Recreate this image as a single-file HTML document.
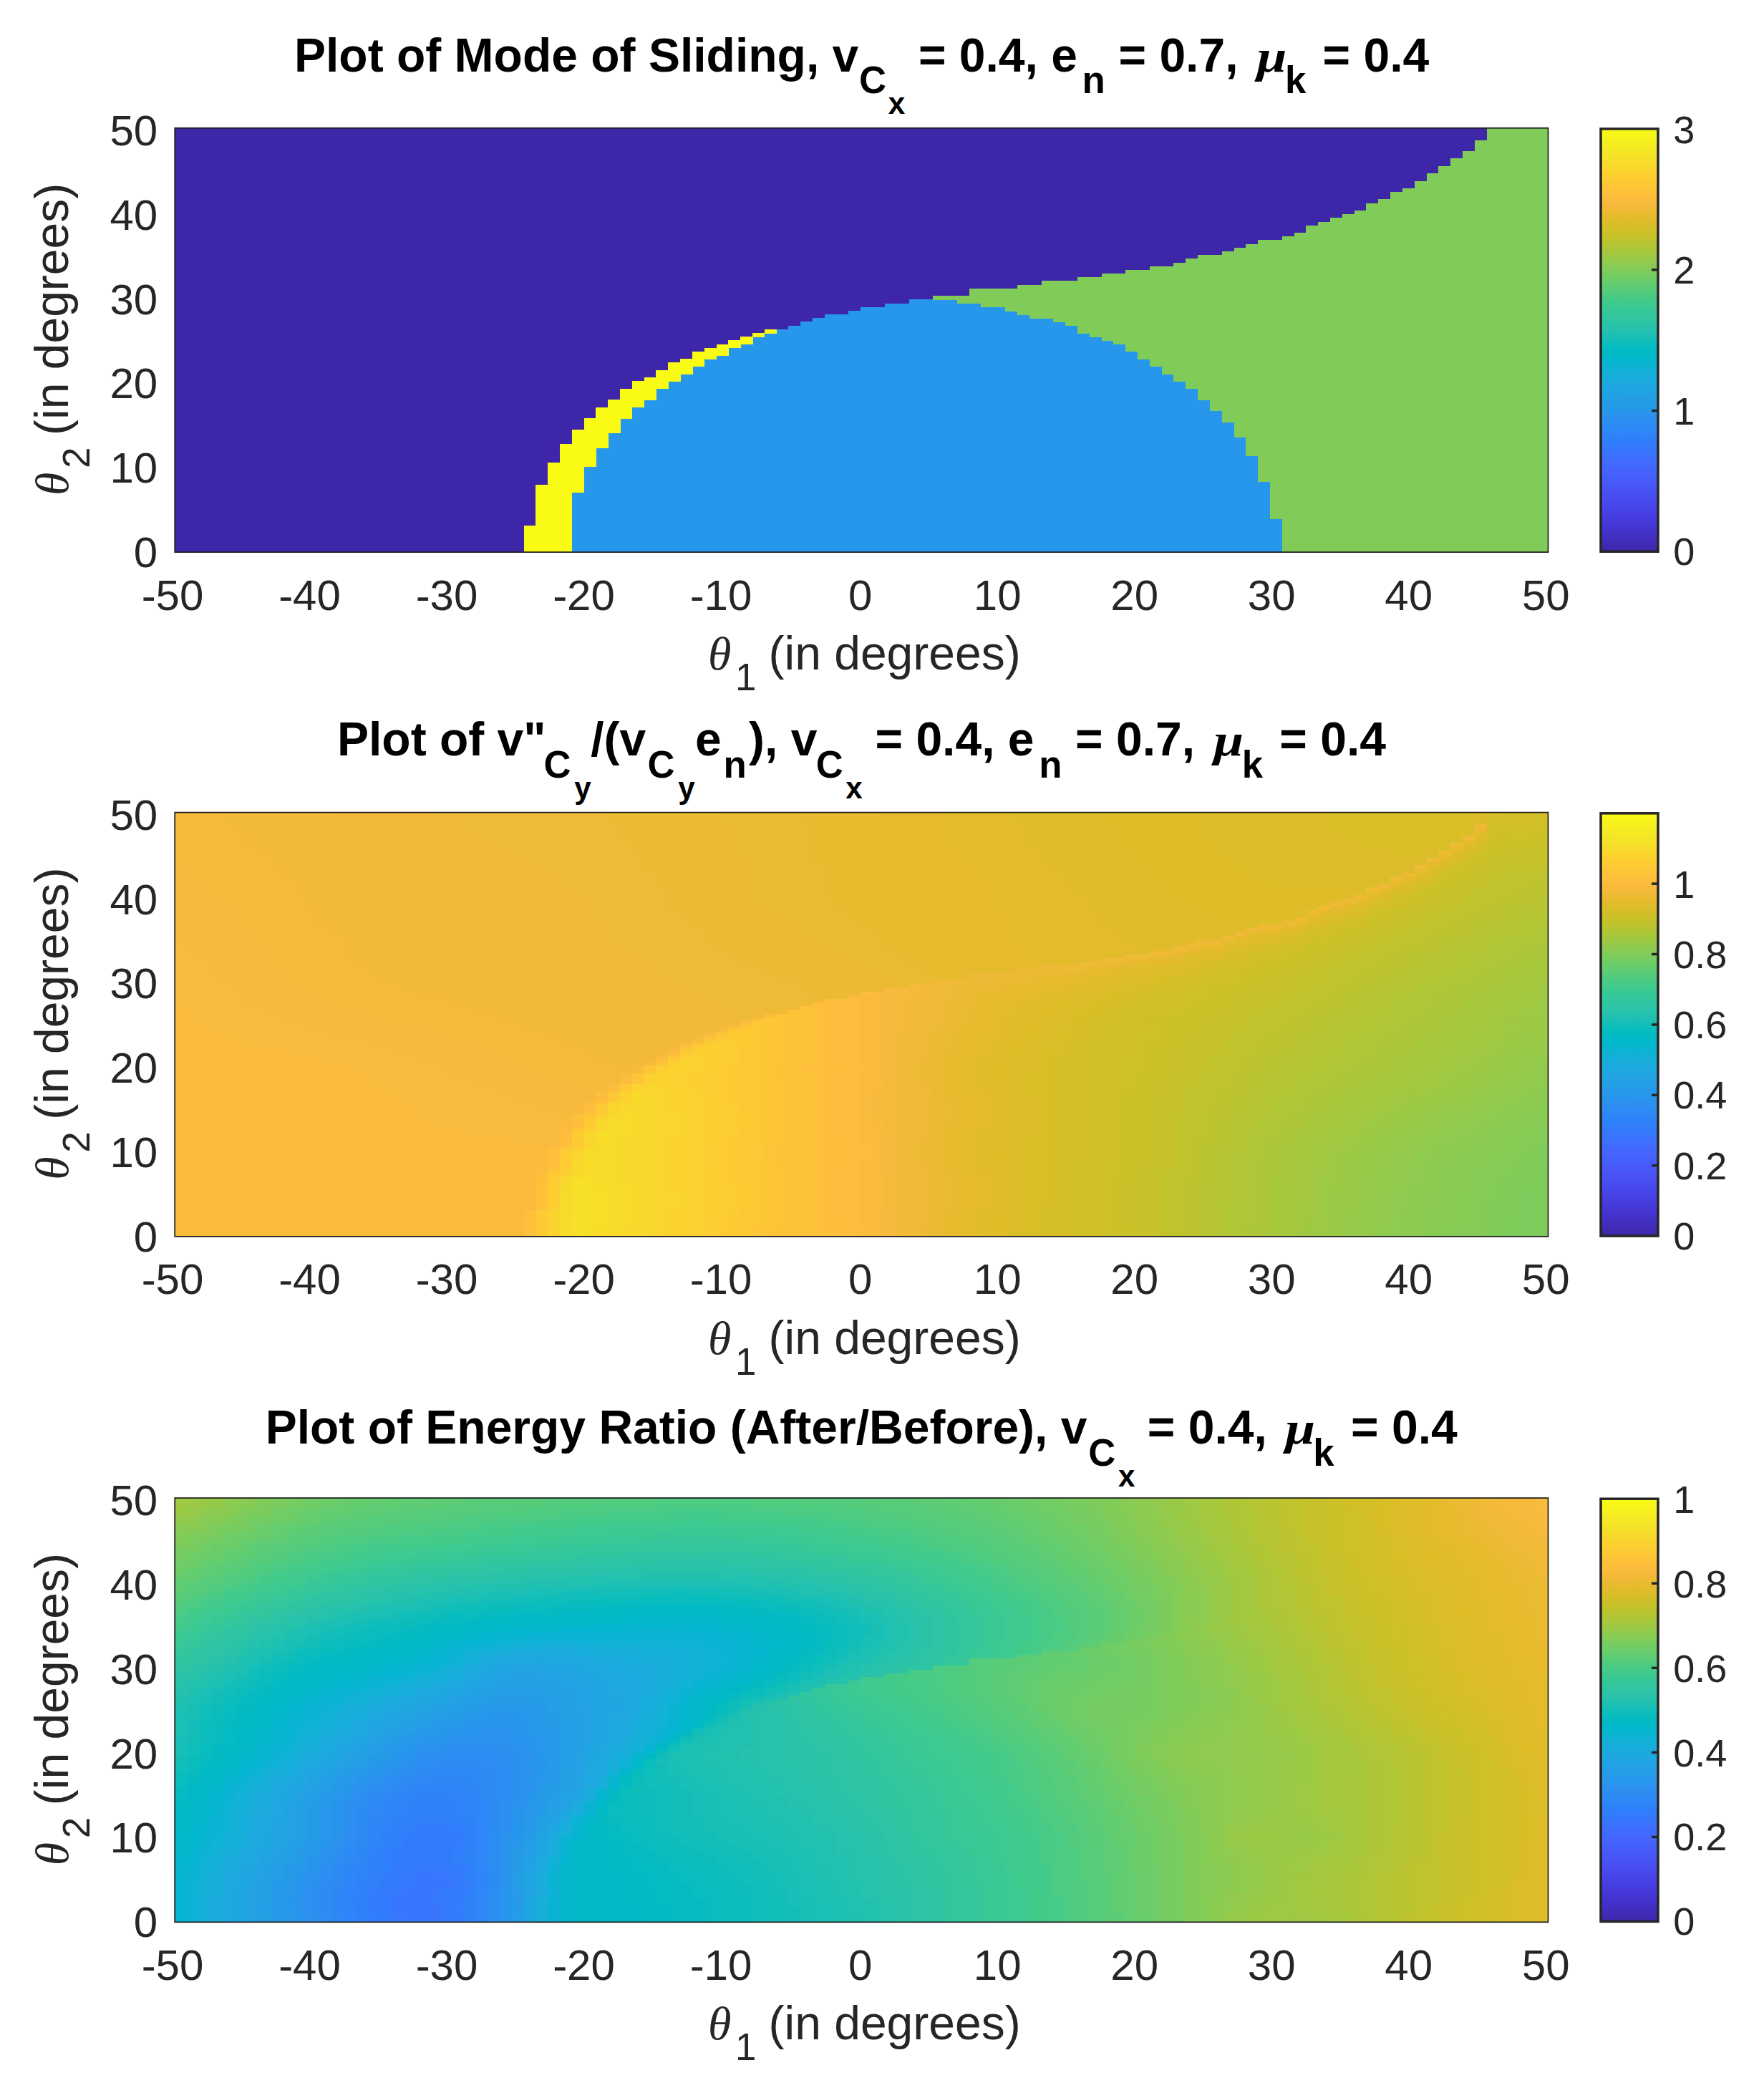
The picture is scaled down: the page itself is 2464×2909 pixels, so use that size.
<!DOCTYPE html>
<html><head><meta charset="utf-8"><title>Plots</title>
<style>html,body{margin:0;padding:0;background:#fff}svg{display:block}text{font-family:"Liberation Sans", sans-serif;white-space:pre}</style></head>
<body><svg width="2464" height="2909" viewBox="0 0 2464 2909">
<defs><linearGradient id="pg" x1="0" y1="1" x2="0" y2="0"><stop offset="0.0000" stop-color="#3e26a8"/><stop offset="0.0159" stop-color="#402ab4"/><stop offset="0.0317" stop-color="#422ec0"/><stop offset="0.0476" stop-color="#4332cb"/><stop offset="0.0635" stop-color="#4537d5"/><stop offset="0.0794" stop-color="#463cde"/><stop offset="0.0952" stop-color="#4741e5"/><stop offset="0.1111" stop-color="#4747eb"/><stop offset="0.1270" stop-color="#484df0"/><stop offset="0.1429" stop-color="#4852f4"/><stop offset="0.1587" stop-color="#4758f8"/><stop offset="0.1746" stop-color="#465efb"/><stop offset="0.1905" stop-color="#4563fd"/><stop offset="0.2063" stop-color="#4269fe"/><stop offset="0.2222" stop-color="#3e6fff"/><stop offset="0.2381" stop-color="#3875fe"/><stop offset="0.2540" stop-color="#327cfc"/><stop offset="0.2698" stop-color="#2f81fa"/><stop offset="0.2857" stop-color="#2e87f7"/><stop offset="0.3016" stop-color="#2d8cf3"/><stop offset="0.3175" stop-color="#2b91ef"/><stop offset="0.3333" stop-color="#2797eb"/><stop offset="0.3492" stop-color="#259be8"/><stop offset="0.3651" stop-color="#23a0e5"/><stop offset="0.3810" stop-color="#20a5e3"/><stop offset="0.3968" stop-color="#1ca9df"/><stop offset="0.4127" stop-color="#18addb"/><stop offset="0.4286" stop-color="#12b1d6"/><stop offset="0.4444" stop-color="#08b5d0"/><stop offset="0.4603" stop-color="#01b8ca"/><stop offset="0.4762" stop-color="#02bac3"/><stop offset="0.4921" stop-color="#0bbdbd"/><stop offset="0.5079" stop-color="#19bfb6"/><stop offset="0.5238" stop-color="#24c1ae"/><stop offset="0.5397" stop-color="#2cc4a7"/><stop offset="0.5556" stop-color="#31c69f"/><stop offset="0.5714" stop-color="#37c897"/><stop offset="0.5873" stop-color="#3fca8e"/><stop offset="0.6032" stop-color="#4acb84"/><stop offset="0.6190" stop-color="#57cc7a"/><stop offset="0.6349" stop-color="#64cd6f"/><stop offset="0.6508" stop-color="#72cd64"/><stop offset="0.6667" stop-color="#81cc59"/><stop offset="0.6825" stop-color="#8fcb4e"/><stop offset="0.6984" stop-color="#9dc943"/><stop offset="0.7143" stop-color="#abc739"/><stop offset="0.7302" stop-color="#b9c431"/><stop offset="0.7460" stop-color="#c5c22a"/><stop offset="0.7619" stop-color="#d1bf27"/><stop offset="0.7778" stop-color="#dcbd29"/><stop offset="0.7937" stop-color="#e6bb2d"/><stop offset="0.8095" stop-color="#f0ba36"/><stop offset="0.8254" stop-color="#f8ba3d"/><stop offset="0.8413" stop-color="#febe3c"/><stop offset="0.8571" stop-color="#fec338"/><stop offset="0.8730" stop-color="#fec934"/><stop offset="0.8889" stop-color="#fccf30"/><stop offset="0.9048" stop-color="#fad62d"/><stop offset="0.9206" stop-color="#f7dc2a"/><stop offset="0.9365" stop-color="#f5e327"/><stop offset="0.9524" stop-color="#f5e924"/><stop offset="0.9683" stop-color="#f6ef20"/><stop offset="0.9841" stop-color="#f7f51b"/><stop offset="1.0000" stop-color="#f9fb15"/></linearGradient></defs>
<rect width="2464" height="2909" fill="#fff"/>
<g shape-rendering="crispEdges"><path fill="#3e26a8" d="M243.9 734.43H732.11V771.3H243.9zM243.9 677.43H748.92V735.03H243.9zM243.9 646.34H765.74V678.03H243.9zM243.9 620.43H782.55V646.94H243.9zM243.9 599.71H799.36V621.03H243.9zM243.9 584.16H816.18V600.31H243.9zM243.9 568.62H832.99V584.76H243.9zM243.9 558.26H849.81V569.22H243.9zM243.9 542.71H866.62V558.86H243.9zM243.9 532.35H883.43V543.31H243.9zM243.9 527.17H900.25V532.95H243.9zM243.9 516.8H917.06V527.77H243.9zM243.9 506.44H933.88V517.4H243.9zM243.9 501.26H950.69V507.04H243.9zM243.9 490.89H967.5V501.86H243.9zM243.9 485.71H984.32V491.49H243.9zM243.9 480.53H1001.13V486.31H243.9zM243.9 475.35H1017.95V481.13H243.9zM243.9 470.17H1034.76V475.95H243.9zM243.9 464.99H1051.57V470.77H243.9zM243.9 459.81H1068.39V465.59H243.9zM243.9 454.62H1102.02V460.41H243.9zM243.9 449.44H1118.83V455.22H243.9zM243.9 444.26H1135.64V450.04H243.9zM243.9 439.08H1152.46V444.86H243.9zM243.9 433.9H1186.09V439.68H243.9zM243.9 428.72H1202.9V434.5H243.9zM243.9 423.53H1236.53V429.32H243.9zM243.9 418.35H1270.16V424.13H243.9zM243.9 413.17H1303.78V418.95H243.9zM243.9 402.81H1354.23V413.77H243.9zM243.9 397.63H1421.48V403.41H243.9zM243.9 392.44H1455.11V398.23H243.9zM243.9 387.26H1505.55V393.04H243.9zM243.9 382.08H1539.18V387.86H243.9zM243.9 376.9H1572.81V382.68H243.9zM243.9 371.72H1606.44V377.5H243.9zM243.9 366.54H1640.06V372.32H243.9zM243.9 361.36H1656.88V367.14H243.9zM243.9 356.17H1673.69V361.96H243.9zM243.9 350.99H1707.32V356.77H243.9zM243.9 345.81H1724.14V351.59H243.9zM243.9 340.63H1740.95V346.41H243.9zM243.9 335.45H1757.76V341.23H243.9zM243.9 330.27H1791.39V336.05H243.9zM243.9 325.08H1808.21V330.87H243.9zM243.9 314.72H1825.02V325.68H243.9zM243.9 309.54H1841.83V315.32H243.9zM243.9 304.36H1858.65V310.14H243.9zM243.9 299.18H1875.46V304.96H243.9zM243.9 293.99H1892.28V299.78H243.9zM243.9 283.63H1909.09V294.59H243.9zM243.9 278.45H1925.9V284.23H243.9zM243.9 268.09H1942.72V279.05H243.9zM243.9 262.91H1959.53V268.69H243.9zM243.9 252.54H1976.35V263.51H243.9zM243.9 242.18H1993.16V253.14H243.9zM243.9 231.82H2009.97V242.78H243.9zM243.9 221.45H2026.79V232.42H243.9zM243.9 211.09H2043.6V222.05H243.9zM243.9 195.54H2060.42V211.69H243.9zM243.9 178.5H2077.23V196.14H243.9z"/>
<path fill="#2797eb" d="M798.76 724.07H1791.39V771.3H798.76zM798.76 687.79H1774.58V724.67H798.76zM815.58 672.25H1774.58V688.39H815.58zM815.58 651.52H1757.76V672.85H815.58zM832.39 635.98H1757.76V652.12H832.39zM832.39 625.62H1740.95V636.58H832.39zM849.21 610.07H1740.95V626.22H849.21zM849.21 604.89H1724.14V610.67H849.21zM866.02 589.34H1724.14V605.49H866.02zM866.02 584.16H1707.32V589.94H866.02zM882.83 573.8H1707.32V584.76H882.83zM882.83 568.62H1690.51V574.4H882.83zM899.65 558.26H1690.51V569.22H899.65zM916.46 542.71H1673.69V558.86H916.46zM933.28 532.35H1656.88V543.31H933.28zM950.09 521.98H1640.06V532.95H950.09zM966.9 511.62H1623.25V522.58H966.9zM983.72 501.26H1606.44V512.22H983.72zM1000.53 496.08H1589.62V501.86H1000.53zM1017.35 490.89H1589.62V496.68H1017.35zM1017.35 485.71H1572.81V491.49H1017.35zM1034.16 480.53H1572.81V486.31H1034.16zM1050.97 475.35H1555.99V481.13H1050.97zM1050.97 470.17H1539.18V475.95H1050.97zM1067.79 464.99H1522.37V470.77H1067.79zM1084.6 459.81H1505.55V465.59H1084.6zM1101.42 454.62H1505.55V460.41H1101.42zM1118.23 449.44H1488.74V455.22H1118.23zM1135.04 444.26H1471.92V450.04H1135.04zM1151.86 439.08H1438.3V444.86H1151.86zM1185.49 433.9H1421.48V439.68H1185.49zM1202.3 428.72H1404.67V434.5H1202.3zM1235.93 423.53H1371.04V429.32H1235.93zM1269.56 418.35H1337.41V424.13H1269.56z"/>
<path fill="#81cc59" d="M1790.79 724.07H2162.8V771.3H1790.79zM1773.98 672.25H2162.8V724.67H1773.98zM1757.16 635.98H2162.8V672.85H1757.16zM1740.35 610.07H2162.8V636.58H1740.35zM1723.54 589.34H2162.8V610.67H1723.54zM1706.72 573.8H2162.8V589.94H1706.72zM1689.91 558.26H2162.8V574.4H1689.91zM1673.09 542.71H2162.8V558.86H1673.09zM1656.28 532.35H2162.8V543.31H1656.28zM1639.46 521.98H2162.8V532.95H1639.46zM1622.65 511.62H2162.8V522.58H1622.65zM1605.84 501.26H2162.8V512.22H1605.84zM1589.02 490.89H2162.8V501.86H1589.02zM1572.21 480.53H2162.8V491.49H1572.21zM1555.39 475.35H2162.8V481.13H1555.39zM1538.58 470.17H2162.8V475.95H1538.58zM1521.77 464.99H2162.8V470.77H1521.77zM1504.95 454.62H2162.8V465.59H1504.95zM1488.14 449.44H2162.8V455.22H1488.14zM1471.32 444.26H2162.8V450.04H1471.32zM1437.7 439.08H2162.8V444.86H1437.7zM1420.88 433.9H2162.8V439.68H1420.88zM1404.07 428.72H2162.8V434.5H1404.07zM1370.44 423.53H2162.8V429.32H1370.44zM1336.81 418.35H2162.8V424.13H1336.81zM1303.18 413.17H2162.8V418.95H1303.18zM1353.63 402.81H2162.8V413.77H1353.63zM1420.88 397.63H2162.8V403.41H1420.88zM1454.51 392.44H2162.8V398.23H1454.51zM1504.95 387.26H2162.8V393.04H1504.95zM1538.58 382.08H2162.8V387.86H1538.58zM1572.21 376.9H2162.8V382.68H1572.21zM1605.84 371.72H2162.8V377.5H1605.84zM1639.46 366.54H2162.8V372.32H1639.46zM1656.28 361.36H2162.8V367.14H1656.28zM1673.09 356.17H2162.8V361.96H1673.09zM1706.72 350.99H2162.8V356.77H1706.72zM1723.54 345.81H2162.8V351.59H1723.54zM1740.35 340.63H2162.8V346.41H1740.35zM1757.16 335.45H2162.8V341.23H1757.16zM1790.79 330.27H2162.8V336.05H1790.79zM1807.61 325.08H2162.8V330.87H1807.61zM1824.42 314.72H2162.8V325.68H1824.42zM1841.23 309.54H2162.8V315.32H1841.23zM1858.05 304.36H2162.8V310.14H1858.05zM1874.86 299.18H2162.8V304.96H1874.86zM1891.68 293.99H2162.8V299.78H1891.68zM1908.49 283.63H2162.8V294.59H1908.49zM1925.3 278.45H2162.8V284.23H1925.3zM1942.12 268.09H2162.8V279.05H1942.12zM1958.93 262.91H2162.8V268.69H1958.93zM1975.75 252.54H2162.8V263.51H1975.75zM1992.56 242.18H2162.8V253.14H1992.56zM2009.37 231.82H2162.8V242.78H2009.37zM2026.19 221.45H2162.8V232.42H2026.19zM2043 211.09H2162.8V222.05H2043zM2059.82 195.54H2162.8V211.69H2059.82zM2076.63 178.5H2162.8V196.14H2076.63z"/>
<path fill="#f9fb15" d="M731.51 734.43H799.36V771.3H731.51zM748.32 687.79H799.36V735.03H748.32zM748.32 677.43H816.18V688.39H748.32zM765.14 651.52H816.18V678.03H765.14zM765.14 646.34H832.99V652.12H765.14zM781.95 625.62H832.99V646.94H781.95zM781.95 620.43H849.81V626.22H781.95zM798.76 604.89H849.81V621.03H798.76zM798.76 599.71H866.62V605.49H798.76zM815.58 584.16H866.62V600.31H815.58zM832.39 568.62H883.43V584.76H832.39zM849.21 558.26H900.25V569.22H849.21zM866.02 542.71H917.06V558.86H866.02zM882.83 532.35H933.88V543.31H882.83zM899.65 527.17H950.69V532.95H899.65zM916.46 521.98H950.69V527.77H916.46zM916.46 516.8H967.5V522.58H916.46zM933.28 511.62H967.5V517.4H933.28zM933.28 506.44H984.32V512.22H933.28zM950.09 501.26H984.32V507.04H950.09zM966.9 496.08H1001.13V501.86H966.9zM966.9 490.89H1017.95V496.68H966.9zM983.72 485.71H1017.95V491.49H983.72zM1000.53 480.53H1034.76V486.31H1000.53zM1017.35 475.35H1051.57V481.13H1017.35zM1034.16 470.17H1051.57V475.95H1034.16zM1050.97 464.99H1068.39V470.77H1050.97zM1067.79 459.81H1085.2V465.59H1067.79z"/></g>
<rect x="244.2" y="178.8" width="1918.3" height="592.3" fill="none" stroke="#1c1c1c" stroke-width="1.7"/>
<text x="241" y="851.6" font-size="60.0" text-anchor="middle" fill="#262626">-50</text>
<text x="432.5" y="851.6" font-size="60.0" text-anchor="middle" fill="#262626">-40</text>
<text x="624" y="851.6" font-size="60.0" text-anchor="middle" fill="#262626">-30</text>
<text x="815.5" y="851.6" font-size="60.0" text-anchor="middle" fill="#262626">-20</text>
<text x="1007" y="851.6" font-size="60.0" text-anchor="middle" fill="#262626">-10</text>
<text x="1201.7" y="851.6" font-size="60.0" text-anchor="middle" fill="#262626">0</text>
<text x="1393.2" y="851.6" font-size="60.0" text-anchor="middle" fill="#262626">10</text>
<text x="1584.7" y="851.6" font-size="60.0" text-anchor="middle" fill="#262626">20</text>
<text x="1776.2" y="851.6" font-size="60.0" text-anchor="middle" fill="#262626">30</text>
<text x="1967.7" y="851.6" font-size="60.0" text-anchor="middle" fill="#262626">40</text>
<text x="2159.2" y="851.6" font-size="60.0" text-anchor="middle" fill="#262626">50</text>
<text x="220.2" y="792" font-size="60.0" text-anchor="end" fill="#262626">0</text>
<text x="220.2" y="674.2" font-size="60.0" text-anchor="end" fill="#262626">10</text>
<text x="220.2" y="556.4" font-size="60.0" text-anchor="end" fill="#262626">20</text>
<text x="220.2" y="438.6" font-size="60.0" text-anchor="end" fill="#262626">30</text>
<text x="220.2" y="320.8" font-size="60.0" text-anchor="end" fill="#262626">40</text>
<text x="220.2" y="203" font-size="60.0" text-anchor="end" fill="#262626">50</text>
<text font-size="66.0" fill="#262626"><tspan x="989" y="934.7" font-family="'Liberation Serif', serif" font-style="italic" font-size="66">θ</tspan><tspan x="1027" y="964.2" font-size="52.8">1</tspan><tspan x="1073.5" y="934.7">(in degrees)</tspan></text>
<g transform="translate(95.3 474.95) rotate(-90)"><text font-size="66.0" fill="#262626"><tspan x="-217" y="0" font-family="'Liberation Serif', serif" font-style="italic" font-size="66">θ</tspan><tspan x="-179" y="30" font-size="52.8">2</tspan><tspan x="-133" y="0">(in degrees)</tspan></text></g>
<rect x="2236" y="180" width="80" height="590.3" fill="url(#pg)"/>
<text x="2337.2" y="789.1" font-size="54.0" fill="#262626">0</text>
<path d="M2316 573.53h-9" stroke="#262626" stroke-width="3.5"/>
<text x="2337.2" y="592.63" font-size="54.0" fill="#262626">1</text>
<path d="M2316 376.77h-9" stroke="#262626" stroke-width="3.5"/>
<text x="2337.2" y="396.17" font-size="54.0" fill="#262626">2</text>
<text x="2337.2" y="199.7" font-size="54.0" fill="#262626">3</text>
<rect x="2236" y="180" width="80" height="590.3" fill="none" stroke="#262626" stroke-width="3.5"/>
<text font-weight="bold" fill="#000" font-size="66.0"><tspan x="411" y="99.5" font-size="66">Plot of Mode of Sliding, v</tspan><tspan x="1200.02" y="130.3" font-size="52.8">C</tspan><tspan x="1240.84" y="159.2" font-size="42.2">x</tspan><tspan x="1282.9" y="99.5" font-size="66">= 0.4, e</tspan><tspan x="1511.4" y="130.3" font-size="52.8">n</tspan><tspan x="1562.5" y="99.5" font-size="66">= 0.7,</tspan><tspan x="1795" y="130.3" font-size="52.8">k</tspan><tspan x="1847.6" y="99.5" font-size="66">= 0.4</tspan></text><text transform="translate(1755.5 99.5) scale(1.14 0.95)" style="font-family:'Liberation Serif',serif" font-weight="bold" font-style="italic" font-size="66" fill="#000">μ</text>
<g shape-rendering="crispEdges"><path fill="#7dcc5b" d="M2110.26 1700.59H2162.8V1727.1H2110.26zM2127.07 1653.96H2162.8V1701.19H2127.07zM2143.89 1633.23H2162.8V1654.56H2143.89z"/>
<path fill="#81cc59" d="M2076.63 1700.59H2110.86V1727.1H2076.63zM2076.63 1674.68H2127.67V1701.19H2076.63zM2093.44 1653.96H2127.67V1675.28H2093.44zM2093.44 1643.59H2144.49V1654.56H2093.44zM2110.26 1633.23H2144.49V1644.19H2110.26zM2110.26 1628.05H2162.8V1633.83H2110.26zM2127.07 1612.51H2162.8V1628.65H2127.07zM2143.89 1596.96H2162.8V1613.11H2143.89z"/>
<path fill="#84cc56" d="M2026.19 1710.96H2077.23V1727.1H2026.19zM2043 1674.68H2077.23V1711.56H2043zM2043 1659.14H2094.04V1675.28H2043zM2059.82 1643.59H2094.04V1659.74H2059.82zM2059.82 1633.23H2110.86V1644.19H2059.82zM2076.63 1628.05H2110.86V1633.83H2076.63zM2076.63 1617.69H2127.67V1628.65H2076.63zM2093.44 1612.51H2127.67V1618.29H2093.44zM2093.44 1607.32H2144.49V1613.11H2093.44zM2110.26 1596.96H2144.49V1607.92H2110.26zM2110.26 1591.78H2162.8V1597.56H2110.26zM2127.07 1581.42H2162.8V1592.38H2127.07zM2143.89 1571.05H2162.8V1582.02H2143.89z"/>
<path fill="#88cb53" d="M1992.56 1710.96H2026.79V1727.1H1992.56zM1992.56 1695.41H2043.6V1711.56H1992.56zM2009.37 1659.14H2043.6V1696.01H2009.37zM2009.37 1653.96H2060.42V1659.74H2009.37zM2026.19 1633.23H2060.42V1654.56H2026.19zM2026.19 1628.05H2077.23V1633.83H2026.19zM2043 1617.69H2077.23V1628.65H2043zM2043 1612.51H2094.04V1618.29H2043zM2059.82 1607.32H2094.04V1613.11H2059.82zM2059.82 1602.14H2110.86V1607.92H2059.82zM2076.63 1591.78H2110.86V1602.74H2076.63zM2076.63 1586.6H2127.67V1592.38H2076.63zM2093.44 1581.42H2127.67V1587.2H2093.44zM2093.44 1576.23H2144.49V1582.02H2093.44zM2110.26 1571.05H2144.49V1576.83H2110.26zM2110.26 1565.87H2162.8V1571.65H2110.26zM2127.07 1560.69H2162.8V1566.47H2127.07zM2143.89 1550.33H2162.8V1561.29H2143.89z"/>
<path fill="#8bcb51" d="M1958.93 1695.41H1993.16V1727.1H1958.93zM1975.75 1653.96H2009.97V1696.01H1975.75zM1992.56 1628.05H2026.79V1654.56H1992.56zM1992.56 1622.87H2043.6V1628.65H1992.56zM2009.37 1612.51H2043.6V1623.47H2009.37zM2009.37 1607.32H2060.42V1613.11H2009.37zM2026.19 1602.14H2060.42V1607.92H2026.19zM2026.19 1596.96H2077.23V1602.74H2026.19zM2043 1586.6H2077.23V1597.56H2043zM2059.82 1576.23H2094.04V1587.2H2059.82zM2076.63 1565.87H2110.86V1576.83H2076.63zM2093.44 1560.69H2127.67V1566.47H2093.44zM2093.44 1555.51H2144.49V1561.29H2093.44zM2110.26 1550.33H2144.49V1556.11H2110.26zM2110.26 1545.14H2162.8V1550.93H2110.26zM2127.07 1534.78H2162.8V1545.74H2127.07zM2143.89 1524.42H2162.8V1535.38H2143.89z"/>
<path fill="#8fcb4e" d="M1925.3 1705.77H1959.53V1727.1H1925.3zM1942.12 1695.41H1959.53V1706.37H1942.12zM1942.12 1653.96H1976.35V1696.01H1942.12zM1958.93 1622.87H1993.16V1654.56H1958.93zM1975.75 1607.32H2009.97V1623.47H1975.75zM1992.56 1596.96H2026.79V1607.92H1992.56zM1992.56 1591.78H2043.6V1597.56H1992.56zM2009.37 1586.6H2043.6V1592.38H2009.37zM2009.37 1581.42H2060.42V1587.2H2009.37zM2026.19 1576.23H2060.42V1582.02H2026.19zM2026.19 1571.05H2077.23V1576.83H2026.19zM2043 1565.87H2077.23V1571.65H2043zM2043 1560.69H2094.04V1566.47H2043zM2059.82 1555.51H2094.04V1561.29H2059.82zM2076.63 1545.14H2110.86V1556.11H2076.63zM2093.44 1534.78H2127.67V1545.74H2093.44zM2110.26 1524.42H2144.49V1535.38H2110.26zM2127.07 1514.06H2162.8V1525.02H2127.07zM2143.89 1503.69H2162.8V1514.66H2143.89z"/>
<path fill="#93ca4b" d="M1908.49 1705.77H1925.9V1727.1H1908.49zM1908.49 1669.5H1942.72V1706.37H1908.49zM1925.3 1653.96H1942.72V1670.1H1925.3zM1925.3 1628.05H1959.53V1654.56H1925.3zM1942.12 1622.87H1959.53V1628.65H1942.12zM1942.12 1607.32H1976.35V1623.47H1942.12zM1958.93 1591.78H1993.16V1607.92H1958.93zM1975.75 1581.42H2009.97V1592.38H1975.75zM1992.56 1571.05H2026.79V1582.02H1992.56zM2009.37 1560.69H2043.6V1571.65H2009.37zM2026.19 1555.51H2060.42V1561.29H2026.19zM2026.19 1550.33H2077.23V1556.11H2026.19zM2043 1545.14H2077.23V1550.93H2043zM2059.82 1534.78H2094.04V1545.74H2059.82zM2076.63 1524.42H2110.86V1535.38H2076.63zM2093.44 1514.06H2127.67V1525.02H2093.44zM2110.26 1503.69H2144.49V1514.66H2110.26zM2127.07 1493.33H2162.8V1504.29H2127.07zM2143.89 1477.78H2162.8V1493.93H2143.89z"/>
<path fill="#96ca48" d="M1874.86 1690.23H1909.09V1727.1H1874.86zM1891.68 1669.5H1909.09V1690.83H1891.68zM1891.68 1638.41H1925.9V1670.1H1891.68zM1908.49 1628.05H1925.9V1639.01H1908.49zM1908.49 1607.32H1942.72V1628.65H1908.49zM1925.3 1591.78H1959.53V1607.92H1925.3zM1942.12 1581.42H1976.35V1592.38H1942.12zM1958.93 1571.05H1993.16V1582.02H1958.93zM1975.75 1560.69H2009.97V1571.65H1975.75zM1992.56 1550.33H2026.79V1561.29H1992.56zM2009.37 1545.14H2043.6V1550.93H2009.37zM2009.37 1539.96H2060.42V1545.74H2009.37zM2026.19 1534.78H2060.42V1540.56H2026.19zM2043 1524.42H2077.23V1535.38H2043zM2059.82 1514.06H2094.04V1525.02H2059.82zM2076.63 1503.69H2110.86V1514.66H2076.63zM2093.44 1493.33H2127.67V1504.29H2093.44zM2110.26 1477.78H2144.49V1493.93H2110.26zM2127.07 1467.42H2162.8V1478.38H2127.07zM2143.89 1451.88H2162.8V1468.02H2143.89z"/>
<path fill="#9ac946" d="M1858.05 1690.23H1875.46V1727.1H1858.05zM1858.05 1659.14H1892.28V1690.83H1858.05zM1874.86 1638.41H1892.28V1659.74H1874.86zM1874.86 1617.69H1909.09V1639.01H1874.86zM1891.68 1607.32H1909.09V1618.29H1891.68zM1891.68 1596.96H1925.9V1607.92H1891.68zM1908.49 1591.78H1925.9V1597.56H1908.49zM1908.49 1581.42H1942.72V1592.38H1908.49zM1925.3 1571.05H1959.53V1582.02H1925.3zM1942.12 1560.69H1976.35V1571.65H1942.12zM1958.93 1550.33H1993.16V1561.29H1958.93zM1975.75 1539.96H2009.97V1550.93H1975.75zM1992.56 1534.78H2026.79V1540.56H1992.56zM2009.37 1524.42H2043.6V1535.38H2009.37zM2026.19 1514.06H2060.42V1525.02H2026.19zM2043 1503.69H2077.23V1514.66H2043zM2059.82 1493.33H2094.04V1504.29H2059.82zM2076.63 1477.78H2110.86V1493.93H2076.63zM2093.44 1467.42H2127.67V1478.38H2093.44zM2110.26 1451.88H2144.49V1468.02H2110.26zM2127.07 1436.33H2162.8V1452.48H2127.07zM2143.89 1425.97H2162.8V1436.93H2143.89z"/>
<path fill="#9dc943" d="M1824.42 1700.59H1858.65V1727.1H1824.42zM1841.23 1659.14H1858.65V1701.19H1841.23zM1841.23 1633.23H1875.46V1659.74H1841.23zM1858.05 1617.69H1875.46V1633.83H1858.05zM1858.05 1602.14H1892.28V1618.29H1858.05zM1874.86 1596.96H1892.28V1602.74H1874.86zM1874.86 1586.6H1909.09V1597.56H1874.86zM1891.68 1581.42H1909.09V1587.2H1891.68zM1891.68 1576.23H1925.9V1582.02H1891.68zM1908.49 1571.05H1925.9V1576.83H1908.49zM1908.49 1560.69H1942.72V1571.65H1908.49zM1925.3 1550.33H1959.53V1561.29H1925.3zM1942.12 1539.96H1976.35V1550.93H1942.12zM1958.93 1534.78H1993.16V1540.56H1958.93zM1958.93 1529.6H2009.97V1535.38H1958.93zM1975.75 1524.42H2009.97V1530.2H1975.75zM1992.56 1514.06H2026.79V1525.02H1992.56zM2009.37 1503.69H2043.6V1514.66H2009.37zM2026.19 1493.33H2060.42V1504.29H2026.19zM2043 1477.78H2077.23V1493.93H2043zM2059.82 1467.42H2094.04V1478.38H2059.82zM2076.63 1451.88H2110.86V1468.02H2076.63zM2093.44 1436.33H2127.67V1452.48H2093.44zM2110.26 1425.97H2144.49V1436.93H2110.26zM2110.26 1420.79H2162.8V1426.57H2110.26zM2127.07 1410.42H2162.8V1421.39H2127.07zM2143.89 1394.88H2162.8V1411.02H2143.89z"/>
<path fill="#a1c840" d="M1807.61 1700.59H1825.02V1727.1H1807.61zM1807.61 1679.87H1841.83V1701.19H1807.61zM1824.42 1633.23H1841.83V1680.47H1824.42zM1824.42 1617.69H1858.65V1633.83H1824.42zM1841.23 1602.14H1858.65V1618.29H1841.23zM1841.23 1591.78H1875.46V1602.74H1841.23zM1858.05 1586.6H1875.46V1592.38H1858.05zM1858.05 1576.23H1892.28V1587.2H1858.05zM1874.86 1565.87H1909.09V1576.83H1874.86zM1891.68 1560.69H1909.09V1566.47H1891.68zM1891.68 1555.51H1925.9V1561.29H1891.68zM1908.49 1550.33H1925.9V1556.11H1908.49zM1908.49 1545.14H1942.72V1550.93H1908.49zM1925.3 1539.96H1942.72V1545.74H1925.3zM1925.3 1534.78H1959.53V1540.56H1925.3zM1942.12 1529.6H1959.53V1535.38H1942.12zM1942.12 1524.42H1976.35V1530.2H1942.12zM1958.93 1514.06H1993.16V1525.02H1958.93zM1975.75 1503.69H2009.97V1514.66H1975.75zM1992.56 1493.33H2026.79V1504.29H1992.56zM2009.37 1477.78H2043.6V1493.93H2009.37zM2026.19 1467.42H2060.42V1478.38H2026.19zM2043 1451.88H2077.23V1468.02H2043zM2059.82 1436.33H2094.04V1452.48H2059.82zM2076.63 1420.79H2110.86V1436.93H2076.63zM2093.44 1410.42H2127.67V1421.39H2093.44zM2110.26 1394.88H2144.49V1411.02H2110.26zM2127.07 1384.52H2162.8V1395.48H2127.07zM2143.89 1374.15H2162.8V1385.12H2143.89z"/>
<path fill="#a4c83e" d="M1790.79 1679.87H1808.21V1727.1H1790.79zM1790.79 1659.14H1825.02V1680.47H1790.79zM1807.61 1617.69H1825.02V1659.74H1807.61zM1807.61 1607.32H1841.83V1618.29H1807.61zM1824.42 1591.78H1841.83V1607.92H1824.42zM1824.42 1586.6H1858.65V1592.38H1824.42zM1841.23 1576.23H1858.65V1587.2H1841.23zM1841.23 1571.05H1875.46V1576.83H1841.23zM1858.05 1565.87H1875.46V1571.65H1858.05zM1858.05 1555.51H1892.28V1566.47H1858.05zM1874.86 1545.14H1909.09V1556.11H1874.86zM1891.68 1534.78H1925.9V1545.74H1891.68zM1908.49 1524.42H1942.72V1535.38H1908.49zM1925.3 1514.06H1959.53V1525.02H1925.3zM1942.12 1503.69H1976.35V1514.66H1942.12zM1958.93 1493.33H1993.16V1504.29H1958.93zM1975.75 1477.78H2009.97V1493.93H1975.75zM1992.56 1467.42H2026.79V1478.38H1992.56zM2009.37 1451.88H2043.6V1468.02H2009.37zM2026.19 1436.33H2060.42V1452.48H2026.19zM2043 1420.79H2077.23V1436.93H2043zM2059.82 1410.42H2094.04V1421.39H2059.82zM2076.63 1394.88H2110.86V1411.02H2076.63zM2093.44 1384.52H2127.67V1395.48H2093.44zM2110.26 1374.15H2144.49V1385.12H2110.26zM2127.07 1363.79H2162.8V1374.75H2127.07zM2143.89 1353.43H2162.8V1364.39H2143.89z"/>
<path fill="#a7c73c" d="M1773.98 1659.14H1791.39V1727.1H1773.98zM1773.98 1638.41H1808.21V1659.74H1773.98zM1790.79 1607.32H1808.21V1639.01H1790.79zM1790.79 1596.96H1825.02V1607.92H1790.79zM1807.61 1586.6H1825.02V1597.56H1807.61zM1807.61 1576.23H1841.83V1587.2H1807.61zM1824.42 1571.05H1841.83V1576.83H1824.42zM1824.42 1560.69H1858.65V1571.65H1824.42zM1841.23 1555.51H1858.65V1561.29H1841.23zM1841.23 1550.33H1875.46V1556.11H1841.23zM1858.05 1545.14H1875.46V1550.93H1858.05zM1858.05 1534.78H1892.28V1545.74H1858.05zM1874.86 1524.42H1909.09V1535.38H1874.86zM1891.68 1514.06H1925.9V1525.02H1891.68zM1908.49 1503.69H1942.72V1514.66H1908.49zM1925.3 1493.33H1959.53V1504.29H1925.3zM1942.12 1477.78H1976.35V1493.93H1942.12zM1958.93 1467.42H1993.16V1478.38H1958.93zM1975.75 1451.88H2009.97V1468.02H1975.75zM1992.56 1436.33H2026.79V1452.48H1992.56zM2009.37 1420.79H2043.6V1436.93H2009.37zM2026.19 1410.42H2060.42V1421.39H2026.19zM2043 1394.88H2077.23V1411.02H2043zM2059.82 1384.52H2094.04V1395.48H2059.82zM2076.63 1374.15H2110.86V1385.12H2076.63zM2093.44 1363.79H2127.67V1374.75H2093.44zM2110.26 1353.43H2144.49V1364.39H2110.26zM2127.07 1343.06H2162.8V1354.03H2127.07zM2143.89 1337.88H2162.8V1343.66H2143.89z"/>
<path fill="#abc739" d="M1740.35 1716.14H1774.58V1727.1H1740.35zM1757.16 1638.41H1774.58V1716.74H1757.16zM1757.16 1622.87H1791.39V1639.01H1757.16zM1773.98 1596.96H1791.39V1623.47H1773.98zM1773.98 1591.78H1808.21V1597.56H1773.98zM1790.79 1576.23H1808.21V1592.38H1790.79zM1790.79 1571.05H1825.02V1576.83H1790.79zM1807.61 1560.69H1825.02V1571.65H1807.61zM1807.61 1555.51H1841.83V1561.29H1807.61zM1824.42 1550.33H1841.83V1556.11H1824.42zM1824.42 1539.96H1858.65V1550.93H1824.42zM1841.23 1534.78H1858.65V1540.56H1841.23zM1841.23 1524.42H1875.46V1535.38H1841.23zM1858.05 1514.06H1892.28V1525.02H1858.05zM1874.86 1503.69H1909.09V1514.66H1874.86zM1891.68 1493.33H1925.9V1504.29H1891.68zM1891.68 1488.15H1942.72V1493.93H1891.68zM1908.49 1477.78H1942.72V1488.75H1908.49zM1925.3 1467.42H1959.53V1478.38H1925.3zM1925.3 1462.24H1976.35V1468.02H1925.3zM1942.12 1451.88H1976.35V1462.84H1942.12zM1958.93 1436.33H1993.16V1452.48H1958.93zM1975.75 1420.79H2009.97V1436.93H1975.75zM1992.56 1410.42H2026.79V1421.39H1992.56zM2009.37 1394.88H2043.6V1411.02H2009.37zM2026.19 1384.52H2060.42V1395.48H2026.19zM2043 1374.15H2077.23V1385.12H2043zM2059.82 1363.79H2094.04V1374.75H2059.82zM2076.63 1353.43H2110.86V1364.39H2076.63zM2093.44 1343.06H2127.67V1354.03H2093.44zM2110.26 1337.88H2144.49V1343.66H2110.26zM2110.26 1332.7H2162.8V1338.48H2110.26zM2127.07 1327.52H2162.8V1333.3H2127.07zM2143.89 1317.16H2162.8V1328.12H2143.89z"/>
<path fill="#aec637" d="M1723.54 1716.14H1740.95V1727.1H1723.54zM1723.54 1700.59H1757.76V1716.74H1723.54zM1740.35 1622.87H1757.76V1701.19H1740.35zM1740.35 1612.51H1774.58V1623.47H1740.35zM1757.16 1591.78H1774.58V1613.11H1757.16zM1757.16 1581.42H1791.39V1592.38H1757.16zM1773.98 1571.05H1791.39V1582.02H1773.98zM1773.98 1560.69H1808.21V1571.65H1773.98zM1790.79 1555.51H1808.21V1561.29H1790.79zM1790.79 1545.14H1825.02V1556.11H1790.79zM1807.61 1539.96H1825.02V1545.74H1807.61zM1807.61 1529.6H1841.83V1540.56H1807.61zM1824.42 1524.42H1841.83V1530.2H1824.42zM1824.42 1514.06H1858.65V1525.02H1824.42zM1841.23 1503.69H1875.46V1514.66H1841.23zM1858.05 1488.15H1892.28V1504.29H1858.05zM1874.86 1477.78H1909.09V1488.75H1874.86zM1891.68 1462.24H1925.9V1478.38H1891.68zM1908.49 1451.88H1942.72V1462.84H1908.49zM1925.3 1436.33H1959.53V1452.48H1925.3zM1942.12 1420.79H1976.35V1436.93H1942.12zM1958.93 1410.42H1993.16V1421.39H1958.93zM1975.75 1394.88H2009.97V1411.02H1975.75zM1992.56 1384.52H2026.79V1395.48H1992.56zM2009.37 1374.15H2043.6V1385.12H2009.37zM2026.19 1363.79H2060.42V1374.75H2026.19zM2043 1353.43H2077.23V1364.39H2043zM2059.82 1343.06H2094.04V1354.03H2059.82zM2076.63 1332.7H2110.86V1343.66H2076.63zM2093.44 1327.52H2127.67V1333.3H2093.44zM2110.26 1317.16H2144.49V1328.12H2110.26zM2127.07 1311.97H2162.8V1317.76H2127.07zM2143.89 1301.61H2162.8V1312.57H2143.89z"/>
<path fill="#b1c635" d="M1706.72 1700.59H1724.14V1727.1H1706.72zM1706.72 1679.87H1740.95V1701.19H1706.72zM1723.54 1612.51H1740.95V1680.47H1723.54zM1723.54 1607.32H1757.76V1613.11H1723.54zM1740.35 1581.42H1757.76V1607.92H1740.35zM1740.35 1576.23H1774.58V1582.02H1740.35zM1757.16 1560.69H1774.58V1576.83H1757.16zM1757.16 1555.51H1791.39V1561.29H1757.16zM1773.98 1545.14H1791.39V1556.11H1773.98zM1773.98 1534.78H1808.21V1545.74H1773.98zM1790.79 1529.6H1808.21V1535.38H1790.79zM1790.79 1519.24H1825.02V1530.2H1790.79zM1807.61 1514.06H1825.02V1519.84H1807.61zM1807.61 1503.69H1841.83V1514.66H1807.61zM1824.42 1488.15H1858.65V1504.29H1824.42zM1841.23 1477.78H1875.46V1488.75H1841.23zM1858.05 1462.24H1892.28V1478.38H1858.05zM1874.86 1451.88H1909.09V1462.84H1874.86zM1891.68 1436.33H1925.9V1452.48H1891.68zM1908.49 1420.79H1942.72V1436.93H1908.49zM1925.3 1410.42H1959.53V1421.39H1925.3zM1942.12 1394.88H1976.35V1411.02H1942.12zM1958.93 1384.52H1993.16V1395.48H1958.93zM1975.75 1374.15H2009.97V1385.12H1975.75zM1992.56 1363.79H2026.79V1374.75H1992.56zM2009.37 1353.43H2043.6V1364.39H2009.37zM2026.19 1343.06H2060.42V1354.03H2026.19zM2043 1332.7H2077.23V1343.66H2043zM2059.82 1327.52H2094.04V1333.3H2059.82zM2076.63 1317.16H2110.86V1328.12H2076.63zM2093.44 1311.97H2127.67V1317.76H2093.44zM2093.44 1306.79H2144.49V1312.57H2093.44zM2110.26 1301.61H2144.49V1307.39H2110.26zM2127.07 1291.25H2162.8V1302.21H2127.07zM2143.89 1286.07H2162.8V1291.85H2143.89z"/>
<path fill="#b5c533" d="M1689.91 1679.87H1707.32V1727.1H1689.91zM1689.91 1664.32H1724.14V1680.47H1689.91zM1706.72 1607.32H1724.14V1664.92H1706.72zM1706.72 1602.14H1740.95V1607.92H1706.72zM1723.54 1576.23H1740.95V1602.74H1723.54zM1723.54 1571.05H1757.76V1576.83H1723.54zM1740.35 1555.51H1757.76V1571.65H1740.35zM1740.35 1545.14H1774.58V1556.11H1740.35zM1757.16 1534.78H1774.58V1545.74H1757.16zM1757.16 1524.42H1791.39V1535.38H1757.16zM1773.98 1519.24H1791.39V1525.02H1773.98zM1773.98 1508.87H1808.21V1519.84H1773.98zM1790.79 1503.69H1808.21V1509.47H1790.79zM1790.79 1488.15H1825.02V1504.29H1790.79zM1807.61 1477.78H1841.83V1488.75H1807.61zM1824.42 1462.24H1858.65V1478.38H1824.42zM1841.23 1451.88H1875.46V1462.84H1841.23zM1841.23 1446.69H1892.28V1452.48H1841.23zM1858.05 1436.33H1892.28V1447.29H1858.05zM1874.86 1420.79H1909.09V1436.93H1874.86zM1891.68 1410.42H1925.9V1421.39H1891.68zM1908.49 1400.06H1942.72V1411.02H1908.49zM1925.3 1394.88H1942.72V1400.66H1925.3zM1925.3 1384.52H1959.53V1395.48H1925.3zM1942.12 1374.15H1976.35V1385.12H1942.12zM1958.93 1363.79H1993.16V1374.75H1958.93zM1975.75 1353.43H2009.97V1364.39H1975.75zM1992.56 1343.06H2026.79V1354.03H1992.56zM2009.37 1332.7H2043.6V1343.66H2009.37zM2026.19 1327.52H2060.42V1333.3H2026.19zM2043 1317.16H2077.23V1328.12H2043zM2059.82 1306.79H2094.04V1317.76H2059.82zM2076.63 1301.61H2110.86V1307.39H2076.63zM2093.44 1291.25H2127.67V1302.21H2093.44zM2110.26 1286.07H2144.49V1291.85H2110.26zM2127.07 1275.7H2162.8V1286.67H2127.07zM2143.89 1270.52H2162.8V1276.3H2143.89z"/>
<path fill="#b8c431" d="M1673.09 1664.32H1690.51V1727.1H1673.09zM1673.09 1653.96H1707.32V1664.92H1673.09zM1689.91 1602.14H1707.32V1654.56H1689.91zM1689.91 1596.96H1724.14V1602.74H1689.91zM1706.72 1571.05H1724.14V1597.56H1706.72zM1706.72 1560.69H1740.95V1571.65H1706.72zM1723.54 1545.14H1740.95V1561.29H1723.54zM1723.54 1534.78H1757.76V1545.74H1723.54zM1740.35 1524.42H1757.76V1535.38H1740.35zM1740.35 1514.06H1774.58V1525.02H1740.35zM1757.16 1508.87H1774.58V1514.66H1757.16zM1757.16 1493.33H1791.39V1509.47H1757.16zM1773.98 1488.15H1791.39V1493.93H1773.98zM1773.98 1477.78H1808.21V1488.75H1773.98zM1790.79 1462.24H1825.02V1478.38H1790.79zM1807.61 1446.69H1841.83V1462.84H1807.61zM1824.42 1436.33H1858.65V1447.29H1824.42zM1841.23 1420.79H1875.46V1436.93H1841.23zM1858.05 1410.42H1892.28V1421.39H1858.05zM1874.86 1400.06H1909.09V1411.02H1874.86zM1891.68 1384.52H1925.9V1400.66H1891.68zM1908.49 1374.15H1942.72V1385.12H1908.49zM1925.3 1363.79H1959.53V1374.75H1925.3zM1942.12 1353.43H1976.35V1364.39H1942.12zM1958.93 1343.06H1993.16V1354.03H1958.93zM1975.75 1332.7H2009.97V1343.66H1975.75zM1992.56 1327.52H2026.79V1333.3H1992.56zM2009.37 1317.16H2043.6V1328.12H2009.37zM2026.19 1306.79H2060.42V1317.76H2026.19zM2043 1301.61H2077.23V1307.39H2043zM2059.82 1291.25H2094.04V1302.21H2059.82zM2076.63 1286.07H2110.86V1291.85H2076.63zM2093.44 1275.7H2127.67V1286.67H2093.44zM2110.26 1270.52H2144.49V1276.3H2110.26zM2110.26 1265.34H2162.8V1271.12H2110.26zM2127.07 1260.16H2162.8V1265.94H2127.07zM2143.89 1249.79H2162.8V1260.76H2143.89z"/>
<path fill="#bbc42f" d="M1656.28 1653.96H1673.69V1727.1H1656.28zM1656.28 1648.78H1690.51V1654.56H1656.28zM1673.09 1596.96H1690.51V1649.38H1673.09zM1673.09 1591.78H1707.32V1597.56H1673.09zM1689.91 1560.69H1707.32V1592.38H1689.91zM1689.91 1550.33H1724.14V1561.29H1689.91zM1706.72 1534.78H1724.14V1550.93H1706.72zM1706.72 1524.42H1740.95V1535.38H1706.72zM1723.54 1514.06H1740.95V1525.02H1723.54zM1723.54 1498.51H1757.76V1514.66H1723.54zM1740.35 1493.33H1757.76V1499.11H1740.35zM1740.35 1477.78H1774.58V1493.93H1740.35zM1757.16 1462.24H1791.39V1478.38H1757.16zM1773.98 1446.69H1808.21V1462.84H1773.98zM1790.79 1436.33H1825.02V1447.29H1790.79zM1807.61 1420.79H1841.83V1436.93H1807.61zM1824.42 1410.42H1858.65V1421.39H1824.42zM1841.23 1400.06H1875.46V1411.02H1841.23zM1858.05 1389.7H1892.28V1400.66H1858.05zM1874.86 1384.52H1892.28V1390.3H1874.86zM1874.86 1379.33H1909.09V1385.12H1874.86zM1891.68 1374.15H1909.09V1379.93H1891.68zM1891.68 1363.79H1925.9V1374.75H1891.68zM1908.49 1353.43H1942.72V1364.39H1908.49zM1925.3 1343.06H1959.53V1354.03H1925.3zM1942.12 1332.7H1976.35V1343.66H1942.12zM1958.93 1327.52H1993.16V1333.3H1958.93zM1975.75 1317.16H2009.97V1328.12H1975.75zM1992.56 1306.79H2026.79V1317.76H1992.56zM2009.37 1301.61H2043.6V1307.39H2009.37zM2026.19 1291.25H2060.42V1302.21H2026.19zM2043 1286.07H2077.23V1291.85H2043zM2043 1280.88H2094.04V1286.67H2043zM2059.82 1275.7H2094.04V1281.48H2059.82zM2076.63 1265.34H2110.86V1276.3H2076.63zM2093.44 1260.16H2127.67V1265.94H2093.44zM2110.26 1249.79H2144.49V1260.76H2110.26zM2127.07 1239.43H2162.8V1250.39H2127.07zM2143.89 1234.25H2162.8V1240.03H2143.89z"/>
<path fill="#bec32e" d="M1639.46 1648.78H1656.88V1727.1H1639.46zM1639.46 1638.41H1673.69V1649.38H1639.46zM1656.28 1591.78H1673.69V1639.01H1656.28zM1656.28 1576.23H1690.51V1592.38H1656.28zM1673.09 1550.33H1690.51V1576.83H1673.09zM1673.09 1534.78H1707.32V1550.93H1673.09zM1689.91 1524.42H1707.32V1535.38H1689.91zM1689.91 1508.87H1724.14V1525.02H1689.91zM1706.72 1498.51H1724.14V1509.47H1706.72zM1706.72 1488.15H1740.95V1499.11H1706.72zM1723.54 1477.78H1740.95V1488.75H1723.54zM1723.54 1467.42H1757.76V1478.38H1723.54zM1740.35 1462.24H1757.76V1468.02H1740.35zM1740.35 1451.88H1774.58V1462.84H1740.35zM1757.16 1446.69H1774.58V1452.48H1757.16zM1757.16 1436.33H1791.39V1447.29H1757.16zM1773.98 1420.79H1808.21V1436.93H1773.98zM1790.79 1410.42H1825.02V1421.39H1790.79zM1807.61 1400.06H1841.83V1411.02H1807.61zM1824.42 1389.7H1858.65V1400.66H1824.42zM1841.23 1379.33H1875.46V1390.3H1841.23zM1858.05 1368.97H1892.28V1379.93H1858.05zM1874.86 1363.79H1892.28V1369.57H1874.86zM1874.86 1358.61H1909.09V1364.39H1874.86zM1891.68 1353.43H1909.09V1359.21H1891.68zM1891.68 1348.24H1925.9V1354.03H1891.68zM1908.49 1343.06H1925.9V1348.84H1908.49zM1908.49 1337.88H1942.72V1343.66H1908.49zM1925.3 1332.7H1942.72V1338.48H1925.3zM1925.3 1327.52H1959.53V1333.3H1925.3zM1942.12 1317.16H1976.35V1328.12H1942.12zM1958.93 1311.97H1993.16V1317.76H1958.93zM1975.75 1306.79H1993.16V1312.57H1975.75zM1975.75 1301.61H2009.97V1307.39H1975.75zM1992.56 1291.25H2026.79V1302.21H1992.56zM2009.37 1286.07H2043.6V1291.85H2009.37zM2026.19 1280.88H2043.6V1286.67H2026.19zM2026.19 1275.7H2060.42V1281.48H2026.19zM2043 1265.34H2077.23V1276.3H2043zM2059.82 1260.16H2094.04V1265.94H2059.82zM2059.82 1254.98H2110.86V1260.76H2059.82zM2076.63 1249.79H2110.86V1255.58H2076.63zM2076.63 1244.61H2127.67V1250.39H2076.63zM2093.44 1239.43H2127.67V1245.21H2093.44zM2110.26 1234.25H2144.49V1240.03H2110.26zM2110.26 1229.07H2162.8V1234.85H2110.26zM2127.07 1223.89H2162.8V1229.67H2127.07zM2143.89 1218.71H2162.8V1224.49H2143.89z"/>
<path fill="#c1c32c" d="M1622.65 1638.41H1640.06V1727.1H1622.65zM1622.65 1633.23H1656.88V1639.01H1622.65zM1639.46 1576.23H1656.88V1633.83H1639.46zM1639.46 1555.51H1673.69V1576.83H1639.46zM1656.28 1534.78H1673.69V1556.11H1656.28zM1656.28 1519.24H1690.51V1535.38H1656.28zM1673.09 1508.87H1690.51V1519.84H1673.09zM1673.09 1493.33H1707.32V1509.47H1673.09zM1689.91 1488.15H1707.32V1493.93H1689.91zM1689.91 1472.6H1724.14V1488.75H1689.91zM1706.72 1467.42H1724.14V1473.2H1706.72zM1706.72 1451.88H1740.95V1468.02H1706.72zM1723.54 1436.33H1757.76V1452.48H1723.54zM1740.35 1420.79H1774.58V1436.93H1740.35zM1757.16 1410.42H1791.39V1421.39H1757.16zM1773.98 1400.06H1808.21V1411.02H1773.98zM1790.79 1389.7H1825.02V1400.66H1790.79zM1807.61 1379.33H1841.83V1390.3H1807.61zM1824.42 1368.97H1858.65V1379.93H1824.42zM1841.23 1358.61H1875.46V1369.57H1841.23zM1858.05 1348.24H1892.28V1359.21H1858.05zM1874.86 1337.88H1909.09V1348.84H1874.86zM1891.68 1332.7H1925.9V1338.48H1891.68zM1908.49 1327.52H1925.9V1333.3H1908.49zM1908.49 1322.34H1942.72V1328.12H1908.49zM1925.3 1317.16H1942.72V1322.94H1925.3zM1925.3 1311.97H1959.53V1317.76H1925.3zM1942.12 1301.61H1976.35V1312.57H1942.12zM1958.93 1296.43H1993.16V1302.21H1958.93zM1975.75 1291.25H1993.16V1297.03H1975.75zM1975.75 1286.07H2009.97V1291.85H1975.75zM1992.56 1275.7H2026.79V1286.67H1992.56zM2009.37 1270.52H2043.6V1276.3H2009.37zM2026.19 1265.34H2043.6V1271.12H2026.19zM2026.19 1260.16H2060.42V1265.94H2026.19zM2043 1254.98H2060.42V1260.76H2043zM2043 1249.79H2077.23V1255.58H2043zM2059.82 1244.61H2077.23V1250.39H2059.82zM2059.82 1239.43H2094.04V1245.21H2059.82zM2076.63 1229.07H2110.86V1240.03H2076.63zM2093.44 1223.89H2127.67V1229.67H2093.44zM2093.44 1218.71H2144.49V1224.49H2093.44zM2110.26 1213.52H2162.8V1219.31H2110.26zM2127.07 1208.34H2162.8V1214.12H2127.07zM2143.89 1203.16H2162.8V1208.94H2143.89z"/>
<path fill="#c5c22a" d="M1605.84 1633.23H1623.25V1727.1H1605.84zM1605.84 1628.05H1640.06V1633.83H1605.84zM1622.65 1555.51H1640.06V1628.65H1622.65zM1622.65 1534.78H1656.88V1556.11H1622.65zM1639.46 1519.24H1656.88V1535.38H1639.46zM1639.46 1503.69H1673.69V1519.84H1639.46zM1656.28 1493.33H1673.69V1504.29H1656.28zM1656.28 1477.78H1690.51V1493.93H1656.28zM1673.09 1472.6H1690.51V1478.38H1673.09zM1673.09 1451.88H1707.32V1473.2H1673.09zM1689.91 1436.33H1724.14V1452.48H1689.91zM1706.72 1420.79H1740.95V1436.93H1706.72zM1723.54 1410.42H1757.76V1421.39H1723.54zM1740.35 1400.06H1774.58V1411.02H1740.35zM1757.16 1389.7H1791.39V1400.66H1757.16zM1773.98 1384.52H1808.21V1390.3H1773.98zM1790.79 1379.33H1808.21V1385.12H1790.79zM1790.79 1374.15H1825.02V1379.93H1790.79zM1807.61 1368.97H1825.02V1374.75H1807.61zM1807.61 1363.79H1841.83V1369.57H1807.61zM1824.42 1358.61H1841.83V1364.39H1824.42zM1824.42 1353.43H1858.65V1359.21H1824.42zM1841.23 1348.24H1858.65V1354.03H1841.23zM1841.23 1343.06H1875.46V1348.84H1841.23zM1858.05 1337.88H1875.46V1343.66H1858.05zM1858.05 1332.7H1892.28V1338.48H1858.05zM1874.86 1322.34H1909.09V1333.3H1874.86zM1891.68 1317.16H1925.9V1322.94H1891.68zM1908.49 1311.97H1925.9V1317.76H1908.49zM1908.49 1306.79H1942.72V1312.57H1908.49zM1925.3 1301.61H1942.72V1307.39H1925.3zM1942.12 1296.43H1959.53V1302.21H1942.12zM1942.12 1291.25H1976.35V1297.03H1942.12zM1958.93 1286.07H1976.35V1291.85H1958.93zM1958.93 1280.88H1993.16V1286.67H1958.93zM1975.75 1275.7H1993.16V1281.48H1975.75zM1992.56 1270.52H2009.97V1276.3H1992.56zM1992.56 1265.34H2026.79V1271.12H1992.56zM2009.37 1260.16H2026.79V1265.94H2009.37zM2009.37 1254.98H2043.6V1260.76H2009.37zM2026.19 1249.79H2043.6V1255.58H2026.19zM2026.19 1244.61H2060.42V1250.39H2026.19zM2043 1239.43H2060.42V1245.21H2043zM2043 1234.25H2077.23V1240.03H2043zM2059.82 1229.07H2077.23V1234.85H2059.82zM2059.82 1223.89H2094.04V1229.67H2059.82zM2076.63 1218.71H2094.04V1224.49H2076.63zM2076.63 1213.52H2110.86V1219.31H2076.63zM2076.63 1208.34H2127.67V1214.12H2076.63zM2093.44 1203.16H2144.49V1208.94H2093.44zM2110.26 1197.98H2162.8V1203.76H2110.26zM2127.07 1192.8H2162.8V1198.58H2127.07zM2143.89 1187.62H2162.8V1193.4H2143.89z"/>
<path fill="#c8c129" d="M1589.02 1705.77H1606.44V1727.1H1589.02zM1572.21 1653.96H1606.44V1706.37H1572.21zM1589.02 1628.05H1606.44V1654.56H1589.02zM1589.02 1617.69H1623.25V1628.65H1589.02zM1605.84 1534.78H1623.25V1618.29H1605.84zM1605.84 1514.06H1640.06V1535.38H1605.84zM1622.65 1503.69H1640.06V1514.66H1622.65zM1622.65 1488.15H1656.88V1504.29H1622.65zM1639.46 1477.78H1656.88V1488.75H1639.46zM1639.46 1457.06H1673.69V1478.38H1639.46zM1656.28 1451.88H1673.69V1457.66H1656.28zM1656.28 1436.33H1690.51V1452.48H1656.28zM1673.09 1420.79H1707.32V1436.93H1673.09zM1689.91 1410.42H1724.14V1421.39H1689.91zM1706.72 1400.06H1740.95V1411.02H1706.72zM1723.54 1389.7H1757.76V1400.66H1723.54zM1740.35 1384.52H1774.58V1390.3H1740.35zM1740.35 1379.33H1791.39V1385.12H1740.35zM1757.16 1374.15H1791.39V1379.93H1757.16zM1773.98 1363.79H1808.21V1374.75H1773.98zM1790.79 1353.43H1825.02V1364.39H1790.79zM1807.61 1348.24H1841.83V1354.03H1807.61zM1824.42 1343.06H1841.83V1348.84H1824.42zM1824.42 1337.88H1858.65V1343.66H1824.42zM1841.23 1332.7H1858.65V1338.48H1841.23zM1841.23 1327.52H1875.46V1333.3H1841.23zM1858.05 1322.34H1875.46V1328.12H1858.05zM1874.86 1317.16H1892.28V1322.94H1874.86zM1874.86 1311.97H1909.09V1317.76H1874.86zM1891.68 1306.79H1909.09V1312.57H1891.68zM1908.49 1301.61H1925.9V1307.39H1908.49zM1908.49 1296.43H1942.72V1302.21H1908.49zM1925.3 1291.25H1942.72V1297.03H1925.3zM1925.3 1286.07H1959.53V1291.85H1925.3zM1942.12 1280.88H1959.53V1286.67H1942.12zM1958.93 1275.7H1976.35V1281.48H1958.93zM1958.93 1270.52H1993.16V1276.3H1958.93zM1975.75 1265.34H1993.16V1271.12H1975.75zM1975.75 1260.16H2009.97V1265.94H1975.75zM1992.56 1254.98H2009.97V1260.76H1992.56zM1992.56 1249.79H2026.79V1255.58H1992.56zM2009.37 1244.61H2026.79V1250.39H2009.37zM2009.37 1239.43H2043.6V1245.21H2009.37zM2026.19 1234.25H2043.6V1240.03H2026.19zM2043 1223.89H2060.42V1234.85H2043zM2059.82 1208.34H2077.23V1224.49H2059.82zM2076.63 1203.16H2094.04V1208.94H2076.63zM2076.63 1197.98H2110.86V1203.76H2076.63zM2076.63 1192.8H2127.67V1198.58H2076.63zM2093.44 1187.62H2144.49V1193.4H2093.44zM2110.26 1182.43H2162.8V1188.22H2110.26zM2143.89 1177.25H2162.8V1183.03H2143.89z"/>
<path fill="#cac129" d="M1555.39 1705.77H1589.62V1727.1H1555.39zM1555.39 1653.96H1572.81V1706.37H1555.39zM1555.39 1643.59H1589.62V1654.56H1555.39zM1572.21 1617.69H1589.62V1644.19H1572.21zM1572.21 1529.6H1606.44V1618.29H1572.21zM1589.02 1514.06H1606.44V1530.2H1589.02zM1589.02 1498.51H1623.25V1514.66H1589.02zM1605.84 1488.15H1623.25V1499.11H1605.84zM1605.84 1462.24H1640.06V1488.75H1605.84zM1622.65 1457.06H1640.06V1462.84H1622.65zM1622.65 1436.33H1656.88V1457.66H1622.65zM1639.46 1420.79H1673.69V1436.93H1639.46zM1656.28 1410.42H1690.51V1421.39H1656.28zM1673.09 1400.06H1707.32V1411.02H1673.09zM1689.91 1389.7H1724.14V1400.66H1689.91zM1706.72 1384.52H1740.95V1390.3H1706.72zM1723.54 1379.33H1740.95V1385.12H1723.54zM1723.54 1374.15H1757.76V1379.93H1723.54zM1740.35 1363.79H1774.58V1374.75H1740.35zM1757.16 1358.61H1791.39V1364.39H1757.16zM1773.98 1353.43H1791.39V1359.21H1773.98zM1773.98 1348.24H1808.21V1354.03H1773.98zM1790.79 1343.06H1825.02V1348.84H1790.79zM1807.61 1337.88H1825.02V1343.66H1807.61zM1807.61 1332.7H1841.83V1338.48H1807.61zM1824.42 1327.52H1841.83V1333.3H1824.42zM1824.42 1322.34H1858.65V1328.12H1824.42zM1841.23 1317.16H1875.46V1322.94H1841.23zM1858.05 1311.97H1875.46V1317.76H1858.05zM1874.86 1306.79H1892.28V1312.57H1874.86zM1874.86 1301.61H1909.09V1307.39H1874.86zM1891.68 1296.43H1909.09V1302.21H1891.68zM1908.49 1286.07H1925.9V1297.03H1908.49zM1925.3 1280.88H1942.72V1286.67H1925.3zM1942.12 1270.52H1959.53V1281.48H1942.12zM1958.93 1265.34H1976.35V1271.12H1958.93zM1975.75 1254.98H1993.16V1260.76H1975.75zM1992.56 1244.61H2009.97V1250.39H1992.56zM2009.37 1234.25H2026.79V1240.03H2009.37zM2026.19 1223.89H2043.6V1234.85H2026.19zM2043 1213.52H2060.42V1224.49H2043zM2059.82 1203.16H2077.23V1208.94H2059.82zM2076.63 1187.62H2094.04V1193.4H2076.63zM2076.63 1182.43H2110.86V1188.22H2076.63zM2093.44 1177.25H2144.49V1183.03H2093.44zM2110.26 1172.07H2162.8V1177.85H2110.26zM2143.89 1166.89H2162.8V1172.67H2143.89z"/>
<path fill="#cdc028" d="M1538.58 1643.59H1555.99V1727.1H1538.58zM1538.58 1628.05H1572.81V1644.19H1538.58zM1555.39 1529.6H1572.81V1628.65H1555.39zM1555.39 1503.69H1589.62V1530.2H1555.39zM1572.21 1498.51H1589.62V1504.29H1572.21zM1572.21 1467.42H1606.44V1499.11H1572.21zM1589.02 1462.24H1606.44V1468.02H1589.02zM1589.02 1436.33H1623.25V1462.84H1589.02zM1605.84 1420.79H1640.06V1436.93H1605.84zM1622.65 1410.42H1656.88V1421.39H1622.65zM1639.46 1400.06H1673.69V1411.02H1639.46zM1656.28 1389.7H1690.51V1400.66H1656.28zM1673.09 1384.52H1707.32V1390.3H1673.09zM1673.09 1379.33H1724.14V1385.12H1673.09zM1689.91 1374.15H1724.14V1379.93H1689.91zM1706.72 1368.97H1740.95V1374.75H1706.72zM1723.54 1363.79H1740.95V1369.57H1723.54zM1723.54 1358.61H1757.76V1364.39H1723.54zM1740.35 1353.43H1774.58V1359.21H1740.35zM1757.16 1348.24H1774.58V1354.03H1757.16zM1757.16 1343.06H1791.39V1348.84H1757.16zM1773.98 1337.88H1808.21V1343.66H1773.98zM1790.79 1332.7H1808.21V1338.48H1790.79zM1807.61 1327.52H1825.02V1333.3H1807.61zM1824.42 1317.16H1841.83V1322.94H1824.42zM1841.23 1311.97H1858.65V1317.76H1841.23zM1841.23 1306.79H1875.46V1312.57H1841.23zM1858.05 1301.61H1875.46V1307.39H1858.05zM1874.86 1296.43H1892.28V1302.21H1874.86zM1891.68 1291.25H1909.09V1297.03H1891.68zM1908.49 1280.88H1925.9V1286.67H1908.49zM1925.3 1270.52H1942.72V1281.48H1925.3zM1942.12 1265.34H1959.53V1271.12H1942.12zM1958.93 1254.98H1976.35V1265.94H1958.93zM1975.75 1244.61H1993.16V1255.58H1975.75zM1992.56 1234.25H2009.97V1245.21H1992.56zM2009.37 1223.89H2026.79V1234.85H2009.37zM2026.19 1213.52H2043.6V1224.49H2026.19zM2043 1203.16H2060.42V1214.12H2043zM2059.82 1192.8H2077.23V1203.76H2059.82zM2076.63 1177.25H2094.04V1183.03H2076.63zM2076.63 1172.07H2110.86V1177.85H2076.63zM2093.44 1166.89H2144.49V1172.67H2093.44zM2110.26 1161.71H2162.8V1167.49H2110.26zM2143.89 1156.53H2162.8V1162.31H2143.89z"/>
<path fill="#d0bf27" d="M1504.95 1653.96H1539.18V1727.1H1504.95zM1521.77 1628.05H1539.18V1654.56H1521.77zM1521.77 1508.87H1555.99V1628.65H1521.77zM1538.58 1503.69H1555.99V1509.47H1538.58zM1538.58 1472.6H1572.81V1504.29H1538.58zM1555.39 1467.42H1572.81V1473.2H1555.39zM1555.39 1441.51H1589.62V1468.02H1555.39zM1572.21 1436.33H1589.62V1442.11H1572.21zM1572.21 1420.79H1606.44V1436.93H1572.21zM1589.02 1410.42H1623.25V1421.39H1589.02zM1605.84 1400.06H1640.06V1411.02H1605.84zM1622.65 1389.7H1656.88V1400.66H1622.65zM1639.46 1384.52H1673.69V1390.3H1639.46zM1656.28 1379.33H1673.69V1385.12H1656.28zM1656.28 1374.15H1690.51V1379.93H1656.28zM1673.09 1368.97H1707.32V1374.75H1673.09zM1689.91 1363.79H1724.14V1369.57H1689.91zM1706.72 1358.61H1724.14V1364.39H1706.72zM1723.54 1353.43H1740.95V1359.21H1723.54zM1723.54 1348.24H1757.76V1354.03H1723.54zM1740.35 1343.06H1757.76V1348.84H1740.35zM1757.16 1337.88H1774.58V1343.66H1757.16zM1757.16 1332.7H1791.39V1338.48H1757.16zM1790.79 1327.52H1808.21V1333.3H1790.79zM1790.79 1322.34H1825.02V1328.12H1790.79zM1807.61 1317.16H1825.02V1322.94H1807.61zM1824.42 1306.79H1841.83V1317.76H1824.42zM1841.23 1301.61H1858.65V1307.39H1841.23zM1858.05 1296.43H1875.46V1302.21H1858.05zM1874.86 1291.25H1892.28V1297.03H1874.86zM1891.68 1280.88H1909.09V1291.85H1891.68zM1908.49 1275.7H1925.9V1281.48H1908.49zM1925.3 1265.34H1942.72V1271.12H1925.3zM1942.12 1254.98H1959.53V1265.94H1942.12zM1958.93 1249.79H1976.35V1255.58H1958.93zM1975.75 1239.43H1993.16V1245.21H1975.75zM1992.56 1229.07H2009.97V1234.85H1992.56zM2009.37 1218.71H2026.79V1224.49H2009.37zM2026.19 1208.34H2043.6V1214.12H2026.19zM2043 1197.98H2060.42V1203.76H2043zM2059.82 1187.62H2077.23V1193.4H2059.82zM2076.63 1166.89H2094.04V1172.67H2076.63zM2076.63 1161.71H2110.86V1167.49H2076.63zM2093.44 1156.53H2144.49V1162.31H2093.44zM2110.26 1151.34H2162.8V1157.13H2110.26zM2143.89 1146.16H2162.8V1151.94H2143.89z"/>
<path fill="#d3bf27" d="M1488.14 1653.96H1505.55V1727.1H1488.14zM1488.14 1622.87H1522.37V1654.56H1488.14zM1504.95 1508.87H1522.37V1623.47H1504.95zM1504.95 1472.6H1539.18V1509.47H1504.95zM1521.77 1446.69H1555.99V1473.2H1521.77zM1538.58 1441.51H1555.99V1447.29H1538.58zM1538.58 1425.97H1572.81V1442.11H1538.58zM1555.39 1420.79H1572.81V1426.57H1555.39zM1555.39 1410.42H1589.62V1421.39H1555.39zM1572.21 1400.06H1606.44V1411.02H1572.21zM1589.02 1389.7H1623.25V1400.66H1589.02zM1605.84 1384.52H1640.06V1390.3H1605.84zM1622.65 1379.33H1656.88V1385.12H1622.65zM1639.46 1374.15H1656.88V1379.93H1639.46zM1639.46 1368.97H1673.69V1374.75H1639.46zM1656.28 1363.79H1690.51V1369.57H1656.28zM1673.09 1358.61H1707.32V1364.39H1673.09zM1689.91 1353.43H1724.14V1359.21H1689.91zM1706.72 1348.24H1724.14V1354.03H1706.72zM1723.54 1343.06H1740.95V1348.84H1723.54zM1740.35 1332.7H1757.76V1343.66H1740.35zM1757.16 1327.52H1791.39V1333.3H1757.16zM1773.98 1322.34H1791.39V1328.12H1773.98zM1790.79 1317.16H1808.21V1322.94H1790.79zM1807.61 1311.97H1825.02V1317.76H1807.61zM1824.42 1301.61H1841.83V1307.39H1824.42zM1841.23 1296.43H1858.65V1302.21H1841.23zM1858.05 1291.25H1875.46V1297.03H1858.05zM1874.86 1286.07H1892.28V1291.85H1874.86zM1908.49 1270.52H1925.9V1276.3H1908.49zM1925.3 1260.16H1942.72V1265.94H1925.3zM1942.12 1249.79H1959.53V1255.58H1942.12zM1958.93 1244.61H1976.35V1250.39H1958.93zM1975.75 1234.25H1993.16V1240.03H1975.75zM1992.56 1223.89H2009.97V1229.67H1992.56zM2009.37 1213.52H2026.79V1219.31H2009.37zM2026.19 1203.16H2043.6V1208.94H2026.19zM2043 1192.8H2060.42V1198.58H2043zM2059.82 1182.43H2077.23V1188.22H2059.82zM2076.63 1156.53H2094.04V1162.31H2076.63zM2076.63 1151.34H2110.86V1157.13H2076.63zM2093.44 1146.16H2144.49V1151.94H2093.44zM2127.07 1140.98H2162.8V1146.76H2127.07zM2143.89 1134.3H2162.8V1141.58H2143.89z"/>
<path fill="#d6be28" d="M1454.51 1679.87H1488.74V1727.1H1454.51zM1471.32 1622.87H1488.74V1680.47H1471.32zM1471.32 1477.78H1505.55V1623.47H1471.32zM1488.14 1472.6H1505.55V1478.38H1488.14zM1488.14 1451.88H1522.37V1473.2H1488.14zM1504.95 1446.69H1522.37V1452.48H1504.95zM1504.95 1425.97H1539.18V1447.29H1504.95zM1521.77 1415.61H1555.99V1426.57H1521.77zM1538.58 1410.42H1555.99V1416.21H1538.58zM1538.58 1400.06H1572.81V1411.02H1538.58zM1555.39 1394.88H1589.62V1400.66H1555.39zM1572.21 1389.7H1589.62V1395.48H1572.21zM1572.21 1384.52H1606.44V1390.3H1572.21zM1589.02 1379.33H1623.25V1385.12H1589.02zM1605.84 1374.15H1640.06V1379.93H1605.84zM1622.65 1368.97H1640.06V1374.75H1622.65zM1639.46 1363.79H1656.88V1369.57H1639.46zM1656.28 1358.61H1673.69V1364.39H1656.28zM1673.09 1353.43H1690.51V1359.21H1673.09zM1673.09 1348.24H1707.32V1354.03H1673.09zM1706.72 1343.06H1724.14V1348.84H1706.72zM1706.72 1337.88H1740.95V1343.66H1706.72zM1723.54 1332.7H1740.95V1338.48H1723.54zM1740.35 1327.52H1757.76V1333.3H1740.35zM1757.16 1322.34H1774.58V1328.12H1757.16zM1773.98 1317.16H1791.39V1322.94H1773.98zM1790.79 1311.97H1808.21V1317.76H1790.79zM1807.61 1306.79H1825.02V1312.57H1807.61zM1824.42 1296.43H1841.83V1302.21H1824.42zM1841.23 1291.25H1858.65V1297.03H1841.23zM1858.05 1286.07H1875.46V1291.85H1858.05zM1874.86 1280.88H1892.28V1286.67H1874.86zM1891.68 1275.7H1909.09V1281.48H1891.68zM1908.49 1265.34H1925.9V1271.12H1908.49zM2059.82 1177.25H2077.23V1183.03H2059.82zM2076.63 1146.16H2094.04V1151.94H2076.63zM2076.63 1140.98H2127.67V1146.76H2076.63zM2093.44 1134.3H2144.49V1141.58H2093.44z"/>
<path fill="#d9be28" d="M1437.7 1679.87H1455.11V1727.1H1437.7zM1437.7 1586.6H1471.92V1680.47H1437.7zM1454.51 1534.78H1471.92V1587.2H1454.51zM1437.7 1493.33H1471.92V1535.38H1437.7zM1454.51 1477.78H1471.92V1493.93H1454.51zM1454.51 1457.06H1488.74V1478.38H1454.51zM1471.32 1451.88H1488.74V1457.66H1471.32zM1471.32 1436.33H1505.55V1452.48H1471.32zM1488.14 1425.97H1505.55V1436.93H1488.14zM1488.14 1415.61H1522.37V1426.57H1488.14zM1504.95 1405.24H1539.18V1416.21H1504.95zM1521.77 1400.06H1539.18V1405.84H1521.77zM1521.77 1394.88H1555.99V1400.66H1521.77zM1538.58 1384.52H1572.81V1395.48H1538.58zM1555.39 1379.33H1589.62V1385.12H1555.39zM1572.21 1374.15H1606.44V1379.93H1572.21zM1589.02 1368.97H1623.25V1374.75H1589.02zM1605.84 1363.79H1640.06V1369.57H1605.84zM1639.46 1358.61H1656.88V1364.39H1639.46zM1639.46 1353.43H1673.69V1359.21H1639.46zM1656.28 1348.24H1673.69V1354.03H1656.28zM1673.09 1343.06H1707.32V1348.84H1673.09zM1706.72 1332.7H1724.14V1338.48H1706.72zM1723.54 1327.52H1740.95V1333.3H1723.54zM1740.35 1322.34H1757.76V1328.12H1740.35zM1757.16 1317.16H1774.58V1322.94H1757.16zM1790.79 1306.79H1808.21V1312.57H1790.79zM1807.61 1301.61H1825.02V1307.39H1807.61zM1824.42 1291.25H1841.83V1297.03H1824.42zM1841.23 1286.07H1858.65V1291.85H1841.23zM1858.05 1280.88H1875.46V1286.67H1858.05zM1874.86 1275.7H1892.28V1281.48H1874.86zM1891.68 1270.52H1909.09V1276.3H1891.68zM1908.49 1260.16H1925.9V1265.94H1908.49zM1925.3 1254.98H1942.72V1260.76H1925.3zM1942.12 1244.61H1959.53V1250.39H1942.12zM1958.93 1239.43H1976.35V1245.21H1958.93zM1975.75 1229.07H1993.16V1234.85H1975.75zM1992.56 1218.71H2009.97V1224.49H1992.56zM2009.37 1208.34H2026.79V1214.12H2009.37zM2026.19 1197.98H2043.6V1203.76H2026.19zM1942.12 1187.62H2009.97V1193.4H1942.12zM2043 1187.62H2060.42V1193.4H2043zM1925.3 1182.43H2026.79V1188.22H1925.3zM1891.68 1177.25H2026.79V1183.03H1891.68zM1891.68 1172.07H2043.6V1177.85H1891.68zM2059.82 1172.07H2077.23V1177.85H2059.82zM1874.86 1166.89H2043.6V1172.67H1874.86zM1858.05 1140.98H2060.42V1167.49H1858.05zM1841.23 1134.3H2060.42V1141.58H1841.23zM2076.63 1134.3H2094.04V1141.58H2076.63z"/>
<path fill="#dbbd29" d="M1404.07 1705.77H1438.3V1727.1H1404.07zM1420.88 1586.6H1438.3V1706.37H1420.88zM1420.88 1534.78H1455.11V1587.2H1420.88zM1420.88 1493.33H1438.3V1535.38H1420.88zM1420.88 1467.42H1455.11V1493.93H1420.88zM1437.7 1457.06H1455.11V1468.02H1437.7zM1437.7 1446.69H1471.92V1457.66H1437.7zM1454.51 1436.33H1471.92V1447.29H1454.51zM1454.51 1420.79H1488.74V1436.93H1454.51zM1471.32 1415.61H1488.74V1421.39H1471.32zM1471.32 1405.24H1505.55V1416.21H1471.32zM1488.14 1400.06H1522.37V1405.84H1488.14zM1504.95 1394.88H1522.37V1400.66H1504.95zM1504.95 1389.7H1539.18V1395.48H1504.95zM1521.77 1384.52H1539.18V1390.3H1521.77zM1538.58 1379.33H1555.99V1385.12H1538.58zM1538.58 1374.15H1572.81V1379.93H1538.58zM1572.21 1368.97H1589.62V1374.75H1572.21zM1572.21 1363.79H1606.44V1369.57H1572.21zM1605.84 1358.61H1640.06V1364.39H1605.84zM1622.65 1353.43H1640.06V1359.21H1622.65zM1639.46 1348.24H1656.88V1354.03H1639.46zM1656.28 1343.06H1673.69V1348.84H1656.28zM1673.09 1337.88H1707.32V1343.66H1673.09zM1706.72 1327.52H1724.14V1333.3H1706.72zM1723.54 1322.34H1740.95V1328.12H1723.54zM1740.35 1317.16H1757.76V1322.94H1740.35zM1757.16 1311.97H1791.39V1317.76H1757.16zM1891.68 1265.34H1909.09V1271.12H1891.68zM1908.49 1254.98H1925.9V1260.76H1908.49zM1925.3 1249.79H1942.72V1255.58H1925.3zM1891.68 1239.43H1909.09V1245.21H1891.68zM1942.12 1239.43H1959.53V1245.21H1942.12zM1807.61 1234.25H1925.9V1240.03H1807.61zM1958.93 1234.25H1976.35V1240.03H1958.93zM1773.98 1229.07H1942.72V1234.85H1773.98zM1757.16 1223.89H1942.72V1229.67H1757.16zM1975.75 1223.89H1993.16V1229.67H1975.75zM1757.16 1218.71H1959.53V1224.49H1757.16zM1992.56 1213.52H2009.97V1219.31H1992.56zM1740.35 1208.34H1976.35V1219.31H1740.35zM2009.37 1203.16H2026.79V1208.94H2009.37zM1723.54 1197.98H1993.16V1208.94H1723.54zM1723.54 1192.8H2009.97V1198.58H1723.54zM2026.19 1192.8H2043.6V1198.58H2026.19zM1706.72 1187.62H1942.72V1193.4H1706.72zM1706.72 1182.43H1925.9V1188.22H1706.72zM2043 1182.43H2060.42V1188.22H2043zM1706.72 1177.25H1892.28V1183.03H1706.72zM1689.91 1172.07H1892.28V1177.85H1689.91zM1689.91 1166.89H1875.46V1172.67H1689.91zM1689.91 1140.98H1858.65V1167.49H1689.91zM1689.91 1134.3H1841.83V1141.58H1689.91zM2059.82 1134.3H2077.23V1151.94H2059.82z"/>
<path fill="#debd29" d="M1387.25 1705.77H1404.67V1727.1H1387.25zM1387.25 1695.41H1421.48V1706.37H1387.25zM1404.07 1617.69H1421.48V1696.01H1404.07zM1387.25 1602.14H1421.48V1618.29H1387.25zM1404.07 1508.87H1421.48V1602.74H1404.07zM1387.25 1488.15H1421.48V1509.47H1387.25zM1404.07 1467.42H1421.48V1488.75H1404.07zM1404.07 1457.06H1438.3V1468.02H1404.07zM1420.88 1446.69H1438.3V1457.66H1420.88zM1420.88 1436.33H1455.11V1447.29H1420.88zM1437.7 1420.79H1455.11V1436.93H1437.7zM1437.7 1415.61H1471.92V1421.39H1437.7zM1454.51 1405.24H1471.92V1416.21H1454.51zM1454.51 1400.06H1488.74V1405.84H1454.51zM1471.32 1394.88H1505.55V1400.66H1471.32zM1488.14 1389.7H1505.55V1395.48H1488.14zM1504.95 1384.52H1522.37V1390.3H1504.95zM1504.95 1379.33H1539.18V1385.12H1504.95zM1521.77 1374.15H1539.18V1379.93H1521.77zM1538.58 1368.97H1572.81V1374.75H1538.58zM1555.39 1363.79H1572.81V1369.57H1555.39zM1572.21 1358.61H1606.44V1364.39H1572.21zM1605.84 1353.43H1623.25V1359.21H1605.84zM1622.65 1348.24H1640.06V1354.03H1622.65zM1639.46 1343.06H1656.88V1348.84H1639.46zM1656.28 1337.88H1673.69V1343.66H1656.28zM1673.09 1332.7H1707.32V1338.48H1673.09zM1740.35 1311.97H1757.76V1317.76H1740.35zM1757.16 1306.79H1791.39V1312.57H1757.16zM1790.79 1301.61H1808.21V1307.39H1790.79zM1807.61 1296.43H1825.02V1302.21H1807.61zM1740.35 1291.25H1757.76V1297.03H1740.35zM1723.54 1286.07H1791.39V1291.85H1723.54zM1824.42 1286.07H1841.83V1291.85H1824.42zM1706.72 1280.88H1808.21V1286.67H1706.72zM1841.23 1280.88H1858.65V1286.67H1841.23zM1689.91 1275.7H1825.02V1281.48H1689.91zM1858.05 1275.7H1875.46V1281.48H1858.05zM1673.09 1270.52H1825.02V1276.3H1673.09zM1874.86 1270.52H1892.28V1276.3H1874.86zM1673.09 1265.34H1841.83V1271.12H1673.09zM1656.28 1260.16H1858.65V1265.94H1656.28zM1656.28 1254.98H1875.46V1260.76H1656.28zM1639.46 1249.79H1892.28V1255.58H1639.46zM1639.46 1244.61H1909.09V1250.39H1639.46zM1622.65 1239.43H1892.28V1245.21H1622.65zM1622.65 1234.25H1808.21V1240.03H1622.65zM1622.65 1229.07H1774.58V1234.85H1622.65zM1605.84 1218.71H1757.76V1229.67H1605.84zM1605.84 1213.52H1740.95V1219.31H1605.84zM1589.02 1208.34H1740.95V1214.12H1589.02zM1589.02 1197.98H1724.14V1208.94H1589.02zM1572.21 1192.8H1724.14V1198.58H1572.21zM1572.21 1177.25H1707.32V1193.4H1572.21zM2059.82 1166.89H2077.23V1172.67H2059.82zM1555.39 1151.34H1690.51V1177.85H1555.39zM1538.58 1134.3H1690.51V1151.94H1538.58z"/>
<path fill="#e0bc2b" d="M1370.44 1695.41H1387.85V1727.1H1370.44zM1370.44 1690.23H1404.67V1696.01H1370.44zM1387.25 1633.23H1404.67V1690.83H1387.25zM1370.44 1617.69H1404.67V1633.83H1370.44zM1370.44 1602.14H1387.85V1618.29H1370.44zM1370.44 1581.42H1404.67V1602.74H1370.44zM1387.25 1524.42H1404.67V1582.02H1387.25zM1370.44 1508.87H1404.67V1525.02H1370.44zM1370.44 1488.15H1387.85V1509.47H1370.44zM1370.44 1477.78H1404.67V1488.75H1370.44zM1387.25 1457.06H1404.67V1478.38H1387.25zM1387.25 1451.88H1421.48V1457.66H1387.25zM1404.07 1436.33H1421.48V1452.48H1404.07zM1404.07 1425.97H1438.3V1436.93H1404.07zM1420.88 1415.61H1438.3V1426.57H1420.88zM1420.88 1405.24H1455.11V1416.21H1420.88zM1437.7 1400.06H1455.11V1405.84H1437.7zM1454.51 1394.88H1471.92V1400.66H1454.51zM1454.51 1389.7H1488.74V1395.48H1454.51zM1471.32 1384.52H1505.55V1390.3H1471.32zM1488.14 1379.33H1505.55V1385.12H1488.14zM1504.95 1374.15H1522.37V1379.93H1504.95zM1521.77 1368.97H1539.18V1374.75H1521.77zM1538.58 1363.79H1555.99V1369.57H1538.58zM1555.39 1358.61H1572.81V1364.39H1555.39zM1572.21 1353.43H1606.44V1359.21H1572.21zM1605.84 1348.24H1623.25V1354.03H1605.84zM1656.28 1332.7H1673.69V1338.48H1656.28zM1673.09 1327.52H1707.32V1333.3H1673.09zM1589.02 1322.34H1640.06V1328.12H1589.02zM1706.72 1322.34H1724.14V1328.12H1706.72zM1589.02 1317.16H1656.88V1322.94H1589.02zM1723.54 1317.16H1740.95V1322.94H1723.54zM1572.21 1311.97H1673.69V1317.76H1572.21zM1572.21 1306.79H1707.32V1312.57H1572.21zM1572.21 1301.61H1724.14V1307.39H1572.21zM1555.39 1291.25H1740.95V1302.21H1555.39zM1555.39 1286.07H1724.14V1291.85H1555.39zM1538.58 1280.88H1707.32V1286.67H1538.58zM1538.58 1275.7H1690.51V1281.48H1538.58zM1538.58 1270.52H1673.69V1276.3H1538.58zM1521.77 1265.34H1673.69V1271.12H1521.77zM1874.86 1265.34H1892.28V1271.12H1874.86zM1891.68 1260.16H1909.09V1265.94H1891.68zM1521.77 1254.98H1656.88V1265.94H1521.77zM1521.77 1249.79H1640.06V1255.58H1521.77zM1908.49 1249.79H1925.9V1255.58H1908.49zM1504.95 1244.61H1640.06V1250.39H1504.95zM1925.3 1244.61H1942.72V1250.39H1925.3zM1504.95 1234.25H1623.25V1245.21H1504.95zM1942.12 1234.25H1959.53V1240.03H1942.12zM1488.14 1229.07H1623.25V1234.85H1488.14zM1958.93 1229.07H1976.35V1234.85H1958.93zM1975.75 1218.71H1993.16V1224.49H1975.75zM1488.14 1213.52H1606.44V1229.67H1488.14zM1992.56 1208.34H2009.97V1214.12H1992.56zM1471.32 1197.98H1589.62V1214.12H1471.32zM2009.37 1197.98H2026.79V1203.76H2009.37zM2026.19 1187.62H2043.6V1193.4H2026.19zM1454.51 1177.25H1572.81V1198.58H1454.51zM2043 1177.25H2060.42V1183.03H2043zM1437.7 1151.34H1555.99V1177.85H1437.7zM1420.88 1134.3H1539.18V1151.94H1420.88z"/>
<path fill="#e3bc2c" d="M1353.63 1690.23H1371.04V1727.1H1353.63zM1353.63 1685.05H1387.85V1690.83H1353.63zM1370.44 1638.41H1387.85V1685.65H1370.44zM1353.63 1633.23H1387.85V1639.01H1353.63zM1353.63 1581.42H1371.04V1633.83H1353.63zM1353.63 1571.05H1387.85V1582.02H1353.63zM1370.44 1529.6H1387.85V1571.65H1370.44zM1353.63 1524.42H1387.85V1530.2H1353.63zM1353.63 1477.78H1371.04V1525.02H1353.63zM1353.63 1472.6H1387.85V1478.38H1353.63zM1370.44 1451.88H1387.85V1473.2H1370.44zM1370.44 1446.69H1404.67V1452.48H1370.44zM1387.25 1425.97H1404.67V1447.29H1387.25zM1387.25 1420.79H1421.48V1426.57H1387.25zM1404.07 1405.24H1421.48V1421.39H1404.07zM1404.07 1400.06H1438.3V1405.84H1404.07zM1420.88 1394.88H1455.11V1400.66H1420.88zM1437.7 1389.7H1455.11V1395.48H1437.7zM1454.51 1384.52H1471.92V1390.3H1454.51zM1454.51 1379.33H1488.74V1385.12H1454.51zM1471.32 1374.15H1505.55V1379.93H1471.32zM1504.95 1368.97H1522.37V1374.75H1504.95zM1504.95 1363.79H1539.18V1369.57H1504.95zM1538.58 1358.61H1555.99V1364.39H1538.58zM1555.39 1353.43H1572.81V1359.21H1555.39zM1572.21 1348.24H1606.44V1354.03H1572.21zM1471.32 1343.06H1505.55V1348.84H1471.32zM1605.84 1343.06H1640.06V1348.84H1605.84zM1454.51 1337.88H1539.18V1343.66H1454.51zM1639.46 1337.88H1656.88V1343.66H1639.46zM1454.51 1332.7H1572.81V1338.48H1454.51zM1437.7 1327.52H1606.44V1333.3H1437.7zM1437.7 1317.16H1589.62V1328.12H1437.7zM1706.72 1317.16H1724.14V1322.94H1706.72zM1723.54 1311.97H1740.95V1317.76H1723.54zM1740.35 1306.79H1757.76V1312.57H1740.35zM1420.88 1301.61H1572.81V1317.76H1420.88zM1757.16 1301.61H1791.39V1307.39H1757.16zM1790.79 1296.43H1808.21V1302.21H1790.79zM1807.61 1291.25H1825.02V1297.03H1807.61zM1420.88 1286.07H1555.99V1302.21H1420.88zM1824.42 1280.88H1841.83V1286.67H1824.42zM1420.88 1275.7H1539.18V1286.67H1420.88zM1841.23 1275.7H1858.65V1281.48H1841.23zM1404.07 1270.52H1539.18V1276.3H1404.07zM1858.05 1270.52H1875.46V1276.3H1858.05zM1404.07 1249.79H1522.37V1271.12H1404.07zM1404.07 1244.61H1505.55V1250.39H1404.07zM1387.25 1234.25H1505.55V1245.21H1387.25zM1387.25 1223.89H1488.74V1234.85H1387.25zM1370.44 1213.52H1488.74V1224.49H1370.44zM1370.44 1203.16H1471.92V1214.12H1370.44zM1353.63 1197.98H1471.92V1203.76H1353.63zM1353.63 1177.25H1455.11V1198.58H1353.63zM2059.82 1161.71H2077.23V1167.49H2059.82zM1336.81 1151.34H1438.3V1177.85H1336.81zM1336.81 1146.16H1421.48V1151.94H1336.81zM1320 1134.3H1421.48V1146.76H1320z"/>
<path fill="#e5bb2d" d="M1336.81 1685.05H1354.23V1727.1H1336.81zM1353.63 1643.59H1371.04V1685.65H1353.63zM1336.81 1638.41H1371.04V1644.19H1336.81zM1336.81 1571.05H1354.23V1639.01H1336.81zM1353.63 1534.78H1371.04V1571.65H1353.63zM1336.81 1529.6H1371.04V1535.38H1336.81zM1336.81 1472.6H1354.23V1530.2H1336.81zM1336.81 1467.42H1371.04V1473.2H1336.81zM1353.63 1446.69H1371.04V1468.02H1353.63zM1353.63 1441.51H1387.85V1447.29H1353.63zM1370.44 1420.79H1387.85V1442.11H1370.44zM1370.44 1415.61H1404.67V1421.39H1370.44zM1387.25 1400.06H1404.67V1416.21H1387.25zM1387.25 1394.88H1421.48V1400.66H1387.25zM1387.25 1389.7H1438.3V1395.48H1387.25zM1420.88 1384.52H1455.11V1390.3H1420.88zM1437.7 1379.33H1455.11V1385.12H1437.7zM1454.51 1374.15H1471.92V1379.93H1454.51zM1454.51 1368.97H1505.55V1374.75H1454.51zM1488.14 1363.79H1505.55V1369.57H1488.14zM1504.95 1358.61H1539.18V1364.39H1504.95zM1370.44 1353.43H1421.48V1359.21H1370.44zM1538.58 1353.43H1555.99V1359.21H1538.58zM1370.44 1348.24H1455.11V1354.03H1370.44zM1353.63 1343.06H1471.92V1348.84H1353.63zM1589.02 1343.06H1606.44V1348.84H1589.02zM1605.84 1337.88H1640.06V1343.66H1605.84zM1353.63 1332.7H1455.11V1343.66H1353.63zM1639.46 1332.7H1656.88V1338.48H1639.46zM1656.28 1327.52H1673.69V1333.3H1656.28zM1673.09 1322.34H1707.32V1328.12H1673.09zM1336.81 1317.16H1438.3V1333.3H1336.81zM1320 1291.25H1421.48V1317.76H1320zM1303.18 1275.7H1421.48V1291.85H1303.18zM1303.18 1270.52H1404.67V1276.3H1303.18zM1286.37 1244.61H1404.67V1271.12H1286.37zM1269.56 1223.89H1387.85V1245.21H1269.56zM1269.56 1218.71H1371.04V1224.49H1269.56zM1252.74 1203.16H1371.04V1219.31H1252.74zM1252.74 1177.25H1354.23V1203.76H1252.74zM1235.93 1146.16H1337.41V1177.85H1235.93zM1235.93 1134.3H1320.6V1146.76H1235.93z"/>
<path fill="#e8bb2f" d="M1320 1690.23H1337.41V1727.1H1320zM1336.81 1643.59H1354.23V1685.65H1336.81zM1320 1571.05H1337.41V1639.01H1320zM1336.81 1534.78H1354.23V1571.65H1336.81zM1320 1467.42H1337.41V1535.38H1320zM1336.81 1441.51H1354.23V1468.02H1336.81zM1336.81 1436.33H1371.04V1442.11H1336.81zM1353.63 1415.61H1371.04V1436.93H1353.63zM1353.63 1410.42H1387.85V1416.21H1353.63zM1370.44 1389.7H1387.85V1411.02H1370.44zM1370.44 1384.52H1421.48V1390.3H1370.44zM1404.07 1379.33H1438.3V1385.12H1404.07zM1420.88 1374.15H1455.11V1379.93H1420.88zM1437.7 1368.97H1455.11V1374.75H1437.7zM1454.51 1363.79H1488.74V1369.57H1454.51zM1303.18 1358.61H1354.23V1369.57H1303.18zM1488.14 1358.61H1505.55V1364.39H1488.14zM1303.18 1353.43H1371.04V1359.21H1303.18zM1504.95 1353.43H1539.18V1359.21H1504.95zM1286.37 1348.24H1371.04V1354.03H1286.37zM1538.58 1348.24H1572.81V1354.03H1538.58zM1286.37 1343.06H1354.23V1348.84H1286.37zM1572.21 1343.06H1589.62V1348.84H1572.21zM1269.56 1332.7H1354.23V1343.66H1269.56zM1252.74 1322.34H1337.41V1333.3H1252.74zM1235.93 1317.16H1337.41V1322.94H1235.93zM1706.72 1311.97H1724.14V1317.76H1706.72zM1235.93 1306.79H1320.6V1317.76H1235.93zM1723.54 1306.79H1740.95V1312.57H1723.54zM1740.35 1301.61H1757.76V1307.39H1740.35zM1219.11 1296.43H1320.6V1307.39H1219.11zM1757.16 1296.43H1791.39V1302.21H1757.16zM1202.3 1291.25H1320.6V1297.03H1202.3zM1790.79 1291.25H1808.21V1297.03H1790.79zM1807.61 1286.07H1825.02V1291.85H1807.61zM1202.3 1280.88H1303.78V1291.85H1202.3zM1824.42 1275.7H1841.83V1281.48H1824.42zM1185.49 1270.52H1303.78V1281.48H1185.49zM1841.23 1270.52H1858.65V1276.3H1841.23zM1185.49 1265.34H1286.97V1271.12H1185.49zM1858.05 1265.34H1875.46V1271.12H1858.05zM1874.86 1260.16H1892.28V1265.94H1874.86zM1891.68 1254.98H1909.09V1260.76H1891.68zM1168.67 1244.61H1286.97V1265.94H1168.67zM1908.49 1244.61H1925.9V1250.39H1908.49zM1925.3 1239.43H1942.72V1245.21H1925.3zM1942.12 1229.07H1959.53V1234.85H1942.12zM1958.93 1223.89H1976.35V1229.67H1958.93zM1151.86 1218.71H1270.16V1245.21H1151.86zM1975.75 1213.52H1993.16V1219.31H1975.75zM1151.86 1203.16H1253.34V1219.31H1151.86zM1992.56 1203.16H2009.97V1208.94H1992.56zM2009.37 1192.8H2026.79V1198.58H2009.37zM2026.19 1182.43H2043.6V1188.22H2026.19zM1135.04 1177.25H1253.34V1203.76H1135.04zM2043 1172.07H2060.42V1177.85H2043zM2059.82 1156.53H2077.23V1162.31H2059.82zM1135.04 1140.98H1236.53V1177.85H1135.04zM1118.23 1134.3H1236.53V1141.58H1118.23z"/>
<path fill="#eaba31" d="M1303.18 1700.59H1320.6V1727.1H1303.18zM1320 1638.41H1337.41V1690.83H1320zM1303.18 1581.42H1320.6V1633.83H1303.18zM1320 1534.78H1337.41V1571.65H1320zM1303.18 1472.6H1320.6V1530.2H1303.18zM1320 1436.33H1337.41V1468.02H1320zM1336.81 1410.42H1354.23V1436.93H1336.81zM1336.81 1405.24H1371.04V1411.02H1336.81zM1353.63 1384.52H1371.04V1405.84H1353.63zM1370.44 1379.33H1404.67V1385.12H1370.44zM1235.93 1374.15H1270.16V1379.93H1235.93zM1387.25 1374.15H1421.48V1379.93H1387.25zM1420.88 1368.97H1438.3V1374.75H1420.88zM1235.93 1363.79H1303.78V1374.75H1235.93zM1420.88 1363.79H1455.11V1369.57H1420.88zM1454.51 1358.61H1488.74V1364.39H1454.51zM1219.11 1353.43H1303.78V1364.39H1219.11zM1202.3 1348.24H1286.97V1354.03H1202.3zM1521.77 1348.24H1539.18V1354.03H1521.77zM1185.49 1343.06H1286.97V1348.84H1185.49zM1538.58 1343.06H1572.81V1348.84H1538.58zM1185.49 1337.88H1270.16V1343.66H1185.49zM1572.21 1337.88H1606.44V1343.66H1572.21zM1168.67 1332.7H1270.16V1338.48H1168.67zM1605.84 1332.7H1640.06V1338.48H1605.84zM1639.46 1327.52H1656.88V1333.3H1639.46zM1151.86 1322.34H1253.34V1333.3H1151.86zM1656.28 1322.34H1673.69V1328.12H1656.28zM1673.09 1317.16H1707.32V1322.94H1673.09zM1135.04 1311.97H1236.53V1322.94H1135.04zM1118.23 1306.79H1236.53V1312.57H1118.23zM1118.23 1301.61H1219.71V1307.39H1118.23zM1101.42 1296.43H1219.71V1302.21H1101.42zM1101.42 1291.25H1202.9V1297.03H1101.42zM1084.6 1280.88H1202.9V1291.85H1084.6zM1067.79 1265.34H1186.09V1281.48H1067.79zM1050.97 1244.61H1169.27V1265.94H1050.97zM1034.16 1203.16H1152.46V1245.21H1034.16zM1034.16 1197.98H1135.64V1203.76H1034.16zM1017.35 1151.34H1135.64V1198.58H1017.35zM1000.53 1140.98H1135.64V1151.94H1000.53zM1000.53 1134.3H1118.83V1141.58H1000.53z"/>
<path fill="#ecba33" d="M1286.37 1710.96H1303.78V1727.1H1286.37zM1303.18 1633.23H1320.6V1701.19H1303.18zM1286.37 1591.78H1303.78V1623.47H1286.37zM1303.18 1529.6H1320.6V1582.02H1303.18zM1286.37 1477.78H1303.78V1514.66H1286.37zM1303.18 1436.33H1320.6V1473.2H1303.18zM1320 1405.24H1337.41V1436.93H1320zM1320 1400.06H1354.23V1405.84H1320zM1151.86 1389.7H1186.09V1395.48H1151.86zM1135.04 1384.52H1202.9V1390.3H1135.04zM1336.81 1384.52H1354.23V1400.66H1336.81zM1135.04 1379.33H1236.53V1385.12H1135.04zM1336.81 1379.33H1371.04V1385.12H1336.81zM1353.63 1374.15H1387.85V1379.93H1353.63zM1118.23 1368.97H1236.53V1379.93H1118.23zM1370.44 1368.97H1421.48V1374.75H1370.44zM1101.42 1363.79H1236.53V1369.57H1101.42zM1387.25 1363.79H1421.48V1369.57H1387.25zM1084.6 1358.61H1219.71V1364.39H1084.6zM1420.88 1358.61H1455.11V1364.39H1420.88zM1067.79 1353.43H1219.71V1359.21H1067.79zM1454.51 1353.43H1505.55V1359.21H1454.51zM1067.79 1348.24H1202.9V1354.03H1067.79zM1504.95 1348.24H1522.37V1354.03H1504.95zM1050.97 1343.06H1186.09V1348.84H1050.97zM1034.16 1337.88H1186.09V1343.66H1034.16zM1034.16 1332.7H1169.27V1338.48H1034.16zM1017.35 1322.34H1152.46V1333.3H1017.35zM1000.53 1311.97H1135.64V1322.94H1000.53zM983.72 1301.61H1118.83V1312.57H983.72zM983.72 1296.43H1102.02V1302.21H983.72zM966.9 1291.25H1102.02V1297.03H966.9zM966.9 1280.88H1085.2V1291.85H966.9zM950.09 1265.34H1068.39V1281.48H950.09zM933.28 1244.61H1051.57V1265.94H933.28zM933.28 1239.43H1034.76V1245.21H933.28zM916.46 1213.52H1034.76V1240.03H916.46zM899.65 1197.98H1034.76V1214.12H899.65zM899.65 1192.8H1017.95V1198.58H899.65zM882.83 1166.89H1017.95V1193.4H882.83zM866.02 1151.34H1017.95V1167.49H866.02zM849.21 1134.3H1001.13V1151.94H849.21z"/>
<path fill="#efba35" d="M1286.37 1622.87H1303.78V1711.56H1286.37zM1286.37 1514.06H1303.78V1592.38H1286.37zM1286.37 1436.33H1303.78V1478.38H1286.37zM1034.16 1415.61H1068.39V1421.39H1034.16zM1017.35 1410.42H1102.02V1416.21H1017.35zM1017.35 1405.24H1118.83V1411.02H1017.35zM1000.53 1400.06H1135.64V1405.84H1000.53zM1303.18 1400.06H1320.6V1436.93H1303.18zM983.72 1389.7H1152.46V1400.66H983.72zM966.9 1384.52H1135.64V1390.3H966.9zM950.09 1379.33H1135.64V1385.12H950.09zM1320 1379.33H1337.41V1400.66H1320zM950.09 1374.15H1118.83V1379.93H950.09zM1320 1374.15H1354.23V1379.93H1320zM933.28 1368.97H1118.83V1374.75H933.28zM1336.81 1368.97H1371.04V1374.75H1336.81zM933.28 1363.79H1102.02V1369.57H933.28zM1353.63 1363.79H1387.85V1369.57H1353.63zM916.46 1358.61H1085.2V1364.39H916.46zM1353.63 1358.61H1421.48V1364.39H1353.63zM916.46 1353.43H1068.39V1359.21H916.46zM1420.88 1353.43H1455.11V1359.21H1420.88zM899.65 1348.24H1068.39V1354.03H899.65zM1454.51 1348.24H1505.55V1354.03H1454.51zM899.65 1343.06H1051.57V1348.84H899.65zM1504.95 1343.06H1539.18V1348.84H1504.95zM1538.58 1337.88H1572.81V1343.66H1538.58zM882.83 1332.7H1034.76V1343.66H882.83zM1572.21 1332.7H1606.44V1338.48H1572.21zM1605.84 1327.52H1640.06V1333.3H1605.84zM866.02 1322.34H1017.95V1333.3H866.02zM1639.46 1322.34H1656.88V1328.12H1639.46zM1656.28 1317.16H1673.69V1322.94H1656.28zM849.21 1311.97H1001.13V1322.94H849.21zM1673.09 1311.97H1707.32V1317.76H1673.09zM849.21 1306.79H984.32V1312.57H849.21zM1706.72 1306.79H1724.14V1312.57H1706.72zM1723.54 1301.61H1740.95V1307.39H1723.54zM832.39 1296.43H984.32V1307.39H832.39zM1740.35 1296.43H1757.76V1302.21H1740.35zM1757.16 1291.25H1791.39V1297.03H1757.16zM832.39 1286.07H967.5V1297.03H832.39zM1790.79 1286.07H1808.21V1291.85H1790.79zM815.58 1280.88H967.5V1286.67H815.58zM1807.61 1280.88H1825.02V1286.67H1807.61zM1824.42 1270.52H1841.83V1276.3H1824.42zM815.58 1265.34H950.69V1281.48H815.58zM1841.23 1265.34H1858.65V1271.12H1841.23zM1858.05 1260.16H1875.46V1265.94H1858.05zM815.58 1254.98H933.88V1265.94H815.58zM1874.86 1254.98H1892.28V1260.76H1874.86zM1891.68 1249.79H1909.09V1255.58H1891.68zM798.76 1244.61H933.88V1255.58H798.76zM781.95 1239.43H933.88V1245.21H781.95zM1908.49 1239.43H1925.9V1245.21H1908.49zM1925.3 1234.25H1942.72V1240.03H1925.3zM781.95 1229.07H917.06V1240.03H781.95zM1942.12 1223.89H1959.53V1229.67H1942.12zM765.14 1218.71H917.06V1229.67H765.14zM1958.93 1218.71H1976.35V1224.49H1958.93zM748.32 1213.52H917.06V1219.31H748.32zM748.32 1208.34H900.25V1214.12H748.32zM1975.75 1208.34H1993.16V1214.12H1975.75zM731.51 1197.98H900.25V1208.94H731.51zM1992.56 1197.98H2009.97V1203.76H1992.56zM714.69 1192.8H900.25V1198.58H714.69zM714.69 1187.62H883.43V1193.4H714.69zM2009.37 1187.62H2026.79V1193.4H2009.37zM697.88 1182.43H883.43V1188.22H697.88zM2026.19 1177.25H2043.6V1183.03H2026.19zM681.06 1172.07H883.43V1183.03H681.06zM664.25 1166.89H883.43V1172.67H664.25zM2043 1166.89H2060.42V1172.67H2043zM664.25 1161.71H866.62V1167.49H664.25zM647.44 1151.34H866.62V1162.31H647.44zM2059.82 1151.34H2077.23V1157.13H2059.82zM630.62 1140.98H849.81V1151.94H630.62zM613.81 1134.3H849.81V1141.58H613.81z"/>
<path fill="#f1ba37" d="M950.09 1451.88H967.5V1457.66H950.09zM933.28 1446.69H967.5V1452.48H933.28zM916.46 1441.51H984.32V1447.29H916.46zM916.46 1436.33H1001.13V1442.11H916.46zM1269.56 1436.33H1286.97V1727.1H1269.56zM899.65 1431.15H1017.95V1436.93H899.65zM882.83 1425.97H1034.76V1431.75H882.83zM882.83 1420.79H1051.57V1426.57H882.83zM866.02 1415.61H1034.76V1421.39H866.02zM849.21 1405.24H1017.95V1416.21H849.21zM832.39 1400.06H1001.13V1405.84H832.39zM1286.37 1400.06H1303.78V1436.93H1286.37zM1286.37 1394.88H1320.6V1400.66H1286.37zM815.58 1389.7H984.32V1400.66H815.58zM798.76 1384.52H967.5V1390.3H798.76zM781.95 1374.15H950.69V1385.12H781.95zM1303.18 1374.15H1320.6V1395.48H1303.18zM765.14 1368.97H933.88V1374.75H765.14zM1320 1368.97H1337.41V1374.75H1320zM748.32 1363.79H933.88V1369.57H748.32zM731.51 1358.61H917.06V1364.39H731.51zM714.69 1353.43H917.06V1359.21H714.69zM697.88 1343.06H900.25V1354.03H697.88zM681.06 1337.88H883.43V1343.66H681.06zM664.25 1332.7H883.43V1338.48H664.25zM664.25 1322.34H866.62V1333.3H664.25zM647.44 1311.97H849.81V1322.94H647.44zM630.62 1306.79H849.81V1312.57H630.62zM630.62 1296.43H832.99V1307.39H630.62zM613.81 1286.07H832.99V1297.03H613.81zM613.81 1280.88H816.18V1286.67H613.81zM596.99 1265.34H816.18V1281.48H596.99zM580.18 1254.98H816.18V1265.94H580.18zM580.18 1249.79H799.36V1255.58H580.18zM563.37 1244.61H799.36V1250.39H563.37zM563.37 1229.07H782.55V1245.21H563.37zM546.55 1218.71H765.74V1229.67H546.55zM546.55 1213.52H748.92V1219.31H546.55zM529.74 1208.34H748.92V1214.12H529.74zM529.74 1197.98H732.11V1208.94H529.74zM529.74 1192.8H715.29V1198.58H529.74zM512.92 1187.62H715.29V1193.4H512.92zM512.92 1182.43H698.48V1188.22H512.92zM496.11 1172.07H681.66V1183.03H496.11zM496.11 1166.89H664.85V1172.67H496.11zM479.3 1161.71H664.85V1167.49H479.3zM479.3 1151.34H648.04V1162.31H479.3zM462.48 1140.98H631.22V1151.94H462.48zM462.48 1134.3H614.41V1141.58H462.48z"/>
<path fill="#f3ba38" d="M866.02 1482.97H900.25V1488.75H866.02zM849.21 1477.78H917.06V1483.57H849.21zM832.39 1472.6H917.06V1478.38H832.39zM815.58 1462.24H933.88V1473.2H815.58zM798.76 1457.06H950.69V1462.84H798.76zM781.95 1451.88H950.69V1457.66H781.95zM781.95 1446.69H933.88V1452.48H781.95zM765.14 1441.51H917.06V1447.29H765.14zM1252.74 1441.51H1270.16V1727.1H1252.74zM748.32 1436.33H917.06V1442.11H748.32zM731.51 1431.15H900.25V1436.93H731.51zM731.51 1425.97H883.43V1431.75H731.51zM714.69 1420.79H883.43V1426.57H714.69zM697.88 1415.61H866.62V1421.39H697.88zM681.06 1410.42H849.81V1416.21H681.06zM664.25 1405.24H849.81V1411.02H664.25zM647.44 1400.06H832.99V1405.84H647.44zM630.62 1394.88H816.18V1400.66H630.62zM1269.56 1394.88H1286.97V1436.93H1269.56zM613.81 1389.7H816.18V1395.48H613.81zM580.18 1384.52H799.36V1390.3H580.18zM563.37 1374.15H782.55V1385.12H563.37zM1286.37 1374.15H1303.78V1395.48H1286.37zM546.55 1368.97H765.74V1374.75H546.55zM1303.18 1368.97H1320.6V1374.75H1303.18zM529.74 1363.79H748.92V1369.57H529.74zM529.74 1358.61H732.11V1364.39H529.74zM512.92 1353.43H715.29V1359.21H512.92zM512.92 1348.24H698.48V1354.03H512.92zM496.11 1343.06H698.48V1348.84H496.11zM496.11 1337.88H681.66V1343.66H496.11zM496.11 1332.7H664.85V1338.48H496.11zM479.3 1322.34H664.85V1333.3H479.3zM479.3 1311.97H648.04V1322.94H479.3zM479.3 1306.79H631.22V1312.57H479.3zM462.48 1296.43H631.22V1307.39H462.48zM462.48 1286.07H614.41V1297.03H462.48zM445.67 1280.88H614.41V1286.67H445.67zM445.67 1265.34H597.59V1281.48H445.67zM428.85 1249.79H580.78V1265.94H428.85zM428.85 1244.61H563.97V1250.39H428.85zM412.04 1229.07H563.97V1245.21H412.04zM412.04 1223.89H547.15V1229.67H412.04zM395.23 1213.52H547.15V1224.49H395.23zM395.23 1208.34H530.34V1214.12H395.23zM378.41 1192.8H530.34V1208.94H378.41zM361.6 1182.43H513.52V1193.4H361.6zM361.6 1177.25H496.71V1183.03H361.6zM344.78 1166.89H496.71V1177.85H344.78zM344.78 1161.71H479.9V1167.49H344.78zM327.97 1151.34H479.9V1162.31H327.97zM311.16 1134.3H463.08V1151.94H311.16z"/>
<path fill="#f5ba3a" d="M1235.93 1643.59H1253.34V1685.65H1235.93zM832.39 1519.24H849.81V1525.02H832.39zM815.58 1514.06H849.81V1519.84H815.58zM798.76 1508.87H866.62V1514.66H798.76zM781.95 1503.69H866.62V1509.47H781.95zM1235.93 1503.69H1253.34V1582.02H1235.93zM765.14 1498.51H866.62V1504.29H765.14zM748.32 1488.15H883.43V1499.11H748.32zM731.51 1482.97H866.62V1488.75H731.51zM714.69 1477.78H849.81V1483.57H714.69zM714.69 1472.6H832.99V1478.38H714.69zM697.88 1467.42H816.18V1473.2H697.88zM681.06 1462.24H816.18V1468.02H681.06zM664.25 1457.06H799.36V1462.84H664.25zM664.25 1451.88H782.55V1457.66H664.25zM647.44 1446.69H782.55V1452.48H647.44zM630.62 1441.51H765.74V1447.29H630.62zM613.81 1436.33H748.92V1442.11H613.81zM596.99 1431.15H732.11V1436.93H596.99zM580.18 1425.97H732.11V1431.75H580.18zM546.55 1420.79H715.29V1426.57H546.55zM529.74 1415.61H698.48V1421.39H529.74zM512.92 1410.42H681.66V1416.21H512.92zM496.11 1405.24H664.85V1411.02H496.11zM479.3 1400.06H648.04V1405.84H479.3zM462.48 1394.88H631.22V1400.66H462.48zM1252.74 1394.88H1270.16V1442.11H1252.74zM445.67 1389.7H614.41V1395.48H445.67zM445.67 1384.52H580.78V1390.3H445.67zM428.85 1379.33H563.97V1385.12H428.85zM412.04 1374.15H563.97V1379.93H412.04zM1269.56 1374.15H1286.97V1395.48H1269.56zM412.04 1368.97H547.15V1374.75H412.04zM412.04 1363.79H530.34V1369.57H412.04zM395.23 1358.61H530.34V1364.39H395.23zM395.23 1348.24H513.52V1359.21H395.23zM378.41 1332.7H496.71V1348.84H378.41zM378.41 1322.34H479.9V1333.3H378.41zM361.6 1306.79H479.9V1322.94H361.6zM361.6 1301.61H463.08V1307.39H361.6zM344.78 1286.07H463.08V1302.21H344.78zM344.78 1280.88H446.27V1286.67H344.78zM327.97 1265.34H446.27V1281.48H327.97zM327.97 1260.16H429.45V1265.94H327.97zM311.16 1244.61H429.45V1260.76H311.16zM294.34 1229.07H412.64V1245.21H294.34zM277.53 1223.89H412.64V1229.67H277.53zM277.53 1218.71H395.83V1224.49H277.53zM260.71 1208.34H395.83V1219.31H260.71zM260.71 1203.16H379.01V1208.94H260.71zM243.9 1192.8H379.01V1203.76H243.9zM243.9 1177.25H362.2V1193.4H243.9zM243.9 1161.71H345.38V1177.85H243.9zM243.9 1151.34H328.57V1162.31H243.9zM243.9 1134.3H311.76V1151.94H243.9z"/>
<path fill="#f7ba3c" d="M1235.93 1685.05H1253.34V1727.1H1235.93zM1235.93 1581.42H1253.34V1644.19H1235.93zM781.95 1550.33H816.18V1556.11H781.95zM765.14 1545.14H816.18V1550.93H765.14zM748.32 1539.96H816.18V1545.74H748.32zM731.51 1534.78H832.99V1540.56H731.51zM714.69 1529.6H832.99V1535.38H714.69zM697.88 1519.24H832.99V1530.2H697.88zM1219.11 1519.24H1236.53V1566.47H1219.11zM681.06 1514.06H816.18V1519.84H681.06zM664.25 1508.87H799.36V1514.66H664.25zM664.25 1503.69H782.55V1509.47H664.25zM647.44 1498.51H765.74V1504.29H647.44zM630.62 1488.15H748.92V1499.11H630.62zM613.81 1482.97H732.11V1488.75H613.81zM596.99 1477.78H715.29V1483.57H596.99zM580.18 1472.6H715.29V1478.38H580.18zM563.37 1467.42H698.48V1473.2H563.37zM546.55 1462.24H681.66V1468.02H546.55zM529.74 1457.06H664.85V1462.84H529.74zM512.92 1451.88H664.85V1457.66H512.92zM496.11 1446.69H648.04V1452.48H496.11zM479.3 1441.51H631.22V1447.29H479.3zM462.48 1436.33H614.41V1442.11H462.48zM445.67 1431.15H597.59V1436.93H445.67zM428.85 1425.97H580.78V1431.75H428.85zM412.04 1420.79H547.15V1426.57H412.04zM395.23 1415.61H530.34V1421.39H395.23zM378.41 1410.42H513.52V1416.21H378.41zM378.41 1405.24H496.71V1411.02H378.41zM361.6 1400.06H479.9V1405.84H361.6zM344.78 1394.88H463.08V1400.66H344.78zM1235.93 1394.88H1253.34V1504.29H1235.93zM1235.93 1389.7H1270.16V1395.48H1235.93zM344.78 1384.52H446.27V1395.48H344.78zM327.97 1379.33H429.45V1385.12H327.97zM1252.74 1379.33H1270.16V1390.3H1252.74zM327.97 1374.15H412.64V1379.93H327.97zM311.16 1363.79H412.64V1374.75H311.16zM311.16 1353.43H395.83V1364.39H311.16zM294.34 1348.24H395.83V1354.03H294.34zM294.34 1337.88H379.01V1348.84H294.34zM277.53 1327.52H379.01V1338.48H277.53zM260.71 1322.34H379.01V1328.12H260.71zM260.71 1311.97H362.2V1322.94H260.71zM243.9 1301.61H362.2V1312.57H243.9zM243.9 1280.88H345.38V1302.21H243.9zM243.9 1260.16H328.57V1281.48H243.9zM243.9 1244.61H311.76V1260.76H243.9zM243.9 1229.07H294.94V1245.21H243.9zM243.9 1218.71H278.13V1229.67H243.9zM243.9 1203.16H261.31V1219.31H243.9z"/>
<path fill="#f9bb3d" d="M1219.11 1612.51H1236.53V1721.92H1219.11zM748.32 1596.96H782.55V1602.74H748.32zM714.69 1591.78H782.55V1597.56H714.69zM681.06 1586.6H782.55V1592.38H681.06zM647.44 1581.42H782.55V1587.2H647.44zM630.62 1576.23H782.55V1582.02H630.62zM613.81 1571.05H799.36V1576.83H613.81zM1219.11 1565.87H1236.53V1602.74H1219.11zM596.99 1560.69H799.36V1571.65H596.99zM580.18 1555.51H799.36V1561.29H580.18zM580.18 1550.33H782.55V1556.11H580.18zM563.37 1545.14H765.74V1550.93H563.37zM563.37 1539.96H748.92V1545.74H563.37zM546.55 1534.78H732.11V1540.56H546.55zM546.55 1529.6H715.29V1535.38H546.55zM1202.3 1529.6H1219.71V1556.11H1202.3zM546.55 1524.42H698.48V1530.2H546.55zM529.74 1519.24H698.48V1525.02H529.74zM529.74 1514.06H681.66V1519.84H529.74zM512.92 1503.69H664.85V1514.66H512.92zM496.11 1498.51H648.04V1504.29H496.11zM479.3 1488.15H631.22V1499.11H479.3zM462.48 1482.97H614.41V1488.75H462.48zM445.67 1477.78H597.59V1483.57H445.67zM428.85 1472.6H580.78V1478.38H428.85zM395.23 1467.42H563.97V1473.2H395.23zM378.41 1462.24H547.15V1468.02H378.41zM933.28 1462.24H950.69V1468.02H933.28zM344.78 1457.06H530.34V1462.84H344.78zM327.97 1451.88H513.52V1457.66H327.97zM327.97 1446.69H496.71V1452.48H327.97zM966.9 1446.69H984.32V1452.48H966.9zM311.16 1441.51H479.9V1447.29H311.16zM294.34 1436.33H463.08V1442.11H294.34zM1000.53 1436.33H1017.95V1442.11H1000.53zM277.53 1431.15H446.27V1436.93H277.53zM1017.35 1431.15H1034.76V1436.93H1017.35zM277.53 1425.97H429.45V1431.75H277.53zM277.53 1420.79H412.64V1426.57H277.53zM260.71 1415.61H395.83V1421.39H260.71zM260.71 1410.42H379.01V1416.21H260.71zM243.9 1405.24H379.01V1411.02H243.9zM243.9 1400.06H362.2V1405.84H243.9zM1219.11 1389.7H1236.53V1519.84H1219.11zM243.9 1384.52H345.38V1400.66H243.9zM1235.93 1379.33H1253.34V1390.3H1235.93zM243.9 1374.15H328.57V1385.12H243.9zM243.9 1353.43H311.76V1374.75H243.9zM243.9 1337.88H294.94V1354.03H243.9zM243.9 1327.52H278.13V1338.48H243.9zM243.9 1311.97H261.31V1328.12H243.9z"/>
<path fill="#fabb3d" d="M1219.11 1721.32H1236.53V1727.1H1219.11zM243.9 1690.23H732.11V1727.1H243.9zM243.9 1633.23H748.92V1690.83H243.9zM1202.3 1622.87H1219.71V1711.56H1202.3zM243.9 1602.14H765.74V1633.83H243.9zM1219.11 1602.14H1236.53V1613.11H1219.11zM243.9 1596.96H748.92V1602.74H243.9zM243.9 1591.78H715.29V1597.56H243.9zM243.9 1586.6H681.66V1592.38H243.9zM243.9 1581.42H648.04V1587.2H243.9zM243.9 1576.23H631.22V1582.02H243.9zM243.9 1571.05H614.41V1576.83H243.9zM243.9 1560.69H597.59V1571.65H243.9zM1202.3 1555.51H1219.71V1597.56H1202.3zM243.9 1550.33H580.78V1561.29H243.9zM243.9 1539.96H563.97V1550.93H243.9zM243.9 1524.42H547.15V1540.56H243.9zM243.9 1514.06H530.34V1525.02H243.9zM243.9 1503.69H513.52V1514.66H243.9zM243.9 1498.51H496.71V1504.29H243.9zM1202.3 1493.33H1219.71V1530.2H1202.3zM243.9 1488.15H479.9V1499.11H243.9zM882.83 1488.15H900.25V1499.11H882.83zM243.9 1482.97H463.08V1488.75H243.9zM899.65 1482.97H917.06V1488.75H899.65zM243.9 1477.78H446.27V1483.57H243.9zM243.9 1472.6H429.45V1478.38H243.9zM916.46 1472.6H933.88V1478.38H916.46zM243.9 1467.42H395.83V1473.2H243.9zM243.9 1462.24H379.01V1468.02H243.9zM243.9 1457.06H345.38V1462.84H243.9zM966.9 1451.88H984.32V1457.66H966.9zM243.9 1446.69H328.57V1457.66H243.9zM243.9 1441.51H311.76V1447.29H243.9zM983.72 1441.51H1001.13V1447.29H983.72zM243.9 1436.33H294.94V1442.11H243.9zM243.9 1420.79H278.13V1436.93H243.9zM243.9 1410.42H261.31V1421.39H243.9zM1202.3 1389.7H1219.71V1483.57H1202.3zM1219.11 1384.52H1236.53V1390.3H1219.11z"/>
<path fill="#fcbc3d" d="M1202.3 1710.96H1219.71V1727.1H1202.3zM1185.49 1622.87H1202.9V1706.37H1185.49zM1202.3 1596.96H1219.71V1623.47H1202.3zM849.21 1514.06H866.62V1525.02H849.21zM866.02 1498.51H883.43V1514.66H866.02zM1185.49 1498.51H1202.9V1592.38H1185.49zM1202.3 1482.97H1219.71V1493.93H1202.3zM933.28 1467.42H950.69V1473.2H933.28zM950.09 1457.06H967.5V1462.84H950.09zM1067.79 1415.61H1085.2V1421.39H1067.79zM1185.49 1389.7H1202.9V1483.57H1185.49zM1202.3 1384.52H1219.71V1390.3H1202.3z"/>
<path fill="#fdbd3d" d="M1185.49 1705.77H1202.9V1727.1H1185.49zM1168.67 1622.87H1186.09V1706.37H1168.67zM1185.49 1591.78H1202.9V1623.47H1185.49zM781.95 1576.23H799.36V1582.02H781.95zM798.76 1555.51H816.18V1561.29H798.76zM815.58 1539.96H832.99V1550.93H815.58zM832.39 1524.42H849.81V1540.56H832.39zM1168.67 1498.51H1186.09V1592.38H1168.67zM1168.67 1493.33H1202.9V1499.11H1168.67zM1185.49 1488.15H1202.9V1493.93H1185.49zM1168.67 1482.97H1202.9V1488.75H1168.67zM916.46 1477.78H933.88V1483.57H916.46zM1050.97 1420.79H1068.39V1426.57H1050.97zM1168.67 1394.88H1186.09V1483.57H1168.67z"/>
<path fill="#febe3c" d="M1168.67 1721.32H1186.09V1727.1H1168.67zM1151.86 1705.77H1186.09V1721.92H1151.86zM748.32 1633.23H765.74V1644.19H748.32zM1151.86 1622.87H1169.27V1706.37H1151.86zM765.14 1602.14H782.55V1607.92H765.14zM1151.86 1591.78H1186.09V1623.47H1151.86zM781.95 1581.42H799.36V1602.74H781.95zM798.76 1560.69H816.18V1576.83H798.76zM815.58 1550.33H832.99V1556.11H815.58zM1151.86 1493.33H1169.27V1592.38H1151.86zM1151.86 1488.15H1186.09V1493.93H1151.86zM1034.16 1425.97H1051.57V1431.75H1034.16zM1151.86 1394.88H1169.27V1488.75H1151.86z"/>
<path fill="#fec03b" d="M1135.04 1721.32H1169.27V1727.1H1135.04zM731.51 1690.23H748.92V1727.1H731.51zM748.32 1643.59H765.74V1654.56H748.32zM765.14 1607.32H782.55V1633.83H765.14zM1135.04 1498.51H1152.46V1721.92H1135.04zM1118.23 1488.15H1152.46V1499.11H1118.23zM1135.04 1400.06H1152.46V1488.75H1135.04z"/>
<path fill="#fec13a" d="M1101.42 1716.14H1135.64V1727.1H1101.42zM748.32 1653.96H765.74V1690.83H748.32zM1118.23 1617.69H1135.64V1716.74H1118.23zM1101.42 1596.96H1135.64V1618.29H1101.42zM1118.23 1503.69H1135.64V1597.56H1118.23zM1101.42 1498.51H1135.64V1504.29H1101.42zM1101.42 1488.15H1118.83V1499.11H1101.42zM1101.42 1482.97H1135.64V1488.75H1101.42zM983.72 1446.69H1001.13V1452.48H983.72zM1118.23 1405.24H1135.64V1483.57H1118.23z"/>
<path fill="#fec239" d="M1084.6 1716.14H1102.02V1727.1H1084.6zM1101.42 1622.87H1118.83V1716.74H1101.42zM1084.6 1617.69H1118.83V1623.47H1084.6zM1084.6 1596.96H1102.02V1618.29H1084.6zM1101.42 1503.69H1118.83V1597.56H1101.42zM1084.6 1482.97H1102.02V1504.29H1084.6zM950.09 1462.24H967.5V1468.02H950.09zM1101.42 1410.42H1118.83V1483.57H1101.42z"/>
<path fill="#fec438" d="M1067.79 1716.14H1085.2V1727.1H1067.79zM1084.6 1622.87H1102.02V1716.74H1084.6zM1067.79 1596.96H1085.2V1623.47H1067.79zM1084.6 1503.69H1102.02V1597.56H1084.6zM1067.79 1493.33H1085.2V1499.11H1067.79zM916.46 1482.97H933.88V1488.75H916.46zM933.28 1472.6H950.69V1478.38H933.28zM1034.16 1431.15H1051.57V1436.93H1034.16zM1084.6 1415.61H1102.02V1483.57H1084.6z"/>
<path fill="#fec537" d="M1050.97 1716.14H1068.39V1727.1H1050.97zM1067.79 1622.87H1085.2V1716.74H1067.79zM815.58 1555.51H832.99V1561.29H815.58zM882.83 1498.51H900.25V1514.66H882.83zM1067.79 1498.51H1085.2V1597.56H1067.79zM899.65 1488.15H917.06V1499.11H899.65zM1000.53 1441.51H1017.95V1447.29H1000.53zM1017.35 1436.33H1034.76V1442.11H1017.35zM1067.79 1436.33H1085.2V1493.93H1067.79z"/>
<path fill="#fec735" d="M765.14 1633.23H782.55V1639.01H765.14zM781.95 1602.14H799.36V1607.92H781.95zM798.76 1576.23H816.18V1582.02H798.76zM849.21 1524.42H866.62V1530.2H849.21zM866.02 1514.06H883.43V1525.02H866.02zM983.72 1451.88H1001.13V1457.66H983.72zM1050.97 1451.88H1068.39V1716.74H1050.97zM1067.79 1420.79H1085.2V1436.93H1067.79z"/>
<path fill="#fec834" d="M1034.16 1685.05H1051.57V1727.1H1034.16zM765.14 1638.41H782.55V1644.19H765.14zM1034.16 1571.05H1051.57V1659.74H1034.16zM832.39 1539.96H849.81V1545.74H832.39zM849.21 1529.6H866.62V1540.56H849.21zM1034.16 1467.42H1051.57V1550.93H1034.16zM966.9 1457.06H984.32V1462.84H966.9zM1000.53 1446.69H1017.95V1452.48H1000.53zM1050.97 1425.97H1068.39V1452.48H1050.97z"/>
<path fill="#feca33" d="M1017.35 1695.41H1034.76V1727.1H1017.35zM748.32 1690.23H765.74V1727.1H748.32zM1034.16 1659.14H1051.57V1685.65H1034.16zM798.76 1591.78H816.18V1602.74H798.76zM1017.35 1586.6H1034.76V1649.38H1017.35zM815.58 1560.69H832.99V1576.83H815.58zM1034.16 1550.33H1051.57V1571.65H1034.16zM832.39 1545.14H849.81V1556.11H832.39zM1017.35 1488.15H1034.76V1540.56H1017.35zM950.09 1467.42H967.5V1473.2H950.09zM1034.16 1436.33H1051.57V1468.02H1034.16z"/>
<path fill="#fdcb32" d="M1000.53 1700.59H1017.95V1727.1H1000.53zM1017.35 1648.78H1034.76V1696.01H1017.35zM781.95 1607.32H799.36V1633.83H781.95zM1000.53 1596.96H1017.95V1639.01H1000.53zM798.76 1581.42H816.18V1592.38H798.76zM1017.35 1539.96H1034.76V1587.2H1017.35zM1000.53 1498.51H1017.95V1535.38H1000.53zM933.28 1477.78H950.69V1483.57H933.28zM966.9 1462.24H984.32V1468.02H966.9zM1017.35 1441.51H1034.76V1488.75H1017.35z"/>
<path fill="#fdcd32" d="M983.72 1710.96H1001.13V1727.1H983.72zM765.14 1643.59H782.55V1670.1H765.14zM1000.53 1638.41H1017.95V1701.19H1000.53zM1000.53 1534.78H1017.95V1597.56H1000.53zM983.72 1498.51H1001.13V1530.2H983.72zM950.09 1472.6H967.5V1478.38H950.09zM1000.53 1451.88H1017.95V1499.11H1000.53z"/>
<path fill="#fcce31" d="M966.9 1721.32H984.32V1727.1H966.9zM765.14 1669.5H782.55V1690.83H765.14zM798.76 1602.14H816.18V1607.92H798.76zM832.39 1555.51H849.81V1561.29H832.39zM983.72 1529.6H1001.13V1711.56H983.72zM966.9 1498.51H984.32V1525.02H966.9zM916.46 1488.15H933.88V1499.11H916.46zM933.28 1482.97H950.69V1488.75H933.28zM983.72 1457.06H1001.13V1499.11H983.72z"/>
<path fill="#fcd030" d="M781.95 1633.23H799.36V1644.19H781.95zM815.58 1576.23H832.99V1582.02H815.58zM966.9 1524.42H984.32V1721.92H966.9zM899.65 1498.51H917.06V1514.66H899.65zM950.09 1498.51H967.5V1525.02H950.09zM966.9 1467.42H984.32V1499.11H966.9z"/>
<path fill="#fbd22f" d="M950.09 1581.42H967.5V1727.1H950.09zM950.09 1524.42H967.5V1556.11H950.09zM882.83 1514.06H900.25V1525.02H882.83zM933.28 1498.51H950.69V1519.84H933.28zM950.09 1477.78H967.5V1499.11H950.09z"/>
<path fill="#fbd32e" d="M765.14 1690.23H782.55V1727.1H765.14zM933.28 1690.23H950.69V1727.1H933.28zM933.28 1591.78H950.69V1664.92H933.28zM950.09 1555.51H967.5V1582.02H950.09zM866.02 1524.42H883.43V1540.56H866.02zM933.28 1519.24H950.69V1550.93H933.28zM916.46 1503.69H933.88V1519.84H916.46zM933.28 1488.15H950.69V1499.11H933.28z"/>
<path fill="#fad52e" d="M916.46 1700.59H933.88V1727.1H916.46zM933.28 1664.32H950.69V1690.83H933.28zM916.46 1596.96H933.88V1654.56H916.46zM933.28 1550.33H950.69V1592.38H933.28zM849.21 1539.96H866.62V1550.93H849.21zM916.46 1519.24H933.88V1545.74H916.46zM899.65 1514.06H917.06V1519.84H899.65zM916.46 1498.51H933.88V1504.29H916.46z"/>
<path fill="#f9d62d" d="M899.65 1710.96H917.06V1727.1H899.65zM916.46 1653.96H933.88V1701.19H916.46zM798.76 1607.32H816.18V1623.47H798.76zM899.65 1596.96H917.06V1654.56H899.65zM815.58 1586.6H832.99V1602.74H815.58zM832.39 1571.05H849.81V1576.83H832.39zM849.21 1550.33H866.62V1556.11H849.21zM916.46 1545.14H933.88V1597.56H916.46zM899.65 1519.24H917.06V1545.74H899.65z"/>
<path fill="#f9d82c" d="M882.83 1716.14H900.25V1727.1H882.83zM899.65 1653.96H917.06V1711.56H899.65zM798.76 1622.87H816.18V1633.83H798.76zM815.58 1602.14H832.99V1607.92H815.58zM882.83 1596.96H900.25V1654.56H882.83zM815.58 1581.42H832.99V1587.2H815.58zM832.39 1576.23H849.81V1582.02H832.39zM832.39 1560.69H849.81V1571.65H832.39zM849.21 1555.51H866.62V1561.29H849.21zM899.65 1545.14H917.06V1597.56H899.65zM882.83 1524.42H900.25V1545.74H882.83z"/>
<path fill="#f8d92b" d="M866.02 1716.14H883.43V1727.1H866.02zM882.83 1653.96H900.25V1716.74H882.83zM781.95 1643.59H799.36V1659.74H781.95zM798.76 1633.23H816.18V1644.19H798.76zM866.02 1596.96H883.43V1654.56H866.02zM866.02 1591.78H900.25V1597.56H866.02zM882.83 1545.14H900.25V1592.38H882.83zM866.02 1539.96H883.43V1545.74H866.02z"/>
<path fill="#f7db2a" d="M849.21 1716.14H866.62V1727.1H849.21zM781.95 1659.14H799.36V1690.83H781.95zM866.02 1653.96H883.43V1716.74H866.02zM849.21 1633.23H866.62V1654.56H849.21zM832.39 1602.14H866.62V1633.83H832.39zM849.21 1591.78H866.62V1602.74H849.21zM849.21 1586.6H883.43V1592.38H849.21zM866.02 1545.14H883.43V1587.2H866.02z"/>
<path fill="#f7dd2a" d="M832.39 1716.14H849.81V1727.1H832.39zM781.95 1690.23H799.36V1727.1H781.95zM849.21 1659.14H866.62V1716.74H849.21zM832.39 1653.96H866.62V1659.74H832.39zM832.39 1638.41H849.81V1654.56H832.39zM815.58 1633.23H849.81V1639.01H815.58zM815.58 1607.32H832.99V1633.83H815.58zM832.39 1586.6H849.81V1602.74H832.39zM832.39 1581.42H866.62V1587.2H832.39zM849.21 1560.69H866.62V1582.02H849.21z"/>
<path fill="#f6de29" d="M815.58 1716.14H832.99V1727.1H815.58zM815.58 1710.96H849.81V1716.74H815.58zM832.39 1664.32H849.81V1711.56H832.39zM815.58 1659.14H849.81V1664.92H815.58zM815.58 1648.78H832.99V1659.74H815.58zM798.76 1643.59H832.99V1649.38H798.76zM815.58 1638.41H832.99V1644.19H815.58z"/>
<path fill="#f6e028" d="M798.76 1710.96H816.18V1727.1H798.76zM798.76 1700.59H832.99V1711.56H798.76zM815.58 1674.68H832.99V1701.19H815.58zM798.76 1664.32H832.99V1675.28H798.76zM798.76 1648.78H816.18V1664.92H798.76z"/>
<path fill="#f5e128" d="M798.76 1674.68H816.18V1701.19H798.76z"/></g>
<rect x="244.2" y="1134.6" width="1918.3" height="592.3" fill="none" stroke="#1c1c1c" stroke-width="1.7"/>
<text x="241" y="1807.4" font-size="60.0" text-anchor="middle" fill="#262626">-50</text>
<text x="432.5" y="1807.4" font-size="60.0" text-anchor="middle" fill="#262626">-40</text>
<text x="624" y="1807.4" font-size="60.0" text-anchor="middle" fill="#262626">-30</text>
<text x="815.5" y="1807.4" font-size="60.0" text-anchor="middle" fill="#262626">-20</text>
<text x="1007" y="1807.4" font-size="60.0" text-anchor="middle" fill="#262626">-10</text>
<text x="1201.7" y="1807.4" font-size="60.0" text-anchor="middle" fill="#262626">0</text>
<text x="1393.2" y="1807.4" font-size="60.0" text-anchor="middle" fill="#262626">10</text>
<text x="1584.7" y="1807.4" font-size="60.0" text-anchor="middle" fill="#262626">20</text>
<text x="1776.2" y="1807.4" font-size="60.0" text-anchor="middle" fill="#262626">30</text>
<text x="1967.7" y="1807.4" font-size="60.0" text-anchor="middle" fill="#262626">40</text>
<text x="2159.2" y="1807.4" font-size="60.0" text-anchor="middle" fill="#262626">50</text>
<text x="220.2" y="1747.8" font-size="60.0" text-anchor="end" fill="#262626">0</text>
<text x="220.2" y="1630" font-size="60.0" text-anchor="end" fill="#262626">10</text>
<text x="220.2" y="1512.2" font-size="60.0" text-anchor="end" fill="#262626">20</text>
<text x="220.2" y="1394.4" font-size="60.0" text-anchor="end" fill="#262626">30</text>
<text x="220.2" y="1276.6" font-size="60.0" text-anchor="end" fill="#262626">40</text>
<text x="220.2" y="1158.8" font-size="60.0" text-anchor="end" fill="#262626">50</text>
<text font-size="66.0" fill="#262626"><tspan x="989" y="1890.5" font-family="'Liberation Serif', serif" font-style="italic" font-size="66">θ</tspan><tspan x="1027" y="1920" font-size="52.8">1</tspan><tspan x="1073.5" y="1890.5">(in degrees)</tspan></text>
<g transform="translate(95.3 1430.75) rotate(-90)"><text font-size="66.0" fill="#262626"><tspan x="-217" y="0" font-family="'Liberation Serif', serif" font-style="italic" font-size="66">θ</tspan><tspan x="-179" y="30" font-size="52.8">2</tspan><tspan x="-133" y="0">(in degrees)</tspan></text></g>
<rect x="2236" y="1135.8" width="80" height="590.3" fill="url(#pg)"/>
<text x="2337.2" y="1744.9" font-size="54.0" fill="#262626">0</text>
<path d="M2316 1627.72h-9" stroke="#262626" stroke-width="3.5"/>
<text x="2337.2" y="1646.67" font-size="54.0" fill="#262626">0.2</text>
<path d="M2316 1529.33h-9" stroke="#262626" stroke-width="3.5"/>
<text x="2337.2" y="1548.43" font-size="54.0" fill="#262626">0.4</text>
<path d="M2316 1430.95h-9" stroke="#262626" stroke-width="3.5"/>
<text x="2337.2" y="1450.2" font-size="54.0" fill="#262626">0.6</text>
<path d="M2316 1332.57h-9" stroke="#262626" stroke-width="3.5"/>
<text x="2337.2" y="1351.97" font-size="54.0" fill="#262626">0.8</text>
<path d="M2316 1234.18h-9" stroke="#262626" stroke-width="3.5"/>
<text x="2337.2" y="1253.73" font-size="54.0" fill="#262626">1</text>
<rect x="2236" y="1135.8" width="80" height="590.3" fill="none" stroke="#262626" stroke-width="3.5"/>
<text font-weight="bold" fill="#000" font-size="66.0"><tspan x="471" y="1055" font-size="66">Plot of v"</tspan><tspan x="759.42" y="1085.8" font-size="52.8">C</tspan><tspan x="802.36" y="1114.7" font-size="42.2">y</tspan><tspan x="825.2" y="1055" font-size="66">/(v</tspan><tspan x="904.42" y="1085.8" font-size="52.8">C</tspan><tspan x="947.16" y="1114.7" font-size="42.2">y</tspan><tspan x="971" y="1055" font-size="66">e</tspan><tspan x="1010.6" y="1085.8" font-size="52.8">n</tspan><tspan x="1046" y="1055" font-size="66">), v</tspan><tspan x="1139.72" y="1085.8" font-size="52.8">C</tspan><tspan x="1181.24" y="1114.7" font-size="42.2">x</tspan><tspan x="1222.5" y="1055" font-size="66">= 0.4, e</tspan><tspan x="1451.2" y="1085.8" font-size="52.8">n</tspan><tspan x="1502.1" y="1055" font-size="66">= 0.7,</tspan><tspan x="1734.7" y="1085.8" font-size="52.8">k</tspan><tspan x="1787.3" y="1055" font-size="66">= 0.4</tspan></text><text transform="translate(1695.2 1055) scale(1.14 0.95)" style="font-family:'Liberation Serif',serif" font-weight="bold" font-style="italic" font-size="66" fill="#000">μ</text>
<g shape-rendering="crispEdges"><path fill="#3974fe" d="M580.18 2668.36H597.59V2679.32H580.18z"/>
<path fill="#3876fe" d="M563.37 2678.72H614.41V2684.5H563.37zM563.37 2668.36H580.78V2679.32H563.37zM596.99 2668.36H614.41V2679.32H596.99zM563.37 2657.99H614.41V2668.96H563.37zM563.37 2647.63H597.59V2658.59H563.37zM580.18 2642.45H597.59V2648.23H580.18zM580.18 2632.08H614.41V2643.05H580.18zM596.99 2626.9H614.41V2632.68H596.99z"/>
<path fill="#3677fe" d="M546.55 2647.63H563.97V2679.32H546.55zM596.99 2642.45H614.41V2658.59H596.99zM563.37 2632.08H580.78V2648.23H563.37zM563.37 2626.9H597.59V2632.68H563.37zM613.81 2626.9H631.22V2637.87H613.81zM580.18 2616.54H631.22V2627.5H580.18zM580.18 2611.36H614.41V2617.14H580.18z"/>
<path fill="#3579fd" d="M546.55 2678.72H563.97V2684.5H546.55zM529.74 2657.99H547.15V2663.77H529.74zM613.81 2637.27H631.22V2684.5H613.81zM546.55 2632.08H563.97V2648.23H546.55zM630.62 2621.72H648.04V2627.5H630.62zM563.37 2611.36H580.78V2627.5H563.37zM613.81 2611.36H631.22V2617.14H613.81zM580.18 2600.99H614.41V2611.96H580.18z"/>
<path fill="#337afd" d="M529.74 2663.17H547.15V2679.32H529.74zM529.74 2637.27H547.15V2658.59H529.74zM630.62 2626.9H648.04V2637.87H630.62zM546.55 2616.54H563.97V2632.68H546.55zM630.62 2616.54H648.04V2622.32H630.62zM563.37 2600.99H580.78V2611.96H563.37zM613.81 2600.99H631.22V2611.96H613.81zM563.37 2590.63H614.41V2601.59H563.37zM580.18 2580.27H614.41V2591.23H580.18zM580.18 2564.72H631.22V2580.87H580.18zM580.18 2559.54H614.41V2565.32H580.18z"/>
<path fill="#327cfc" d="M529.74 2678.72H547.15V2684.5H529.74zM630.62 2668.36H648.04V2679.32H630.62zM630.62 2637.27H648.04V2653.41H630.62zM529.74 2626.9H547.15V2637.87H529.74zM630.62 2606.18H648.04V2617.14H630.62zM546.55 2600.99H563.97V2617.14H546.55zM613.81 2580.27H631.22V2601.59H613.81zM563.37 2564.72H580.78V2591.23H563.37zM630.62 2564.72H648.04V2570.51H630.62zM613.81 2559.54H631.22V2565.32H613.81zM580.18 2554.36H631.22V2560.14H580.18zM596.99 2549.18H614.41V2554.96H596.99z"/>
<path fill="#317dfc" d="M630.62 2678.72H648.04V2684.5H630.62zM630.62 2652.81H648.04V2668.96H630.62zM512.92 2637.27H530.34V2679.32H512.92zM647.44 2621.72H664.85V2632.68H647.44zM529.74 2611.36H547.15V2627.5H529.74zM630.62 2600.99H648.04V2606.78H630.62zM546.55 2580.27H563.97V2601.59H546.55zM630.62 2569.91H648.04V2586.05H630.62zM563.37 2554.36H580.78V2565.32H563.37zM630.62 2554.36H648.04V2565.32H630.62zM580.18 2549.18H597.59V2554.96H580.18zM613.81 2549.18H631.22V2554.96H613.81zM580.18 2544H631.22V2549.78H580.18z"/>
<path fill="#307ffb" d="M512.92 2678.72H530.34V2684.5H512.92zM647.44 2632.08H664.85V2637.87H647.44zM512.92 2626.9H530.34V2637.87H512.92zM647.44 2616.54H664.85V2622.32H647.44zM529.74 2595.81H547.15V2611.96H529.74zM630.62 2585.45H648.04V2601.59H630.62zM647.44 2564.72H664.85V2570.51H647.44zM546.55 2559.54H563.97V2580.87H546.55zM630.62 2549.18H648.04V2554.96H630.62zM563.37 2544H580.78V2554.96H563.37zM580.18 2538.82H631.22V2544.6H580.18zM580.18 2533.63H614.41V2539.42H580.18z"/>
<path fill="#2f80fa" d="M496.11 2642.45H513.52V2674.14H496.11zM647.44 2637.27H664.85V2648.23H647.44zM512.92 2611.36H530.34V2627.5H512.92zM647.44 2606.18H664.85V2617.14H647.44zM529.74 2580.27H547.15V2596.41H529.74zM647.44 2569.91H664.85V2575.69H647.44zM647.44 2554.36H664.85V2565.32H647.44zM546.55 2549.18H563.97V2560.14H546.55zM630.62 2538.82H648.04V2549.78H630.62zM563.37 2533.63H580.78V2544.6H563.37zM613.81 2533.63H631.22V2539.42H613.81zM580.18 2523.27H631.22V2534.23H580.18zM596.99 2518.09H614.41V2523.87H596.99z"/>
<path fill="#2f82fa" d="M496.11 2673.54H513.52V2684.5H496.11zM647.44 2647.63H664.85V2684.5H647.44zM496.11 2626.9H513.52V2643.05H496.11zM512.92 2600.99H530.34V2611.96H512.92zM647.44 2595.81H664.85V2606.78H647.44zM647.44 2575.09H664.85V2591.23H647.44zM529.74 2569.91H547.15V2580.87H529.74zM647.44 2549.18H664.85V2554.96H647.44zM546.55 2538.82H563.97V2549.78H546.55zM563.37 2523.27H580.78V2534.23H563.37zM630.62 2523.27H648.04V2539.42H630.62zM580.18 2518.09H597.59V2523.87H580.18zM613.81 2518.09H631.22V2523.87H613.81zM580.18 2512.91H631.22V2518.69H580.18zM596.99 2507.73H614.41V2513.51H596.99z"/>
<path fill="#2e83f9" d="M479.3 2652.81H496.71V2663.77H479.3zM496.11 2616.54H513.52V2627.5H496.11zM647.44 2590.63H664.85V2596.41H647.44zM512.92 2585.45H530.34V2601.59H512.92zM529.74 2554.36H547.15V2570.51H529.74zM647.44 2533.63H664.85V2549.78H647.44zM546.55 2528.45H563.97V2539.42H546.55zM563.37 2512.91H580.78V2523.87H563.37zM630.62 2512.91H648.04V2523.87H630.62zM580.18 2507.73H597.59V2513.51H580.18zM613.81 2507.73H648.04V2513.51H613.81zM580.18 2502.54H631.22V2508.33H580.18z"/>
<path fill="#2e84f8" d="M479.3 2663.17H496.71V2679.32H479.3zM479.3 2632.08H496.71V2653.41H479.3zM664.25 2616.54H681.66V2632.68H664.25zM496.11 2606.18H513.52V2617.14H496.11zM512.92 2575.09H530.34V2586.05H512.92zM529.74 2538.82H547.15V2554.96H529.74zM546.55 2518.09H563.97V2529.05H546.55zM647.44 2512.91H664.85V2534.23H647.44zM563.37 2502.54H580.78V2513.51H563.37zM630.62 2502.54H648.04V2508.33H630.62zM580.18 2497.36H648.04V2503.14H580.18z"/>
<path fill="#2e86f8" d="M479.3 2678.72H496.71V2684.5H479.3zM664.25 2632.08H681.66V2643.05H664.25zM479.3 2621.72H496.71V2632.68H479.3zM664.25 2611.36H681.66V2617.14H664.25zM496.11 2595.81H513.52V2606.78H496.11zM512.92 2564.72H530.34V2575.69H512.92zM664.25 2544H681.66V2575.69H664.25zM529.74 2528.45H547.15V2539.42H529.74zM546.55 2507.73H563.97V2518.69H546.55zM563.37 2497.36H580.78V2503.14H563.37zM647.44 2497.36H664.85V2513.51H647.44zM580.18 2492.18H648.04V2497.96H580.18zM596.99 2487H631.22V2492.78H596.99z"/>
<path fill="#2e87f7" d="M462.48 2642.45H479.9V2668.96H462.48zM664.25 2642.45H681.66V2684.5H664.25zM479.3 2611.36H496.71V2622.32H479.3zM496.11 2585.45H513.52V2596.41H496.11zM664.25 2575.09H681.66V2611.96H664.25zM512.92 2549.18H530.34V2565.32H512.92zM529.74 2518.09H547.15V2529.05H529.74zM664.25 2512.91H681.66V2544.6H664.25zM546.55 2502.54H563.97V2508.33H546.55zM563.37 2492.18H580.78V2497.96H563.37zM647.44 2492.18H664.85V2497.96H647.44zM580.18 2487H597.59V2492.78H580.18zM630.62 2487H664.85V2492.78H630.62zM596.99 2481.82H648.04V2487.6H596.99z"/>
<path fill="#2d88f6" d="M462.48 2668.36H479.9V2679.32H462.48zM462.48 2632.08H479.9V2643.05H462.48zM479.3 2600.99H496.71V2611.96H479.3zM496.11 2575.09H513.52V2586.05H496.11zM512.92 2528.45H530.34V2549.78H512.92zM529.74 2507.73H547.15V2518.69H529.74zM546.55 2497.36H563.97V2503.14H546.55zM563.37 2487H580.78V2492.78H563.37zM664.25 2487H681.66V2513.51H664.25zM580.18 2481.82H597.59V2487.6H580.18zM647.44 2481.82H664.85V2487.6H647.44zM596.99 2476.64H664.85V2482.42H596.99z"/>
<path fill="#2d8af5" d="M462.48 2678.72H479.9V2684.5H462.48zM462.48 2621.72H479.9V2632.68H462.48zM479.3 2590.63H496.71V2601.59H479.3zM496.11 2564.72H513.52V2575.69H496.11zM512.92 2518.09H530.34V2529.05H512.92zM529.74 2502.54H547.15V2508.33H529.74zM546.55 2492.18H563.97V2497.96H546.55zM563.37 2481.82H580.78V2487.6H563.37zM580.18 2476.64H597.59V2482.42H580.18zM664.25 2476.64H681.66V2487.6H664.25zM596.99 2471.46H664.85V2477.24H596.99zM613.81 2466.27H664.85V2472.06H613.81z"/>
<path fill="#2d8bf4" d="M445.67 2642.45H463.08V2668.96H445.67zM462.48 2611.36H479.9V2622.32H462.48zM479.3 2585.45H496.71V2591.23H479.3zM496.11 2544H513.52V2565.32H496.11zM512.92 2512.91H530.34V2518.69H512.92zM529.74 2497.36H547.15V2503.14H529.74zM546.55 2487H563.97V2492.78H546.55zM681.06 2476.64H698.48V2560.14H681.06zM580.18 2471.46H597.59V2477.24H580.18zM596.99 2466.27H614.41V2472.06H596.99zM664.25 2466.27H681.66V2477.24H664.25zM613.81 2461.09H681.66V2466.87H613.81zM630.62 2455.91H664.85V2461.69H630.62z"/>
<path fill="#2d8cf3" d="M445.67 2668.36H463.08V2679.32H445.67zM445.67 2626.9H463.08V2643.05H445.67zM681.06 2611.36H698.48V2637.87H681.06zM462.48 2600.99H479.9V2611.96H462.48zM479.3 2575.09H496.71V2586.05H479.3zM681.06 2569.91H698.48V2586.05H681.06zM681.06 2559.54H698.48V2565.32H681.06zM496.11 2523.27H513.52V2544.6H496.11zM512.92 2502.54H530.34V2513.51H512.92zM529.74 2492.18H547.15V2497.96H529.74zM546.55 2481.82H563.97V2487.6H546.55zM563.37 2476.64H580.78V2482.42H563.37zM580.18 2466.27H597.59V2472.06H580.18zM596.99 2461.09H614.41V2466.87H596.99zM681.06 2461.09H698.48V2477.24H681.06zM613.81 2455.91H631.22V2461.69H613.81zM664.25 2455.91H681.66V2461.69H664.25zM630.62 2450.73H681.66V2456.51H630.62z"/>
<path fill="#2c8ef2" d="M445.67 2678.72H463.08V2684.5H445.67zM681.06 2637.27H698.48V2674.14H681.06zM445.67 2616.54H463.08V2627.5H445.67zM462.48 2595.81H479.9V2601.59H462.48zM681.06 2585.45H698.48V2611.96H681.06zM479.3 2569.91H496.71V2575.69H479.3zM681.06 2564.72H698.48V2570.51H681.06zM496.11 2512.91H513.52V2523.87H496.11zM512.92 2497.36H530.34V2503.14H512.92zM529.74 2487H547.15V2492.78H529.74zM546.55 2476.64H563.97V2482.42H546.55zM563.37 2471.46H580.78V2477.24H563.37zM697.88 2466.27H715.29V2518.69H697.88zM580.18 2461.09H597.59V2466.87H580.18zM596.99 2455.91H614.41V2461.69H596.99zM613.81 2450.73H631.22V2456.51H613.81zM681.06 2450.73H698.48V2461.69H681.06zM613.81 2445.55H681.66V2451.33H613.81zM647.44 2440.37H664.85V2446.15H647.44z"/>
<path fill="#2c8ff1" d="M681.06 2673.54H698.48V2684.5H681.06zM428.85 2642.45H446.27V2668.96H428.85zM445.67 2611.36H463.08V2617.14H445.67zM462.48 2585.45H479.9V2596.41H462.48zM479.3 2544H496.71V2570.51H479.3zM697.88 2518.09H715.29V2544.6H697.88zM496.11 2507.73H513.52V2513.51H496.11zM512.92 2492.18H530.34V2497.96H512.92zM529.74 2481.82H547.15V2487.6H529.74zM563.37 2466.27H580.78V2472.06H563.37zM580.18 2455.91H597.59V2461.69H580.18zM596.99 2450.73H614.41V2456.51H596.99zM697.88 2450.73H715.29V2466.87H697.88zM681.06 2445.55H698.48V2451.33H681.06zM613.81 2440.37H648.04V2446.15H613.81zM664.25 2440.37H698.48V2446.15H664.25zM647.44 2435.18H681.66V2440.97H647.44z"/>
<path fill="#2b90f0" d="M428.85 2668.36H446.27V2684.5H428.85zM428.85 2626.9H446.27V2643.05H428.85zM445.67 2600.99H463.08V2611.96H445.67zM462.48 2580.27H479.9V2586.05H462.48zM697.88 2544H715.29V2560.14H697.88zM479.3 2523.27H496.71V2544.6H479.3zM496.11 2502.54H513.52V2508.33H496.11zM512.92 2487H530.34V2492.78H512.92zM529.74 2476.64H547.15V2482.42H529.74zM546.55 2471.46H563.97V2477.24H546.55zM563.37 2461.09H580.78V2466.87H563.37zM580.18 2450.73H597.59V2456.51H580.18zM714.69 2450.73H732.11V2497.96H714.69zM596.99 2445.55H614.41V2451.33H596.99zM697.88 2440.37H715.29V2451.33H697.88zM613.81 2435.18H648.04V2440.97H613.81zM681.06 2435.18H698.48V2440.97H681.06zM647.44 2430H698.48V2435.78H647.44z"/>
<path fill="#2b91ef" d="M428.85 2616.54H446.27V2627.5H428.85zM445.67 2595.81H463.08V2601.59H445.67zM462.48 2569.91H479.9V2580.87H462.48zM697.88 2559.54H715.29V2565.32H697.88zM479.3 2512.91H496.71V2523.87H479.3zM496.11 2497.36H513.52V2503.14H496.11zM714.69 2497.36H732.11V2518.69H714.69zM546.55 2466.27H563.97V2472.06H546.55zM563.37 2455.91H580.78V2461.69H563.37zM580.18 2445.55H597.59V2451.33H580.18zM596.99 2440.37H614.41V2446.15H596.99zM714.69 2440.37H732.11V2451.33H714.69zM630.62 2430H648.04V2435.78H630.62zM697.88 2430H715.29V2440.97H697.88zM647.44 2424.82H698.48V2430.6H647.44z"/>
<path fill="#2a93ee" d="M412.04 2642.45H429.45V2668.96H412.04zM428.85 2611.36H446.27V2617.14H428.85zM445.67 2585.45H463.08V2596.41H445.67zM697.88 2564.72H715.29V2591.23H697.88zM462.48 2554.36H479.9V2570.51H462.48zM714.69 2518.09H732.11V2534.23H714.69zM479.3 2507.73H496.71V2513.51H479.3zM496.11 2492.18H513.52V2497.96H496.11zM512.92 2481.82H530.34V2487.6H512.92zM529.74 2471.46H547.15V2477.24H529.74zM546.55 2461.09H563.97V2466.87H546.55zM563.37 2450.73H580.78V2456.51H563.37zM731.51 2450.73H748.92V2482.42H731.51zM580.18 2440.37H597.59V2446.15H580.18zM596.99 2435.18H614.41V2440.97H596.99zM613.81 2430H631.22V2435.78H613.81zM714.69 2430H732.11V2440.97H714.69zM630.62 2424.82H648.04V2430.6H630.62zM697.88 2424.82H715.29V2430.6H697.88zM647.44 2419.64H715.29V2425.42H647.44zM681.06 2414.46H698.48V2420.24H681.06z"/>
<path fill="#2994ed" d="M412.04 2668.36H429.45V2684.5H412.04zM412.04 2626.9H429.45V2643.05H412.04zM428.85 2600.99H446.27V2611.96H428.85zM697.88 2590.63H715.29V2611.96H697.88zM445.67 2580.27H463.08V2586.05H445.67zM714.69 2533.63H732.11V2544.6H714.69zM462.48 2523.27H479.9V2554.96H462.48zM479.3 2502.54H496.71V2508.33H479.3zM496.11 2487H513.52V2492.78H496.11zM731.51 2481.82H748.92V2503.14H731.51zM512.92 2476.64H530.34V2482.42H512.92zM529.74 2466.27H547.15V2472.06H529.74zM546.55 2455.91H563.97V2461.69H546.55zM563.37 2445.55H580.78V2451.33H563.37zM731.51 2440.37H748.92V2451.33H731.51zM580.18 2435.18H597.59V2440.97H580.18zM596.99 2430H614.41V2435.78H596.99zM613.81 2424.82H631.22V2430.6H613.81zM630.62 2419.64H648.04V2425.42H630.62zM714.69 2419.64H732.11V2430.6H714.69zM647.44 2414.46H681.66V2420.24H647.44zM697.88 2414.46H715.29V2420.24H697.88zM664.25 2409.28H715.29V2415.06H664.25z"/>
<path fill="#2895ec" d="M412.04 2616.54H429.45V2627.5H412.04zM697.88 2611.36H715.29V2679.32H697.88zM428.85 2595.81H446.27V2601.59H428.85zM445.67 2575.09H463.08V2580.87H445.67zM714.69 2544H732.11V2570.51H714.69zM462.48 2512.91H479.9V2523.87H462.48zM731.51 2502.54H748.92V2513.51H731.51zM479.3 2497.36H496.71V2503.14H479.3zM496.11 2481.82H513.52V2487.6H496.11zM512.92 2471.46H530.34V2477.24H512.92zM529.74 2461.09H547.15V2466.87H529.74zM748.32 2455.91H765.74V2472.06H748.32zM546.55 2450.73H563.97V2456.51H546.55zM563.37 2440.37H580.78V2446.15H563.37zM596.99 2424.82H614.41V2430.6H596.99zM731.51 2424.82H748.92V2440.97H731.51zM613.81 2419.64H631.22V2425.42H613.81zM630.62 2414.46H648.04V2420.24H630.62zM647.44 2409.28H664.85V2415.06H647.44zM714.69 2409.28H732.11V2420.24H714.69zM664.25 2404.09H732.11V2409.88H664.25zM681.06 2398.91H715.29V2404.69H681.06zM697.88 2393.73H715.29V2399.51H697.88z"/>
<path fill="#2797eb" d="M697.88 2678.72H715.29V2684.5H697.88zM395.23 2647.63H412.64V2668.96H395.23zM412.04 2611.36H429.45V2617.14H412.04zM428.85 2590.63H446.27V2596.41H428.85zM714.69 2569.91H732.11V2575.69H714.69zM445.67 2564.72H463.08V2575.69H445.67zM731.51 2512.91H748.92V2523.87H731.51zM462.48 2507.73H479.9V2513.51H462.48zM479.3 2492.18H496.71V2497.96H479.3zM496.11 2476.64H513.52V2482.42H496.11zM748.32 2471.46H765.74V2487.6H748.32zM512.92 2466.27H530.34V2472.06H512.92zM529.74 2455.91H547.15V2461.69H529.74zM546.55 2445.55H563.97V2451.33H546.55zM748.32 2440.37H765.74V2456.51H748.32zM563.37 2435.18H580.78V2440.97H563.37zM580.18 2430H597.59V2435.78H580.18zM613.81 2414.46H631.22V2420.24H613.81zM630.62 2409.28H648.04V2415.06H630.62zM731.51 2409.28H748.92V2425.42H731.51zM647.44 2404.09H664.85V2409.88H647.44zM664.25 2398.91H681.66V2404.69H664.25zM664.25 2393.73H698.48V2399.51H664.25zM714.69 2393.73H732.11V2404.69H714.69zM681.06 2388.55H732.11V2394.33H681.06z"/>
<path fill="#2798ea" d="M395.23 2668.36H412.64V2684.5H395.23zM395.23 2626.9H412.64V2648.23H395.23zM412.04 2600.99H429.45V2611.96H412.04zM428.85 2580.27H446.27V2591.23H428.85zM714.69 2575.09H732.11V2580.87H714.69zM445.67 2523.27H463.08V2565.32H445.67zM731.51 2523.27H748.92V2534.23H731.51zM462.48 2502.54H479.9V2508.33H462.48zM479.3 2487H496.71V2492.78H479.3zM748.32 2487H765.74V2497.96H748.32zM580.18 2424.82H597.59V2430.6H580.18zM596.99 2419.64H614.41V2425.42H596.99zM748.32 2419.64H765.74V2440.97H748.32zM613.81 2409.28H631.22V2415.06H613.81zM630.62 2404.09H648.04V2409.88H630.62zM647.44 2398.91H664.85V2404.69H647.44zM731.51 2393.73H748.92V2409.88H731.51zM664.25 2388.55H681.66V2394.33H664.25zM681.06 2383.37H732.11V2389.15H681.06z"/>
<path fill="#2699e9" d="M395.23 2616.54H412.64V2627.5H395.23zM412.04 2595.81H429.45V2601.59H412.04zM714.69 2580.27H732.11V2591.23H714.69zM428.85 2575.09H446.27V2580.87H428.85zM731.51 2533.63H748.92V2544.6H731.51zM445.67 2512.91H463.08V2523.87H445.67zM462.48 2497.36H479.9V2503.14H462.48zM748.32 2497.36H765.74V2513.51H748.32zM479.3 2481.82H496.71V2487.6H479.3zM496.11 2471.46H513.52V2477.24H496.11zM512.92 2461.09H530.34V2466.87H512.92zM529.74 2450.73H547.15V2456.51H529.74zM546.55 2440.37H563.97V2446.15H546.55zM563.37 2430H580.78V2435.78H563.37zM580.18 2419.64H597.59V2425.42H580.18zM596.99 2414.46H614.41V2420.24H596.99zM748.32 2404.09H765.74V2420.24H748.32zM630.62 2398.91H648.04V2404.69H630.62zM647.44 2393.73H664.85V2399.51H647.44zM664.25 2383.37H681.66V2389.15H664.25zM731.51 2383.37H748.92V2394.33H731.51zM681.06 2378.19H732.11V2383.97H681.06z"/>
<path fill="#269ae8" d="M378.41 2647.63H395.83V2668.96H378.41zM395.23 2611.36H412.64V2617.14H395.23zM412.04 2590.63H429.45V2596.41H412.04zM714.69 2590.63H732.11V2601.59H714.69zM428.85 2569.91H446.27V2575.69H428.85zM731.51 2544H748.92V2549.78H731.51zM748.32 2512.91H765.74V2523.87H748.32zM445.67 2507.73H463.08V2513.51H445.67zM462.48 2492.18H479.9V2497.96H462.48zM479.3 2476.64H496.71V2482.42H479.3zM496.11 2466.27H513.52V2472.06H496.11zM512.92 2455.91H530.34V2461.69H512.92zM529.74 2445.55H547.15V2451.33H529.74zM546.55 2435.18H563.97V2440.97H546.55zM563.37 2424.82H580.78V2430.6H563.37zM765.14 2419.64H782.55V2482.42H765.14zM596.99 2409.28H614.41V2415.06H596.99zM613.81 2404.09H631.22V2409.88H613.81zM647.44 2388.55H664.85V2394.33H647.44zM748.32 2388.55H765.74V2404.69H748.32zM664.25 2378.19H681.66V2383.97H664.25zM731.51 2378.19H748.92V2383.97H731.51zM697.88 2373.01H732.11V2378.79H697.88z"/>
<path fill="#259be8" d="M378.41 2668.36H395.83V2684.5H378.41zM714.69 2647.63H732.11V2668.96H714.69zM378.41 2632.08H395.83V2648.23H378.41zM395.23 2600.99H412.64V2611.96H395.23zM714.69 2600.99H732.11V2611.96H714.69zM412.04 2580.27H429.45V2591.23H412.04zM731.51 2549.18H748.92V2565.32H731.51zM428.85 2528.45H446.27V2570.51H428.85zM748.32 2523.27H765.74V2529.05H748.32zM445.67 2502.54H463.08V2508.33H445.67zM462.48 2487H479.9V2492.78H462.48zM765.14 2481.82H782.55V2497.96H765.14zM512.92 2450.73H530.34V2456.51H512.92zM529.74 2440.37H547.15V2446.15H529.74zM546.55 2430H563.97V2435.78H546.55zM563.37 2419.64H580.78V2425.42H563.37zM580.18 2414.46H597.59V2420.24H580.18zM596.99 2404.09H614.41V2409.88H596.99zM613.81 2398.91H631.22V2404.69H613.81zM765.14 2398.91H782.55V2420.24H765.14zM630.62 2393.73H648.04V2399.51H630.62zM647.44 2383.37H664.85V2389.15H647.44zM748.32 2378.19H765.74V2389.15H748.32zM681.06 2373.01H698.48V2378.79H681.06zM731.51 2373.01H748.92V2378.79H731.51zM697.88 2367.82H732.11V2373.61H697.88z"/>
<path fill="#259ce7" d="M714.69 2668.36H732.11V2679.32H714.69zM714.69 2632.08H732.11V2648.23H714.69zM378.41 2621.72H395.83V2632.68H378.41zM714.69 2611.36H732.11V2617.14H714.69zM395.23 2595.81H412.64V2601.59H395.23zM412.04 2575.09H429.45V2580.87H412.04zM731.51 2564.72H748.92V2570.51H731.51zM748.32 2528.45H765.74V2534.23H748.32zM428.85 2512.91H446.27V2529.05H428.85zM445.67 2497.36H463.08V2503.14H445.67zM765.14 2497.36H782.55V2508.33H765.14zM462.48 2481.82H479.9V2487.6H462.48zM479.3 2471.46H496.71V2477.24H479.3zM496.11 2461.09H513.52V2466.87H496.11zM529.74 2435.18H547.15V2440.97H529.74zM546.55 2424.82H563.97V2430.6H546.55zM580.18 2409.28H597.59V2415.06H580.18zM613.81 2393.73H631.22V2399.51H613.81zM630.62 2388.55H648.04V2394.33H630.62zM765.14 2388.55H782.55V2399.51H765.14zM647.44 2378.19H664.85V2383.97H647.44zM664.25 2373.01H681.66V2378.79H664.25zM748.32 2373.01H765.74V2378.79H748.32zM681.06 2367.82H698.48V2373.61H681.06zM731.51 2367.82H765.74V2373.61H731.51zM697.88 2362.64H748.92V2368.42H697.88z"/>
<path fill="#249ee6" d="M714.69 2678.72H732.11V2684.5H714.69zM361.6 2657.99H379.01V2668.96H361.6zM714.69 2616.54H732.11V2632.68H714.69zM378.41 2611.36H395.83V2622.32H378.41zM395.23 2590.63H412.64V2596.41H395.23zM412.04 2569.91H429.45V2575.69H412.04zM731.51 2569.91H748.92V2580.87H731.51zM748.32 2533.63H765.74V2539.42H748.32zM428.85 2507.73H446.27V2513.51H428.85zM765.14 2507.73H782.55V2518.69H765.14zM445.67 2492.18H463.08V2497.96H445.67zM462.48 2476.64H479.9V2482.42H462.48zM479.3 2466.27H496.71V2472.06H479.3zM496.11 2455.91H513.52V2461.69H496.11zM512.92 2445.55H530.34V2451.33H512.92zM529.74 2430H547.15V2435.78H529.74zM546.55 2419.64H563.97V2425.42H546.55zM563.37 2414.46H580.78V2420.24H563.37zM580.18 2404.09H597.59V2409.88H580.18zM596.99 2398.91H614.41V2404.69H596.99zM781.95 2398.91H799.36V2472.06H781.95zM630.62 2383.37H648.04V2389.15H630.62zM647.44 2373.01H664.85V2378.79H647.44zM664.25 2367.82H681.66V2373.61H664.25zM765.14 2367.82H782.55V2389.15H765.14zM681.06 2362.64H698.48V2368.42H681.06zM748.32 2362.64H765.74V2368.42H748.32zM697.88 2357.46H748.92V2363.24H697.88z"/>
<path fill="#249fe6" d="M361.6 2668.36H379.01V2684.5H361.6zM361.6 2632.08H379.01V2658.59H361.6zM378.41 2600.99H395.83V2611.96H378.41zM395.23 2585.45H412.64V2591.23H395.23zM731.51 2580.27H748.92V2591.23H731.51zM748.32 2538.82H765.74V2549.78H748.32zM412.04 2533.63H429.45V2570.51H412.04zM765.14 2518.09H782.55V2523.87H765.14zM428.85 2502.54H446.27V2508.33H428.85zM445.67 2487H463.08V2492.78H445.67zM462.48 2471.46H479.9V2477.24H462.48zM781.95 2471.46H799.36V2492.78H781.95zM479.3 2461.09H496.71V2466.87H479.3zM496.11 2450.73H513.52V2456.51H496.11zM512.92 2440.37H530.34V2446.15H512.92zM563.37 2409.28H580.78V2415.06H563.37zM596.99 2393.73H614.41V2399.51H596.99zM613.81 2388.55H631.22V2394.33H613.81zM630.62 2378.19H648.04V2383.97H630.62zM781.95 2373.01H799.36V2399.51H781.95zM765.14 2362.64H782.55V2368.42H765.14zM681.06 2357.46H698.48V2363.24H681.06zM748.32 2357.46H782.55V2363.24H748.32zM697.88 2352.28H765.74V2358.06H697.88z"/>
<path fill="#23a0e5" d="M361.6 2621.72H379.01V2632.68H361.6zM378.41 2595.81H395.83V2601.59H378.41zM731.51 2590.63H748.92V2596.41H731.51zM395.23 2575.09H412.64V2586.05H395.23zM748.32 2549.18H765.74V2554.96H748.32zM765.14 2523.27H782.55V2529.05H765.14zM412.04 2518.09H429.45V2534.23H412.04zM428.85 2497.36H446.27V2503.14H428.85zM781.95 2492.18H799.36V2503.14H781.95zM445.67 2481.82H463.08V2487.6H445.67zM496.11 2445.55H513.52V2451.33H496.11zM512.92 2435.18H530.34V2440.97H512.92zM529.74 2424.82H547.15V2430.6H529.74zM546.55 2414.46H563.97V2420.24H546.55zM563.37 2404.09H580.78V2409.88H563.37zM580.18 2398.91H597.59V2404.69H580.18zM798.76 2393.73H816.18V2440.97H798.76zM613.81 2383.37H631.22V2389.15H613.81zM630.62 2373.01H648.04V2378.79H630.62zM647.44 2367.82H664.85V2373.61H647.44zM664.25 2362.64H681.66V2368.42H664.25zM781.95 2357.46H799.36V2373.61H781.95zM765.14 2352.28H782.55V2358.06H765.14zM697.88 2347.1H765.74V2352.88H697.88zM714.69 2341.92H748.92V2347.7H714.69z"/>
<path fill="#22a1e4" d="M361.6 2611.36H379.01V2622.32H361.6zM731.51 2595.81H748.92V2606.78H731.51zM378.41 2590.63H395.83V2596.41H378.41zM395.23 2569.91H412.64V2575.69H395.23zM748.32 2554.36H765.74V2560.14H748.32zM765.14 2528.45H782.55V2534.23H765.14zM412.04 2507.73H429.45V2518.69H412.04zM781.95 2502.54H799.36V2513.51H781.95zM428.85 2492.18H446.27V2497.96H428.85zM445.67 2476.64H463.08V2482.42H445.67zM462.48 2466.27H479.9V2472.06H462.48zM479.3 2455.91H496.71V2461.69H479.3zM496.11 2440.37H513.52V2446.15H496.11zM798.76 2440.37H816.18V2456.51H798.76zM512.92 2430H530.34V2435.78H512.92zM529.74 2419.64H547.15V2425.42H529.74zM546.55 2409.28H563.97V2415.06H546.55zM563.37 2398.91H580.78V2404.69H563.37zM580.18 2393.73H597.59V2399.51H580.18zM596.99 2388.55H614.41V2394.33H596.99zM613.81 2378.19H631.22V2383.97H613.81zM647.44 2362.64H664.85V2368.42H647.44zM798.76 2362.64H816.18V2394.33H798.76zM664.25 2357.46H681.66V2363.24H664.25zM681.06 2352.28H698.48V2358.06H681.06zM781.95 2352.28H799.36V2358.06H781.95zM765.14 2347.1H782.55V2352.88H765.14zM697.88 2341.92H715.29V2347.7H697.88zM748.32 2341.92H782.55V2347.7H748.32zM714.69 2336.73H765.74V2342.52H714.69z"/>
<path fill="#22a2e4" d="M731.51 2642.45H748.92V2648.23H731.51zM344.78 2637.27H362.2V2684.5H344.78zM361.6 2606.18H379.01V2611.96H361.6zM731.51 2606.18H748.92V2611.96H731.51zM378.41 2580.27H395.83V2591.23H378.41zM395.23 2538.82H412.64V2570.51H395.23zM765.14 2533.63H782.55V2539.42H765.14zM781.95 2512.91H799.36V2518.69H781.95zM412.04 2502.54H429.45V2508.33H412.04zM428.85 2487H446.27V2492.78H428.85zM445.67 2471.46H463.08V2477.24H445.67zM462.48 2461.09H479.9V2466.87H462.48zM798.76 2455.91H816.18V2482.42H798.76zM479.3 2450.73H496.71V2456.51H479.3zM512.92 2424.82H530.34V2430.6H512.92zM529.74 2414.46H547.15V2420.24H529.74zM546.55 2404.09H563.97V2409.88H546.55zM580.18 2388.55H597.59V2394.33H580.18zM596.99 2383.37H614.41V2389.15H596.99zM613.81 2373.01H631.22V2378.79H613.81zM815.58 2373.01H832.99V2425.42H815.58zM630.62 2367.82H648.04V2373.61H630.62zM664.25 2352.28H681.66V2358.06H664.25zM798.76 2352.28H816.18V2363.24H798.76zM681.06 2347.1H698.48V2352.88H681.06zM781.95 2341.92H799.36V2352.88H781.95zM697.88 2336.73H715.29V2342.52H697.88zM765.14 2336.73H782.55V2342.52H765.14zM714.69 2331.55H765.74V2337.33H714.69z"/>
<path fill="#21a3e3" d="M731.51 2632.08H748.92V2643.05H731.51zM344.78 2621.72H362.2V2637.87H344.78zM731.51 2611.36H748.92V2617.14H731.51zM361.6 2595.81H379.01V2606.78H361.6zM378.41 2575.09H395.83V2580.87H378.41zM748.32 2559.54H765.74V2565.32H748.32zM765.14 2538.82H782.55V2544.6H765.14zM395.23 2518.09H412.64V2539.42H395.23zM781.95 2518.09H799.36V2529.05H781.95zM412.04 2497.36H429.45V2503.14H412.04zM428.85 2481.82H446.27V2487.6H428.85zM798.76 2481.82H816.18V2497.96H798.76zM479.3 2445.55H496.71V2451.33H479.3zM496.11 2435.18H513.52V2440.97H496.11zM815.58 2424.82H832.99V2440.97H815.58zM512.92 2419.64H530.34V2425.42H512.92zM529.74 2409.28H547.15V2415.06H529.74zM546.55 2398.91H563.97V2404.69H546.55zM563.37 2393.73H580.78V2399.51H563.37zM596.99 2378.19H614.41V2383.97H596.99zM630.62 2362.64H648.04V2368.42H630.62zM647.44 2357.46H664.85V2363.24H647.44zM815.58 2352.28H832.99V2373.61H815.58zM664.25 2347.1H681.66V2352.88H664.25zM681.06 2341.92H698.48V2347.7H681.06zM798.76 2341.92H816.18V2352.88H798.76zM781.95 2336.73H799.36V2342.52H781.95zM697.88 2331.55H715.29V2337.33H697.88zM765.14 2331.55H782.55V2337.33H765.14zM714.69 2326.37H748.92V2332.15H714.69z"/>
<path fill="#20a5e3" d="M731.51 2647.63H748.92V2668.96H731.51zM731.51 2616.54H748.92V2632.68H731.51zM344.78 2611.36H362.2V2622.32H344.78zM361.6 2590.63H379.01V2596.41H361.6zM378.41 2564.72H395.83V2575.69H378.41zM748.32 2564.72H765.74V2586.05H748.32zM765.14 2544H782.55V2549.78H765.14zM781.95 2528.45H799.36V2534.23H781.95zM395.23 2507.73H412.64V2518.69H395.23zM798.76 2497.36H816.18V2508.33H798.76zM412.04 2492.18H429.45V2497.96H412.04zM428.85 2476.64H446.27V2482.42H428.85zM445.67 2466.27H463.08V2472.06H445.67zM462.48 2455.91H479.9V2461.69H462.48zM479.3 2440.37H496.71V2446.15H479.3zM815.58 2440.37H832.99V2451.33H815.58zM496.11 2430H513.52V2435.78H496.11zM512.92 2414.46H530.34V2420.24H512.92zM529.74 2404.09H547.15V2409.88H529.74zM563.37 2388.55H580.78V2394.33H563.37zM580.18 2383.37H597.59V2389.15H580.18zM596.99 2373.01H614.41V2378.79H596.99zM613.81 2367.82H631.22V2373.61H613.81zM832.39 2362.64H849.81V2415.06H832.39zM647.44 2352.28H664.85V2358.06H647.44zM815.58 2347.1H832.99V2352.88H815.58zM798.76 2336.73H816.18V2342.52H798.76zM681.06 2331.55H698.48V2342.52H681.06zM781.95 2331.55H799.36V2337.33H781.95zM697.88 2326.37H715.29V2332.15H697.88zM748.32 2326.37H782.55V2332.15H748.32z"/>
<path fill="#1fa6e2" d="M731.51 2668.36H748.92V2684.5H731.51zM327.97 2637.27H345.38V2684.5H327.97zM344.78 2606.18H362.2V2611.96H344.78zM748.32 2585.45H765.74V2591.23H748.32zM361.6 2580.27H379.01V2591.23H361.6zM765.14 2549.18H782.55V2554.96H765.14zM378.41 2538.82H395.83V2565.32H378.41zM798.76 2507.73H816.18V2513.51H798.76zM395.23 2502.54H412.64V2508.33H395.23zM412.04 2487H429.45V2492.78H412.04zM428.85 2471.46H446.27V2477.24H428.85zM445.67 2461.09H463.08V2466.87H445.67zM462.48 2450.73H479.9V2456.51H462.48zM815.58 2450.73H832.99V2461.69H815.58zM479.3 2435.18H496.71V2440.97H479.3zM496.11 2424.82H513.52V2430.6H496.11zM832.39 2414.46H849.81V2430.6H832.39zM512.92 2409.28H530.34V2415.06H512.92zM529.74 2398.91H547.15V2404.69H529.74zM546.55 2393.73H563.97V2399.51H546.55zM563.37 2383.37H580.78V2389.15H563.37zM580.18 2378.19H597.59V2383.97H580.18zM849.21 2378.19H866.62V2389.15H849.21zM613.81 2362.64H631.22V2368.42H613.81zM630.62 2357.46H648.04V2363.24H630.62zM647.44 2347.1H664.85V2352.88H647.44zM832.39 2347.1H849.81V2363.24H832.39zM664.25 2341.92H681.66V2347.7H664.25zM815.58 2336.73H832.99V2347.7H815.58zM798.76 2331.55H816.18V2337.33H798.76zM781.95 2326.37H799.36V2332.15H781.95zM714.69 2321.19H765.74V2326.97H714.69z"/>
<path fill="#1ea7e1" d="M327.97 2621.72H345.38V2637.87H327.97zM344.78 2595.81H362.2V2606.78H344.78zM361.6 2575.09H379.01V2580.87H361.6zM765.14 2554.36H782.55V2560.14H765.14zM378.41 2518.09H395.83V2539.42H378.41zM395.23 2497.36H412.64V2503.14H395.23zM412.04 2481.82H429.45V2487.6H412.04zM815.58 2461.09H832.99V2492.78H815.58zM462.48 2445.55H479.9V2451.33H462.48zM479.3 2430H496.71V2435.78H479.3zM832.39 2430H849.81V2440.97H832.39zM496.11 2414.46H513.52V2425.42H496.11zM512.92 2404.09H530.34V2409.88H512.92zM546.55 2388.55H563.97V2394.33H546.55zM849.21 2388.55H866.62V2404.69H849.21zM580.18 2373.01H597.59V2378.79H580.18zM596.99 2367.82H614.41V2373.61H596.99zM630.62 2352.28H648.04V2358.06H630.62zM849.21 2352.28H866.62V2378.79H849.21zM832.39 2341.92H849.81V2347.7H832.39zM664.25 2336.73H681.66V2342.52H664.25zM815.58 2331.55H832.99V2337.33H815.58zM681.06 2326.37H698.48V2332.15H681.06zM798.76 2326.37H816.18V2332.15H798.76zM697.88 2321.19H715.29V2326.97H697.88zM765.14 2321.19H799.36V2326.97H765.14z"/>
<path fill="#1da8e0" d="M327.97 2611.36H345.38V2622.32H327.97zM344.78 2590.63H362.2V2596.41H344.78zM748.32 2590.63H765.74V2596.41H748.32zM361.6 2564.72H379.01V2575.69H361.6zM378.41 2507.73H395.83V2518.69H378.41zM395.23 2492.18H412.64V2497.96H395.23zM815.58 2492.18H832.99V2497.96H815.58zM412.04 2476.64H429.45V2482.42H412.04zM428.85 2466.27H446.27V2472.06H428.85zM445.67 2455.91H463.08V2461.69H445.67zM462.48 2440.37H479.9V2446.15H462.48zM832.39 2440.37H849.81V2451.33H832.39zM479.3 2424.82H496.71V2430.6H479.3zM496.11 2409.28H513.52V2415.06H496.11zM849.21 2404.09H866.62V2420.24H849.21zM512.92 2398.91H530.34V2404.69H512.92zM529.74 2393.73H547.15V2399.51H529.74zM546.55 2383.37H563.97V2389.15H546.55zM563.37 2378.19H580.78V2383.97H563.37zM866.02 2378.19H883.43V2389.15H866.02zM596.99 2362.64H614.41V2368.42H596.99zM613.81 2357.46H631.22V2363.24H613.81zM647.44 2341.92H664.85V2347.7H647.44zM849.21 2341.92H866.62V2352.88H849.21zM832.39 2336.73H849.81V2342.52H832.39zM664.25 2331.55H681.66V2337.33H664.25zM815.58 2326.37H832.99V2332.15H815.58zM681.06 2321.19H698.48V2326.97H681.06zM798.76 2321.19H816.18V2326.97H798.76zM714.69 2316.01H782.55V2321.79H714.69z"/>
<path fill="#1da9e0" d="M311.16 2642.45H328.57V2684.5H311.16zM327.97 2600.99H345.38V2611.96H327.97zM748.32 2595.81H765.74V2601.59H748.32zM344.78 2580.27H362.2V2591.23H344.78zM361.6 2538.82H379.01V2565.32H361.6zM781.95 2533.63H799.36V2539.42H781.95zM798.76 2512.91H816.18V2518.69H798.76zM378.41 2502.54H395.83V2508.33H378.41zM395.23 2487H412.64V2492.78H395.23zM412.04 2471.46H429.45V2477.24H412.04zM428.85 2461.09H446.27V2466.87H428.85zM445.67 2450.73H463.08V2456.51H445.67zM832.39 2450.73H849.81V2456.51H832.39zM462.48 2435.18H479.9V2440.97H462.48zM479.3 2419.64H496.71V2425.42H479.3zM849.21 2419.64H866.62V2430.6H849.21zM496.11 2404.09H513.52V2409.88H496.11zM529.74 2388.55H547.15V2394.33H529.74zM866.02 2388.55H883.43V2404.69H866.02zM563.37 2373.01H580.78V2378.79H563.37zM580.18 2367.82H597.59V2373.61H580.18zM613.81 2352.28H631.22V2358.06H613.81zM630.62 2347.1H648.04V2352.88H630.62zM866.02 2347.1H883.43V2378.79H866.02zM647.44 2336.73H664.85V2342.52H647.44zM849.21 2336.73H866.62V2342.52H849.21zM664.25 2326.37H681.66V2332.15H664.25zM832.39 2326.37H849.81V2337.33H832.39zM815.58 2321.19H832.99V2326.97H815.58zM697.88 2316.01H715.29V2321.79H697.88zM781.95 2316.01H816.18V2321.79H781.95zM748.32 2310.83H765.74V2316.61H748.32z"/>
<path fill="#1caadf" d="M311.16 2621.72H328.57V2643.05H311.16zM748.32 2600.99H765.74V2606.78H748.32zM327.97 2595.81H345.38V2601.59H327.97zM344.78 2569.91H362.2V2580.87H344.78zM361.6 2518.09H379.01V2539.42H361.6zM378.41 2497.36H395.83V2503.14H378.41zM395.23 2481.82H412.64V2487.6H395.23zM412.04 2466.27H429.45V2472.06H412.04zM428.85 2455.91H446.27V2461.69H428.85zM832.39 2455.91H849.81V2482.42H832.39zM445.67 2445.55H463.08V2451.33H445.67zM462.48 2430H479.9V2435.78H462.48zM849.21 2430H866.62V2440.97H849.21zM479.3 2414.46H496.71V2420.24H479.3zM866.02 2404.09H883.43V2415.06H866.02zM512.92 2393.73H530.34V2399.51H512.92zM529.74 2383.37H547.15V2389.15H529.74zM546.55 2378.19H563.97V2383.97H546.55zM563.37 2367.82H580.78V2373.61H563.37zM580.18 2362.64H597.59V2368.42H580.18zM596.99 2357.46H614.41V2363.24H596.99zM630.62 2341.92H648.04V2347.7H630.62zM866.02 2336.73H883.43V2347.7H866.02zM849.21 2326.37H866.62V2337.33H849.21zM832.39 2321.19H849.81V2326.97H832.39zM681.06 2316.01H698.48V2321.79H681.06zM815.58 2316.01H832.99V2321.79H815.58zM714.69 2310.83H748.92V2316.61H714.69zM765.14 2310.83H799.36V2316.61H765.14z"/>
<path fill="#1babde" d="M748.32 2637.27H765.74V2648.23H748.32zM311.16 2611.36H328.57V2622.32H311.16zM748.32 2606.18H765.74V2611.96H748.32zM327.97 2585.45H345.38V2596.41H327.97zM344.78 2559.54H362.2V2570.51H344.78zM765.14 2559.54H782.55V2565.32H765.14zM781.95 2538.82H799.36V2544.6H781.95zM798.76 2518.09H816.18V2523.87H798.76zM361.6 2507.73H379.01V2518.69H361.6zM378.41 2492.18H395.83V2497.96H378.41zM395.23 2476.64H412.64V2482.42H395.23zM445.67 2440.37H463.08V2446.15H445.67zM849.21 2440.37H866.62V2451.33H849.21zM462.48 2419.64H479.9V2430.6H462.48zM866.02 2414.46H883.43V2425.42H866.02zM479.3 2409.28H496.71V2415.06H479.3zM496.11 2398.91H513.52V2404.69H496.11zM512.92 2388.55H530.34V2394.33H512.92zM529.74 2378.19H547.15V2383.97H529.74zM546.55 2373.01H563.97V2378.79H546.55zM580.18 2357.46H597.59V2363.24H580.18zM596.99 2352.28H614.41V2358.06H596.99zM613.81 2347.1H631.22V2352.88H613.81zM882.83 2336.73H900.25V2394.33H882.83zM647.44 2331.55H664.85V2337.33H647.44zM866.02 2331.55H900.25V2337.33H866.02zM866.02 2326.37H883.43V2332.15H866.02zM664.25 2321.19H681.66V2326.97H664.25zM849.21 2321.19H866.62V2326.97H849.21zM832.39 2316.01H849.81V2321.79H832.39zM697.88 2310.83H715.29V2316.61H697.88zM798.76 2310.83H832.99V2316.61H798.76zM748.32 2305.64H782.55V2311.43H748.32z"/>
<path fill="#1aacdd" d="M294.34 2647.63H311.76V2684.5H294.34zM748.32 2626.9H765.74V2637.87H748.32zM748.32 2611.36H765.74V2622.32H748.32zM311.16 2600.99H328.57V2611.96H311.16zM327.97 2580.27H345.38V2586.05H327.97zM765.14 2564.72H782.55V2570.51H765.14zM781.95 2544H799.36V2549.78H781.95zM344.78 2533.63H362.2V2560.14H344.78zM798.76 2523.27H816.18V2534.23H798.76zM361.6 2502.54H379.01V2508.33H361.6zM815.58 2497.36H832.99V2508.33H815.58zM378.41 2487H395.83V2492.78H378.41zM395.23 2471.46H412.64V2477.24H395.23zM412.04 2461.09H429.45V2466.87H412.04zM428.85 2450.73H446.27V2456.51H428.85zM849.21 2450.73H866.62V2456.51H849.21zM445.67 2435.18H463.08V2440.97H445.67zM866.02 2424.82H883.43V2430.6H866.02zM462.48 2414.46H479.9V2420.24H462.48zM479.3 2404.09H496.71V2409.88H479.3zM496.11 2393.73H513.52V2399.51H496.11zM882.83 2393.73H900.25V2404.69H882.83zM512.92 2383.37H530.34V2389.15H512.92zM546.55 2367.82H563.97V2373.61H546.55zM563.37 2362.64H580.78V2368.42H563.37zM630.62 2336.73H648.04V2342.52H630.62zM899.65 2331.55H917.06V2352.88H899.65zM647.44 2326.37H664.85V2332.15H647.44zM882.83 2326.37H900.25V2332.15H882.83zM866.02 2321.19H900.25V2326.97H866.02zM849.21 2316.01H883.43V2321.79H849.21zM681.06 2310.83H698.48V2316.61H681.06zM832.39 2310.83H849.81V2316.61H832.39zM714.69 2305.64H748.92V2311.43H714.69zM781.95 2305.64H816.18V2311.43H781.95z"/>
<path fill="#19addb" d="M294.34 2626.9H311.76V2648.23H294.34zM748.32 2621.72H765.74V2627.5H748.32zM311.16 2595.81H328.57V2601.59H311.16zM327.97 2569.91H345.38V2580.87H327.97zM765.14 2569.91H782.55V2591.23H765.14zM781.95 2549.18H799.36V2554.96H781.95zM344.78 2518.09H362.2V2534.23H344.78zM815.58 2507.73H832.99V2513.51H815.58zM361.6 2492.18H379.01V2503.14H361.6zM378.41 2481.82H395.83V2487.6H378.41zM395.23 2466.27H412.64V2472.06H395.23zM412.04 2455.91H429.45V2461.69H412.04zM849.21 2455.91H866.62V2472.06H849.21zM428.85 2445.55H446.27V2451.33H428.85zM866.02 2430H883.43V2440.97H866.02zM445.67 2424.82H463.08V2435.78H445.67zM462.48 2409.28H479.9V2415.06H462.48zM882.83 2404.09H900.25V2415.06H882.83zM479.3 2398.91H496.71V2404.69H479.3zM496.11 2388.55H513.52V2394.33H496.11zM512.92 2378.19H530.34V2383.97H512.92zM529.74 2373.01H547.15V2378.79H529.74zM546.55 2362.64H563.97V2368.42H546.55zM563.37 2357.46H580.78V2363.24H563.37zM580.18 2352.28H597.59V2358.06H580.18zM899.65 2352.28H917.06V2378.79H899.65zM596.99 2347.1H614.41V2352.88H596.99zM613.81 2341.92H631.22V2347.7H613.81zM916.46 2331.55H933.88V2337.33H916.46zM899.65 2321.19H917.06V2332.15H899.65zM664.25 2316.01H681.66V2321.79H664.25zM882.83 2316.01H917.06V2321.79H882.83zM849.21 2310.83H883.43V2316.61H849.21zM697.88 2305.64H715.29V2311.43H697.88zM815.58 2305.64H849.81V2311.43H815.58zM748.32 2300.46H799.36V2306.24H748.32z"/>
<path fill="#17aeda" d="M748.32 2647.63H765.74V2684.5H748.32zM294.34 2611.36H311.76V2627.5H294.34zM311.16 2585.45H328.57V2596.41H311.16zM327.97 2554.36H345.38V2570.51H327.97zM781.95 2554.36H799.36V2560.14H781.95zM344.78 2507.73H362.2V2518.69H344.78zM361.6 2487H379.01V2492.78H361.6zM832.39 2481.82H849.81V2497.96H832.39zM378.41 2476.64H395.83V2482.42H378.41zM395.23 2461.09H412.64V2466.87H395.23zM412.04 2450.73H429.45V2456.51H412.04zM866.02 2440.37H883.43V2451.33H866.02zM428.85 2435.18H446.27V2446.15H428.85zM445.67 2419.64H463.08V2425.42H445.67zM882.83 2414.46H900.25V2425.42H882.83zM462.48 2404.09H479.9V2409.88H462.48zM479.3 2388.55H496.71V2399.51H479.3zM496.11 2383.37H513.52V2389.15H496.11zM899.65 2378.19H917.06V2399.51H899.65zM512.92 2373.01H530.34V2378.79H512.92zM529.74 2367.82H547.15V2373.61H529.74zM916.46 2336.73H933.88V2358.06H916.46zM630.62 2331.55H648.04V2337.33H630.62zM916.46 2326.37H950.69V2332.15H916.46zM647.44 2321.19H664.85V2326.97H647.44zM916.46 2316.01H933.88V2326.97H916.46zM664.25 2310.83H681.66V2316.61H664.25zM882.83 2310.83H917.06V2316.61H882.83zM681.06 2305.64H698.48V2311.43H681.06zM849.21 2305.64H900.25V2311.43H849.21zM714.69 2300.46H748.92V2306.24H714.69zM798.76 2300.46H849.81V2306.24H798.76z"/>
<path fill="#15afd9" d="M277.53 2652.81H294.94V2674.14H277.53zM294.34 2600.99H311.76V2611.96H294.34zM311.16 2575.09H328.57V2586.05H311.16zM327.97 2528.45H345.38V2554.96H327.97zM344.78 2502.54H362.2V2508.33H344.78zM361.6 2481.82H379.01V2487.6H361.6zM378.41 2471.46H395.83V2477.24H378.41zM866.02 2450.73H883.43V2456.51H866.02zM412.04 2445.55H429.45V2451.33H412.04zM428.85 2430H446.27V2435.78H428.85zM882.83 2424.82H900.25V2435.78H882.83zM445.67 2409.28H463.08V2420.24H445.67zM899.65 2398.91H917.06V2409.88H899.65zM462.48 2393.73H479.9V2404.69H462.48zM479.3 2383.37H496.71V2389.15H479.3zM496.11 2378.19H513.52V2383.97H496.11zM512.92 2367.82H530.34V2373.61H512.92zM529.74 2362.64H547.15V2368.42H529.74zM546.55 2357.46H563.97V2363.24H546.55zM916.46 2357.46H933.88V2368.42H916.46zM563.37 2352.28H580.78V2358.06H563.37zM580.18 2347.1H597.59V2352.88H580.18zM596.99 2341.92H614.41V2347.7H596.99zM613.81 2336.73H631.22V2342.52H613.81zM933.28 2331.55H950.69V2347.7H933.28zM630.62 2326.37H648.04V2332.15H630.62zM950.09 2326.37H967.5V2332.15H950.09zM933.28 2321.19H967.5V2326.97H933.28zM647.44 2316.01H664.85V2321.79H647.44zM933.28 2316.01H950.69V2321.79H933.28zM916.46 2310.83H950.69V2316.61H916.46zM899.65 2305.64H933.88V2311.43H899.65zM697.88 2300.46H715.29V2306.24H697.88zM849.21 2300.46H900.25V2306.24H849.21zM748.32 2295.28H816.18V2301.06H748.32z"/>
<path fill="#14b0d8" d="M277.53 2673.54H294.94V2684.5H277.53zM277.53 2621.72H294.94V2653.41H277.53zM294.34 2590.63H311.76V2601.59H294.34zM311.16 2564.72H328.57V2575.69H311.16zM327.97 2518.09H345.38V2529.05H327.97zM344.78 2492.18H362.2V2503.14H344.78zM361.6 2476.64H379.01V2482.42H361.6zM378.41 2466.27H395.83V2472.06H378.41zM395.23 2455.91H412.64V2461.69H395.23zM412.04 2440.37H429.45V2446.15H412.04zM882.83 2435.18H900.25V2446.15H882.83zM428.85 2419.64H446.27V2430.6H428.85zM899.65 2409.28H917.06V2420.24H899.65zM445.67 2404.09H463.08V2409.88H445.67zM462.48 2388.55H479.9V2394.33H462.48zM479.3 2378.19H496.71V2383.97H479.3zM496.11 2373.01H513.52V2378.79H496.11zM916.46 2367.82H933.88V2383.97H916.46zM529.74 2357.46H547.15V2363.24H529.74zM546.55 2352.28H563.97V2358.06H546.55zM563.37 2347.1H580.78V2352.88H563.37zM933.28 2347.1H950.69V2358.06H933.28zM580.18 2341.92H597.59V2347.7H580.18zM596.99 2336.73H614.41V2342.52H596.99zM613.81 2331.55H631.22V2337.33H613.81zM950.09 2331.55H967.5V2342.52H950.09zM966.9 2321.19H984.32V2326.97H966.9zM647.44 2310.83H664.85V2316.61H647.44zM950.09 2310.83H967.5V2321.79H950.09zM664.25 2305.64H681.66V2311.43H664.25zM933.28 2305.64H967.5V2311.43H933.28zM681.06 2300.46H698.48V2306.24H681.06zM899.65 2300.46H933.88V2306.24H899.65zM714.69 2295.28H748.92V2301.06H714.69zM815.58 2295.28H900.25V2301.06H815.58z"/>
<path fill="#12b1d6" d="M277.53 2611.36H294.94V2622.32H277.53zM765.14 2590.63H782.55V2601.59H765.14zM294.34 2580.27H311.76V2591.23H294.34zM311.16 2544H328.57V2565.32H311.16zM798.76 2533.63H816.18V2539.42H798.76zM815.58 2512.91H832.99V2518.69H815.58zM327.97 2507.73H345.38V2518.69H327.97zM344.78 2487H362.2V2492.78H344.78zM361.6 2471.46H379.01V2477.24H361.6zM849.21 2471.46H866.62V2482.42H849.21zM378.41 2461.09H395.83V2466.87H378.41zM395.23 2450.73H412.64V2456.51H395.23zM412.04 2430H429.45V2440.97H412.04zM899.65 2419.64H917.06V2430.6H899.65zM428.85 2409.28H446.27V2420.24H428.85zM445.67 2393.73H463.08V2404.69H445.67zM462.48 2383.37H479.9V2389.15H462.48zM916.46 2383.37H933.88V2399.51H916.46zM479.3 2373.01H496.71V2378.79H479.3zM496.11 2367.82H513.52V2373.61H496.11zM512.92 2362.64H530.34V2368.42H512.92zM933.28 2357.46H950.69V2363.24H933.28zM950.09 2341.92H967.5V2347.7H950.09zM966.9 2326.37H984.32V2337.33H966.9zM630.62 2321.19H648.04V2326.97H630.62zM966.9 2305.64H984.32V2321.79H966.9zM933.28 2300.46H967.5V2306.24H933.28zM697.88 2295.28H715.29V2301.06H697.88zM899.65 2295.28H950.69V2301.06H899.65zM731.51 2290.1H883.43V2295.88H731.51z"/>
<path fill="#10b2d5" d="M277.53 2595.81H294.94V2611.96H277.53zM294.34 2569.91H311.76V2580.87H294.34zM781.95 2559.54H799.36V2565.32H781.95zM311.16 2528.45H328.57V2544.6H311.16zM327.97 2497.36H345.38V2508.33H327.97zM344.78 2481.82H362.2V2487.6H344.78zM361.6 2466.27H379.01V2472.06H361.6zM378.41 2455.91H395.83V2461.69H378.41zM866.02 2455.91H883.43V2461.69H866.02zM395.23 2440.37H412.64V2451.33H395.23zM899.65 2430H917.06V2435.78H899.65zM412.04 2419.64H429.45V2430.6H412.04zM428.85 2404.09H446.27V2409.88H428.85zM916.46 2398.91H933.88V2409.88H916.46zM445.67 2388.55H463.08V2394.33H445.67zM462.48 2378.19H479.9V2383.97H462.48zM479.3 2367.82H496.71V2373.61H479.3zM496.11 2362.64H513.52V2368.42H496.11zM933.28 2362.64H950.69V2373.61H933.28zM512.92 2357.46H530.34V2363.24H512.92zM529.74 2352.28H547.15V2358.06H529.74zM546.55 2347.1H563.97V2352.88H546.55zM950.09 2347.1H967.5V2358.06H950.09zM563.37 2341.92H580.78V2347.7H563.37zM580.18 2336.73H597.59V2342.52H580.18zM966.9 2336.73H984.32V2342.52H966.9zM596.99 2331.55H614.41V2337.33H596.99zM613.81 2326.37H631.22V2332.15H613.81zM630.62 2316.01H648.04V2321.79H630.62zM647.44 2305.64H664.85V2311.43H647.44zM983.72 2305.64H1001.13V2332.15H983.72zM664.25 2300.46H681.66V2306.24H664.25zM966.9 2300.46H984.32V2306.24H966.9zM681.06 2295.28H698.48V2301.06H681.06zM950.09 2295.28H984.32V2301.06H950.09zM714.69 2290.1H732.11V2295.88H714.69zM882.83 2290.1H950.69V2295.88H882.83z"/>
<path fill="#0db3d4" d="M765.14 2637.27H782.55V2648.23H765.14zM260.71 2621.72H278.13V2684.5H260.71zM765.14 2600.99H782.55V2611.96H765.14zM277.53 2585.45H294.94V2596.41H277.53zM294.34 2554.36H311.76V2570.51H294.34zM311.16 2512.91H328.57V2529.05H311.16zM327.97 2492.18H345.38V2497.96H327.97zM344.78 2476.64H362.2V2482.42H344.78zM361.6 2461.09H379.01V2466.87H361.6zM866.02 2461.09H883.43V2472.06H866.02zM378.41 2450.73H395.83V2456.51H378.41zM395.23 2435.18H412.64V2440.97H395.23zM899.65 2435.18H917.06V2440.97H899.65zM412.04 2409.28H429.45V2420.24H412.04zM916.46 2409.28H933.88V2420.24H916.46zM428.85 2393.73H446.27V2404.69H428.85zM445.67 2383.37H463.08V2389.15H445.67zM462.48 2373.01H479.9V2378.79H462.48zM933.28 2373.01H950.69V2383.97H933.28zM479.3 2362.64H496.71V2368.42H479.3zM496.11 2357.46H513.52V2363.24H496.11zM950.09 2357.46H967.5V2363.24H950.09zM512.92 2352.28H530.34V2358.06H512.92zM529.74 2347.1H547.15V2352.88H529.74zM546.55 2341.92H563.97V2347.7H546.55zM966.9 2341.92H984.32V2347.7H966.9zM563.37 2336.73H580.78V2342.52H563.37zM983.72 2331.55H1001.13V2342.52H983.72zM613.81 2321.19H631.22V2326.97H613.81zM630.62 2310.83H648.04V2316.61H630.62zM1000.53 2305.64H1017.95V2332.15H1000.53zM647.44 2300.46H664.85V2306.24H647.44zM664.25 2295.28H681.66V2301.06H664.25zM983.72 2295.28H1001.13V2306.24H983.72zM697.88 2290.1H715.29V2295.88H697.88zM950.09 2290.1H984.32V2295.88H950.09zM731.51 2284.92H950.69V2290.7H731.51z"/>
<path fill="#0bb3d2" d="M765.14 2657.99H782.55V2684.5H765.14zM765.14 2611.36H782.55V2637.87H765.14zM260.71 2606.18H278.13V2622.32H260.71zM277.53 2575.09H294.94V2586.05H277.53zM781.95 2564.72H799.36V2586.05H781.95zM294.34 2538.82H311.76V2554.96H294.34zM798.76 2538.82H816.18V2544.6H798.76zM815.58 2518.09H832.99V2523.87H815.58zM311.16 2502.54H328.57V2513.51H311.16zM327.97 2487H345.38V2492.78H327.97zM344.78 2471.46H362.2V2477.24H344.78zM361.6 2455.91H379.01V2461.69H361.6zM378.41 2445.55H395.83V2451.33H378.41zM882.83 2445.55H900.25V2456.51H882.83zM395.23 2424.82H412.64V2435.78H395.23zM916.46 2419.64H933.88V2430.6H916.46zM412.04 2404.09H429.45V2409.88H412.04zM428.85 2388.55H446.27V2394.33H428.85zM933.28 2383.37H950.69V2399.51H933.28zM445.67 2378.19H463.08V2383.97H445.67zM462.48 2367.82H479.9V2373.61H462.48zM950.09 2362.64H967.5V2368.42H950.09zM496.11 2352.28H513.52V2358.06H496.11zM512.92 2347.1H530.34V2352.88H512.92zM966.9 2347.1H984.32V2352.88H966.9zM529.74 2341.92H547.15V2347.7H529.74zM983.72 2341.92H1001.13V2347.7H983.72zM580.18 2331.55H597.59V2337.33H580.18zM1000.53 2331.55H1017.95V2337.33H1000.53zM596.99 2326.37H614.41V2332.15H596.99zM613.81 2316.01H631.22V2321.79H613.81zM630.62 2305.64H648.04V2311.43H630.62zM1017.35 2305.64H1034.76V2321.79H1017.35zM1000.53 2295.28H1017.95V2306.24H1000.53zM681.06 2290.1H698.48V2295.88H681.06zM983.72 2290.1H1001.13V2295.88H983.72zM714.69 2284.92H732.11V2290.7H714.69zM950.09 2284.92H984.32V2290.7H950.09zM781.95 2279.74H950.69V2285.52H781.95z"/>
<path fill="#08b4d1" d="M765.14 2647.63H782.55V2658.59H765.14zM260.71 2595.81H278.13V2606.78H260.71zM781.95 2585.45H799.36V2591.23H781.95zM277.53 2564.72H294.94V2575.69H277.53zM798.76 2544H816.18V2560.14H798.76zM294.34 2523.27H311.76V2539.42H294.34zM815.58 2523.27H832.99V2534.23H815.58zM311.16 2497.36H328.57V2503.14H311.16zM832.39 2497.36H849.81V2508.33H832.39zM327.97 2481.82H345.38V2487.6H327.97zM344.78 2466.27H362.2V2472.06H344.78zM361.6 2450.73H379.01V2456.51H361.6zM378.41 2435.18H395.83V2446.15H378.41zM395.23 2409.28H412.64V2425.42H395.23zM933.28 2398.91H950.69V2409.88H933.28zM412.04 2393.73H429.45V2404.69H412.04zM428.85 2378.19H446.27V2389.15H428.85zM445.67 2367.82H463.08V2378.79H445.67zM950.09 2367.82H967.5V2373.61H950.09zM462.48 2362.64H479.9V2368.42H462.48zM479.3 2357.46H496.71V2363.24H479.3zM966.9 2352.28H984.32V2358.06H966.9zM496.11 2347.1H513.52V2352.88H496.11zM512.92 2341.92H530.34V2347.7H512.92zM546.55 2336.73H563.97V2342.52H546.55zM1000.53 2336.73H1017.95V2342.52H1000.53zM563.37 2331.55H580.78V2337.33H563.37zM580.18 2326.37H597.59V2332.15H580.18zM596.99 2321.19H614.41V2326.97H596.99zM1017.35 2321.19H1034.76V2332.15H1017.35zM613.81 2305.64H631.22V2316.61H613.81zM630.62 2300.46H648.04V2306.24H630.62zM647.44 2295.28H664.85V2301.06H647.44zM1017.35 2295.28H1034.76V2306.24H1017.35zM664.25 2290.1H681.66V2295.88H664.25zM1000.53 2290.1H1034.76V2295.88H1000.53zM681.06 2284.92H715.29V2290.7H681.06zM983.72 2284.92H1017.95V2290.7H983.72zM731.51 2279.74H782.55V2285.52H731.51zM950.09 2279.74H1001.13V2285.52H950.09zM882.83 2274.56H950.69V2280.34H882.83z"/>
<path fill="#06b5cf" d="M243.9 2616.54H261.31V2684.5H243.9zM781.95 2590.63H799.36V2601.59H781.95zM260.71 2580.27H278.13V2596.41H260.71zM277.53 2549.18H294.94V2565.32H277.53zM294.34 2512.91H311.76V2523.87H294.34zM832.39 2507.73H849.81V2513.51H832.39zM311.16 2487H328.57V2497.96H311.16zM327.97 2471.46H345.38V2482.42H327.97zM344.78 2461.09H362.2V2466.87H344.78zM361.6 2445.55H379.01V2451.33H361.6zM899.65 2440.37H917.06V2446.15H899.65zM378.41 2424.82H395.83V2435.78H378.41zM933.28 2409.28H950.69V2420.24H933.28zM395.23 2398.91H412.64V2409.88H395.23zM412.04 2383.37H429.45V2394.33H412.04zM428.85 2373.01H446.27V2378.79H428.85zM950.09 2373.01H967.5V2383.97H950.09zM445.67 2362.64H463.08V2368.42H445.67zM462.48 2357.46H479.9V2363.24H462.48zM966.9 2357.46H984.32V2363.24H966.9zM479.3 2352.28H496.71V2358.06H479.3zM983.72 2347.1H1001.13V2352.88H983.72zM1000.53 2341.92H1017.95V2347.7H1000.53zM529.74 2336.73H547.15V2342.52H529.74zM546.55 2331.55H563.97V2337.33H546.55zM1017.35 2331.55H1034.76V2337.33H1017.35zM563.37 2326.37H580.78V2332.15H563.37zM580.18 2321.19H597.59V2326.97H580.18zM596.99 2310.83H614.41V2321.79H596.99zM613.81 2300.46H631.22V2306.24H613.81zM630.62 2295.28H648.04V2301.06H630.62zM647.44 2290.1H664.85V2295.88H647.44zM1034.16 2290.1H1051.57V2326.97H1034.16zM664.25 2284.92H681.66V2290.7H664.25zM1017.35 2284.92H1034.76V2290.7H1017.35zM697.88 2279.74H732.11V2285.52H697.88zM1000.53 2279.74H1017.95V2285.52H1000.53zM765.14 2274.56H883.43V2280.34H765.14zM950.09 2274.56H1001.13V2280.34H950.09z"/>
<path fill="#05b6ce" d="M243.9 2600.99H261.31V2617.14H243.9zM260.71 2569.91H278.13V2580.87H260.71zM798.76 2559.54H816.18V2565.32H798.76zM277.53 2533.63H294.94V2549.78H277.53zM294.34 2502.54H311.76V2513.51H294.34zM311.16 2481.82H328.57V2487.6H311.16zM849.21 2481.82H866.62V2497.96H849.21zM327.97 2466.27H345.38V2472.06H327.97zM344.78 2455.91H362.2V2461.69H344.78zM361.6 2435.18H379.01V2446.15H361.6zM916.46 2430H933.88V2435.78H916.46zM378.41 2409.28H395.83V2425.42H378.41zM395.23 2393.73H412.64V2399.51H395.23zM950.09 2383.37H967.5V2399.51H950.09zM412.04 2378.19H429.45V2383.97H412.04zM428.85 2367.82H446.27V2373.61H428.85zM966.9 2362.64H984.32V2368.42H966.9zM445.67 2357.46H463.08V2363.24H445.67zM462.48 2352.28H479.9V2358.06H462.48zM983.72 2352.28H1001.13V2358.06H983.72zM479.3 2347.1H496.71V2352.88H479.3zM496.11 2341.92H513.52V2347.7H496.11zM512.92 2336.73H530.34V2342.52H512.92zM1017.35 2336.73H1034.76V2342.52H1017.35zM529.74 2331.55H547.15V2337.33H529.74zM546.55 2326.37H563.97V2332.15H546.55zM1034.16 2326.37H1051.57V2332.15H1034.16zM563.37 2321.19H580.78V2326.97H563.37zM580.18 2316.01H597.59V2321.79H580.18zM596.99 2305.64H614.41V2311.43H596.99zM613.81 2295.28H631.22V2301.06H613.81zM1050.97 2295.28H1068.39V2316.61H1050.97zM630.62 2290.1H648.04V2295.88H630.62zM647.44 2284.92H664.85V2290.7H647.44zM1034.16 2284.92H1051.57V2290.7H1034.16zM681.06 2279.74H698.48V2285.52H681.06zM1017.35 2279.74H1034.76V2285.52H1017.35zM714.69 2274.56H765.74V2280.34H714.69zM1000.53 2274.56H1034.76V2280.34H1000.53zM832.39 2269.37H1001.13V2275.16H832.39z"/>
<path fill="#03b7cc" d="M781.95 2678.72H799.36V2684.5H781.95zM243.9 2590.63H261.31V2601.59H243.9zM260.71 2554.36H278.13V2570.51H260.71zM815.58 2533.63H832.99V2539.42H815.58zM277.53 2518.09H294.94V2534.23H277.53zM832.39 2512.91H849.81V2518.69H832.39zM294.34 2492.18H311.76V2503.14H294.34zM311.16 2476.64H328.57V2482.42H311.16zM327.97 2461.09H345.38V2466.87H327.97zM344.78 2445.55H362.2V2456.51H344.78zM361.6 2424.82H379.01V2435.78H361.6zM378.41 2398.91H395.83V2409.88H378.41zM950.09 2398.91H967.5V2415.06H950.09zM395.23 2383.37H412.64V2394.33H395.23zM412.04 2373.01H429.45V2378.79H412.04zM966.9 2367.82H984.32V2373.61H966.9zM428.85 2362.64H446.27V2368.42H428.85zM983.72 2357.46H1001.13V2363.24H983.72zM445.67 2352.28H463.08V2358.06H445.67zM462.48 2347.1H479.9V2352.88H462.48zM1000.53 2347.1H1017.95V2352.88H1000.53zM479.3 2341.92H496.71V2347.7H479.3zM1017.35 2341.92H1034.76V2347.7H1017.35zM496.11 2336.73H513.52V2342.52H496.11zM512.92 2331.55H530.34V2337.33H512.92zM1034.16 2331.55H1051.57V2337.33H1034.16zM529.74 2326.37H547.15V2332.15H529.74zM546.55 2321.19H563.97V2326.97H546.55zM563.37 2316.01H580.78V2321.79H563.37zM1050.97 2316.01H1068.39V2326.97H1050.97zM580.18 2305.64H597.59V2316.61H580.18zM596.99 2300.46H614.41V2306.24H596.99zM1050.97 2284.92H1068.39V2295.88H1050.97zM664.25 2279.74H681.66V2285.52H664.25zM1034.16 2279.74H1068.39V2285.52H1034.16zM697.88 2274.56H715.29V2280.34H697.88zM1034.16 2274.56H1051.57V2280.34H1034.16zM748.32 2269.37H832.99V2275.16H748.32zM1000.53 2269.37H1034.76V2275.16H1000.53zM866.02 2264.19H1001.13V2269.97H866.02z"/>
<path fill="#02b7ca" d="M781.95 2600.99H799.36V2679.32H781.95zM243.9 2575.09H261.31V2591.23H243.9zM798.76 2564.72H816.18V2580.87H798.76zM260.71 2538.82H278.13V2554.96H260.71zM277.53 2507.73H294.94V2518.69H277.53zM294.34 2487H311.76V2492.78H294.34zM311.16 2471.46H328.57V2477.24H311.16zM866.02 2471.46H883.43V2482.42H866.02zM327.97 2455.91H345.38V2461.69H327.97zM344.78 2435.18H362.2V2446.15H344.78zM916.46 2435.18H933.88V2440.97H916.46zM933.28 2419.64H950.69V2425.42H933.28zM361.6 2409.28H379.01V2425.42H361.6zM378.41 2388.55H395.83V2399.51H378.41zM395.23 2373.01H412.64V2383.97H395.23zM966.9 2373.01H984.32V2383.97H966.9zM412.04 2362.64H429.45V2373.61H412.04zM983.72 2362.64H1001.13V2368.42H983.72zM428.85 2352.28H446.27V2363.24H428.85zM1000.53 2352.28H1017.95V2358.06H1000.53zM445.67 2347.1H463.08V2352.88H445.67zM462.48 2341.92H479.9V2347.7H462.48zM479.3 2336.73H496.71V2342.52H479.3zM1034.16 2336.73H1051.57V2342.52H1034.16zM496.11 2331.55H513.52V2337.33H496.11zM512.92 2326.37H530.34V2332.15H512.92zM1050.97 2326.37H1068.39V2332.15H1050.97zM529.74 2321.19H547.15V2326.97H529.74zM546.55 2316.01H563.97V2321.79H546.55zM563.37 2310.83H580.78V2316.61H563.37zM580.18 2300.46H597.59V2306.24H580.18zM596.99 2295.28H614.41V2301.06H596.99zM613.81 2290.1H631.22V2295.88H613.81zM630.62 2284.92H648.04V2290.7H630.62zM1067.79 2284.92H1085.2V2321.79H1067.79zM647.44 2279.74H664.85V2285.52H647.44zM664.25 2274.56H698.48V2280.34H664.25zM1050.97 2274.56H1068.39V2280.34H1050.97zM714.69 2269.37H748.92V2275.16H714.69zM1034.16 2269.37H1051.57V2275.16H1034.16zM781.95 2264.19H866.62V2269.97H781.95zM1000.53 2264.19H1034.76V2269.97H1000.53zM882.83 2259.01H1001.13V2264.79H882.83z"/>
<path fill="#01b8c9" d="M798.76 2668.36H832.99V2684.5H798.76zM798.76 2647.63H816.18V2668.96H798.76zM798.76 2580.27H816.18V2601.59H798.76zM243.9 2559.54H261.31V2575.69H243.9zM260.71 2523.27H278.13V2539.42H260.71zM277.53 2497.36H294.94V2508.33H277.53zM294.34 2476.64H311.76V2487.6H294.34zM311.16 2461.09H328.57V2472.06H311.16zM882.83 2455.91H900.25V2466.87H882.83zM327.97 2445.55H345.38V2456.51H327.97zM344.78 2424.82H362.2V2435.78H344.78zM933.28 2424.82H950.69V2430.6H933.28zM361.6 2393.73H379.01V2409.88H361.6zM966.9 2383.37H984.32V2399.51H966.9zM378.41 2378.19H395.83V2389.15H378.41zM395.23 2367.82H412.64V2373.61H395.23zM983.72 2367.82H1001.13V2373.61H983.72zM412.04 2357.46H429.45V2363.24H412.04zM1000.53 2357.46H1017.95V2363.24H1000.53zM428.85 2347.1H446.27V2352.88H428.85zM1017.35 2347.1H1034.76V2352.88H1017.35zM445.67 2341.92H463.08V2347.7H445.67zM1034.16 2341.92H1051.57V2347.7H1034.16zM462.48 2336.73H479.9V2342.52H462.48zM462.48 2331.55H496.71V2337.33H462.48zM1050.97 2331.55H1068.39V2337.33H1050.97zM496.11 2326.37H513.52V2332.15H496.11zM512.92 2321.19H530.34V2326.97H512.92zM1067.79 2321.19H1085.2V2326.97H1067.79zM529.74 2316.01H547.15V2321.79H529.74zM546.55 2310.83H563.97V2316.61H546.55zM563.37 2300.46H580.78V2311.43H563.37zM580.18 2295.28H597.59V2301.06H580.18zM596.99 2290.1H614.41V2295.88H596.99zM613.81 2284.92H631.22V2290.7H613.81zM1084.6 2284.92H1102.02V2306.24H1084.6zM630.62 2279.74H648.04V2285.52H630.62zM647.44 2274.56H664.85V2280.34H647.44zM1067.79 2274.56H1085.2V2285.52H1067.79zM681.06 2269.37H715.29V2275.16H681.06zM1050.97 2269.37H1068.39V2275.16H1050.97zM731.51 2264.19H782.55V2269.97H731.51zM1034.16 2264.19H1051.57V2269.97H1034.16zM832.39 2259.01H883.43V2264.79H832.39zM1000.53 2259.01H1034.76V2264.79H1000.53zM916.46 2253.83H984.32V2259.61H916.46z"/>
<path fill="#01b9c7" d="M832.39 2668.36H866.62V2684.5H832.39zM815.58 2657.99H866.62V2668.96H815.58zM815.58 2647.63H849.81V2658.59H815.58zM798.76 2637.27H849.81V2648.23H798.76zM798.76 2600.99H832.99V2637.87H798.76zM243.9 2549.18H261.31V2560.14H243.9zM815.58 2538.82H832.99V2565.32H815.58zM260.71 2512.91H278.13V2523.87H260.71zM277.53 2487H294.94V2497.96H277.53zM294.34 2471.46H311.76V2477.24H294.34zM882.83 2466.27H900.25V2472.06H882.83zM311.16 2455.91H328.57V2461.69H311.16zM899.65 2445.55H917.06V2451.33H899.65zM327.97 2435.18H345.38V2446.15H327.97zM950.09 2414.46H967.5V2420.24H950.09zM344.78 2404.09H362.2V2425.42H344.78zM966.9 2398.91H984.32V2404.69H966.9zM361.6 2383.37H379.01V2394.33H361.6zM378.41 2373.01H395.83V2378.79H378.41zM983.72 2373.01H1001.13V2378.79H983.72zM395.23 2362.64H412.64V2368.42H395.23zM412.04 2352.28H429.45V2358.06H412.04zM1017.35 2352.28H1034.76V2358.06H1017.35zM428.85 2341.92H446.27V2347.7H428.85zM1050.97 2336.73H1068.39V2342.52H1050.97zM445.67 2331.55H463.08V2342.52H445.67zM462.48 2326.37H496.71V2332.15H462.48zM1067.79 2326.37H1085.2V2332.15H1067.79zM479.3 2321.19H513.52V2326.97H479.3zM512.92 2316.01H530.34V2321.79H512.92zM529.74 2310.83H547.15V2316.61H529.74zM1084.6 2305.64H1102.02V2321.79H1084.6zM546.55 2300.46H563.97V2311.43H546.55zM563.37 2295.28H580.78V2301.06H563.37zM580.18 2290.1H597.59V2295.88H580.18zM596.99 2284.92H614.41V2290.7H596.99zM613.81 2279.74H631.22V2285.52H613.81zM630.62 2274.56H648.04V2280.34H630.62zM1084.6 2274.56H1102.02V2285.52H1084.6zM664.25 2269.37H681.66V2275.16H664.25zM1067.79 2269.37H1085.2V2275.16H1067.79zM697.88 2264.19H732.11V2269.97H697.88zM1050.97 2264.19H1085.2V2269.97H1050.97zM748.32 2259.01H832.99V2264.79H748.32zM1034.16 2259.01H1051.57V2264.79H1034.16zM849.21 2253.83H917.06V2259.61H849.21zM983.72 2253.83H1034.76V2259.61H983.72z"/>
<path fill="#01b9c6" d="M866.02 2657.99H900.25V2684.5H866.02zM849.21 2637.27H883.43V2658.59H849.21zM832.39 2611.36H866.62V2637.87H832.39zM832.39 2600.99H849.81V2611.96H832.39zM815.58 2569.91H849.81V2601.59H815.58zM815.58 2564.72H832.99V2570.51H815.58zM243.9 2533.63H261.31V2549.78H243.9zM832.39 2518.09H849.81V2529.05H832.39zM260.71 2502.54H278.13V2513.51H260.71zM277.53 2481.82H294.94V2487.6H277.53zM294.34 2466.27H311.76V2472.06H294.34zM899.65 2450.73H917.06V2456.51H899.65zM311.16 2445.55H328.57V2456.51H311.16zM327.97 2419.64H345.38V2435.78H327.97zM966.9 2404.09H984.32V2409.88H966.9zM344.78 2393.73H362.2V2404.69H344.78zM361.6 2378.19H379.01V2383.97H361.6zM983.72 2378.19H1001.13V2383.97H983.72zM378.41 2362.64H395.83V2373.61H378.41zM1000.53 2362.64H1017.95V2368.42H1000.53zM1017.35 2357.46H1034.76V2363.24H1017.35zM395.23 2352.28H412.64V2363.24H395.23zM1034.16 2347.1H1051.57V2352.88H1034.16zM412.04 2341.92H429.45V2352.88H412.04zM1050.97 2341.92H1068.39V2347.7H1050.97zM428.85 2336.73H446.27V2342.52H428.85zM1067.79 2331.55H1085.2V2337.33H1067.79zM445.67 2326.37H463.08V2332.15H445.67zM462.48 2321.19H479.9V2326.97H462.48zM1084.6 2321.19H1102.02V2326.97H1084.6zM479.3 2316.01H513.52V2321.79H479.3zM496.11 2310.83H530.34V2316.61H496.11zM512.92 2305.64H547.15V2311.43H512.92zM529.74 2300.46H547.15V2306.24H529.74zM546.55 2295.28H563.97V2301.06H546.55zM563.37 2290.1H580.78V2295.88H563.37zM580.18 2284.92H597.59V2290.7H580.18zM596.99 2279.74H614.41V2285.52H596.99zM613.81 2274.56H631.22V2280.34H613.81zM1101.42 2274.56H1118.83V2311.43H1101.42zM630.62 2269.37H664.85V2275.16H630.62zM664.25 2264.19H698.48V2269.97H664.25zM1084.6 2264.19H1102.02V2275.16H1084.6zM714.69 2259.01H748.92V2264.79H714.69zM1050.97 2259.01H1085.2V2264.79H1050.97zM781.95 2253.83H849.81V2259.61H781.95zM1034.16 2253.83H1051.57V2259.61H1034.16zM866.02 2248.65H1017.95V2254.43H866.02z"/>
<path fill="#02bac4" d="M899.65 2663.17H933.88V2684.5H899.65zM899.65 2657.99H917.06V2663.77H899.65zM882.83 2637.27H917.06V2658.59H882.83zM866.02 2616.54H900.25V2637.87H866.02zM866.02 2611.36H883.43V2617.14H866.02zM849.21 2595.81H883.43V2611.96H849.21zM849.21 2569.91H866.62V2596.41H849.21zM832.39 2554.36H849.81V2570.51H832.39zM832.39 2528.45H849.81V2539.42H832.39zM243.9 2518.09H261.31V2534.23H243.9zM849.21 2497.36H866.62V2513.51H849.21zM260.71 2492.18H278.13V2503.14H260.71zM277.53 2476.64H294.94V2482.42H277.53zM294.34 2455.91H311.76V2466.87H294.34zM916.46 2440.37H933.88V2446.15H916.46zM311.16 2435.18H328.57V2446.15H311.16zM327.97 2404.09H345.38V2420.24H327.97zM344.78 2383.37H362.2V2394.33H344.78zM983.72 2383.37H1001.13V2399.51H983.72zM361.6 2367.82H379.01V2378.79H361.6zM1000.53 2367.82H1017.95V2373.61H1000.53zM378.41 2357.46H395.83V2363.24H378.41zM1034.16 2352.28H1051.57V2358.06H1034.16zM395.23 2347.1H412.64V2352.88H395.23zM412.04 2336.73H429.45V2342.52H412.04zM1067.79 2336.73H1085.2V2342.52H1067.79zM428.85 2326.37H446.27V2337.33H428.85zM1084.6 2326.37H1102.02V2332.15H1084.6zM445.67 2321.19H463.08V2326.97H445.67zM462.48 2316.01H479.9V2321.79H462.48zM479.3 2310.83H496.71V2316.61H479.3zM1101.42 2310.83H1118.83V2321.79H1101.42zM496.11 2305.64H513.52V2311.43H496.11zM512.92 2300.46H530.34V2306.24H512.92zM529.74 2295.28H547.15V2301.06H529.74zM546.55 2290.1H563.97V2295.88H546.55zM563.37 2284.92H580.78V2290.7H563.37zM580.18 2279.74H597.59V2285.52H580.18zM596.99 2274.56H614.41V2280.34H596.99zM1118.23 2274.56H1135.64V2301.06H1118.23zM613.81 2269.37H631.22V2275.16H613.81zM647.44 2264.19H664.85V2269.97H647.44zM1101.42 2264.19H1118.83V2275.16H1101.42zM681.06 2259.01H715.29V2264.79H681.06zM1084.6 2259.01H1102.02V2264.79H1084.6zM731.51 2253.83H782.55V2259.61H731.51zM1050.97 2253.83H1085.2V2259.61H1050.97zM798.76 2248.65H866.62V2254.43H798.76zM1017.35 2248.65H1051.57V2254.43H1017.35zM882.83 2243.47H1001.13V2249.25H882.83z"/>
<path fill="#03bbc2" d="M933.28 2663.17H950.69V2684.5H933.28zM916.46 2642.45H950.69V2663.77H916.46zM916.46 2637.27H933.88V2643.05H916.46zM899.65 2621.72H933.88V2637.87H899.65zM899.65 2616.54H917.06V2622.32H899.65zM882.83 2606.18H917.06V2617.14H882.83zM882.83 2595.81H900.25V2606.78H882.83zM866.02 2590.63H900.25V2596.41H866.02zM866.02 2569.91H883.43V2591.23H866.02zM849.21 2554.36H866.62V2570.51H849.21zM832.39 2544H849.81V2554.96H832.39zM849.21 2512.91H866.62V2518.69H849.21zM243.9 2507.73H261.31V2518.69H243.9zM260.71 2487H278.13V2492.78H260.71zM866.02 2481.82H883.43V2497.96H866.02zM277.53 2466.27H294.94V2477.24H277.53zM294.34 2445.55H311.76V2456.51H294.34zM933.28 2430H950.69V2435.78H933.28zM311.16 2414.46H328.57V2435.78H311.16zM966.9 2409.28H984.32V2415.06H966.9zM327.97 2388.55H345.38V2404.69H327.97zM344.78 2373.01H362.2V2383.97H344.78zM1000.53 2373.01H1017.95V2378.79H1000.53zM361.6 2362.64H379.01V2368.42H361.6zM1017.35 2362.64H1034.76V2368.42H1017.35zM378.41 2347.1H395.83V2358.06H378.41zM1050.97 2347.1H1068.39V2352.88H1050.97zM1067.79 2341.92H1085.2V2347.7H1067.79zM395.23 2336.73H412.64V2347.7H395.23zM412.04 2331.55H429.45V2337.33H412.04zM1084.6 2331.55H1102.02V2337.33H1084.6zM428.85 2321.19H446.27V2326.97H428.85zM1101.42 2321.19H1118.83V2326.97H1101.42zM445.67 2316.01H463.08V2321.79H445.67zM462.48 2310.83H479.9V2316.61H462.48zM479.3 2305.64H496.71V2311.43H479.3zM496.11 2300.46H513.52V2306.24H496.11zM1118.23 2300.46H1135.64V2311.43H1118.23zM512.92 2295.28H530.34V2301.06H512.92zM529.74 2290.1H547.15V2295.88H529.74zM546.55 2284.92H563.97V2290.7H546.55zM563.37 2279.74H580.78V2285.52H563.37zM580.18 2274.56H597.59V2280.34H580.18zM596.99 2269.37H614.41V2275.16H596.99zM630.62 2264.19H648.04V2269.97H630.62zM1118.23 2264.19H1135.64V2275.16H1118.23zM647.44 2259.01H681.66V2264.79H647.44zM1101.42 2259.01H1118.83V2264.79H1101.42zM681.06 2253.83H732.11V2259.61H681.06zM1084.6 2253.83H1102.02V2259.61H1084.6zM748.32 2248.65H799.36V2254.43H748.32zM1050.97 2248.65H1085.2V2254.43H1050.97zM832.39 2243.47H883.43V2249.25H832.39zM1000.53 2243.47H1051.57V2249.25H1000.53zM916.46 2238.28H984.32V2244.07H916.46z"/>
<path fill="#05bbc1" d="M950.09 2652.81H984.32V2684.5H950.09zM950.09 2642.45H967.5V2653.41H950.09zM933.28 2632.08H967.5V2643.05H933.28zM933.28 2621.72H950.69V2632.68H933.28zM916.46 2616.54H950.69V2622.32H916.46zM916.46 2606.18H933.88V2617.14H916.46zM899.65 2600.99H933.88V2606.78H899.65zM899.65 2590.63H917.06V2601.59H899.65zM882.83 2585.45H917.06V2591.23H882.83zM882.83 2575.09H900.25V2586.05H882.83zM866.02 2559.54H883.43V2570.51H866.02zM849.21 2544H866.62V2554.96H849.21zM832.39 2538.82H849.81V2544.6H832.39zM243.9 2497.36H261.31V2508.33H243.9zM260.71 2476.64H278.13V2487.6H260.71zM277.53 2455.91H294.94V2466.87H277.53zM294.34 2435.18H311.76V2446.15H294.34zM950.09 2419.64H967.5V2425.42H950.09zM311.16 2398.91H328.57V2415.06H311.16zM983.72 2398.91H1001.13V2404.69H983.72zM327.97 2378.19H345.38V2389.15H327.97zM1000.53 2378.19H1017.95V2383.97H1000.53zM1017.35 2367.82H1034.76V2373.61H1017.35zM344.78 2362.64H362.2V2373.61H344.78zM1034.16 2357.46H1051.57V2363.24H1034.16zM361.6 2352.28H379.01V2363.24H361.6zM1050.97 2352.28H1068.39V2358.06H1050.97zM378.41 2341.92H395.83V2347.7H378.41zM1084.6 2336.73H1102.02V2342.52H1084.6zM395.23 2331.55H412.64V2337.33H395.23zM412.04 2326.37H429.45V2332.15H412.04zM1101.42 2326.37H1118.83V2332.15H1101.42zM428.85 2316.01H446.27V2321.79H428.85zM445.67 2310.83H463.08V2316.61H445.67zM1118.23 2310.83H1135.64V2316.61H1118.23zM462.48 2305.64H479.9V2311.43H462.48zM479.3 2300.46H496.71V2306.24H479.3zM496.11 2295.28H513.52V2301.06H496.11zM512.92 2290.1H530.34V2295.88H512.92zM529.74 2284.92H547.15V2290.7H529.74zM546.55 2279.74H563.97V2285.52H546.55zM563.37 2274.56H580.78V2280.34H563.37zM580.18 2269.37H597.59V2275.16H580.18zM1135.04 2269.37H1152.46V2306.24H1135.04zM596.99 2264.19H631.22V2269.97H596.99zM630.62 2259.01H648.04V2264.79H630.62zM1118.23 2259.01H1135.64V2264.79H1118.23zM664.25 2253.83H681.66V2259.61H664.25zM1101.42 2253.83H1118.83V2259.61H1101.42zM697.88 2248.65H748.92V2254.43H697.88zM1084.6 2248.65H1102.02V2254.43H1084.6zM765.14 2243.47H832.99V2249.25H765.14zM1050.97 2243.47H1068.39V2249.25H1050.97zM849.21 2238.28H917.06V2244.07H849.21zM983.72 2238.28H1034.76V2244.07H983.72z"/>
<path fill="#08bcbf" d="M983.72 2652.81H1001.13V2684.5H983.72zM966.9 2637.27H1001.13V2653.41H966.9zM966.9 2632.08H984.32V2637.87H966.9zM950.09 2621.72H984.32V2632.68H950.09zM950.09 2616.54H967.5V2622.32H950.09zM933.28 2606.18H967.5V2617.14H933.28zM933.28 2600.99H950.69V2606.78H933.28zM916.46 2595.81H950.69V2601.59H916.46zM916.46 2585.45H933.88V2596.41H916.46zM899.65 2575.09H917.06V2586.05H899.65zM882.83 2559.54H900.25V2575.69H882.83zM866.02 2544H883.43V2560.14H866.02zM849.21 2518.09H866.62V2544.6H849.21zM243.9 2487H261.31V2497.96H243.9zM882.83 2471.46H900.25V2482.42H882.83zM260.71 2466.27H278.13V2477.24H260.71zM277.53 2450.73H294.94V2456.51H277.53zM294.34 2409.28H311.76V2435.78H294.34zM311.16 2383.37H328.57V2399.51H311.16zM1000.53 2383.37H1017.95V2394.33H1000.53zM327.97 2367.82H345.38V2378.79H327.97zM1034.16 2362.64H1051.57V2368.42H1034.16zM344.78 2357.46H362.2V2363.24H344.78zM361.6 2347.1H379.01V2352.88H361.6zM1067.79 2347.1H1085.2V2352.88H1067.79zM1084.6 2341.92H1102.02V2347.7H1084.6zM378.41 2336.73H395.83V2342.52H378.41zM1101.42 2331.55H1118.83V2337.33H1101.42zM395.23 2326.37H412.64V2332.15H395.23zM412.04 2316.01H429.45V2326.97H412.04zM1118.23 2316.01H1135.64V2326.97H1118.23zM428.85 2310.83H446.27V2316.61H428.85zM445.67 2305.64H463.08V2311.43H445.67zM1135.04 2305.64H1152.46V2311.43H1135.04zM462.48 2300.46H479.9V2306.24H462.48zM479.3 2295.28H496.71V2301.06H479.3zM479.3 2290.1H513.52V2295.88H479.3zM496.11 2284.92H530.34V2290.7H496.11zM512.92 2279.74H547.15V2285.52H512.92zM529.74 2274.56H563.97V2280.34H529.74zM563.37 2269.37H580.78V2275.16H563.37zM1151.86 2269.37H1169.27V2295.88H1151.86zM580.18 2264.19H597.59V2269.97H580.18zM596.99 2259.01H631.22V2264.79H596.99zM1135.04 2259.01H1152.46V2269.97H1135.04zM630.62 2253.83H664.85V2259.61H630.62zM1118.23 2253.83H1135.64V2259.61H1118.23zM664.25 2248.65H698.48V2254.43H664.25zM1101.42 2248.65H1118.83V2254.43H1101.42zM714.69 2243.47H765.74V2249.25H714.69zM1067.79 2243.47H1102.02V2249.25H1067.79zM781.95 2238.28H849.81V2244.07H781.95zM1034.16 2238.28H1068.39V2244.07H1034.16zM866.02 2233.1H1034.76V2238.88H866.02z"/>
<path fill="#0abdbd" d="M1000.53 2647.63H1034.76V2684.5H1000.53zM1000.53 2637.27H1017.95V2648.23H1000.53zM983.72 2626.9H1017.95V2637.87H983.72zM983.72 2621.72H1001.13V2627.5H983.72zM966.9 2611.36H1001.13V2622.32H966.9zM966.9 2606.18H984.32V2611.96H966.9zM950.09 2600.99H984.32V2606.78H950.09zM950.09 2595.81H967.5V2601.59H950.09zM933.28 2590.63H967.5V2596.41H933.28zM933.28 2585.45H950.69V2591.23H933.28zM916.46 2580.27H950.69V2586.05H916.46zM916.46 2575.09H933.88V2580.87H916.46zM899.65 2569.91H933.88V2575.69H899.65zM899.65 2559.54H917.06V2570.51H899.65zM882.83 2544H900.25V2560.14H882.83zM866.02 2538.82H900.25V2544.6H866.02zM866.02 2497.36H883.43V2539.42H866.02zM243.9 2476.64H261.31V2487.6H243.9zM260.71 2461.09H278.13V2466.87H260.71zM899.65 2455.91H917.06V2472.06H899.65zM277.53 2435.18H294.94V2451.33H277.53zM933.28 2435.18H950.69V2440.97H933.28zM294.34 2393.73H311.76V2409.88H294.34zM311.16 2373.01H328.57V2383.97H311.16zM1017.35 2373.01H1034.76V2378.79H1017.35zM327.97 2362.64H345.38V2368.42H327.97zM1050.97 2357.46H1068.39V2363.24H1050.97zM344.78 2352.28H362.2V2358.06H344.78zM1067.79 2352.28H1085.2V2358.06H1067.79zM361.6 2341.92H379.01V2347.7H361.6zM1101.42 2336.73H1118.83V2342.52H1101.42zM378.41 2331.55H395.83V2337.33H378.41zM1118.23 2326.37H1135.64V2332.15H1118.23zM395.23 2321.19H412.64V2326.97H395.23zM412.04 2310.83H429.45V2316.61H412.04zM1135.04 2310.83H1152.46V2321.79H1135.04zM428.85 2305.64H446.27V2311.43H428.85zM445.67 2300.46H463.08V2306.24H445.67zM1151.86 2295.28H1169.27V2306.24H1151.86zM462.48 2290.1H479.9V2301.06H462.48zM479.3 2284.92H496.71V2290.7H479.3zM496.11 2279.74H513.52V2285.52H496.11zM512.92 2274.56H530.34V2280.34H512.92zM529.74 2269.37H563.97V2275.16H529.74zM1168.67 2269.37H1186.09V2290.7H1168.67zM563.37 2264.19H580.78V2269.97H563.37zM580.18 2259.01H597.59V2264.79H580.18zM1151.86 2259.01H1169.27V2269.97H1151.86zM613.81 2253.83H631.22V2259.61H613.81zM1135.04 2253.83H1152.46V2259.61H1135.04zM630.62 2248.65H664.85V2254.43H630.62zM1118.23 2248.65H1135.64V2254.43H1118.23zM681.06 2243.47H715.29V2249.25H681.06zM1101.42 2243.47H1118.83V2249.25H1101.42zM731.51 2238.28H782.55V2244.07H731.51zM1067.79 2238.28H1102.02V2244.07H1067.79zM798.76 2233.1H866.62V2238.88H798.76zM1034.16 2233.1H1068.39V2238.88H1034.16zM899.65 2227.92H1001.13V2233.7H899.65z"/>
<path fill="#0dbdbc" d="M1034.16 2647.63H1051.57V2684.5H1034.16zM1017.35 2632.08H1051.57V2648.23H1017.35zM1017.35 2626.9H1034.76V2632.68H1017.35zM1000.53 2616.54H1034.76V2627.5H1000.53zM1000.53 2611.36H1017.95V2617.14H1000.53zM983.72 2600.99H1017.95V2611.96H983.72zM966.9 2590.63H1001.13V2601.59H966.9zM950.09 2585.45H984.32V2591.23H950.09zM950.09 2580.27H967.5V2586.05H950.09zM933.28 2575.09H967.5V2580.87H933.28zM933.28 2569.91H950.69V2575.69H933.28zM916.46 2564.72H950.69V2570.51H916.46zM916.46 2559.54H933.88V2565.32H916.46zM899.65 2554.36H933.88V2560.14H899.65zM899.65 2538.82H917.06V2554.96H899.65zM882.83 2497.36H917.06V2539.42H882.83zM882.83 2481.82H900.25V2497.96H882.83zM243.9 2471.46H261.31V2477.24H243.9zM260.71 2450.73H278.13V2461.69H260.71zM916.46 2445.55H933.88V2456.51H916.46zM950.09 2424.82H967.5V2430.6H950.09zM277.53 2404.09H294.94V2435.78H277.53zM983.72 2404.09H1001.13V2409.88H983.72zM1000.53 2393.73H1017.95V2399.51H1000.53zM294.34 2378.19H311.76V2394.33H294.34zM1017.35 2378.19H1034.76V2389.15H1017.35zM311.16 2367.82H328.57V2373.61H311.16zM1034.16 2367.82H1051.57V2373.61H1034.16zM1050.97 2362.64H1068.39V2368.42H1050.97zM327.97 2357.46H345.38V2363.24H327.97zM1084.6 2347.1H1102.02V2352.88H1084.6zM344.78 2341.92H362.2V2352.88H344.78zM1101.42 2341.92H1118.83V2347.7H1101.42zM361.6 2331.55H379.01V2342.52H361.6zM1118.23 2331.55H1135.64V2337.33H1118.23zM378.41 2321.19H395.83V2332.15H378.41zM1135.04 2321.19H1152.46V2326.97H1135.04zM395.23 2316.01H412.64V2321.79H395.23zM412.04 2305.64H429.45V2311.43H412.04zM1151.86 2305.64H1169.27V2316.61H1151.86zM428.85 2300.46H446.27V2306.24H428.85zM445.67 2290.1H463.08V2301.06H445.67zM1168.67 2290.1H1186.09V2301.06H1168.67zM462.48 2284.92H479.9V2290.7H462.48zM479.3 2279.74H496.71V2285.52H479.3zM496.11 2274.56H513.52V2280.34H496.11zM512.92 2269.37H530.34V2275.16H512.92zM529.74 2264.19H563.97V2269.97H529.74zM1168.67 2264.19H1186.09V2269.97H1168.67zM563.37 2259.01H580.78V2264.79H563.37zM580.18 2253.83H614.41V2259.61H580.18zM1151.86 2253.83H1169.27V2259.61H1151.86zM613.81 2248.65H631.22V2254.43H613.81zM1135.04 2248.65H1152.46V2254.43H1135.04zM647.44 2243.47H681.66V2249.25H647.44zM1118.23 2243.47H1135.64V2249.25H1118.23zM681.06 2238.28H732.11V2244.07H681.06zM1101.42 2238.28H1118.83V2244.07H1101.42zM748.32 2233.1H799.36V2238.88H748.32zM1067.79 2233.1H1085.2V2238.88H1067.79zM832.39 2227.92H900.25V2233.7H832.39zM1000.53 2227.92H1051.57V2233.7H1000.53zM933.28 2222.74H967.5V2228.52H933.28z"/>
<path fill="#10beba" d="M1050.97 2642.45H1085.2V2684.5H1050.97zM1050.97 2632.08H1068.39V2643.05H1050.97zM1034.16 2621.72H1068.39V2632.68H1034.16zM1034.16 2616.54H1051.57V2622.32H1034.16zM1017.35 2606.18H1051.57V2617.14H1017.35zM1017.35 2600.99H1034.76V2606.78H1017.35zM1000.53 2595.81H1034.76V2601.59H1000.53zM1000.53 2590.63H1017.95V2596.41H1000.53zM983.72 2585.45H1017.95V2591.23H983.72zM966.9 2575.09H1001.13V2586.05H966.9zM950.09 2569.91H984.32V2575.69H950.09zM950.09 2564.72H967.5V2570.51H950.09zM933.28 2559.54H967.5V2565.32H933.28zM933.28 2554.36H950.69V2560.14H933.28zM916.46 2533.63H950.69V2554.96H916.46zM916.46 2497.36H933.88V2534.23H916.46zM899.65 2487H933.88V2497.96H899.65zM899.65 2471.46H917.06V2487.6H899.65zM243.9 2461.09H261.31V2472.06H243.9zM933.28 2440.37H950.69V2446.15H933.28zM260.71 2430H278.13V2451.33H260.71zM950.09 2430H967.5V2435.78H950.09zM966.9 2414.46H984.32V2420.24H966.9zM277.53 2388.55H294.94V2404.69H277.53zM294.34 2373.01H311.76V2378.79H294.34zM1034.16 2373.01H1051.57V2378.79H1034.16zM1050.97 2367.82H1068.39V2373.61H1050.97zM311.16 2357.46H328.57V2368.42H311.16zM1067.79 2357.46H1085.2V2363.24H1067.79zM1084.6 2352.28H1102.02V2358.06H1084.6zM327.97 2347.1H345.38V2358.06H327.97zM344.78 2336.73H362.2V2342.52H344.78zM1118.23 2336.73H1135.64V2342.52H1118.23zM361.6 2326.37H379.01V2332.15H361.6zM1135.04 2326.37H1152.46V2332.15H1135.04zM378.41 2316.01H395.83V2321.79H378.41zM1151.86 2316.01H1169.27V2321.79H1151.86zM395.23 2310.83H412.64V2316.61H395.23zM412.04 2300.46H429.45V2306.24H412.04zM1168.67 2300.46H1186.09V2311.43H1168.67zM428.85 2295.28H446.27V2301.06H428.85zM445.67 2284.92H463.08V2290.7H445.67zM462.48 2279.74H479.9V2285.52H462.48zM479.3 2274.56H496.71V2280.34H479.3zM496.11 2269.37H513.52V2275.16H496.11zM512.92 2264.19H530.34V2269.97H512.92zM1185.49 2264.19H1202.9V2295.88H1185.49zM546.55 2259.01H563.97V2264.79H546.55zM563.37 2253.83H580.78V2259.61H563.37zM1168.67 2253.83H1186.09V2264.79H1168.67zM596.99 2248.65H614.41V2254.43H596.99zM1151.86 2248.65H1169.27V2254.43H1151.86zM613.81 2243.47H648.04V2249.25H613.81zM1135.04 2243.47H1152.46V2249.25H1135.04zM647.44 2238.28H681.66V2244.07H647.44zM1118.23 2238.28H1135.64V2244.07H1118.23zM697.88 2233.1H748.92V2238.88H697.88zM1084.6 2233.1H1118.83V2238.88H1084.6zM765.14 2227.92H832.99V2233.7H765.14zM1050.97 2227.92H1085.2V2233.7H1050.97zM849.21 2222.74H933.88V2228.52H849.21zM966.9 2222.74H1034.76V2228.52H966.9z"/>
<path fill="#13beb8" d="M1084.6 2678.72H1102.02V2684.5H1084.6zM1084.6 2663.17H1118.83V2679.32H1084.6zM1084.6 2642.45H1102.02V2663.77H1084.6zM1067.79 2632.08H1102.02V2643.05H1067.79zM1067.79 2621.72H1085.2V2632.68H1067.79zM1050.97 2611.36H1085.2V2622.32H1050.97zM1050.97 2606.18H1068.39V2611.96H1050.97zM1034.16 2595.81H1068.39V2606.78H1034.16zM1017.35 2585.45H1051.57V2596.41H1017.35zM1000.53 2575.09H1034.76V2586.05H1000.53zM983.72 2569.91H1017.95V2575.69H983.72zM966.9 2559.54H1001.13V2570.51H966.9zM950.09 2538.82H984.32V2560.14H950.09zM950.09 2533.63H967.5V2539.42H950.09zM933.28 2497.36H967.5V2534.23H933.28zM933.28 2487H950.69V2497.96H933.28zM916.46 2481.82H950.69V2487.6H916.46zM916.46 2461.09H933.88V2482.42H916.46zM243.9 2450.73H261.31V2461.69H243.9zM966.9 2419.64H984.32V2425.42H966.9zM983.72 2409.28H1001.13V2415.06H983.72zM260.71 2398.91H278.13V2430.6H260.71zM1017.35 2388.55H1034.76V2394.33H1017.35zM277.53 2378.19H294.94V2389.15H277.53zM1034.16 2378.19H1051.57V2383.97H1034.16zM294.34 2362.64H311.76V2373.61H294.34zM1067.79 2362.64H1085.2V2368.42H1067.79zM1084.6 2357.46H1102.02V2363.24H1084.6zM311.16 2352.28H328.57V2358.06H311.16zM1101.42 2347.1H1118.83V2352.88H1101.42zM327.97 2341.92H345.38V2347.7H327.97zM1118.23 2341.92H1135.64V2347.7H1118.23zM344.78 2331.55H362.2V2337.33H344.78zM1135.04 2331.55H1152.46V2337.33H1135.04zM361.6 2321.19H379.01V2326.97H361.6zM1151.86 2321.19H1169.27V2326.97H1151.86zM378.41 2310.83H395.83V2316.61H378.41zM1168.67 2310.83H1186.09V2316.61H1168.67zM395.23 2305.64H412.64V2311.43H395.23zM412.04 2295.28H429.45V2301.06H412.04zM1185.49 2295.28H1202.9V2306.24H1185.49zM428.85 2284.92H446.27V2295.88H428.85zM445.67 2279.74H463.08V2285.52H445.67zM462.48 2274.56H479.9V2280.34H462.48zM479.3 2269.37H496.71V2275.16H479.3zM1202.3 2269.37H1219.71V2285.52H1202.3zM496.11 2264.19H513.52V2269.97H496.11zM512.92 2259.01H547.15V2264.79H512.92zM1185.49 2259.01H1202.9V2264.79H1185.49zM546.55 2253.83H563.97V2259.61H546.55zM563.37 2248.65H597.59V2254.43H563.37zM1168.67 2248.65H1186.09V2254.43H1168.67zM596.99 2243.47H614.41V2249.25H596.99zM1151.86 2243.47H1169.27V2249.25H1151.86zM630.62 2238.28H648.04V2244.07H630.62zM1135.04 2238.28H1152.46V2244.07H1135.04zM664.25 2233.1H698.48V2238.88H664.25zM1118.23 2233.1H1135.64V2238.88H1118.23zM714.69 2227.92H765.74V2233.7H714.69zM1084.6 2227.92H1102.02V2233.7H1084.6zM781.95 2222.74H849.81V2228.52H781.95zM1034.16 2222.74H1068.39V2228.52H1034.16zM866.02 2217.56H1017.95V2223.34H866.02z"/>
<path fill="#17bfb6" d="M1101.42 2678.72H1135.64V2684.5H1101.42zM1118.23 2663.17H1135.64V2679.32H1118.23zM1101.42 2647.63H1135.64V2663.77H1101.42zM1101.42 2632.08H1118.83V2648.23H1101.42zM1084.6 2621.72H1118.83V2632.68H1084.6zM1084.6 2611.36H1102.02V2622.32H1084.6zM1067.79 2600.99H1102.02V2611.96H1067.79zM1067.79 2595.81H1085.2V2601.59H1067.79zM1050.97 2585.45H1085.2V2596.41H1050.97zM1034.16 2575.09H1068.39V2586.05H1034.16zM1017.35 2569.91H1051.57V2575.69H1017.35zM1000.53 2564.72H1051.57V2570.51H1000.53zM1000.53 2559.54H1034.76V2565.32H1000.53zM983.72 2554.36H1034.76V2560.14H983.72zM983.72 2538.82H1017.95V2554.96H983.72zM966.9 2502.54H1001.13V2539.42H966.9zM966.9 2497.36H984.32V2503.14H966.9zM950.09 2492.18H984.32V2497.96H950.09zM950.09 2481.82H967.5V2492.78H950.09zM933.28 2476.64H967.5V2482.42H933.28zM933.28 2461.09H950.69V2477.24H933.28zM916.46 2455.91H933.88V2461.69H916.46zM243.9 2424.82H261.31V2451.33H243.9zM1000.53 2398.91H1017.95V2409.88H1000.53zM260.71 2383.37H278.13V2399.51H260.71zM1050.97 2373.01H1068.39V2378.79H1050.97zM277.53 2367.82H294.94V2378.79H277.53zM1067.79 2367.82H1085.2V2373.61H1067.79zM294.34 2357.46H311.76V2363.24H294.34zM1101.42 2352.28H1118.83V2358.06H1101.42zM311.16 2347.1H328.57V2352.88H311.16zM327.97 2336.73H345.38V2342.52H327.97zM1135.04 2336.73H1152.46V2342.52H1135.04zM344.78 2326.37H362.2V2332.15H344.78zM1151.86 2326.37H1169.27V2332.15H1151.86zM361.6 2316.01H379.01V2321.79H361.6zM1168.67 2316.01H1186.09V2321.79H1168.67zM378.41 2305.64H395.83V2311.43H378.41zM1185.49 2305.64H1202.9V2311.43H1185.49zM395.23 2295.28H412.64V2306.24H395.23zM412.04 2290.1H429.45V2295.88H412.04zM1202.3 2284.92H1219.71V2301.06H1202.3zM428.85 2279.74H446.27V2285.52H428.85zM445.67 2274.56H463.08V2280.34H445.67zM462.48 2269.37H479.9V2275.16H462.48zM479.3 2264.19H496.71V2269.97H479.3zM496.11 2259.01H513.52V2264.79H496.11zM1202.3 2259.01H1219.71V2269.97H1202.3zM529.74 2253.83H547.15V2259.61H529.74zM546.55 2248.65H563.97V2254.43H546.55zM1185.49 2248.65H1202.9V2259.61H1185.49zM580.18 2243.47H597.59V2249.25H580.18zM1168.67 2243.47H1186.09V2249.25H1168.67zM596.99 2238.28H631.22V2244.07H596.99zM1151.86 2238.28H1169.27V2244.07H1151.86zM630.62 2233.1H664.85V2238.88H630.62zM1135.04 2233.1H1152.46V2238.88H1135.04zM664.25 2227.92H715.29V2233.7H664.25zM1101.42 2227.92H1135.64V2233.7H1101.42zM731.51 2222.74H782.55V2228.52H731.51zM1067.79 2222.74H1102.02V2228.52H1067.79zM798.76 2217.56H866.62V2223.34H798.76zM1017.35 2217.56H1068.39V2223.34H1017.35zM899.65 2212.38H1001.13V2218.16H899.65z"/>
<path fill="#1ac0b5" d="M1135.04 2657.99H1169.27V2684.5H1135.04zM1135.04 2647.63H1152.46V2658.59H1135.04zM1118.23 2637.27H1152.46V2648.23H1118.23zM1118.23 2621.72H1135.64V2637.87H1118.23zM1101.42 2611.36H1135.64V2622.32H1101.42zM1101.42 2600.99H1118.83V2611.96H1101.42zM1084.6 2590.63H1118.83V2601.59H1084.6zM1084.6 2585.45H1102.02V2591.23H1084.6zM1067.79 2575.09H1102.02V2586.05H1067.79zM1050.97 2564.72H1085.2V2575.69H1050.97zM1034.16 2554.36H1068.39V2565.32H1034.16zM1017.35 2538.82H1051.57V2554.96H1017.35zM1000.53 2512.91H1034.76V2539.42H1000.53zM1000.53 2502.54H1017.95V2513.51H1000.53zM983.72 2497.36H1017.95V2503.14H983.72zM983.72 2492.18H1001.13V2497.96H983.72zM966.9 2487H1001.13V2492.78H966.9zM966.9 2476.64H984.32V2487.6H966.9zM950.09 2461.09H967.5V2477.24H950.09zM933.28 2455.91H967.5V2461.69H933.28zM933.28 2445.55H950.69V2456.51H933.28zM950.09 2435.18H967.5V2446.15H950.09zM966.9 2424.82H984.32V2435.78H966.9zM983.72 2414.46H1001.13V2425.42H983.72zM243.9 2393.73H261.31V2425.42H243.9zM1017.35 2393.73H1034.76V2399.51H1017.35zM260.71 2373.01H278.13V2383.97H260.71zM277.53 2362.64H294.94V2368.42H277.53zM1084.6 2362.64H1102.02V2368.42H1084.6zM1101.42 2357.46H1118.83V2363.24H1101.42zM294.34 2352.28H311.76V2358.06H294.34zM1118.23 2347.1H1135.64V2352.88H1118.23zM311.16 2341.92H328.57V2347.7H311.16zM1135.04 2341.92H1152.46V2347.7H1135.04zM327.97 2331.55H345.38V2337.33H327.97zM1151.86 2331.55H1169.27V2337.33H1151.86zM344.78 2321.19H362.2V2326.97H344.78zM1168.67 2321.19H1186.09V2326.97H1168.67zM361.6 2310.83H379.01V2316.61H361.6zM1185.49 2310.83H1202.9V2316.61H1185.49zM378.41 2300.46H395.83V2306.24H378.41zM1202.3 2300.46H1219.71V2306.24H1202.3zM395.23 2290.1H412.64V2295.88H395.23zM412.04 2284.92H429.45V2290.7H412.04zM428.85 2274.56H446.27V2280.34H428.85zM445.67 2269.37H463.08V2275.16H445.67zM462.48 2264.19H479.9V2269.97H462.48zM1219.11 2264.19H1236.53V2295.88H1219.11zM479.3 2259.01H496.71V2264.79H479.3zM496.11 2253.83H530.34V2259.61H496.11zM1202.3 2253.83H1219.71V2259.61H1202.3zM529.74 2248.65H547.15V2254.43H529.74zM546.55 2243.47H580.78V2249.25H546.55zM1185.49 2243.47H1202.9V2249.25H1185.49zM580.18 2238.28H597.59V2244.07H580.18zM1168.67 2238.28H1186.09V2244.07H1168.67zM596.99 2233.1H631.22V2238.88H596.99zM1151.86 2233.1H1169.27V2238.88H1151.86zM630.62 2227.92H664.85V2233.7H630.62zM1135.04 2227.92H1152.46V2233.7H1135.04zM681.06 2222.74H732.11V2228.52H681.06zM1101.42 2222.74H1118.83V2228.52H1101.42zM748.32 2217.56H799.36V2223.34H748.32zM1067.79 2217.56H1102.02V2223.34H1067.79zM832.39 2212.38H900.25V2218.16H832.39zM1000.53 2212.38H1051.57V2218.16H1000.53z"/>
<path fill="#1dc0b3" d="M1168.67 2678.72H1202.9V2684.5H1168.67zM1168.67 2657.99H1186.09V2679.32H1168.67zM1151.86 2652.81H1186.09V2658.59H1151.86zM1151.86 2637.27H1169.27V2653.41H1151.86zM1135.04 2632.08H1169.27V2637.87H1135.04zM1135.04 2611.36H1152.46V2632.68H1135.04zM1118.23 2606.18H1152.46V2611.96H1118.23zM1118.23 2590.63H1135.64V2606.78H1118.23zM1101.42 2580.27H1135.64V2591.23H1101.42zM1101.42 2575.09H1118.83V2580.87H1101.42zM1084.6 2564.72H1118.83V2575.69H1084.6zM1067.79 2554.36H1102.02V2565.32H1067.79zM1050.97 2538.82H1085.2V2554.96H1050.97zM1034.16 2523.27H1068.39V2539.42H1034.16zM1034.16 2512.91H1051.57V2523.87H1034.16zM1017.35 2502.54H1051.57V2513.51H1017.35zM1017.35 2497.36H1034.76V2503.14H1017.35zM1000.53 2492.18H1034.76V2497.96H1000.53zM1000.53 2487H1017.95V2492.78H1000.53zM983.72 2476.64H1017.95V2487.6H983.72zM966.9 2466.27H1001.13V2477.24H966.9zM966.9 2455.91H984.32V2466.87H966.9zM950.09 2445.55H984.32V2456.51H950.09zM966.9 2440.37H984.32V2446.15H966.9zM966.9 2435.18H1001.13V2440.97H966.9zM983.72 2424.82H1001.13V2435.78H983.72zM1000.53 2409.28H1017.95V2425.42H1000.53zM1017.35 2398.91H1034.76V2404.69H1017.35zM1034.16 2383.37H1051.57V2389.15H1034.16zM243.9 2378.19H261.31V2394.33H243.9zM260.71 2367.82H278.13V2373.61H260.71zM1084.6 2367.82H1102.02V2373.61H1084.6zM1101.42 2362.64H1118.83V2368.42H1101.42zM277.53 2357.46H294.94V2363.24H277.53zM1118.23 2352.28H1135.64V2358.06H1118.23zM294.34 2347.1H311.76V2352.88H294.34zM1135.04 2347.1H1152.46V2352.88H1135.04zM1151.86 2336.73H1169.27V2342.52H1151.86zM311.16 2331.55H328.57V2342.52H311.16zM1168.67 2326.37H1186.09V2332.15H1168.67zM327.97 2321.19H345.38V2332.15H327.97zM1185.49 2316.01H1202.9V2321.79H1185.49zM344.78 2310.83H362.2V2321.79H344.78zM361.6 2305.64H379.01V2311.43H361.6zM1202.3 2305.64H1219.71V2316.61H1202.3zM378.41 2295.28H395.83V2301.06H378.41zM1219.11 2295.28H1236.53V2306.24H1219.11zM395.23 2284.92H412.64V2290.7H395.23zM412.04 2274.56H429.45V2285.52H412.04zM428.85 2269.37H446.27V2275.16H428.85zM445.67 2264.19H463.08V2269.97H445.67zM462.48 2259.01H479.9V2264.79H462.48zM479.3 2253.83H496.71V2259.61H479.3zM1219.11 2253.83H1236.53V2264.79H1219.11zM512.92 2248.65H530.34V2254.43H512.92zM1202.3 2248.65H1219.71V2254.43H1202.3zM529.74 2243.47H547.15V2249.25H529.74zM563.37 2238.28H580.78V2244.07H563.37zM1185.49 2238.28H1202.9V2244.07H1185.49zM580.18 2233.1H597.59V2238.88H580.18zM1168.67 2233.1H1186.09V2238.88H1168.67zM613.81 2227.92H631.22V2233.7H613.81zM1151.86 2227.92H1169.27V2233.7H1151.86zM647.44 2222.74H681.66V2228.52H647.44zM1118.23 2222.74H1135.64V2228.52H1118.23zM697.88 2217.56H748.92V2223.34H697.88zM1101.42 2217.56H1118.83V2223.34H1101.42zM765.14 2212.38H832.99V2218.16H765.14zM1050.97 2212.38H1085.2V2218.16H1050.97zM849.21 2207.19H1034.76V2212.98H849.21z"/>
<path fill="#20c1b1" d="M1202.3 2678.72H1219.71V2684.5H1202.3zM1185.49 2652.81H1202.9V2679.32H1185.49zM1168.67 2632.08H1186.09V2653.41H1168.67zM1151.86 2626.9H1186.09V2632.68H1151.86zM1151.86 2606.18H1169.27V2627.5H1151.86zM1135.04 2595.81H1169.27V2606.78H1135.04zM1135.04 2580.27H1152.46V2596.41H1135.04zM1118.23 2569.91H1152.46V2580.87H1118.23zM1118.23 2564.72H1135.64V2570.51H1118.23zM1101.42 2554.36H1135.64V2565.32H1101.42zM1084.6 2544H1118.83V2554.96H1084.6zM1084.6 2538.82H1102.02V2544.6H1084.6zM1067.79 2528.45H1102.02V2539.42H1067.79zM1067.79 2523.27H1085.2V2529.05H1067.79zM1050.97 2512.91H1085.2V2523.87H1050.97zM1050.97 2502.54H1068.39V2513.51H1050.97zM1034.16 2497.36H1068.39V2503.14H1034.16zM1034.16 2492.18H1051.57V2497.96H1034.16zM1017.35 2481.82H1051.57V2492.78H1017.35zM1017.35 2476.64H1034.76V2482.42H1017.35zM1000.53 2471.46H1034.76V2477.24H1000.53zM1000.53 2466.27H1017.95V2472.06H1000.53zM983.72 2455.91H1017.95V2466.87H983.72zM983.72 2445.55H1001.13V2456.51H983.72zM983.72 2440.37H1017.95V2446.15H983.72zM1000.53 2430H1017.95V2440.97H1000.53zM1000.53 2424.82H1034.76V2430.6H1000.53zM1017.35 2404.09H1034.76V2425.42H1017.35zM1034.16 2388.55H1051.57V2394.33H1034.16zM1050.97 2378.19H1068.39V2383.97H1050.97zM243.9 2373.01H261.31V2378.79H243.9zM260.71 2362.64H278.13V2368.42H260.71zM1118.23 2357.46H1135.64V2363.24H1118.23zM1135.04 2352.28H1152.46V2358.06H1135.04zM277.53 2347.1H294.94V2358.06H277.53zM1151.86 2341.92H1169.27V2347.7H1151.86zM294.34 2336.73H311.76V2347.7H294.34zM1168.67 2331.55H1186.09V2337.33H1168.67zM311.16 2326.37H328.57V2332.15H311.16zM1185.49 2321.19H1202.9V2332.15H1185.49zM327.97 2316.01H345.38V2321.79H327.97zM1202.3 2316.01H1219.71V2321.79H1202.3zM344.78 2305.64H362.2V2311.43H344.78zM1219.11 2305.64H1236.53V2311.43H1219.11zM361.6 2295.28H379.01V2306.24H361.6zM378.41 2290.1H395.83V2295.88H378.41zM395.23 2279.74H412.64V2285.52H395.23zM412.04 2269.37H429.45V2275.16H412.04zM428.85 2264.19H446.27V2269.97H428.85zM445.67 2259.01H463.08V2264.79H445.67zM1235.93 2259.01H1253.34V2301.06H1235.93zM462.48 2253.83H479.9V2259.61H462.48zM496.11 2248.65H513.52V2254.43H496.11zM1219.11 2248.65H1236.53V2254.43H1219.11zM512.92 2243.47H530.34V2249.25H512.92zM1202.3 2243.47H1219.71V2249.25H1202.3zM529.74 2238.28H563.97V2244.07H529.74zM563.37 2233.1H580.78V2238.88H563.37zM1185.49 2233.1H1202.9V2238.88H1185.49zM580.18 2227.92H614.41V2233.7H580.18zM1168.67 2227.92H1186.09V2233.7H1168.67zM613.81 2222.74H648.04V2228.52H613.81zM1135.04 2222.74H1169.27V2228.52H1135.04zM647.44 2217.56H698.48V2223.34H647.44zM1118.23 2217.56H1135.64V2223.34H1118.23zM714.69 2212.38H765.74V2218.16H714.69zM1084.6 2212.38H1118.83V2218.16H1084.6zM781.95 2207.19H849.81V2212.98H781.95zM1034.16 2207.19H1085.2V2212.98H1034.16zM866.02 2202.01H1017.95V2207.79H866.02z"/>
<path fill="#22c1af" d="M1202.3 2652.81H1219.71V2679.32H1202.3zM1185.49 2626.9H1202.9V2653.41H1185.49zM1168.67 2595.81H1186.09V2627.5H1168.67zM1151.86 2590.63H1186.09V2596.41H1151.86zM1151.86 2569.91H1169.27V2591.23H1151.86zM1135.04 2559.54H1169.27V2570.51H1135.04zM1135.04 2554.36H1152.46V2560.14H1135.04zM1118.23 2549.18H1152.46V2554.96H1118.23zM1118.23 2544H1135.64V2549.78H1118.23zM1101.42 2533.63H1135.64V2544.6H1101.42zM1101.42 2528.45H1118.83V2534.23H1101.42zM1084.6 2523.27H1118.83V2529.05H1084.6zM1084.6 2512.91H1102.02V2523.87H1084.6zM1067.79 2507.73H1102.02V2513.51H1067.79zM1067.79 2497.36H1085.2V2508.33H1067.79zM1050.97 2487H1085.2V2497.96H1050.97zM1050.97 2481.82H1068.39V2487.6H1050.97zM1034.16 2471.46H1068.39V2482.42H1034.16zM1017.35 2455.91H1051.57V2472.06H1017.35zM1000.53 2445.55H1034.76V2456.51H1000.53zM1017.35 2440.37H1034.76V2446.15H1017.35zM1017.35 2430H1051.57V2440.97H1017.35zM1034.16 2393.73H1051.57V2430.6H1034.16zM1067.79 2373.01H1085.2V2378.79H1067.79zM243.9 2367.82H261.31V2373.61H243.9zM260.71 2352.28H278.13V2363.24H260.71zM1151.86 2347.1H1169.27V2352.88H1151.86zM277.53 2341.92H294.94V2347.7H277.53zM1168.67 2336.73H1186.09V2342.52H1168.67zM294.34 2331.55H311.76V2337.33H294.34zM1185.49 2331.55H1202.9V2337.33H1185.49zM311.16 2321.19H328.57V2326.97H311.16zM1202.3 2321.19H1219.71V2326.97H1202.3zM327.97 2310.83H345.38V2316.61H327.97zM1219.11 2310.83H1236.53V2316.61H1219.11zM344.78 2300.46H362.2V2306.24H344.78zM1235.93 2300.46H1253.34V2306.24H1235.93zM361.6 2290.1H379.01V2295.88H361.6zM378.41 2284.92H395.83V2290.7H378.41zM395.23 2274.56H412.64V2280.34H395.23zM1252.74 2269.37H1270.16V2290.7H1252.74zM428.85 2259.01H446.27V2264.79H428.85zM1235.93 2253.83H1253.34V2259.61H1235.93zM479.3 2248.65H496.71V2254.43H479.3zM496.11 2243.47H513.52V2249.25H496.11zM1219.11 2243.47H1236.53V2249.25H1219.11zM512.92 2238.28H530.34V2244.07H512.92zM1202.3 2238.28H1219.71V2244.07H1202.3zM546.55 2233.1H563.97V2238.88H546.55zM563.37 2227.92H580.78V2233.7H563.37zM1185.49 2227.92H1202.9V2233.7H1185.49zM596.99 2222.74H614.41V2228.52H596.99zM1168.67 2222.74H1186.09V2228.52H1168.67zM630.62 2217.56H648.04V2223.34H630.62zM1135.04 2217.56H1152.46V2223.34H1135.04zM664.25 2212.38H715.29V2218.16H664.25zM1118.23 2212.38H1135.64V2218.16H1118.23zM731.51 2207.19H782.55V2212.98H731.51zM1084.6 2207.19H1102.02V2212.98H1084.6zM798.76 2202.01H866.62V2207.79H798.76zM1017.35 2202.01H1068.39V2207.79H1017.35zM899.65 2196.83H1001.13V2202.61H899.65z"/>
<path fill="#25c2ae" d="M1219.11 2652.81H1236.53V2684.5H1219.11zM1202.3 2626.9H1219.71V2653.41H1202.3zM1185.49 2621.72H1219.71V2627.5H1185.49zM1185.49 2590.63H1202.9V2622.32H1185.49zM1168.67 2585.45H1202.9V2591.23H1168.67zM1168.67 2559.54H1186.09V2586.05H1168.67zM1151.86 2549.18H1169.27V2560.14H1151.86zM1135.04 2544H1169.27V2549.78H1135.04zM1135.04 2533.63H1152.46V2544.6H1135.04zM1118.23 2528.45H1152.46V2534.23H1118.23zM1118.23 2523.27H1135.64V2529.05H1118.23zM1101.42 2518.09H1135.64V2523.87H1101.42zM1101.42 2507.73H1118.83V2518.69H1101.42zM1084.6 2497.36H1118.83V2508.33H1084.6zM1084.6 2487H1102.02V2497.96H1084.6zM1067.79 2481.82H1102.02V2487.6H1067.79zM1067.79 2471.46H1085.2V2482.42H1067.79zM1050.97 2455.91H1085.2V2472.06H1050.97zM1034.16 2440.37H1068.39V2456.51H1034.16zM1050.97 2383.37H1068.39V2440.97H1050.97zM243.9 2357.46H261.31V2368.42H243.9zM260.71 2347.1H278.13V2352.88H260.71zM1168.67 2341.92H1186.09V2347.7H1168.67zM277.53 2336.73H294.94V2342.52H277.53zM1185.49 2336.73H1202.9V2342.52H1185.49zM294.34 2326.37H311.76V2332.15H294.34zM1202.3 2326.37H1219.71V2332.15H1202.3zM311.16 2316.01H328.57V2321.79H311.16zM1219.11 2316.01H1236.53V2326.97H1219.11zM327.97 2305.64H345.38V2311.43H327.97zM1235.93 2305.64H1253.34V2316.61H1235.93zM344.78 2295.28H362.2V2301.06H344.78zM1252.74 2290.1H1270.16V2301.06H1252.74zM361.6 2284.92H379.01V2290.7H361.6zM378.41 2279.74H395.83V2285.52H378.41zM395.23 2269.37H412.64V2275.16H395.23zM412.04 2264.19H429.45V2269.97H412.04zM1252.74 2259.01H1270.16V2269.97H1252.74zM445.67 2253.83H463.08V2259.61H445.67zM462.48 2248.65H479.9V2254.43H462.48zM479.3 2243.47H496.71V2249.25H479.3zM1235.93 2243.47H1253.34V2254.43H1235.93zM496.11 2238.28H513.52V2244.07H496.11zM1219.11 2238.28H1236.53V2244.07H1219.11zM529.74 2233.1H547.15V2238.88H529.74zM1202.3 2233.1H1219.71V2238.88H1202.3zM546.55 2227.92H563.97V2233.7H546.55zM563.37 2222.74H597.59V2228.52H563.37zM596.99 2217.56H631.22V2223.34H596.99zM1151.86 2217.56H1169.27V2223.34H1151.86zM630.62 2212.38H664.85V2218.16H630.62zM1135.04 2212.38H1152.46V2218.16H1135.04zM681.06 2207.19H732.11V2212.98H681.06zM1101.42 2207.19H1135.64V2212.98H1101.42zM748.32 2202.01H799.36V2207.79H748.32zM1067.79 2202.01H1102.02V2207.79H1067.79zM832.39 2196.83H900.25V2202.61H832.39zM1000.53 2196.83H1051.57V2202.61H1000.53zM950.09 2191.65H967.5V2197.43H950.09z"/>
<path fill="#27c2ac" d="M1235.93 2657.99H1253.34V2684.5H1235.93zM1219.11 2621.72H1236.53V2653.41H1219.11zM1202.3 2590.63H1219.71V2622.32H1202.3zM1185.49 2559.54H1202.9V2586.05H1185.49zM1168.67 2554.36H1202.9V2560.14H1168.67zM1168.67 2544H1186.09V2554.96H1168.67zM1151.86 2528.45H1169.27V2544.6H1151.86zM1135.04 2518.09H1152.46V2529.05H1135.04zM1118.23 2512.91H1152.46V2518.69H1118.23zM1118.23 2497.36H1135.64V2513.51H1118.23zM1101.42 2492.18H1135.64V2497.96H1101.42zM1101.42 2481.82H1118.83V2492.78H1101.42zM1084.6 2466.27H1118.83V2482.42H1084.6zM1084.6 2455.91H1102.02V2466.87H1084.6zM1067.79 2435.18H1102.02V2456.51H1067.79zM1067.79 2383.37H1085.2V2435.78H1067.79zM243.9 2352.28H261.31V2358.06H243.9zM1168.67 2347.1H1186.09V2352.88H1168.67zM260.71 2341.92H278.13V2347.7H260.71zM1185.49 2341.92H1202.9V2347.7H1185.49zM277.53 2331.55H294.94V2337.33H277.53zM1202.3 2331.55H1219.71V2337.33H1202.3zM1219.11 2326.37H1236.53V2332.15H1219.11zM294.34 2321.19H311.76V2326.97H294.34zM1235.93 2316.01H1253.34V2321.79H1235.93zM311.16 2310.83H328.57V2316.61H311.16zM327.97 2300.46H345.38V2306.24H327.97zM1252.74 2300.46H1270.16V2311.43H1252.74zM344.78 2290.1H362.2V2295.88H344.78zM361.6 2279.74H379.01V2285.52H361.6zM378.41 2274.56H395.83V2280.34H378.41zM395.23 2264.19H412.64V2269.97H395.23zM1269.56 2264.19H1286.97V2295.88H1269.56zM412.04 2259.01H429.45V2264.79H412.04zM428.85 2253.83H446.27V2259.61H428.85zM445.67 2248.65H463.08V2254.43H445.67zM1252.74 2248.65H1270.16V2259.61H1252.74zM462.48 2243.47H479.9V2249.25H462.48zM479.3 2238.28H496.71V2244.07H479.3zM1235.93 2238.28H1253.34V2244.07H1235.93zM512.92 2233.1H530.34V2238.88H512.92zM1219.11 2233.1H1236.53V2238.88H1219.11zM529.74 2227.92H547.15V2233.7H529.74zM1202.3 2227.92H1219.71V2233.7H1202.3zM546.55 2222.74H563.97V2228.52H546.55zM1185.49 2222.74H1202.9V2228.52H1185.49zM580.18 2217.56H597.59V2223.34H580.18zM1168.67 2217.56H1186.09V2223.34H1168.67zM613.81 2212.38H631.22V2218.16H613.81zM1151.86 2212.38H1169.27V2218.16H1151.86zM647.44 2207.19H681.66V2212.98H647.44zM1135.04 2207.19H1152.46V2212.98H1135.04zM697.88 2202.01H748.92V2207.79H697.88zM1101.42 2202.01H1118.83V2207.79H1101.42zM765.14 2196.83H832.99V2202.61H765.14zM1050.97 2196.83H1085.2V2202.61H1050.97zM849.21 2191.65H950.69V2197.43H849.21zM966.9 2191.65H1051.57V2197.43H966.9z"/>
<path fill="#29c3aa" d="M1252.74 2673.54H1270.16V2684.5H1252.74zM1235.93 2626.9H1253.34V2658.59H1235.93zM1219.11 2590.63H1236.53V2622.32H1219.11zM1202.3 2559.54H1219.71V2591.23H1202.3zM1185.49 2544H1202.9V2554.96H1185.49zM1168.67 2538.82H1202.9V2544.6H1168.67zM1168.67 2528.45H1186.09V2539.42H1168.67zM1151.86 2523.27H1186.09V2529.05H1151.86zM1151.86 2512.91H1169.27V2523.87H1151.86zM1135.04 2507.73H1169.27V2513.51H1135.04zM1135.04 2492.18H1152.46V2508.33H1135.04zM1118.23 2487H1152.46V2492.78H1118.23zM1118.23 2466.27H1135.64V2487.6H1118.23zM1101.42 2450.73H1135.64V2466.87H1101.42zM1101.42 2435.18H1118.83V2451.33H1101.42zM1084.6 2430H1118.83V2435.78H1084.6zM1084.6 2393.73H1102.02V2430.6H1084.6zM1067.79 2378.19H1085.2V2383.97H1067.79zM243.9 2347.1H261.31V2352.88H243.9zM260.71 2336.73H278.13V2342.52H260.71zM1202.3 2336.73H1219.71V2342.52H1202.3zM1219.11 2331.55H1236.53V2337.33H1219.11zM277.53 2326.37H294.94V2332.15H277.53zM1235.93 2321.19H1253.34V2326.97H1235.93zM294.34 2316.01H311.76V2321.79H294.34zM1252.74 2310.83H1270.16V2321.79H1252.74zM311.16 2305.64H328.57V2311.43H311.16zM327.97 2295.28H345.38V2301.06H327.97zM1269.56 2295.28H1286.97V2306.24H1269.56zM344.78 2284.92H362.2V2290.7H344.78zM361.6 2274.56H379.01V2280.34H361.6zM378.41 2269.37H395.83V2275.16H378.41zM395.23 2259.01H412.64V2264.79H395.23zM412.04 2253.83H429.45V2259.61H412.04zM1269.56 2253.83H1286.97V2264.79H1269.56zM428.85 2248.65H446.27V2254.43H428.85zM445.67 2243.47H463.08V2249.25H445.67zM1252.74 2243.47H1270.16V2249.25H1252.74zM462.48 2238.28H479.9V2244.07H462.48zM496.11 2233.1H513.52V2238.88H496.11zM1235.93 2233.1H1253.34V2238.88H1235.93zM512.92 2227.92H530.34V2233.7H512.92zM1219.11 2227.92H1236.53V2233.7H1219.11zM529.74 2222.74H547.15V2228.52H529.74zM1202.3 2222.74H1219.71V2228.52H1202.3zM563.37 2217.56H580.78V2223.34H563.37zM1185.49 2217.56H1202.9V2223.34H1185.49zM580.18 2212.38H614.41V2218.16H580.18zM1168.67 2212.38H1186.09V2218.16H1168.67zM613.81 2207.19H648.04V2212.98H613.81zM1151.86 2207.19H1169.27V2212.98H1151.86zM664.25 2202.01H698.48V2207.79H664.25zM1118.23 2202.01H1152.46V2207.79H1118.23zM714.69 2196.83H765.74V2202.61H714.69zM1084.6 2196.83H1118.83V2202.61H1084.6zM781.95 2191.65H849.81V2197.43H781.95zM1050.97 2191.65H1085.2V2197.43H1050.97zM866.02 2186.47H1034.76V2192.25H866.02z"/>
<path fill="#2bc3a8" d="M1252.74 2626.9H1270.16V2674.14H1252.74zM1235.93 2595.81H1253.34V2627.5H1235.93zM1219.11 2559.54H1236.53V2591.23H1219.11zM1202.3 2538.82H1219.71V2560.14H1202.3zM1185.49 2523.27H1202.9V2539.42H1185.49zM1168.67 2507.73H1186.09V2523.87H1168.67zM1151.86 2502.54H1186.09V2508.33H1151.86zM1151.86 2487H1169.27V2503.14H1151.86zM1135.04 2481.82H1169.27V2487.6H1135.04zM1135.04 2450.73H1152.46V2482.42H1135.04zM1118.23 2430H1135.64V2451.33H1118.23zM1101.42 2404.09H1118.83V2430.6H1101.42zM1084.6 2373.01H1102.02V2394.33H1084.6zM243.9 2341.92H261.31V2347.7H243.9zM1219.11 2336.73H1236.53V2342.52H1219.11zM260.71 2331.55H278.13V2337.33H260.71zM1235.93 2326.37H1253.34V2337.33H1235.93zM277.53 2321.19H294.94V2326.97H277.53zM1252.74 2321.19H1270.16V2326.97H1252.74zM294.34 2310.83H311.76V2316.61H294.34zM1269.56 2305.64H1286.97V2316.61H1269.56zM311.16 2300.46H328.57V2306.24H311.16zM327.97 2290.1H345.38V2295.88H327.97zM344.78 2279.74H362.2V2285.52H344.78zM361.6 2269.37H379.01V2275.16H361.6zM378.41 2264.19H395.83V2269.97H378.41zM1286.37 2259.01H1303.78V2301.06H1286.37zM395.23 2253.83H412.64V2259.61H395.23zM412.04 2248.65H429.45V2254.43H412.04zM428.85 2243.47H446.27V2249.25H428.85zM1269.56 2243.47H1286.97V2254.43H1269.56zM445.67 2238.28H463.08V2244.07H445.67zM1252.74 2238.28H1270.16V2244.07H1252.74zM479.3 2233.1H496.71V2238.88H479.3zM496.11 2227.92H513.52V2233.7H496.11zM1235.93 2227.92H1253.34V2233.7H1235.93zM512.92 2222.74H530.34V2228.52H512.92zM1219.11 2222.74H1236.53V2228.52H1219.11zM529.74 2217.56H563.97V2223.34H529.74zM1202.3 2217.56H1219.71V2223.34H1202.3zM563.37 2212.38H580.78V2218.16H563.37zM1185.49 2212.38H1202.9V2218.16H1185.49zM596.99 2207.19H614.41V2212.98H596.99zM1168.67 2207.19H1186.09V2212.98H1168.67zM630.62 2202.01H664.85V2207.79H630.62zM1151.86 2202.01H1169.27V2207.79H1151.86zM681.06 2196.83H715.29V2202.61H681.06zM1118.23 2196.83H1135.64V2202.61H1118.23zM731.51 2191.65H782.55V2197.43H731.51zM1084.6 2191.65H1118.83V2197.43H1084.6zM798.76 2186.47H866.62V2192.25H798.76zM1034.16 2186.47H1068.39V2192.25H1034.16zM882.83 2181.29H1017.95V2187.07H882.83z"/>
<path fill="#2cc4a6" d="M1269.56 2632.08H1286.97V2684.5H1269.56zM1252.74 2600.99H1270.16V2627.5H1252.74zM1235.93 2569.91H1253.34V2596.41H1235.93zM1219.11 2544H1236.53V2560.14H1219.11zM1202.3 2523.27H1219.71V2539.42H1202.3zM1185.49 2502.54H1202.9V2523.87H1185.49zM1168.67 2481.82H1186.09V2503.14H1168.67zM1151.86 2476.64H1186.09V2482.42H1151.86zM1151.86 2450.73H1169.27V2477.24H1151.86zM1135.04 2445.55H1169.27V2451.33H1135.04zM1135.04 2430H1152.46V2446.15H1135.04zM1118.23 2409.28H1135.64V2430.6H1118.23zM1101.42 2383.37H1118.83V2404.69H1101.42zM243.9 2336.73H261.31V2342.52H243.9zM260.71 2326.37H278.13V2332.15H260.71zM1252.74 2326.37H1270.16V2332.15H1252.74zM277.53 2316.01H294.94V2321.79H277.53zM1269.56 2316.01H1286.97V2326.97H1269.56zM294.34 2305.64H311.76V2311.43H294.34zM1286.37 2300.46H1303.78V2311.43H1286.37zM311.16 2295.28H328.57V2301.06H311.16zM327.97 2284.92H345.38V2290.7H327.97zM344.78 2274.56H362.2V2280.34H344.78zM361.6 2264.19H379.01V2269.97H361.6zM378.41 2259.01H395.83V2264.79H378.41zM1286.37 2248.65H1303.78V2259.61H1286.37zM1269.56 2238.28H1286.97V2244.07H1269.56zM462.48 2233.1H479.9V2238.88H462.48zM1252.74 2233.1H1270.16V2238.88H1252.74zM479.3 2227.92H496.71V2233.7H479.3zM496.11 2222.74H513.52V2228.52H496.11zM1235.93 2222.74H1253.34V2228.52H1235.93zM512.92 2217.56H530.34V2223.34H512.92zM1219.11 2217.56H1236.53V2223.34H1219.11zM546.55 2212.38H563.97V2218.16H546.55zM1202.3 2212.38H1219.71V2218.16H1202.3zM563.37 2207.19H597.59V2212.98H563.37zM1185.49 2207.19H1202.9V2212.98H1185.49zM596.99 2202.01H631.22V2207.79H596.99zM1168.67 2202.01H1186.09V2207.79H1168.67zM630.62 2196.83H681.66V2202.61H630.62zM1135.04 2196.83H1169.27V2202.61H1135.04zM697.88 2191.65H732.11V2197.43H697.88zM1118.23 2191.65H1135.64V2197.43H1118.23zM748.32 2186.47H799.36V2192.25H748.32zM1067.79 2186.47H1102.02V2192.25H1067.79zM815.58 2181.29H883.43V2187.07H815.58zM1017.35 2181.29H1068.39V2187.07H1017.35zM916.46 2176.11H1001.13V2181.89H916.46z"/>
<path fill="#2ec4a4" d="M1286.37 2637.27H1303.78V2684.5H1286.37zM1269.56 2600.99H1286.97V2632.68H1269.56zM1252.74 2580.27H1270.16V2601.59H1252.74zM1235.93 2544H1253.34V2570.51H1235.93zM1219.11 2523.27H1236.53V2544.6H1219.11zM1202.3 2502.54H1219.71V2523.87H1202.3zM1185.49 2476.64H1202.9V2503.14H1185.49zM1168.67 2450.73H1186.09V2477.24H1168.67zM1151.86 2430H1169.27V2446.15H1151.86zM1135.04 2409.28H1152.46V2430.6H1135.04zM1118.23 2393.73H1135.64V2409.88H1118.23zM1101.42 2373.01H1118.83V2383.97H1101.42zM243.9 2331.55H261.31V2337.33H243.9zM1252.74 2331.55H1270.16V2337.33H1252.74zM1269.56 2326.37H1286.97V2332.15H1269.56zM260.71 2321.19H278.13V2326.97H260.71zM1286.37 2310.83H1303.78V2321.79H1286.37zM277.53 2305.64H294.94V2316.61H277.53zM294.34 2295.28H311.76V2306.24H294.34zM311.16 2290.1H328.57V2295.88H311.16zM327.97 2279.74H345.38V2285.52H327.97zM344.78 2269.37H362.2V2275.16H344.78zM361.6 2259.01H379.01V2264.79H361.6zM1303.18 2259.01H1320.6V2306.24H1303.18zM378.41 2253.83H395.83V2259.61H378.41zM395.23 2248.65H412.64V2254.43H395.23zM412.04 2243.47H429.45V2249.25H412.04zM1286.37 2243.47H1303.78V2249.25H1286.37zM428.85 2238.28H446.27V2244.07H428.85zM445.67 2233.1H463.08V2238.88H445.67zM1269.56 2233.1H1286.97V2238.88H1269.56zM462.48 2227.92H479.9V2233.7H462.48zM479.3 2222.74H496.71V2228.52H479.3zM1252.74 2222.74H1270.16V2233.7H1252.74zM496.11 2217.56H513.52V2223.34H496.11zM1235.93 2217.56H1253.34V2223.34H1235.93zM529.74 2212.38H547.15V2218.16H529.74zM1219.11 2212.38H1236.53V2218.16H1219.11zM546.55 2207.19H563.97V2212.98H546.55zM1202.3 2207.19H1219.71V2212.98H1202.3zM580.18 2202.01H597.59V2207.79H580.18zM1185.49 2202.01H1202.9V2207.79H1185.49zM613.81 2196.83H631.22V2202.61H613.81zM1168.67 2196.83H1186.09V2202.61H1168.67zM647.44 2191.65H698.48V2197.43H647.44zM1135.04 2191.65H1152.46V2197.43H1135.04zM714.69 2186.47H748.92V2192.25H714.69zM1101.42 2186.47H1135.64V2192.25H1101.42zM765.14 2181.29H816.18V2187.07H765.14zM1067.79 2181.29H1102.02V2187.07H1067.79zM832.39 2176.11H917.06V2181.89H832.39zM1000.53 2176.11H1068.39V2181.89H1000.53zM950.09 2170.92H984.32V2176.71H950.09z"/>
<path fill="#2fc5a3" d="M1286.37 2606.18H1303.78V2637.87H1286.37zM1269.56 2580.27H1286.97V2601.59H1269.56zM1252.74 2554.36H1270.16V2580.87H1252.74zM1235.93 2523.27H1253.34V2544.6H1235.93zM1219.11 2502.54H1236.53V2523.87H1219.11zM1202.3 2497.36H1236.53V2503.14H1202.3zM1202.3 2476.64H1219.71V2497.96H1202.3zM1185.49 2450.73H1202.9V2477.24H1185.49zM1168.67 2430H1186.09V2451.33H1168.67zM1151.86 2414.46H1169.27V2430.6H1151.86zM1135.04 2398.91H1152.46V2409.88H1135.04zM1118.23 2378.19H1135.64V2394.33H1118.23zM1101.42 2367.82H1118.83V2373.61H1101.42zM243.9 2321.19H261.31V2332.15H243.9zM1286.37 2321.19H1303.78V2332.15H1286.37zM260.71 2310.83H278.13V2321.79H260.71zM1303.18 2305.64H1320.6V2316.61H1303.18zM277.53 2300.46H294.94V2306.24H277.53zM294.34 2290.1H311.76V2295.88H294.34zM311.16 2279.74H328.57V2290.7H311.16zM327.97 2274.56H345.38V2280.34H327.97zM1320 2269.37H1337.41V2290.7H1320zM344.78 2264.19H362.2V2269.97H344.78zM378.41 2248.65H395.83V2254.43H378.41zM1303.18 2248.65H1320.6V2259.61H1303.18zM395.23 2243.47H412.64V2249.25H395.23zM412.04 2238.28H429.45V2244.07H412.04zM1286.37 2238.28H1303.78V2244.07H1286.37zM428.85 2233.1H446.27V2238.88H428.85zM445.67 2227.92H463.08V2233.7H445.67zM1269.56 2227.92H1286.97V2233.7H1269.56zM462.48 2222.74H479.9V2228.52H462.48zM479.3 2217.56H496.71V2223.34H479.3zM1252.74 2217.56H1270.16V2223.34H1252.74zM512.92 2212.38H530.34V2218.16H512.92zM1235.93 2212.38H1253.34V2218.16H1235.93zM529.74 2207.19H547.15V2212.98H529.74zM1219.11 2207.19H1236.53V2212.98H1219.11zM546.55 2202.01H580.78V2207.79H546.55zM1202.3 2202.01H1219.71V2207.79H1202.3zM580.18 2196.83H614.41V2202.61H580.18zM1185.49 2196.83H1202.9V2202.61H1185.49zM613.81 2191.65H648.04V2197.43H613.81zM1151.86 2191.65H1186.09V2197.43H1151.86zM664.25 2186.47H715.29V2192.25H664.25zM1135.04 2186.47H1152.46V2192.25H1135.04zM731.51 2181.29H765.74V2187.07H731.51zM1101.42 2181.29H1118.83V2187.07H1101.42zM781.95 2176.11H832.99V2181.89H781.95zM1067.79 2176.11H1102.02V2181.89H1067.79zM849.21 2170.92H950.69V2176.71H849.21zM983.72 2170.92H1051.57V2176.71H983.72z"/>
<path fill="#30c5a1" d="M1303.18 2611.36H1320.6V2684.5H1303.18zM1286.37 2585.45H1303.78V2606.78H1286.37zM1269.56 2564.72H1286.97V2580.87H1269.56zM1252.74 2523.27H1270.16V2554.96H1252.74zM1235.93 2497.36H1253.34V2523.87H1235.93zM1219.11 2476.64H1236.53V2497.96H1219.11zM1202.3 2450.73H1219.71V2477.24H1202.3zM1185.49 2430H1202.9V2451.33H1185.49zM1168.67 2414.46H1186.09V2430.6H1168.67zM1151.86 2398.91H1169.27V2415.06H1151.86zM1135.04 2383.37H1152.46V2399.51H1135.04zM1118.23 2367.82H1135.64V2378.79H1118.23zM243.9 2316.01H261.31V2321.79H243.9zM1303.18 2316.01H1320.6V2326.97H1303.18zM260.71 2305.64H278.13V2311.43H260.71zM277.53 2295.28H294.94V2301.06H277.53zM1320 2290.1H1337.41V2311.43H1320zM294.34 2284.92H311.76V2290.7H294.34zM311.16 2274.56H328.57V2280.34H311.16zM327.97 2269.37H345.38V2275.16H327.97zM344.78 2259.01H362.2V2264.79H344.78zM361.6 2253.83H379.01V2259.61H361.6zM1320 2253.83H1337.41V2269.97H1320zM395.23 2238.28H412.64V2244.07H395.23zM1303.18 2238.28H1320.6V2249.25H1303.18zM412.04 2233.1H429.45V2238.88H412.04zM428.85 2227.92H446.27V2233.7H428.85zM1286.37 2227.92H1303.78V2238.88H1286.37zM445.67 2222.74H463.08V2228.52H445.67zM1269.56 2222.74H1286.97V2228.52H1269.56zM496.11 2212.38H513.52V2218.16H496.11zM1252.74 2212.38H1270.16V2218.16H1252.74zM512.92 2207.19H530.34V2212.98H512.92zM1235.93 2207.19H1253.34V2212.98H1235.93zM529.74 2202.01H547.15V2207.79H529.74zM1219.11 2202.01H1236.53V2207.79H1219.11zM563.37 2196.83H580.78V2202.61H563.37zM1202.3 2196.83H1219.71V2202.61H1202.3zM596.99 2191.65H614.41V2197.43H596.99zM1185.49 2191.65H1202.9V2197.43H1185.49zM630.62 2186.47H664.85V2192.25H630.62zM1151.86 2186.47H1169.27V2192.25H1151.86zM681.06 2181.29H732.11V2187.07H681.06zM1118.23 2181.29H1152.46V2187.07H1118.23zM748.32 2176.11H782.55V2181.89H748.32zM1101.42 2176.11H1118.83V2181.89H1101.42zM798.76 2170.92H849.81V2176.71H798.76zM1050.97 2170.92H1085.2V2176.71H1050.97zM866.02 2165.74H1051.57V2171.52H866.02z"/>
<path fill="#32c69f" d="M1320 2611.36H1337.41V2684.5H1320zM1303.18 2585.45H1320.6V2611.96H1303.18zM1286.37 2569.91H1303.78V2586.05H1286.37zM1269.56 2523.27H1286.97V2565.32H1269.56zM1252.74 2497.36H1270.16V2523.87H1252.74zM1235.93 2476.64H1253.34V2497.96H1235.93zM1219.11 2455.91H1236.53V2477.24H1219.11zM1202.3 2435.18H1219.71V2451.33H1202.3zM1185.49 2419.64H1202.9V2430.6H1185.49zM1168.67 2404.09H1186.09V2415.06H1168.67zM1151.86 2388.55H1169.27V2399.51H1151.86zM1135.04 2373.01H1152.46V2383.97H1135.04zM1118.23 2362.64H1135.64V2368.42H1118.23zM243.9 2310.83H261.31V2316.61H243.9zM1320 2310.83H1337.41V2321.79H1320zM260.71 2300.46H278.13V2306.24H260.71zM277.53 2290.1H294.94V2295.88H277.53zM294.34 2279.74H311.76V2285.52H294.34zM327.97 2264.19H345.38V2269.97H327.97zM1336.81 2264.19H1354.23V2295.88H1336.81zM344.78 2253.83H362.2V2259.61H344.78zM361.6 2248.65H379.01V2254.43H361.6zM378.41 2243.47H395.83V2249.25H378.41zM1320 2243.47H1337.41V2254.43H1320zM1303.18 2233.1H1320.6V2238.88H1303.18zM1286.37 2222.74H1303.78V2228.52H1286.37zM462.48 2217.56H479.9V2223.34H462.48zM1269.56 2217.56H1286.97V2223.34H1269.56zM479.3 2212.38H496.71V2218.16H479.3zM496.11 2207.19H513.52V2212.98H496.11zM1252.74 2207.19H1270.16V2212.98H1252.74zM512.92 2202.01H530.34V2207.79H512.92zM1235.93 2202.01H1253.34V2207.79H1235.93zM546.55 2196.83H563.97V2202.61H546.55zM1219.11 2196.83H1236.53V2202.61H1219.11zM563.37 2191.65H597.59V2197.43H563.37zM1202.3 2191.65H1219.71V2197.43H1202.3zM596.99 2186.47H631.22V2192.25H596.99zM1168.67 2186.47H1202.9V2192.25H1168.67zM647.44 2181.29H681.66V2187.07H647.44zM1151.86 2181.29H1169.27V2187.07H1151.86zM697.88 2176.11H748.92V2181.89H697.88zM1118.23 2176.11H1152.46V2181.89H1118.23zM748.32 2170.92H799.36V2176.71H748.32zM1084.6 2170.92H1118.83V2176.71H1084.6zM815.58 2165.74H866.62V2171.52H815.58zM1050.97 2165.74H1085.2V2171.52H1050.97zM882.83 2160.56H1034.76V2166.34H882.83z"/>
<path fill="#33c79d" d="M1336.81 2621.72H1354.23V2684.5H1336.81zM1320 2585.45H1337.41V2611.96H1320zM1303.18 2569.91H1320.6V2586.05H1303.18zM1286.37 2523.27H1303.78V2570.51H1286.37zM1269.56 2497.36H1286.97V2523.87H1269.56zM1252.74 2476.64H1270.16V2497.96H1252.74zM1235.93 2461.09H1253.34V2477.24H1235.93zM1219.11 2435.18H1236.53V2456.51H1219.11zM1202.3 2419.64H1219.71V2435.78H1202.3zM1185.49 2404.09H1202.9V2420.24H1185.49zM1168.67 2393.73H1186.09V2404.69H1168.67zM1151.86 2378.19H1169.27V2389.15H1151.86zM1135.04 2362.64H1152.46V2373.61H1135.04zM1320 2321.19H1337.41V2326.97H1320zM243.9 2305.64H261.31V2311.43H243.9zM260.71 2295.28H278.13V2301.06H260.71zM1336.81 2295.28H1354.23V2316.61H1336.81zM277.53 2284.92H294.94V2290.7H277.53zM294.34 2274.56H311.76V2280.34H294.34zM311.16 2269.37H328.57V2275.16H311.16zM327.97 2259.01H345.38V2264.79H327.97zM344.78 2248.65H362.2V2254.43H344.78zM1336.81 2248.65H1354.23V2264.79H1336.81zM361.6 2243.47H379.01V2249.25H361.6zM378.41 2238.28H395.83V2244.07H378.41zM395.23 2233.1H412.64V2238.88H395.23zM1320 2233.1H1337.41V2244.07H1320zM412.04 2227.92H429.45V2233.7H412.04zM1303.18 2227.92H1320.6V2233.7H1303.18zM428.85 2222.74H446.27V2228.52H428.85zM445.67 2217.56H463.08V2223.34H445.67zM1286.37 2217.56H1303.78V2223.34H1286.37zM462.48 2212.38H479.9V2218.16H462.48zM1269.56 2212.38H1286.97V2218.16H1269.56zM479.3 2207.19H496.71V2212.98H479.3zM496.11 2202.01H513.52V2207.79H496.11zM1252.74 2202.01H1270.16V2207.79H1252.74zM512.92 2196.83H547.15V2202.61H512.92zM1235.93 2196.83H1253.34V2202.61H1235.93zM546.55 2191.65H563.97V2197.43H546.55zM1219.11 2191.65H1236.53V2197.43H1219.11zM580.18 2186.47H597.59V2192.25H580.18zM1202.3 2186.47H1219.71V2192.25H1202.3zM613.81 2181.29H648.04V2187.07H613.81zM1168.67 2181.29H1186.09V2187.07H1168.67zM664.25 2176.11H698.48V2181.89H664.25zM1151.86 2176.11H1169.27V2181.89H1151.86zM714.69 2170.92H748.92V2176.71H714.69zM1118.23 2170.92H1152.46V2176.71H1118.23zM765.14 2165.74H816.18V2171.52H765.14zM1084.6 2165.74H1118.83V2171.52H1084.6zM832.39 2160.56H883.43V2166.34H832.39zM1034.16 2160.56H1085.2V2166.34H1034.16zM899.65 2155.38H1034.76V2161.16H899.65z"/>
<path fill="#35c79b" d="M1353.63 2632.08H1371.04V2684.5H1353.63zM1336.81 2585.45H1354.23V2622.32H1336.81zM1320 2569.91H1337.41V2586.05H1320zM1303.18 2528.45H1320.6V2570.51H1303.18zM1286.37 2497.36H1303.78V2523.87H1286.37zM1269.56 2476.64H1286.97V2497.96H1269.56zM1252.74 2461.09H1270.16V2477.24H1252.74zM1235.93 2440.37H1253.34V2461.69H1235.93zM1219.11 2419.64H1236.53V2435.78H1219.11zM1202.3 2409.28H1219.71V2420.24H1202.3zM1185.49 2393.73H1202.9V2404.69H1185.49zM1168.67 2383.37H1186.09V2394.33H1168.67zM1151.86 2367.82H1169.27V2378.79H1151.86zM1135.04 2357.46H1152.46V2363.24H1135.04zM1336.81 2316.01H1354.23V2326.97H1336.81zM243.9 2300.46H261.31V2306.24H243.9zM260.71 2290.1H278.13V2295.88H260.71zM277.53 2279.74H294.94V2285.52H277.53zM294.34 2269.37H311.76V2275.16H294.34zM311.16 2264.19H328.57V2269.97H311.16zM1353.63 2259.01H1371.04V2301.06H1353.63zM327.97 2253.83H345.38V2259.61H327.97zM361.6 2238.28H379.01V2244.07H361.6zM1336.81 2238.28H1354.23V2249.25H1336.81zM378.41 2233.1H395.83V2238.88H378.41zM395.23 2227.92H412.64V2233.7H395.23zM1320 2227.92H1337.41V2233.7H1320zM412.04 2222.74H429.45V2228.52H412.04zM428.85 2217.56H446.27V2223.34H428.85zM1303.18 2217.56H1320.6V2228.52H1303.18zM445.67 2212.38H463.08V2218.16H445.67zM1286.37 2212.38H1303.78V2218.16H1286.37zM462.48 2207.19H479.9V2212.98H462.48zM479.3 2202.01H496.71V2207.79H479.3zM1269.56 2202.01H1286.97V2212.98H1269.56zM496.11 2196.83H513.52V2202.61H496.11zM1252.74 2196.83H1270.16V2202.61H1252.74zM529.74 2191.65H547.15V2197.43H529.74zM1235.93 2191.65H1253.34V2197.43H1235.93zM546.55 2186.47H580.78V2192.25H546.55zM1219.11 2186.47H1236.53V2192.25H1219.11zM580.18 2181.29H614.41V2187.07H580.18zM1185.49 2181.29H1219.71V2187.07H1185.49zM630.62 2176.11H664.85V2181.89H630.62zM1168.67 2176.11H1186.09V2181.89H1168.67zM681.06 2170.92H715.29V2176.71H681.06zM1151.86 2170.92H1169.27V2176.71H1151.86zM731.51 2165.74H765.74V2171.52H731.51zM1118.23 2165.74H1135.64V2171.52H1118.23zM781.95 2160.56H832.99V2166.34H781.95zM1084.6 2160.56H1118.83V2166.34H1084.6zM832.39 2155.38H900.25V2161.16H832.39zM1034.16 2155.38H1085.2V2161.16H1034.16zM899.65 2150.2H1034.76V2155.98H899.65z"/>
<path fill="#36c899" d="M1353.63 2590.63H1371.04V2632.68H1353.63zM1336.81 2569.91H1354.23V2586.05H1336.81zM1320 2564.72H1354.23V2570.51H1320zM1320 2528.45H1337.41V2565.32H1320zM1303.18 2497.36H1320.6V2529.05H1303.18zM1286.37 2476.64H1303.78V2497.96H1286.37zM1269.56 2461.09H1286.97V2477.24H1269.56zM1252.74 2445.55H1270.16V2461.69H1252.74zM1235.93 2424.82H1253.34V2440.97H1235.93zM1219.11 2409.28H1236.53V2420.24H1219.11zM1202.3 2398.91H1219.71V2409.88H1202.3zM1185.49 2383.37H1202.9V2394.33H1185.49zM1168.67 2373.01H1186.09V2383.97H1168.67zM1151.86 2352.28H1169.27V2368.42H1151.86zM1353.63 2300.46H1371.04V2316.61H1353.63zM243.9 2295.28H261.31V2301.06H243.9zM260.71 2284.92H278.13V2290.7H260.71zM277.53 2274.56H294.94V2280.34H277.53zM294.34 2264.19H311.76V2269.97H294.34zM311.16 2259.01H328.57V2264.79H311.16zM327.97 2248.65H345.38V2254.43H327.97zM344.78 2243.47H362.2V2249.25H344.78zM1353.63 2243.47H1371.04V2259.61H1353.63zM1336.81 2233.1H1354.23V2238.88H1336.81zM378.41 2227.92H395.83V2233.7H378.41zM395.23 2222.74H412.64V2228.52H395.23zM1320 2222.74H1337.41V2228.52H1320zM412.04 2217.56H429.45V2223.34H412.04zM428.85 2212.38H446.27V2218.16H428.85zM1303.18 2212.38H1320.6V2218.16H1303.18zM445.67 2207.19H463.08V2212.98H445.67zM1286.37 2207.19H1303.78V2212.98H1286.37zM462.48 2202.01H479.9V2207.79H462.48zM479.3 2196.83H496.71V2202.61H479.3zM1269.56 2196.83H1286.97V2202.61H1269.56zM512.92 2191.65H530.34V2197.43H512.92zM1252.74 2191.65H1270.16V2197.43H1252.74zM529.74 2186.47H547.15V2192.25H529.74zM1235.93 2186.47H1253.34V2192.25H1235.93zM563.37 2181.29H580.78V2187.07H563.37zM1219.11 2181.29H1236.53V2187.07H1219.11zM596.99 2176.11H631.22V2181.89H596.99zM1185.49 2176.11H1219.71V2181.89H1185.49zM647.44 2170.92H681.66V2176.71H647.44zM1168.67 2170.92H1186.09V2176.71H1168.67zM681.06 2165.74H732.11V2171.52H681.06zM1135.04 2165.74H1169.27V2171.52H1135.04zM731.51 2160.56H782.55V2166.34H731.51zM1118.23 2160.56H1135.64V2166.34H1118.23zM781.95 2155.38H832.99V2161.16H781.95zM1084.6 2155.38H1118.83V2161.16H1084.6zM849.21 2150.2H900.25V2155.98H849.21zM1034.16 2150.2H1085.2V2155.98H1034.16zM916.46 2145.02H1034.76V2150.8H916.46z"/>
<path fill="#38c896" d="M1370.44 2590.63H1387.85V2684.5H1370.44zM1353.63 2564.72H1371.04V2591.23H1353.63zM1336.81 2559.54H1371.04V2565.32H1336.81zM1336.81 2528.45H1354.23V2560.14H1336.81zM1320 2502.54H1337.41V2529.05H1320zM1303.18 2476.64H1320.6V2497.96H1303.18zM1286.37 2461.09H1303.78V2477.24H1286.37zM1269.56 2445.55H1286.97V2461.69H1269.56zM1252.74 2424.82H1270.16V2446.15H1252.74zM1235.93 2409.28H1253.34V2425.42H1235.93zM1219.11 2398.91H1236.53V2409.88H1219.11zM1202.3 2388.55H1219.71V2399.51H1202.3zM1185.49 2378.19H1202.9V2383.97H1185.49zM1168.67 2362.64H1186.09V2373.61H1168.67zM243.9 2290.1H261.31V2295.88H243.9zM260.71 2279.74H278.13V2285.52H260.71zM277.53 2269.37H294.94V2275.16H277.53zM294.34 2259.01H311.76V2264.79H294.34zM311.16 2253.83H328.57V2259.61H311.16zM1370.44 2248.65H1387.85V2311.43H1370.44zM327.97 2243.47H345.38V2249.25H327.97zM344.78 2238.28H362.2V2244.07H344.78zM361.6 2233.1H379.01V2238.88H361.6zM1353.63 2233.1H1371.04V2244.07H1353.63zM1336.81 2222.74H1354.23V2233.7H1336.81zM395.23 2217.56H412.64V2223.34H395.23zM412.04 2212.38H429.45V2218.16H412.04zM1320 2212.38H1337.41V2223.34H1320zM428.85 2207.19H446.27V2212.98H428.85zM1303.18 2207.19H1320.6V2212.98H1303.18zM445.67 2202.01H463.08V2207.79H445.67zM1286.37 2202.01H1303.78V2207.79H1286.37zM462.48 2196.83H479.9V2202.61H462.48zM496.11 2191.65H513.52V2197.43H496.11zM1269.56 2191.65H1286.97V2197.43H1269.56zM512.92 2186.47H530.34V2192.25H512.92zM1252.74 2186.47H1270.16V2192.25H1252.74zM529.74 2181.29H563.97V2187.07H529.74zM1235.93 2181.29H1253.34V2187.07H1235.93zM563.37 2176.11H597.59V2181.89H563.37zM1219.11 2176.11H1236.53V2181.89H1219.11zM613.81 2170.92H648.04V2176.71H613.81zM1185.49 2170.92H1219.71V2176.71H1185.49zM647.44 2165.74H681.66V2171.52H647.44zM1168.67 2165.74H1186.09V2171.52H1168.67zM697.88 2160.56H732.11V2166.34H697.88zM1135.04 2160.56H1169.27V2166.34H1135.04zM748.32 2155.38H782.55V2161.16H748.32zM1118.23 2155.38H1135.64V2161.16H1118.23zM798.76 2150.2H849.81V2155.98H798.76zM1084.6 2150.2H1118.83V2155.98H1084.6zM849.21 2145.02H917.06V2150.8H849.21zM1034.16 2145.02H1085.2V2150.8H1034.16zM916.46 2139.83H1017.95V2145.62H916.46z"/>
<path fill="#3ac994" d="M1387.25 2595.81H1404.67V2684.5H1387.25zM1370.44 2559.54H1387.85V2591.23H1370.44zM1353.63 2554.36H1387.85V2560.14H1353.63zM1353.63 2528.45H1371.04V2554.96H1353.63zM1336.81 2502.54H1354.23V2529.05H1336.81zM1320 2476.64H1337.41V2503.14H1320zM1303.18 2461.09H1320.6V2477.24H1303.18zM1286.37 2445.55H1303.78V2461.69H1286.37zM1269.56 2424.82H1286.97V2446.15H1269.56zM1252.74 2409.28H1270.16V2425.42H1252.74zM1235.93 2398.91H1253.34V2409.88H1235.93zM1219.11 2388.55H1236.53V2399.51H1219.11zM1202.3 2378.19H1219.71V2389.15H1202.3zM1185.49 2367.82H1202.9V2378.79H1185.49zM1168.67 2352.28H1186.09V2363.24H1168.67zM1370.44 2310.83H1387.85V2316.61H1370.44zM243.9 2284.92H261.31V2290.7H243.9zM260.71 2274.56H278.13V2280.34H260.71zM277.53 2264.19H294.94V2269.97H277.53zM1387.25 2259.01H1404.67V2295.88H1387.25zM294.34 2253.83H311.76V2259.61H294.34zM311.16 2248.65H328.57V2254.43H311.16zM327.97 2238.28H345.38V2244.07H327.97zM1370.44 2238.28H1387.85V2249.25H1370.44zM344.78 2233.1H362.2V2238.88H344.78zM361.6 2227.92H379.01V2233.7H361.6zM1353.63 2227.92H1371.04V2233.7H1353.63zM378.41 2222.74H395.83V2228.52H378.41zM1336.81 2217.56H1354.23V2223.34H1336.81zM1320 2207.19H1337.41V2212.98H1320zM428.85 2202.01H446.27V2207.79H428.85zM1303.18 2202.01H1320.6V2207.79H1303.18zM445.67 2196.83H463.08V2202.61H445.67zM479.3 2191.65H496.71V2197.43H479.3zM1286.37 2191.65H1303.78V2202.61H1286.37zM496.11 2186.47H513.52V2192.25H496.11zM1269.56 2186.47H1286.97V2192.25H1269.56zM512.92 2181.29H530.34V2187.07H512.92zM1252.74 2181.29H1270.16V2187.07H1252.74zM546.55 2176.11H563.97V2181.89H546.55zM1235.93 2176.11H1253.34V2181.89H1235.93zM580.18 2170.92H614.41V2176.71H580.18zM1219.11 2170.92H1236.53V2176.71H1219.11zM613.81 2165.74H648.04V2171.52H613.81zM1185.49 2165.74H1219.71V2171.52H1185.49zM664.25 2160.56H698.48V2166.34H664.25zM1168.67 2160.56H1186.09V2166.34H1168.67zM697.88 2155.38H748.92V2161.16H697.88zM1135.04 2155.38H1169.27V2161.16H1135.04zM748.32 2150.2H799.36V2155.98H748.32zM1118.23 2150.2H1135.64V2155.98H1118.23zM798.76 2145.02H849.81V2150.8H798.76zM1084.6 2145.02H1118.83V2150.8H1084.6zM849.21 2139.83H917.06V2145.62H849.21zM1017.35 2139.83H1085.2V2145.62H1017.35zM933.28 2134.65H1017.95V2140.43H933.28z"/>
<path fill="#3cc992" d="M1404.07 2611.36H1421.48V2684.5H1404.07zM1387.25 2554.36H1404.67V2596.41H1387.25zM1370.44 2533.63H1387.85V2554.96H1370.44zM1353.63 2507.73H1371.04V2529.05H1353.63zM1336.81 2476.64H1354.23V2503.14H1336.81zM1320 2461.09H1337.41V2477.24H1320zM1303.18 2455.91H1337.41V2461.69H1303.18zM1303.18 2445.55H1320.6V2456.51H1303.18zM1286.37 2424.82H1303.78V2446.15H1286.37zM1269.56 2409.28H1286.97V2425.42H1269.56zM1252.74 2398.91H1270.16V2409.88H1252.74zM1235.93 2388.55H1253.34V2399.51H1235.93zM1219.11 2378.19H1236.53V2389.15H1219.11zM1202.3 2367.82H1219.71V2378.79H1202.3zM1185.49 2347.1H1202.9V2368.42H1185.49zM1387.25 2295.28H1404.67V2316.61H1387.25zM243.9 2279.74H261.31V2285.52H243.9zM260.71 2269.37H278.13V2275.16H260.71zM277.53 2259.01H294.94V2264.79H277.53zM311.16 2243.47H328.57V2249.25H311.16zM1387.25 2243.47H1404.67V2259.61H1387.25zM344.78 2227.92H362.2V2233.7H344.78zM1370.44 2227.92H1387.85V2238.88H1370.44zM361.6 2222.74H379.01V2228.52H361.6zM378.41 2217.56H395.83V2223.34H378.41zM1353.63 2217.56H1371.04V2228.52H1353.63zM395.23 2212.38H412.64V2218.16H395.23zM1336.81 2212.38H1354.23V2218.16H1336.81zM412.04 2207.19H429.45V2212.98H412.04zM1320 2202.01H1337.41V2207.79H1320zM462.48 2191.65H479.9V2197.43H462.48zM1303.18 2191.65H1320.6V2202.61H1303.18zM479.3 2186.47H496.71V2192.25H479.3zM1286.37 2186.47H1303.78V2192.25H1286.37zM496.11 2181.29H513.52V2187.07H496.11zM1269.56 2181.29H1286.97V2187.07H1269.56zM512.92 2176.11H547.15V2181.89H512.92zM1252.74 2176.11H1270.16V2181.89H1252.74zM546.55 2170.92H580.78V2176.71H546.55zM1235.93 2170.92H1253.34V2176.71H1235.93zM580.18 2165.74H614.41V2171.52H580.18zM1219.11 2165.74H1236.53V2171.52H1219.11zM630.62 2160.56H664.85V2166.34H630.62zM1185.49 2160.56H1219.71V2166.34H1185.49zM664.25 2155.38H698.48V2161.16H664.25zM1168.67 2155.38H1186.09V2161.16H1168.67zM714.69 2150.2H748.92V2155.98H714.69zM1135.04 2150.2H1169.27V2155.98H1135.04zM748.32 2145.02H799.36V2150.8H748.32zM1118.23 2145.02H1152.46V2150.8H1118.23zM798.76 2139.83H849.81V2145.62H798.76zM1084.6 2139.83H1118.83V2145.62H1084.6zM849.21 2134.65H933.88V2140.43H849.21zM1017.35 2134.65H1085.2V2140.43H1017.35zM933.28 2129.47H1017.95V2135.25H933.28z"/>
<path fill="#3eca90" d="M1420.88 2637.27H1438.3V2684.5H1420.88zM1404.07 2554.36H1421.48V2611.96H1404.07zM1387.25 2533.63H1404.67V2554.96H1387.25zM1370.44 2507.73H1387.85V2534.23H1370.44zM1353.63 2476.64H1371.04V2508.33H1353.63zM1336.81 2455.91H1354.23V2477.24H1336.81zM1320 2445.55H1337.41V2456.51H1320zM1303.18 2440.37H1337.41V2446.15H1303.18zM1303.18 2424.82H1320.6V2440.97H1303.18zM1286.37 2409.28H1303.78V2425.42H1286.37zM1269.56 2398.91H1286.97V2409.88H1269.56zM1252.74 2388.55H1270.16V2399.51H1252.74zM1235.93 2378.19H1253.34V2389.15H1235.93zM1219.11 2367.82H1236.53V2378.79H1219.11zM1202.3 2341.92H1219.71V2368.42H1202.3zM243.9 2274.56H261.31V2280.34H243.9zM260.71 2264.19H278.13V2269.97H260.71zM277.53 2253.83H294.94V2259.61H277.53zM294.34 2248.65H311.76V2254.43H294.34zM1404.07 2248.65H1421.48V2301.06H1404.07zM311.16 2238.28H328.57V2244.07H311.16zM327.97 2233.1H345.38V2238.88H327.97zM1387.25 2233.1H1404.67V2244.07H1387.25zM344.78 2222.74H362.2V2228.52H344.78zM1370.44 2222.74H1387.85V2228.52H1370.44zM361.6 2217.56H379.01V2223.34H361.6zM378.41 2212.38H395.83V2218.16H378.41zM1353.63 2212.38H1371.04V2218.16H1353.63zM395.23 2207.19H412.64V2212.98H395.23zM412.04 2202.01H429.45V2207.79H412.04zM1336.81 2202.01H1354.23V2212.98H1336.81zM428.85 2196.83H446.27V2202.61H428.85zM1320 2196.83H1337.41V2202.61H1320zM445.67 2191.65H463.08V2197.43H445.67zM462.48 2186.47H479.9V2192.25H462.48zM1303.18 2186.47H1320.6V2192.25H1303.18zM479.3 2181.29H496.71V2187.07H479.3zM1286.37 2181.29H1303.78V2187.07H1286.37zM496.11 2176.11H513.52V2181.89H496.11zM1269.56 2176.11H1286.97V2181.89H1269.56zM512.92 2170.92H547.15V2176.71H512.92zM1252.74 2170.92H1270.16V2176.71H1252.74zM546.55 2165.74H580.78V2171.52H546.55zM1235.93 2165.74H1253.34V2171.52H1235.93zM580.18 2160.56H631.22V2166.34H580.18zM1219.11 2160.56H1236.53V2166.34H1219.11zM630.62 2155.38H664.85V2161.16H630.62zM1185.49 2155.38H1219.71V2161.16H1185.49zM681.06 2150.2H715.29V2155.98H681.06zM1168.67 2150.2H1202.9V2155.98H1168.67zM714.69 2145.02H748.92V2150.8H714.69zM1151.86 2145.02H1169.27V2150.8H1151.86zM765.14 2139.83H799.36V2145.62H765.14zM1118.23 2139.83H1152.46V2145.62H1118.23zM798.76 2134.65H849.81V2140.43H798.76zM1084.6 2134.65H1118.83V2140.43H1084.6zM849.21 2129.47H933.88V2135.25H849.21zM1017.35 2129.47H1085.2V2135.25H1017.35zM950.09 2124.29H1001.13V2130.07H950.09z"/>
<path fill="#40ca8d" d="M1420.88 2559.54H1438.3V2637.87H1420.88zM1404.07 2538.82H1421.48V2554.96H1404.07zM1387.25 2512.91H1404.67V2534.23H1387.25zM1370.44 2476.64H1387.85V2508.33H1370.44zM1353.63 2455.91H1371.04V2477.24H1353.63zM1336.81 2450.73H1371.04V2456.51H1336.81zM1336.81 2440.37H1354.23V2451.33H1336.81zM1320 2424.82H1337.41V2440.97H1320zM1303.18 2409.28H1320.6V2425.42H1303.18zM1286.37 2398.91H1303.78V2409.88H1286.37zM1269.56 2388.55H1286.97V2399.51H1269.56zM1252.74 2378.19H1270.16V2389.15H1252.74zM1235.93 2367.82H1253.34V2378.79H1235.93zM1219.11 2341.92H1236.53V2368.42H1219.11zM1404.07 2300.46H1421.48V2316.61H1404.07zM243.9 2269.37H261.31V2275.16H243.9zM260.71 2259.01H278.13V2264.79H260.71zM1420.88 2253.83H1438.3V2290.7H1420.88zM277.53 2248.65H294.94V2254.43H277.53zM294.34 2243.47H311.76V2249.25H294.34zM1404.07 2238.28H1421.48V2249.25H1404.07zM311.16 2233.1H328.57V2238.88H311.16zM327.97 2227.92H345.38V2233.7H327.97zM1387.25 2222.74H1404.67V2233.7H1387.25zM361.6 2212.38H379.01V2218.16H361.6zM1370.44 2212.38H1387.85V2223.34H1370.44zM378.41 2207.19H395.83V2212.98H378.41zM395.23 2202.01H412.64V2207.79H395.23zM1353.63 2202.01H1371.04V2212.98H1353.63zM412.04 2196.83H429.45V2202.61H412.04zM1336.81 2196.83H1354.23V2202.61H1336.81zM428.85 2191.65H446.27V2197.43H428.85zM445.67 2186.47H463.08V2192.25H445.67zM1320 2186.47H1337.41V2197.43H1320zM462.48 2181.29H479.9V2187.07H462.48zM1303.18 2181.29H1320.6V2187.07H1303.18zM479.3 2176.11H496.71V2181.89H479.3zM1286.37 2176.11H1303.78V2181.89H1286.37zM496.11 2170.92H513.52V2176.71H496.11zM1269.56 2170.92H1286.97V2176.71H1269.56zM512.92 2165.74H547.15V2171.52H512.92zM1252.74 2165.74H1270.16V2171.52H1252.74zM546.55 2160.56H580.78V2166.34H546.55zM1235.93 2160.56H1253.34V2166.34H1235.93zM596.99 2155.38H631.22V2161.16H596.99zM1219.11 2155.38H1236.53V2161.16H1219.11zM647.44 2150.2H681.66V2155.98H647.44zM1202.3 2150.2H1219.71V2155.98H1202.3zM681.06 2145.02H715.29V2150.8H681.06zM1168.67 2145.02H1202.9V2150.8H1168.67zM714.69 2139.83H765.74V2145.62H714.69zM1151.86 2139.83H1169.27V2145.62H1151.86zM765.14 2134.65H799.36V2140.43H765.14zM1118.23 2134.65H1152.46V2140.43H1118.23zM798.76 2129.47H849.81V2135.25H798.76zM1084.6 2129.47H1118.83V2135.25H1084.6zM849.21 2124.29H950.69V2130.07H849.21zM1000.53 2124.29H1085.2V2130.07H1000.53zM950.09 2119.11H1001.13V2124.89H950.09z"/>
<path fill="#42ca8b" d="M1437.7 2569.91H1455.11V2684.5H1437.7zM1420.88 2538.82H1438.3V2560.14H1420.88zM1404.07 2518.09H1421.48V2539.42H1404.07zM1387.25 2481.82H1404.67V2513.51H1387.25zM1370.44 2450.73H1387.85V2477.24H1370.44zM1353.63 2445.55H1387.85V2451.33H1353.63zM1353.63 2440.37H1371.04V2446.15H1353.63zM1336.81 2435.18H1371.04V2440.97H1336.81zM1336.81 2424.82H1354.23V2435.78H1336.81zM1320 2409.28H1337.41V2425.42H1320zM1303.18 2398.91H1320.6V2409.88H1303.18zM1286.37 2388.55H1303.78V2399.51H1286.37zM1269.56 2378.19H1286.97V2389.15H1269.56zM1252.74 2373.01H1286.97V2378.79H1252.74zM1252.74 2367.82H1270.16V2373.61H1252.74zM1235.93 2362.64H1270.16V2368.42H1235.93zM1235.93 2336.73H1253.34V2363.24H1235.93zM1420.88 2290.1H1438.3V2311.43H1420.88zM243.9 2264.19H261.31V2269.97H243.9zM260.71 2253.83H278.13V2259.61H260.71zM277.53 2243.47H294.94V2249.25H277.53zM294.34 2238.28H311.76V2244.07H294.34zM1420.88 2238.28H1438.3V2254.43H1420.88zM311.16 2227.92H328.57V2233.7H311.16zM1404.07 2227.92H1421.48V2238.88H1404.07zM327.97 2222.74H345.38V2228.52H327.97zM344.78 2217.56H362.2V2223.34H344.78zM1387.25 2217.56H1404.67V2223.34H1387.25zM361.6 2207.19H379.01V2212.98H361.6zM1370.44 2207.19H1387.85V2212.98H1370.44zM378.41 2202.01H395.83V2207.79H378.41zM395.23 2196.83H412.64V2202.61H395.23zM1353.63 2196.83H1371.04V2202.61H1353.63zM412.04 2191.65H429.45V2197.43H412.04zM428.85 2186.47H446.27V2192.25H428.85zM1336.81 2186.47H1354.23V2197.43H1336.81zM445.67 2181.29H463.08V2187.07H445.67zM1320 2181.29H1337.41V2187.07H1320zM462.48 2176.11H479.9V2181.89H462.48zM1303.18 2176.11H1320.6V2181.89H1303.18zM479.3 2170.92H496.71V2176.71H479.3zM1286.37 2170.92H1320.6V2176.71H1286.37zM496.11 2165.74H513.52V2171.52H496.11zM1269.56 2165.74H1303.78V2171.52H1269.56zM512.92 2160.56H547.15V2166.34H512.92zM1252.74 2160.56H1286.97V2166.34H1252.74zM546.55 2155.38H597.59V2161.16H546.55zM1235.93 2155.38H1270.16V2161.16H1235.93zM596.99 2150.2H648.04V2155.98H596.99zM1219.11 2150.2H1253.34V2155.98H1219.11zM647.44 2145.02H681.66V2150.8H647.44zM1202.3 2145.02H1219.71V2150.8H1202.3zM681.06 2139.83H715.29V2145.62H681.06zM1168.67 2139.83H1202.9V2145.62H1168.67zM714.69 2134.65H765.74V2140.43H714.69zM1151.86 2134.65H1186.09V2140.43H1151.86zM748.32 2129.47H799.36V2135.25H748.32zM1118.23 2129.47H1152.46V2135.25H1118.23zM798.76 2124.29H849.81V2130.07H798.76zM1084.6 2124.29H1135.64V2130.07H1084.6zM849.21 2119.11H950.69V2124.89H849.21zM1000.53 2119.11H1085.2V2124.89H1000.53zM950.09 2113.93H1017.95V2119.71H950.09z"/>
<path fill="#45cb89" d="M1454.51 2600.99H1471.92V2684.5H1454.51zM1437.7 2544H1455.11V2570.51H1437.7zM1420.88 2518.09H1438.3V2539.42H1420.88zM1404.07 2487H1421.48V2518.69H1404.07zM1387.25 2445.55H1404.67V2482.42H1387.25zM1370.44 2435.18H1387.85V2446.15H1370.44zM1353.63 2424.82H1371.04V2435.78H1353.63zM1336.81 2409.28H1354.23V2425.42H1336.81zM1320 2398.91H1337.41V2409.88H1320zM1303.18 2388.55H1320.6V2399.51H1303.18zM1286.37 2383.37H1320.6V2389.15H1286.37zM1286.37 2373.01H1303.78V2383.97H1286.37zM1269.56 2362.64H1286.97V2373.61H1269.56zM1252.74 2347.1H1286.97V2363.24H1252.74zM1252.74 2336.73H1270.16V2347.7H1252.74zM243.9 2259.01H261.31V2264.79H243.9zM260.71 2248.65H278.13V2254.43H260.71zM1437.7 2243.47H1455.11V2301.06H1437.7zM277.53 2238.28H294.94V2244.07H277.53zM294.34 2233.1H311.76V2238.88H294.34zM1420.88 2227.92H1438.3V2238.88H1420.88zM311.16 2222.74H328.57V2228.52H311.16zM327.97 2217.56H345.38V2223.34H327.97zM1404.07 2217.56H1421.48V2228.52H1404.07zM344.78 2212.38H362.2V2218.16H344.78zM1387.25 2207.19H1404.67V2218.16H1387.25zM361.6 2202.01H379.01V2207.79H361.6zM378.41 2196.83H395.83V2202.61H378.41zM1370.44 2196.83H1387.85V2207.79H1370.44zM395.23 2191.65H412.64V2197.43H395.23zM412.04 2186.47H429.45V2192.25H412.04zM1353.63 2186.47H1371.04V2197.43H1353.63zM428.85 2181.29H446.27V2187.07H428.85zM1336.81 2181.29H1354.23V2187.07H1336.81zM445.67 2176.11H463.08V2181.89H445.67zM462.48 2170.92H479.9V2176.71H462.48zM1320 2170.92H1337.41V2181.89H1320zM479.3 2165.74H496.71V2171.52H479.3zM1303.18 2165.74H1320.6V2171.52H1303.18zM496.11 2160.56H513.52V2166.34H496.11zM1286.37 2160.56H1303.78V2166.34H1286.37zM512.92 2155.38H547.15V2161.16H512.92zM1269.56 2155.38H1286.97V2161.16H1269.56zM546.55 2150.2H597.59V2155.98H546.55zM1252.74 2150.2H1270.16V2155.98H1252.74zM596.99 2145.02H648.04V2150.8H596.99zM1219.11 2145.02H1253.34V2150.8H1219.11zM647.44 2139.83H681.66V2145.62H647.44zM1202.3 2139.83H1236.53V2145.62H1202.3zM681.06 2134.65H715.29V2140.43H681.06zM1185.49 2134.65H1219.71V2140.43H1185.49zM714.69 2129.47H748.92V2135.25H714.69zM1151.86 2129.47H1186.09V2135.25H1151.86zM748.32 2124.29H799.36V2130.07H748.32zM1135.04 2124.29H1169.27V2130.07H1135.04zM798.76 2119.11H849.81V2124.89H798.76zM1084.6 2119.11H1135.64V2124.89H1084.6zM849.21 2113.93H950.69V2119.71H849.21zM1017.35 2113.93H1102.02V2119.71H1017.35zM933.28 2108.74H1017.95V2114.53H933.28z"/>
<path fill="#48cb86" d="M1471.32 2647.63H1488.74V2684.5H1471.32zM1454.51 2549.18H1471.92V2601.59H1454.51zM1437.7 2523.27H1455.11V2544.6H1437.7zM1420.88 2497.36H1438.3V2518.69H1420.88zM1404.07 2450.73H1421.48V2487.6H1404.07zM1387.25 2435.18H1404.67V2446.15H1387.25zM1370.44 2424.82H1387.85V2435.78H1370.44zM1353.63 2409.28H1371.04V2425.42H1353.63zM1336.81 2398.91H1354.23V2409.88H1336.81zM1320 2383.37H1337.41V2399.51H1320zM1303.18 2373.01H1320.6V2383.97H1303.18zM1286.37 2367.82H1320.6V2373.61H1286.37zM1286.37 2347.1H1303.78V2368.42H1286.37zM1269.56 2331.55H1303.78V2347.7H1269.56zM1437.7 2300.46H1455.11V2311.43H1437.7zM243.9 2253.83H261.31V2259.61H243.9zM1454.51 2248.65H1471.92V2295.88H1454.51zM260.71 2243.47H278.13V2249.25H260.71zM277.53 2233.1H294.94V2238.88H277.53zM1437.7 2233.1H1455.11V2244.07H1437.7zM294.34 2227.92H311.76V2233.7H294.34zM311.16 2217.56H328.57V2223.34H311.16zM1420.88 2217.56H1438.3V2228.52H1420.88zM327.97 2212.38H345.38V2218.16H327.97zM344.78 2207.19H362.2V2212.98H344.78zM1404.07 2207.19H1421.48V2218.16H1404.07zM361.6 2196.83H379.01V2202.61H361.6zM1387.25 2196.83H1404.67V2207.79H1387.25zM378.41 2191.65H395.83V2197.43H378.41zM395.23 2186.47H412.64V2192.25H395.23zM1370.44 2186.47H1387.85V2197.43H1370.44zM412.04 2181.29H429.45V2187.07H412.04zM1353.63 2181.29H1371.04V2187.07H1353.63zM428.85 2176.11H446.27V2181.89H428.85zM428.85 2170.92H463.08V2176.71H428.85zM1336.81 2170.92H1354.23V2181.89H1336.81zM445.67 2165.74H479.9V2171.52H445.67zM1320 2165.74H1337.41V2171.52H1320zM479.3 2160.56H496.71V2166.34H479.3zM1303.18 2160.56H1320.6V2166.34H1303.18zM496.11 2155.38H513.52V2161.16H496.11zM1286.37 2155.38H1303.78V2161.16H1286.37zM512.92 2150.2H547.15V2155.98H512.92zM1269.56 2150.2H1303.78V2155.98H1269.56zM546.55 2145.02H597.59V2150.8H546.55zM1252.74 2145.02H1286.97V2150.8H1252.74zM596.99 2139.83H648.04V2145.62H596.99zM1235.93 2139.83H1270.16V2145.62H1235.93zM630.62 2134.65H681.66V2140.43H630.62zM1219.11 2134.65H1236.53V2140.43H1219.11zM664.25 2129.47H715.29V2135.25H664.25zM1185.49 2129.47H1219.71V2135.25H1185.49zM714.69 2124.29H748.92V2130.07H714.69zM1168.67 2124.29H1202.9V2130.07H1168.67zM748.32 2119.11H799.36V2124.89H748.32zM1135.04 2119.11H1169.27V2124.89H1135.04zM798.76 2113.93H849.81V2119.71H798.76zM1101.42 2113.93H1152.46V2119.71H1101.42zM849.21 2108.74H933.88V2114.53H849.21zM1017.35 2108.74H1102.02V2114.53H1017.35zM933.28 2103.56H1034.76V2109.34H933.28z"/>
<path fill="#4bcb84" d="M1471.32 2559.54H1488.74V2648.23H1471.32zM1454.51 2533.63H1471.92V2549.78H1454.51zM1437.7 2502.54H1455.11V2523.87H1437.7zM1420.88 2461.09H1438.3V2497.96H1420.88zM1404.07 2440.37H1421.48V2451.33H1404.07zM1387.25 2424.82H1404.67V2435.78H1387.25zM1370.44 2414.46H1387.85V2425.42H1370.44zM1353.63 2398.91H1371.04V2409.88H1353.63zM1336.81 2383.37H1354.23V2399.51H1336.81zM1320 2367.82H1337.41V2383.97H1320zM1303.18 2326.37H1320.6V2368.42H1303.18zM1454.51 2295.28H1471.92V2306.24H1454.51zM1471.32 2259.01H1488.74V2280.34H1471.32zM243.9 2248.65H261.31V2254.43H243.9zM260.71 2238.28H278.13V2244.07H260.71zM1454.51 2233.1H1471.92V2249.25H1454.51zM277.53 2227.92H294.94V2233.7H277.53zM294.34 2222.74H311.76V2228.52H294.34zM1437.7 2222.74H1455.11V2233.7H1437.7zM1420.88 2212.38H1438.3V2218.16H1420.88zM327.97 2207.19H345.38V2212.98H327.97zM344.78 2202.01H362.2V2207.79H344.78zM1404.07 2202.01H1421.48V2207.79H1404.07zM361.6 2191.65H379.01V2197.43H361.6zM378.41 2186.47H395.83V2192.25H378.41zM1387.25 2186.47H1404.67V2197.43H1387.25zM395.23 2181.29H412.64V2187.07H395.23zM1370.44 2181.29H1387.85V2187.07H1370.44zM412.04 2170.92H429.45V2181.89H412.04zM1353.63 2170.92H1371.04V2181.89H1353.63zM428.85 2165.74H446.27V2171.52H428.85zM1336.81 2165.74H1354.23V2171.52H1336.81zM445.67 2160.56H479.9V2166.34H445.67zM1320 2160.56H1354.23V2166.34H1320zM462.48 2155.38H496.71V2161.16H462.48zM1303.18 2155.38H1337.41V2161.16H1303.18zM496.11 2150.2H513.52V2155.98H496.11zM1303.18 2150.2H1320.6V2155.98H1303.18zM512.92 2145.02H547.15V2150.8H512.92zM1286.37 2145.02H1303.78V2150.8H1286.37zM546.55 2139.83H597.59V2145.62H546.55zM1269.56 2139.83H1286.97V2145.62H1269.56zM580.18 2134.65H631.22V2140.43H580.18zM1235.93 2134.65H1270.16V2140.43H1235.93zM630.62 2129.47H664.85V2135.25H630.62zM1219.11 2129.47H1253.34V2135.25H1219.11zM664.25 2124.29H715.29V2130.07H664.25zM1202.3 2124.29H1236.53V2130.07H1202.3zM697.88 2119.11H748.92V2124.89H697.88zM1168.67 2119.11H1202.9V2124.89H1168.67zM748.32 2113.93H799.36V2119.71H748.32zM1151.86 2113.93H1186.09V2119.71H1151.86zM781.95 2108.74H849.81V2114.53H781.95zM1101.42 2108.74H1152.46V2114.53H1101.42zM849.21 2103.56H933.88V2109.34H849.21zM1034.16 2103.56H1118.83V2109.34H1034.16zM916.46 2098.38H1051.57V2104.16H916.46z"/>
<path fill="#4ecc81" d="M1488.14 2580.27H1505.55V2684.5H1488.14zM1471.32 2538.82H1488.74V2560.14H1471.32zM1454.51 2512.91H1471.92V2534.23H1454.51zM1437.7 2471.46H1455.11V2503.14H1437.7zM1420.88 2440.37H1438.3V2461.69H1420.88zM1404.07 2430H1421.48V2440.97H1404.07zM1387.25 2414.46H1404.67V2425.42H1387.25zM1370.44 2398.91H1387.85V2415.06H1370.44zM1353.63 2383.37H1371.04V2399.51H1353.63zM1336.81 2367.82H1354.23V2383.97H1336.81zM1320 2326.37H1337.41V2368.42H1320zM1471.32 2279.74H1488.74V2301.06H1471.32zM243.9 2243.47H261.31V2249.25H243.9zM1471.32 2238.28H1488.74V2259.61H1471.32zM260.71 2233.1H278.13V2238.88H260.71zM1454.51 2222.74H1471.92V2233.7H1454.51zM294.34 2217.56H311.76V2223.34H294.34zM311.16 2212.38H328.57V2218.16H311.16zM1437.7 2212.38H1455.11V2223.34H1437.7zM327.97 2202.01H345.38V2207.79H327.97zM1420.88 2202.01H1438.3V2212.98H1420.88zM344.78 2196.83H362.2V2202.61H344.78zM1404.07 2191.65H1421.48V2202.61H1404.07zM361.6 2186.47H379.01V2192.25H361.6zM378.41 2181.29H395.83V2187.07H378.41zM1387.25 2181.29H1404.67V2187.07H1387.25zM395.23 2170.92H412.64V2181.89H395.23zM1370.44 2170.92H1387.85V2181.89H1370.44zM412.04 2165.74H429.45V2171.52H412.04zM428.85 2160.56H446.27V2166.34H428.85zM1353.63 2160.56H1371.04V2171.52H1353.63zM445.67 2155.38H463.08V2161.16H445.67zM1336.81 2155.38H1354.23V2161.16H1336.81zM462.48 2150.2H496.71V2155.98H462.48zM1320 2150.2H1337.41V2155.98H1320zM479.3 2145.02H513.52V2150.8H479.3zM1303.18 2145.02H1337.41V2150.8H1303.18zM512.92 2139.83H547.15V2145.62H512.92zM1286.37 2139.83H1320.6V2145.62H1286.37zM546.55 2134.65H580.78V2140.43H546.55zM1269.56 2134.65H1303.78V2140.43H1269.56zM580.18 2129.47H631.22V2135.25H580.18zM1252.74 2129.47H1286.97V2135.25H1252.74zM613.81 2124.29H664.85V2130.07H613.81zM1235.93 2124.29H1270.16V2130.07H1235.93zM647.44 2119.11H698.48V2124.89H647.44zM1202.3 2119.11H1253.34V2124.89H1202.3zM697.88 2113.93H748.92V2119.71H697.88zM1185.49 2113.93H1219.71V2119.71H1185.49zM731.51 2108.74H782.55V2114.53H731.51zM1151.86 2108.74H1202.9V2114.53H1151.86zM781.95 2103.56H849.81V2109.34H781.95zM1118.23 2103.56H1169.27V2109.34H1118.23zM832.39 2098.38H917.06V2104.16H832.39zM1050.97 2098.38H1118.83V2104.16H1050.97zM916.46 2091.7H1051.57V2098.98H916.46z"/>
<path fill="#51cc7f" d="M1504.95 2626.9H1522.37V2684.5H1504.95zM1488.14 2544H1505.55V2580.87H1488.14zM1471.32 2518.09H1488.74V2539.42H1471.32zM1454.51 2481.82H1471.92V2513.51H1454.51zM1437.7 2445.55H1455.11V2472.06H1437.7zM1420.88 2430H1438.3V2440.97H1420.88zM1404.07 2419.64H1421.48V2430.6H1404.07zM1387.25 2404.09H1404.67V2415.06H1387.25zM1370.44 2383.37H1387.85V2399.51H1370.44zM1353.63 2367.82H1371.04V2383.97H1353.63zM1336.81 2326.37H1354.23V2368.42H1336.81zM1471.32 2300.46H1488.74V2306.24H1471.32zM1488.14 2243.47H1505.55V2295.88H1488.14zM243.9 2238.28H261.31V2244.07H243.9zM260.71 2227.92H278.13V2233.7H260.71zM1471.32 2227.92H1488.74V2238.88H1471.32zM277.53 2222.74H294.94V2228.52H277.53zM294.34 2212.38H311.76V2218.16H294.34zM1454.51 2212.38H1471.92V2223.34H1454.51zM311.16 2202.01H328.57V2212.98H311.16zM1437.7 2202.01H1455.11V2212.98H1437.7zM327.97 2196.83H345.38V2202.61H327.97zM1420.88 2191.65H1438.3V2202.61H1420.88zM344.78 2186.47H362.2V2197.43H344.78zM361.6 2181.29H379.01V2187.07H361.6zM1404.07 2181.29H1421.48V2192.25H1404.07zM378.41 2176.11H395.83V2181.89H378.41zM1387.25 2170.92H1404.67V2181.89H1387.25zM395.23 2165.74H412.64V2171.52H395.23zM412.04 2160.56H429.45V2166.34H412.04zM1370.44 2160.56H1387.85V2171.52H1370.44zM428.85 2155.38H446.27V2161.16H428.85zM1353.63 2155.38H1371.04V2161.16H1353.63zM445.67 2150.2H463.08V2155.98H445.67zM1336.81 2150.2H1371.04V2155.98H1336.81zM462.48 2145.02H479.9V2150.8H462.48zM1336.81 2145.02H1354.23V2150.8H1336.81zM479.3 2139.83H513.52V2145.62H479.3zM1320 2139.83H1337.41V2145.62H1320zM512.92 2134.65H547.15V2140.43H512.92zM1303.18 2134.65H1320.6V2140.43H1303.18zM529.74 2129.47H580.78V2135.25H529.74zM1286.37 2129.47H1303.78V2135.25H1286.37zM563.37 2124.29H614.41V2130.07H563.37zM1269.56 2124.29H1286.97V2130.07H1269.56zM596.99 2119.11H648.04V2124.89H596.99zM1252.74 2119.11H1270.16V2124.89H1252.74zM647.44 2113.93H698.48V2119.71H647.44zM1219.11 2113.93H1253.34V2119.71H1219.11zM681.06 2108.74H732.11V2114.53H681.06zM1202.3 2108.74H1236.53V2114.53H1202.3zM731.51 2103.56H782.55V2109.34H731.51zM1168.67 2103.56H1219.71V2109.34H1168.67zM765.14 2098.38H832.99V2104.16H765.14zM1118.23 2098.38H1186.09V2104.16H1118.23zM832.39 2091.7H917.06V2098.98H832.39zM1050.97 2091.7H1135.64V2098.98H1050.97z"/>
<path fill="#54cc7c" d="M1521.77 2673.54H1539.18V2684.5H1521.77zM1504.95 2559.54H1522.37V2627.5H1504.95zM1488.14 2523.27H1505.55V2544.6H1488.14zM1471.32 2497.36H1488.74V2518.69H1471.32zM1454.51 2455.91H1471.92V2482.42H1454.51zM1437.7 2435.18H1455.11V2446.15H1437.7zM1420.88 2419.64H1438.3V2430.6H1420.88zM1404.07 2404.09H1421.48V2420.24H1404.07zM1387.25 2388.55H1404.67V2404.69H1387.25zM1370.44 2367.82H1387.85V2383.97H1370.44zM1353.63 2316.01H1371.04V2368.42H1353.63zM1488.14 2295.28H1505.55V2306.24H1488.14zM1504.95 2253.83H1522.37V2280.34H1504.95zM243.9 2233.1H261.31V2238.88H243.9zM1488.14 2227.92H1505.55V2244.07H1488.14zM260.71 2222.74H278.13V2228.52H260.71zM277.53 2217.56H294.94V2223.34H277.53zM1471.32 2217.56H1488.74V2228.52H1471.32zM294.34 2207.19H311.76V2212.98H294.34zM1454.51 2202.01H1471.92V2212.98H1454.51zM311.16 2196.83H328.57V2202.61H311.16zM327.97 2191.65H345.38V2197.43H327.97zM1437.7 2191.65H1455.11V2202.61H1437.7zM344.78 2181.29H362.2V2187.07H344.78zM1420.88 2181.29H1438.3V2192.25H1420.88zM361.6 2176.11H379.01V2181.89H361.6zM1404.07 2170.92H1421.48V2181.89H1404.07zM378.41 2165.74H395.83V2176.71H378.41zM395.23 2160.56H412.64V2166.34H395.23zM1387.25 2160.56H1404.67V2171.52H1387.25zM412.04 2155.38H429.45V2161.16H412.04zM428.85 2150.2H446.27V2155.98H428.85zM1370.44 2150.2H1387.85V2161.16H1370.44zM445.67 2145.02H463.08V2150.8H445.67zM1353.63 2145.02H1371.04V2150.8H1353.63zM462.48 2139.83H479.9V2145.62H462.48zM1336.81 2139.83H1371.04V2145.62H1336.81zM479.3 2134.65H513.52V2140.43H479.3zM1320 2134.65H1354.23V2140.43H1320zM496.11 2129.47H530.34V2135.25H496.11zM1303.18 2129.47H1337.41V2135.25H1303.18zM529.74 2124.29H563.97V2130.07H529.74zM1286.37 2124.29H1320.6V2130.07H1286.37zM563.37 2119.11H597.59V2124.89H563.37zM1269.56 2119.11H1303.78V2124.89H1269.56zM596.99 2113.93H648.04V2119.71H596.99zM1252.74 2113.93H1286.97V2119.71H1252.74zM630.62 2108.74H681.66V2114.53H630.62zM1235.93 2108.74H1270.16V2114.53H1235.93zM664.25 2103.56H732.11V2109.34H664.25zM1219.11 2103.56H1253.34V2109.34H1219.11zM714.69 2098.38H765.74V2104.16H714.69zM1185.49 2098.38H1219.71V2104.16H1185.49zM765.14 2091.7H832.99V2098.98H765.14zM1135.04 2091.7H1202.9V2098.98H1135.04z"/>
<path fill="#57cc7a" d="M1521.77 2575.09H1539.18V2674.14H1521.77zM1504.95 2533.63H1522.37V2560.14H1504.95zM1488.14 2502.54H1505.55V2523.87H1488.14zM1471.32 2466.27H1488.74V2497.96H1471.32zM1454.51 2440.37H1471.92V2456.51H1454.51zM1437.7 2424.82H1455.11V2435.78H1437.7zM1420.88 2409.28H1438.3V2420.24H1420.88zM1404.07 2393.73H1421.48V2404.69H1404.07zM1387.25 2373.01H1404.67V2389.15H1387.25zM1370.44 2326.37H1387.85V2368.42H1370.44zM1370.44 2316.01H1404.67V2326.97H1370.44zM1504.95 2279.74H1522.37V2301.06H1504.95zM1504.95 2233.1H1522.37V2254.43H1504.95zM243.9 2227.92H261.31V2233.7H243.9zM260.71 2217.56H278.13V2223.34H260.71zM1488.14 2217.56H1505.55V2228.52H1488.14zM277.53 2207.19H294.94V2218.16H277.53zM1471.32 2207.19H1488.74V2218.16H1471.32zM294.34 2202.01H311.76V2207.79H294.34zM311.16 2191.65H328.57V2197.43H311.16zM1454.51 2191.65H1471.92V2202.61H1454.51zM327.97 2186.47H345.38V2192.25H327.97zM1437.7 2181.29H1455.11V2192.25H1437.7zM344.78 2176.11H362.2V2181.89H344.78zM361.6 2170.92H379.01V2176.71H361.6zM1420.88 2170.92H1438.3V2181.89H1420.88zM378.41 2160.56H395.83V2166.34H378.41zM1404.07 2160.56H1421.48V2171.52H1404.07zM395.23 2155.38H412.64V2161.16H395.23zM412.04 2150.2H429.45V2155.98H412.04zM1387.25 2150.2H1404.67V2161.16H1387.25zM428.85 2145.02H446.27V2150.8H428.85zM445.67 2139.83H463.08V2145.62H445.67zM1370.44 2139.83H1387.85V2150.8H1370.44zM462.48 2134.65H479.9V2140.43H462.48zM1353.63 2134.65H1371.04V2140.43H1353.63zM479.3 2129.47H496.71V2135.25H479.3zM1336.81 2129.47H1371.04V2135.25H1336.81zM496.11 2124.29H530.34V2130.07H496.11zM1320 2124.29H1354.23V2130.07H1320zM512.92 2119.11H563.97V2124.89H512.92zM1303.18 2119.11H1337.41V2124.89H1303.18zM546.55 2113.93H597.59V2119.71H546.55zM1286.37 2113.93H1320.6V2119.71H1286.37zM580.18 2108.74H631.22V2114.53H580.18zM1269.56 2108.74H1303.78V2114.53H1269.56zM613.81 2103.56H664.85V2109.34H613.81zM1252.74 2103.56H1286.97V2109.34H1252.74zM664.25 2098.38H715.29V2104.16H664.25zM1219.11 2098.38H1270.16V2104.16H1219.11zM697.88 2091.7H765.74V2098.98H697.88zM1202.3 2091.7H1236.53V2098.98H1202.3z"/>
<path fill="#5acc77" d="M1538.58 2616.54H1555.99V2684.5H1538.58zM1521.77 2544H1539.18V2575.69H1521.77zM1504.95 2512.91H1522.37V2534.23H1504.95zM1488.14 2476.64H1505.55V2503.14H1488.14zM1471.32 2445.55H1488.74V2466.87H1471.32zM1454.51 2430H1471.92V2440.97H1454.51zM1437.7 2414.46H1455.11V2425.42H1437.7zM1420.88 2398.91H1438.3V2409.88H1420.88zM1404.07 2373.01H1421.48V2394.33H1404.07zM1387.25 2331.55H1404.67V2373.61H1387.25zM1387.25 2326.37H1421.48V2332.15H1387.25zM1404.07 2316.01H1421.48V2326.97H1404.07zM1420.88 2310.83H1438.3V2316.61H1420.88zM1521.77 2243.47H1539.18V2285.52H1521.77zM243.9 2222.74H261.31V2228.52H243.9zM1504.95 2222.74H1522.37V2233.7H1504.95zM260.71 2212.38H278.13V2218.16H260.71zM1488.14 2207.19H1505.55V2218.16H1488.14zM277.53 2202.01H294.94V2207.79H277.53zM294.34 2196.83H311.76V2202.61H294.34zM1471.32 2191.65H1488.74V2207.79H1471.32zM311.16 2186.47H328.57V2192.25H311.16zM1454.51 2181.29H1471.92V2192.25H1454.51zM327.97 2176.11H345.38V2187.07H327.97zM344.78 2170.92H362.2V2176.71H344.78zM1437.7 2170.92H1455.11V2181.89H1437.7zM361.6 2160.56H379.01V2171.52H361.6zM1420.88 2160.56H1438.3V2171.52H1420.88zM378.41 2155.38H395.83V2161.16H378.41zM1404.07 2155.38H1438.3V2161.16H1404.07zM395.23 2150.2H412.64V2155.98H395.23zM1404.07 2150.2H1421.48V2155.98H1404.07zM412.04 2145.02H429.45V2150.8H412.04zM1387.25 2145.02H1421.48V2150.8H1387.25zM412.04 2139.83H446.27V2145.62H412.04zM1387.25 2139.83H1404.67V2145.62H1387.25zM428.85 2134.65H463.08V2140.43H428.85zM1370.44 2134.65H1404.67V2140.43H1370.44zM445.67 2129.47H479.9V2135.25H445.67zM1370.44 2129.47H1387.85V2135.25H1370.44zM462.48 2124.29H496.71V2130.07H462.48zM1353.63 2124.29H1371.04V2130.07H1353.63zM479.3 2119.11H513.52V2124.89H479.3zM1336.81 2119.11H1371.04V2124.89H1336.81zM512.92 2113.93H547.15V2119.71H512.92zM1320 2113.93H1354.23V2119.71H1320zM529.74 2108.74H580.78V2114.53H529.74zM1303.18 2108.74H1337.41V2114.53H1303.18zM563.37 2103.56H614.41V2109.34H563.37zM1286.37 2103.56H1320.6V2109.34H1286.37zM613.81 2098.38H664.85V2104.16H613.81zM1269.56 2098.38H1303.78V2104.16H1269.56zM647.44 2091.7H698.48V2098.98H647.44zM1235.93 2091.7H1286.97V2098.98H1235.93z"/>
<path fill="#5ecc74" d="M1555.39 2668.36H1572.81V2684.5H1555.39zM1538.58 2554.36H1555.99V2617.14H1538.58zM1521.77 2518.09H1539.18V2544.6H1521.77zM1504.95 2492.18H1522.37V2513.51H1504.95zM1488.14 2455.91H1505.55V2477.24H1488.14zM1471.32 2435.18H1488.74V2446.15H1471.32zM1454.51 2419.64H1471.92V2430.6H1454.51zM1437.7 2404.09H1455.11V2415.06H1437.7zM1420.88 2378.19H1438.3V2399.51H1420.88zM1404.07 2331.55H1421.48V2373.61H1404.07zM1420.88 2326.37H1438.3V2332.15H1420.88zM1420.88 2316.01H1455.11V2326.97H1420.88zM1437.7 2310.83H1455.11V2316.61H1437.7zM1521.77 2284.92H1539.18V2301.06H1521.77zM1538.58 2248.65H1555.99V2275.16H1538.58zM1521.77 2227.92H1539.18V2244.07H1521.77zM243.9 2217.56H261.31V2223.34H243.9zM1504.95 2212.38H1522.37V2223.34H1504.95zM260.71 2207.19H278.13V2212.98H260.71zM277.53 2196.83H294.94V2202.61H277.53zM1488.14 2196.83H1505.55V2207.79H1488.14zM294.34 2186.47H311.76V2197.43H294.34zM311.16 2181.29H328.57V2187.07H311.16zM1471.32 2181.29H1488.74V2192.25H1471.32zM327.97 2170.92H345.38V2176.71H327.97zM1454.51 2170.92H1471.92V2181.89H1454.51zM344.78 2165.74H362.2V2171.52H344.78zM361.6 2155.38H379.01V2161.16H361.6zM1437.7 2155.38H1455.11V2171.52H1437.7zM378.41 2150.2H395.83V2155.98H378.41zM1420.88 2145.02H1438.3V2155.98H1420.88zM395.23 2139.83H412.64V2150.8H395.23zM412.04 2134.65H429.45V2140.43H412.04zM1404.07 2134.65H1421.48V2145.62H1404.07zM428.85 2129.47H446.27V2135.25H428.85zM1387.25 2129.47H1404.67V2135.25H1387.25zM445.67 2124.29H463.08V2130.07H445.67zM1370.44 2124.29H1404.67V2130.07H1370.44zM462.48 2119.11H479.9V2124.89H462.48zM1370.44 2119.11H1387.85V2124.89H1370.44zM479.3 2113.93H513.52V2119.71H479.3zM1353.63 2113.93H1371.04V2119.71H1353.63zM496.11 2108.74H530.34V2114.53H496.11zM1336.81 2108.74H1371.04V2114.53H1336.81zM529.74 2103.56H563.97V2109.34H529.74zM1320 2103.56H1354.23V2109.34H1320zM563.37 2098.38H614.41V2104.16H563.37zM1303.18 2098.38H1337.41V2104.16H1303.18zM596.99 2091.7H648.04V2098.98H596.99zM1286.37 2091.7H1320.6V2098.98H1286.37z"/>
<path fill="#61cd72" d="M1555.39 2575.09H1572.81V2668.96H1555.39zM1538.58 2528.45H1555.99V2554.96H1538.58zM1521.77 2497.36H1539.18V2518.69H1521.77zM1504.95 2466.27H1522.37V2492.78H1504.95zM1488.14 2440.37H1505.55V2456.51H1488.14zM1471.32 2419.64H1488.74V2435.78H1471.32zM1454.51 2409.28H1471.92V2420.24H1454.51zM1437.7 2388.55H1455.11V2404.69H1437.7zM1420.88 2336.73H1438.3V2378.79H1420.88zM1420.88 2331.55H1455.11V2337.33H1420.88zM1437.7 2326.37H1471.92V2332.15H1437.7zM1454.51 2321.19H1471.92V2326.97H1454.51zM1454.51 2305.64H1488.74V2321.79H1454.51zM1538.58 2274.56H1555.99V2290.7H1538.58zM1538.58 2233.1H1555.99V2249.25H1538.58zM1521.77 2212.38H1539.18V2228.52H1521.77zM243.9 2207.19H261.31V2218.16H243.9zM260.71 2202.01H278.13V2207.79H260.71zM1504.95 2196.83H1522.37V2212.98H1504.95zM277.53 2191.65H294.94V2197.43H277.53zM1488.14 2186.47H1505.55V2197.43H1488.14zM294.34 2181.29H311.76V2187.07H294.34zM311.16 2170.92H328.57V2181.89H311.16zM1471.32 2170.92H1488.74V2181.89H1471.32zM327.97 2165.74H345.38V2171.52H327.97zM344.78 2155.38H362.2V2166.34H344.78zM1454.51 2155.38H1471.92V2171.52H1454.51zM361.6 2150.2H379.01V2155.98H361.6zM378.41 2145.02H395.83V2150.8H378.41zM1437.7 2145.02H1455.11V2155.98H1437.7zM395.23 2134.65H412.64V2140.43H395.23zM1420.88 2134.65H1438.3V2145.62H1420.88zM412.04 2129.47H429.45V2135.25H412.04zM428.85 2124.29H446.27V2130.07H428.85zM1404.07 2124.29H1421.48V2135.25H1404.07zM445.67 2119.11H463.08V2124.89H445.67zM1387.25 2119.11H1404.67V2124.89H1387.25zM462.48 2113.93H479.9V2119.71H462.48zM1370.44 2113.93H1404.67V2119.71H1370.44zM479.3 2108.74H496.71V2114.53H479.3zM1370.44 2108.74H1387.85V2114.53H1370.44zM496.11 2103.56H530.34V2109.34H496.11zM1353.63 2103.56H1371.04V2109.34H1353.63zM512.92 2098.38H563.97V2104.16H512.92zM1336.81 2098.38H1371.04V2104.16H1336.81zM546.55 2091.7H597.59V2098.98H546.55zM1320 2091.7H1354.23V2098.98H1320z"/>
<path fill="#64cd6f" d="M1572.21 2611.36H1589.62V2684.5H1572.21zM1555.39 2538.82H1572.81V2575.69H1555.39zM1538.58 2507.73H1555.99V2529.05H1538.58zM1521.77 2476.64H1539.18V2497.96H1521.77zM1504.95 2445.55H1522.37V2466.87H1504.95zM1488.14 2424.82H1505.55V2440.97H1488.14zM1471.32 2409.28H1488.74V2420.24H1471.32zM1454.51 2393.73H1471.92V2409.88H1454.51zM1437.7 2341.92H1455.11V2389.15H1437.7zM1437.7 2336.73H1471.92V2342.52H1437.7zM1454.51 2331.55H1488.74V2337.33H1454.51zM1471.32 2321.19H1505.55V2332.15H1471.32zM1488.14 2305.64H1505.55V2321.79H1488.14zM1538.58 2290.1H1555.99V2295.88H1538.58zM1555.39 2243.47H1572.81V2280.34H1555.39zM1538.58 2217.56H1555.99V2233.7H1538.58zM243.9 2202.01H261.31V2207.79H243.9zM1521.77 2202.01H1539.18V2212.98H1521.77zM260.71 2191.65H278.13V2202.61H260.71zM277.53 2186.47H294.94V2192.25H277.53zM1504.95 2186.47H1522.37V2197.43H1504.95zM294.34 2176.11H311.76V2181.89H294.34zM1488.14 2170.92H1505.55V2187.07H1488.14zM311.16 2165.74H328.57V2171.52H311.16zM327.97 2160.56H345.38V2166.34H327.97zM1471.32 2155.38H1488.74V2171.52H1471.32zM344.78 2150.2H362.2V2155.98H344.78zM361.6 2145.02H379.01V2150.8H361.6zM1454.51 2145.02H1471.92V2155.98H1454.51zM378.41 2134.65H395.83V2145.62H378.41zM1437.7 2134.65H1455.11V2145.62H1437.7zM395.23 2129.47H412.64V2135.25H395.23zM1420.88 2129.47H1455.11V2135.25H1420.88zM412.04 2124.29H429.45V2130.07H412.04zM1420.88 2124.29H1438.3V2130.07H1420.88zM428.85 2119.11H446.27V2124.89H428.85zM1404.07 2119.11H1438.3V2124.89H1404.07zM428.85 2113.93H463.08V2119.71H428.85zM1404.07 2113.93H1421.48V2119.71H1404.07zM445.67 2108.74H479.9V2114.53H445.67zM1387.25 2108.74H1421.48V2114.53H1387.25zM462.48 2103.56H496.71V2109.34H462.48zM1370.44 2103.56H1404.67V2109.34H1370.44zM479.3 2098.38H513.52V2104.16H479.3zM1370.44 2098.38H1387.85V2104.16H1370.44zM512.92 2091.7H547.15V2098.98H512.92zM1353.63 2091.7H1371.04V2098.98H1353.63z"/>
<path fill="#67cd6c" d="M1589.02 2673.54H1606.44V2684.5H1589.02zM1572.21 2549.18H1589.62V2611.96H1572.21zM1555.39 2512.91H1572.81V2539.42H1555.39zM1538.58 2487H1555.99V2508.33H1538.58zM1521.77 2455.91H1539.18V2477.24H1521.77zM1504.95 2430H1522.37V2446.15H1504.95zM1488.14 2414.46H1505.55V2425.42H1488.14zM1471.32 2398.91H1488.74V2409.88H1471.32zM1454.51 2352.28H1471.92V2394.33H1454.51zM1454.51 2341.92H1488.74V2352.88H1454.51zM1471.32 2336.73H1505.55V2342.52H1471.32zM1488.14 2331.55H1522.37V2337.33H1488.14zM1504.95 2300.46H1522.37V2332.15H1504.95zM1555.39 2279.74H1572.81V2295.88H1555.39zM1572.21 2259.01H1589.62V2264.79H1572.21zM1555.39 2222.74H1572.81V2244.07H1555.39zM1538.58 2207.19H1555.99V2218.16H1538.58zM243.9 2196.83H261.31V2202.61H243.9zM260.71 2186.47H278.13V2192.25H260.71zM1521.77 2186.47H1539.18V2202.61H1521.77zM277.53 2176.11H294.94V2187.07H277.53zM1504.95 2170.92H1522.37V2187.07H1504.95zM294.34 2165.74H311.76V2176.71H294.34zM311.16 2160.56H328.57V2166.34H311.16zM1488.14 2160.56H1505.55V2171.52H1488.14zM327.97 2150.2H345.38V2161.16H327.97zM344.78 2145.02H362.2V2150.8H344.78zM1471.32 2145.02H1488.74V2155.98H1471.32zM361.6 2139.83H379.01V2145.62H361.6zM378.41 2129.47H395.83V2135.25H378.41zM1454.51 2129.47H1471.92V2145.62H1454.51zM395.23 2124.29H412.64V2130.07H395.23zM1437.7 2119.11H1455.11V2130.07H1437.7zM412.04 2113.93H429.45V2124.89H412.04zM428.85 2108.74H446.27V2114.53H428.85zM1420.88 2108.74H1438.3V2119.71H1420.88zM445.67 2103.56H463.08V2109.34H445.67zM1404.07 2103.56H1421.48V2109.34H1404.07zM462.48 2098.38H479.9V2104.16H462.48zM1387.25 2098.38H1421.48V2104.16H1387.25zM479.3 2091.7H513.52V2098.98H479.3zM1370.44 2091.7H1404.67V2098.98H1370.44z"/>
<path fill="#6bcd69" d="M1589.02 2564.72H1606.44V2674.14H1589.02zM1572.21 2523.27H1589.62V2549.78H1572.21zM1555.39 2492.18H1572.81V2513.51H1555.39zM1538.58 2466.27H1555.99V2487.6H1538.58zM1521.77 2435.18H1539.18V2456.51H1521.77zM1504.95 2414.46H1522.37V2430.6H1504.95zM1488.14 2404.09H1505.55V2415.06H1488.14zM1471.32 2362.64H1488.74V2399.51H1471.32zM1471.32 2352.28H1505.55V2363.24H1471.32zM1488.14 2341.92H1522.37V2352.88H1488.14zM1504.95 2336.73H1539.18V2342.52H1504.95zM1521.77 2331.55H1539.18V2337.33H1521.77zM1521.77 2310.83H1555.99V2332.15H1521.77zM1521.77 2300.46H1539.18V2311.43H1521.77zM1572.21 2264.19H1589.62V2280.34H1572.21zM1572.21 2233.1H1589.62V2259.61H1572.21zM1555.39 2207.19H1572.81V2223.34H1555.39zM243.9 2191.65H261.31V2197.43H243.9zM1538.58 2191.65H1555.99V2207.79H1538.58zM260.71 2181.29H278.13V2187.07H260.71zM1521.77 2176.11H1539.18V2187.07H1521.77zM277.53 2170.92H294.94V2176.71H277.53zM294.34 2160.56H311.76V2166.34H294.34zM1504.95 2160.56H1522.37V2171.52H1504.95zM311.16 2155.38H328.57V2161.16H311.16zM327.97 2145.02H345.38V2150.8H327.97zM1488.14 2145.02H1505.55V2161.16H1488.14zM344.78 2139.83H362.2V2145.62H344.78zM361.6 2129.47H379.01V2140.43H361.6zM1471.32 2129.47H1488.74V2145.62H1471.32zM378.41 2124.29H395.83V2130.07H378.41zM395.23 2119.11H412.64V2124.89H395.23zM1454.51 2119.11H1471.92V2130.07H1454.51zM1437.7 2113.93H1471.92V2119.71H1437.7zM412.04 2108.74H429.45V2114.53H412.04zM1437.7 2108.74H1455.11V2114.53H1437.7zM428.85 2103.56H446.27V2109.34H428.85zM1420.88 2103.56H1455.11V2109.34H1420.88zM445.67 2098.38H463.08V2104.16H445.67zM1420.88 2098.38H1438.3V2104.16H1420.88zM462.48 2091.7H479.9V2098.98H462.48zM1404.07 2091.7H1438.3V2098.98H1404.07z"/>
<path fill="#6ecd66" d="M1605.84 2600.99H1623.25V2684.5H1605.84zM1589.02 2528.45H1606.44V2565.32H1589.02zM1572.21 2497.36H1589.62V2523.87H1572.21zM1555.39 2476.64H1572.81V2492.78H1555.39zM1538.58 2445.55H1555.99V2466.87H1538.58zM1521.77 2414.46H1539.18V2435.78H1521.77zM1504.95 2404.09H1522.37V2415.06H1504.95zM1488.14 2367.82H1505.55V2404.69H1488.14zM1488.14 2362.64H1522.37V2368.42H1488.14zM1504.95 2357.46H1522.37V2363.24H1504.95zM1504.95 2352.28H1539.18V2358.06H1504.95zM1521.77 2341.92H1555.99V2352.88H1521.77zM1538.58 2331.55H1572.81V2342.52H1538.58zM1555.39 2310.83H1572.81V2332.15H1555.39zM1538.58 2295.28H1555.99V2311.43H1538.58zM1572.21 2279.74H1589.62V2290.7H1572.21zM1589.02 2248.65H1606.44V2269.97H1589.02zM1572.21 2217.56H1589.62V2233.7H1572.21zM1555.39 2196.83H1572.81V2207.79H1555.39zM243.9 2181.29H261.31V2192.25H243.9zM1538.58 2181.29H1555.99V2192.25H1538.58zM260.71 2170.92H278.13V2181.89H260.71zM277.53 2165.74H294.94V2171.52H277.53zM1521.77 2160.56H1539.18V2176.71H1521.77zM294.34 2155.38H311.76V2161.16H294.34zM311.16 2145.02H328.57V2155.98H311.16zM1504.95 2145.02H1522.37V2161.16H1504.95zM327.97 2139.83H345.38V2145.62H327.97zM344.78 2134.65H362.2V2140.43H344.78zM1488.14 2129.47H1505.55V2145.62H1488.14zM361.6 2124.29H379.01V2130.07H361.6zM378.41 2119.11H395.83V2124.89H378.41zM1471.32 2113.93H1488.74V2130.07H1471.32zM395.23 2108.74H412.64V2119.71H395.23zM412.04 2103.56H429.45V2109.34H412.04zM1454.51 2103.56H1471.92V2114.53H1454.51zM428.85 2098.38H446.27V2104.16H428.85zM428.85 2091.7H463.08V2098.98H428.85zM1437.7 2091.7H1455.11V2104.16H1437.7z"/>
<path fill="#72cd64" d="M1605.84 2538.82H1623.25V2601.59H1605.84zM1589.02 2507.73H1606.44V2529.05H1589.02zM1572.21 2481.82H1589.62V2497.96H1572.21zM1555.39 2455.91H1572.81V2477.24H1555.39zM1538.58 2414.46H1555.99V2446.15H1538.58zM1521.77 2404.09H1539.18V2415.06H1521.77zM1504.95 2398.91H1539.18V2404.69H1504.95zM1504.95 2378.19H1522.37V2399.51H1504.95zM1504.95 2367.82H1539.18V2378.79H1504.95zM1521.77 2362.64H1555.99V2368.42H1521.77zM1521.77 2357.46H1572.81V2363.24H1521.77zM1538.58 2352.28H1572.81V2358.06H1538.58zM1555.39 2347.1H1572.81V2352.88H1555.39zM1555.39 2341.92H1589.62V2347.7H1555.39zM1572.21 2310.83H1589.62V2342.52H1572.21zM1555.39 2295.28H1572.81V2311.43H1555.39zM1589.02 2269.37H1606.44V2285.52H1589.02zM1589.02 2222.74H1606.44V2249.25H1589.02zM1572.21 2202.01H1589.62V2218.16H1572.21zM1555.39 2181.29H1572.81V2197.43H1555.39zM243.9 2176.11H261.31V2181.89H243.9zM260.71 2165.74H278.13V2171.52H260.71zM1538.58 2165.74H1555.99V2181.89H1538.58zM277.53 2155.38H294.94V2166.34H277.53zM294.34 2150.2H311.76V2155.98H294.34zM1521.77 2145.02H1539.18V2161.16H1521.77zM311.16 2139.83H328.57V2145.62H311.16zM327.97 2134.65H345.38V2140.43H327.97zM1504.95 2129.47H1522.37V2145.62H1504.95zM344.78 2124.29H362.2V2135.25H344.78zM361.6 2119.11H379.01V2124.89H361.6zM1488.14 2113.93H1505.55V2130.07H1488.14zM378.41 2108.74H395.83V2119.71H378.41zM395.23 2103.56H412.64V2109.34H395.23zM1471.32 2103.56H1488.74V2114.53H1471.32zM412.04 2098.38H429.45V2104.16H412.04zM1454.51 2098.38H1488.74V2104.16H1454.51zM1454.51 2091.7H1471.92V2098.98H1454.51z"/>
<path fill="#76cc61" d="M1622.65 2549.18H1640.06V2684.5H1622.65zM1605.84 2507.73H1623.25V2539.42H1605.84zM1589.02 2487H1606.44V2508.33H1589.02zM1572.21 2466.27H1589.62V2482.42H1572.21zM1555.39 2414.46H1572.81V2456.51H1555.39zM1538.58 2398.91H1572.81V2415.06H1538.58zM1521.77 2388.55H1589.62V2399.51H1521.77zM1521.77 2378.19H1606.44V2389.15H1521.77zM1538.58 2367.82H1589.62V2378.79H1538.58zM1555.39 2362.64H1589.62V2368.42H1555.39zM1572.21 2347.1H1606.44V2363.24H1572.21zM1589.02 2310.83H1606.44V2347.7H1589.02zM1572.21 2290.1H1589.62V2311.43H1572.21zM1589.02 2284.92H1606.44V2290.7H1589.02zM1605.84 2238.28H1623.25V2275.16H1605.84zM1589.02 2207.19H1606.44V2223.34H1589.02zM1572.21 2186.47H1589.62V2202.61H1572.21zM1555.39 2170.92H1572.81V2181.89H1555.39zM243.9 2165.74H261.31V2176.71H243.9zM260.71 2160.56H278.13V2166.34H260.71zM277.53 2150.2H294.94V2155.98H277.53zM1538.58 2150.2H1555.99V2166.34H1538.58zM294.34 2145.02H311.76V2150.8H294.34zM311.16 2134.65H328.57V2140.43H311.16zM327.97 2129.47H345.38V2135.25H327.97zM1521.77 2129.47H1539.18V2145.62H1521.77zM344.78 2119.11H362.2V2124.89H344.78zM361.6 2113.93H379.01V2119.71H361.6zM1504.95 2113.93H1522.37V2130.07H1504.95zM1488.14 2108.74H1522.37V2114.53H1488.14zM378.41 2103.56H395.83V2109.34H378.41zM395.23 2098.38H412.64V2104.16H395.23zM1488.14 2098.38H1505.55V2109.34H1488.14zM412.04 2091.7H429.45V2098.98H412.04zM1471.32 2091.7H1488.74V2098.98H1471.32z"/>
<path fill="#79cc5e" d="M1639.46 2564.72H1656.88V2684.5H1639.46zM1622.65 2512.91H1640.06V2549.78H1622.65zM1605.84 2487H1623.25V2508.33H1605.84zM1589.02 2471.46H1606.44V2487.6H1589.02zM1572.21 2409.28H1589.62V2466.87H1572.21zM1572.21 2398.91H1606.44V2409.88H1572.21zM1589.02 2388.55H1623.25V2399.51H1589.02zM1605.84 2378.19H1623.25V2389.15H1605.84zM1589.02 2362.64H1623.25V2378.79H1589.02zM1605.84 2310.83H1623.25V2363.24H1605.84zM1589.02 2290.1H1606.44V2311.43H1589.02zM1605.84 2274.56H1623.25V2285.52H1605.84zM1605.84 2212.38H1623.25V2238.88H1605.84zM1589.02 2191.65H1606.44V2207.79H1589.02zM1572.21 2170.92H1589.62V2187.07H1572.21zM243.9 2160.56H261.31V2166.34H243.9zM1555.39 2155.38H1572.81V2171.52H1555.39zM260.71 2150.2H278.13V2161.16H260.71zM277.53 2145.02H294.94V2150.8H277.53zM294.34 2134.65H311.76V2145.62H294.34zM311.16 2129.47H328.57V2135.25H311.16zM1538.58 2129.47H1555.99V2150.8H1538.58zM327.97 2124.29H345.38V2130.07H327.97zM344.78 2113.93H362.2V2119.71H344.78zM361.6 2108.74H379.01V2114.53H361.6zM1521.77 2108.74H1539.18V2130.07H1521.77zM378.41 2098.38H395.83V2104.16H378.41zM1504.95 2098.38H1522.37V2109.34H1504.95zM395.23 2091.7H412.64V2098.98H395.23zM1488.14 2091.7H1522.37V2098.98H1488.14z"/>
<path fill="#7dcc5b" d="M1639.46 2523.27H1656.88V2565.32H1639.46zM1622.65 2492.18H1640.06V2513.51H1622.65zM1605.84 2471.46H1623.25V2487.6H1605.84zM1589.02 2450.73H1606.44V2472.06H1589.02zM1589.02 2414.46H1606.44V2435.78H1589.02zM1589.02 2409.28H1623.25V2415.06H1589.02zM1605.84 2398.91H1623.25V2409.88H1605.84zM1622.65 2310.83H1640.06V2399.51H1622.65zM1605.84 2284.92H1623.25V2311.43H1605.84zM1622.65 2222.74H1640.06V2280.34H1622.65zM1605.84 2196.83H1623.25V2212.98H1605.84zM1589.02 2176.11H1606.44V2192.25H1589.02zM243.9 2155.38H261.31V2161.16H243.9zM1572.21 2155.38H1589.62V2171.52H1572.21zM260.71 2145.02H278.13V2150.8H260.71zM277.53 2139.83H294.94V2145.62H277.53zM1555.39 2134.65H1572.81V2155.98H1555.39zM294.34 2129.47H311.76V2135.25H294.34zM311.16 2124.29H328.57V2130.07H311.16zM327.97 2113.93H345.38V2124.89H327.97zM1538.58 2113.93H1555.99V2130.07H1538.58zM344.78 2108.74H362.2V2114.53H344.78zM361.6 2098.38H379.01V2109.34H361.6zM378.41 2091.7H395.83V2098.98H378.41zM1521.77 2091.7H1539.18V2109.34H1521.77z"/>
<path fill="#81cc59" d="M1656.28 2533.63H1673.69V2684.5H1656.28zM1639.46 2492.18H1656.88V2523.87H1639.46zM1622.65 2471.46H1640.06V2492.78H1622.65zM1605.84 2455.91H1623.25V2472.06H1605.84zM1589.02 2435.18H1606.44V2451.33H1589.02zM1605.84 2414.46H1623.25V2430.6H1605.84zM1622.65 2404.09H1640.06V2415.06H1622.65zM1622.65 2398.91H1656.88V2404.69H1622.65zM1639.46 2388.55H1656.88V2399.51H1639.46zM1639.46 2352.28H1673.69V2389.15H1639.46zM1639.46 2310.83H1656.88V2352.88H1639.46zM1622.65 2290.1H1640.06V2311.43H1622.65zM1622.65 2279.74H1640.06V2285.52H1622.65zM1622.65 2202.01H1640.06V2223.34H1622.65zM1605.84 2181.29H1623.25V2197.43H1605.84zM1589.02 2160.56H1606.44V2176.71H1589.02zM243.9 2145.02H261.31V2155.98H243.9zM260.71 2139.83H278.13V2145.62H260.71zM1572.21 2139.83H1589.62V2155.98H1572.21zM277.53 2134.65H294.94V2140.43H277.53zM294.34 2124.29H311.76V2130.07H294.34zM311.16 2119.11H328.57V2124.89H311.16zM1555.39 2113.93H1572.81V2135.25H1555.39zM327.97 2108.74H345.38V2114.53H327.97zM344.78 2103.56H362.2V2109.34H344.78zM361.6 2091.7H379.01V2098.98H361.6zM1538.58 2091.7H1555.99V2114.53H1538.58z"/>
<path fill="#84cc56" d="M1673.09 2559.54H1690.51V2684.5H1673.09zM1656.28 2492.18H1673.69V2534.23H1656.28zM1639.46 2487H1673.69V2492.78H1639.46zM1639.46 2471.46H1656.88V2487.6H1639.46zM1622.65 2461.09H1640.06V2472.06H1622.65zM1605.84 2435.18H1623.25V2456.51H1605.84zM1605.84 2430H1640.06V2435.78H1605.84zM1622.65 2419.64H1640.06V2430.6H1622.65zM1622.65 2414.46H1656.88V2420.24H1622.65zM1639.46 2409.28H1656.88V2415.06H1639.46zM1639.46 2404.09H1673.69V2409.88H1639.46zM1656.28 2388.55H1673.69V2404.69H1656.28zM1673.09 2352.28H1690.51V2389.15H1673.09zM1656.28 2310.83H1673.69V2352.88H1656.28zM1639.46 2290.1H1656.88V2311.43H1639.46zM1622.65 2284.92H1640.06V2290.7H1622.65zM1639.46 2212.38H1656.88V2280.34H1639.46zM1622.65 2186.47H1640.06V2202.61H1622.65zM1605.84 2165.74H1623.25V2181.89H1605.84zM1589.02 2145.02H1606.44V2161.16H1589.02zM243.9 2139.83H261.31V2145.62H243.9zM260.71 2134.65H278.13V2140.43H260.71zM277.53 2124.29H294.94V2135.25H277.53zM294.34 2119.11H311.76V2124.89H294.34zM1572.21 2119.11H1589.62V2140.43H1572.21zM311.16 2113.93H328.57V2119.71H311.16zM327.97 2103.56H345.38V2109.34H327.97zM344.78 2098.38H362.2V2104.16H344.78zM1555.39 2091.7H1572.81V2114.53H1555.39z"/>
<path fill="#88cb53" d="M1689.91 2595.81H1707.32V2653.41H1689.91zM1673.09 2487H1690.51V2560.14H1673.09zM1656.28 2471.46H1673.69V2487.6H1656.28zM1639.46 2461.09H1656.88V2472.06H1639.46zM1622.65 2455.91H1656.88V2461.69H1622.65zM1622.65 2435.18H1640.06V2456.51H1622.65zM1639.46 2424.82H1656.88V2435.78H1639.46zM1639.46 2419.64H1673.69V2425.42H1639.46zM1656.28 2414.46H1673.69V2420.24H1656.28zM1656.28 2409.28H1690.51V2415.06H1656.28zM1673.09 2393.73H1690.51V2409.88H1673.09zM1673.09 2388.55H1707.32V2394.33H1673.09zM1689.91 2352.28H1707.32V2389.15H1689.91zM1673.09 2316.01H1690.51V2352.88H1673.09zM1656.28 2290.1H1673.69V2311.43H1656.28zM1639.46 2279.74H1656.88V2290.7H1639.46zM1656.28 2233.1H1673.69V2254.43H1656.28zM1639.46 2191.65H1656.88V2212.98H1639.46zM1622.65 2170.92H1640.06V2187.07H1622.65zM1605.84 2150.2H1623.25V2166.34H1605.84zM243.9 2134.65H261.31V2140.43H243.9zM260.71 2129.47H278.13V2135.25H260.71zM1589.02 2124.29H1606.44V2145.62H1589.02zM277.53 2119.11H294.94V2124.89H277.53zM294.34 2113.93H311.76V2119.71H294.34zM311.16 2108.74H328.57V2114.53H311.16zM327.97 2098.38H345.38V2104.16H327.97zM1572.21 2098.38H1589.62V2119.71H1572.21zM344.78 2091.7H362.2V2098.98H344.78z"/>
<path fill="#8bcb51" d="M1689.91 2652.81H1707.32V2684.5H1689.91zM1706.72 2600.99H1724.14V2643.05H1706.72zM1689.91 2487H1707.32V2596.41H1689.91zM1673.09 2476.64H1707.32V2487.6H1673.09zM1673.09 2471.46H1690.51V2477.24H1673.09zM1656.28 2461.09H1690.51V2472.06H1656.28zM1656.28 2455.91H1673.69V2461.69H1656.28zM1639.46 2435.18H1673.69V2456.51H1639.46zM1656.28 2424.82H1690.51V2435.78H1656.28zM1673.09 2419.64H1690.51V2425.42H1673.09zM1673.09 2414.46H1707.32V2420.24H1673.09zM1689.91 2398.91H1707.32V2415.06H1689.91zM1689.91 2393.73H1724.14V2399.51H1689.91zM1706.72 2357.46H1724.14V2394.33H1706.72zM1689.91 2316.01H1707.32V2352.88H1689.91zM1673.09 2295.28H1690.51V2316.61H1673.09zM1656.28 2253.83H1673.69V2290.7H1656.28zM1656.28 2202.01H1673.69V2233.7H1656.28zM1639.46 2176.11H1656.88V2192.25H1639.46zM1622.65 2155.38H1640.06V2171.52H1622.65zM243.9 2129.47H261.31V2135.25H243.9zM1605.84 2129.47H1623.25V2150.8H1605.84zM260.71 2124.29H278.13V2130.07H260.71zM277.53 2113.93H294.94V2119.71H277.53zM294.34 2108.74H311.76V2114.53H294.34zM311.16 2098.38H328.57V2109.34H311.16zM1589.02 2098.38H1606.44V2124.89H1589.02zM327.97 2091.7H345.38V2098.98H327.97zM1572.21 2091.7H1589.62V2098.98H1572.21z"/>
<path fill="#8fcb4e" d="M1706.72 2642.45H1724.14V2674.14H1706.72zM1723.54 2600.99H1740.95V2643.05H1723.54zM1706.72 2580.27H1724.14V2601.59H1706.72zM1706.72 2523.27H1724.14V2549.78H1706.72zM1706.72 2481.82H1740.95V2523.87H1706.72zM1706.72 2476.64H1724.14V2482.42H1706.72zM1689.91 2461.09H1724.14V2477.24H1689.91zM1673.09 2435.18H1724.14V2461.69H1673.09zM1689.91 2419.64H1724.14V2435.78H1689.91zM1706.72 2409.28H1724.14V2420.24H1706.72zM1706.72 2398.91H1740.95V2409.88H1706.72zM1723.54 2362.64H1740.95V2399.51H1723.54zM1706.72 2321.19H1724.14V2358.06H1706.72zM1689.91 2295.28H1707.32V2316.61H1689.91zM1673.09 2274.56H1690.51V2295.88H1673.09zM1673.09 2212.38H1690.51V2269.97H1673.09zM1656.28 2186.47H1673.69V2202.61H1656.28zM1639.46 2160.56H1656.88V2176.71H1639.46zM1622.65 2134.65H1640.06V2155.98H1622.65zM243.9 2124.29H261.31V2130.07H243.9zM260.71 2119.11H278.13V2124.89H260.71zM277.53 2108.74H294.94V2114.53H277.53zM294.34 2103.56H311.76V2109.34H294.34zM1605.84 2103.56H1623.25V2130.07H1605.84zM311.16 2091.7H328.57V2098.98H311.16zM1589.02 2091.7H1606.44V2098.98H1589.02z"/>
<path fill="#93ca4b" d="M1706.72 2673.54H1724.14V2684.5H1706.72zM1723.54 2642.45H1740.95V2663.77H1723.54zM1740.35 2600.99H1757.76V2643.05H1740.35zM1723.54 2580.27H1740.95V2601.59H1723.54zM1706.72 2549.18H1724.14V2580.87H1706.72zM1723.54 2533.63H1740.95V2549.78H1723.54zM1723.54 2523.27H1757.76V2534.23H1723.54zM1740.35 2481.82H1757.76V2523.87H1740.35zM1723.54 2466.27H1757.76V2482.42H1723.54zM1723.54 2440.37H1774.58V2466.87H1723.54zM1723.54 2409.28H1757.76V2440.97H1723.54zM1740.35 2373.01H1757.76V2409.88H1740.35zM1723.54 2326.37H1740.95V2363.24H1723.54zM1706.72 2300.46H1724.14V2321.79H1706.72zM1689.91 2279.74H1707.32V2295.88H1689.91zM1673.09 2269.37H1690.51V2275.16H1673.09zM1673.09 2191.65H1690.51V2212.98H1673.09zM1656.28 2170.92H1673.69V2187.07H1656.28zM1639.46 2145.02H1656.88V2161.16H1639.46zM243.9 2119.11H261.31V2124.89H243.9zM260.71 2113.93H278.13V2119.71H260.71zM1622.65 2108.74H1640.06V2135.25H1622.65zM277.53 2103.56H294.94V2109.34H277.53zM294.34 2098.38H311.76V2104.16H294.34zM1605.84 2091.7H1623.25V2104.16H1605.84z"/>
<path fill="#96ca48" d="M1723.54 2663.17H1740.95V2684.5H1723.54zM1740.35 2642.45H1757.76V2663.77H1740.35zM1757.16 2600.99H1774.58V2643.05H1757.16zM1740.35 2590.63H1774.58V2601.59H1740.35zM1740.35 2580.27H1757.76V2591.23H1740.35zM1723.54 2569.91H1740.95V2580.87H1723.54zM1807.61 2559.54H1825.02V2570.51H1807.61zM1723.54 2549.18H1740.95V2560.14H1723.54zM1740.35 2544H1757.76V2549.78H1740.35zM1740.35 2533.63H1774.58V2544.6H1740.35zM1757.16 2528.45H1774.58V2534.23H1757.16zM1757.16 2466.27H1791.39V2529.05H1757.16zM1773.98 2461.09H1791.39V2466.87H1773.98zM1773.98 2445.55H1808.21V2461.69H1773.98zM1773.98 2440.37H1791.39V2446.15H1773.98zM1757.16 2424.82H1791.39V2440.97H1757.16zM1757.16 2378.19H1774.58V2425.42H1757.16zM1740.35 2331.55H1757.76V2373.61H1740.35zM1723.54 2305.64H1740.95V2326.97H1723.54zM1706.72 2279.74H1724.14V2301.06H1706.72zM1689.91 2196.83H1707.32V2280.34H1689.91zM1673.09 2176.11H1690.51V2192.25H1673.09zM1656.28 2150.2H1673.69V2171.52H1656.28zM1639.46 2119.11H1656.88V2145.62H1639.46zM243.9 2113.93H261.31V2119.71H243.9zM260.71 2103.56H278.13V2114.53H260.71zM277.53 2098.38H294.94V2104.16H277.53zM294.34 2091.7H311.76V2098.98H294.34zM1622.65 2091.7H1640.06V2109.34H1622.65z"/>
<path fill="#9ac946" d="M1740.35 2668.36H1757.76V2679.32H1740.35zM1740.35 2663.17H1774.58V2668.96H1740.35zM1757.16 2652.81H1774.58V2663.77H1757.16zM1757.16 2642.45H1791.39V2653.41H1757.16zM1773.98 2600.99H1791.39V2643.05H1773.98zM1773.98 2590.63H1808.21V2601.59H1773.98zM1757.16 2585.45H1808.21V2591.23H1757.16zM1757.16 2580.27H1825.02V2586.05H1757.16zM1740.35 2569.91H1841.83V2580.87H1740.35zM1723.54 2564.72H1740.95V2570.51H1723.54zM1824.42 2564.72H1841.83V2570.51H1824.42zM1723.54 2559.54H1757.76V2565.32H1723.54zM1773.98 2559.54H1808.21V2570.51H1773.98zM1824.42 2559.54H1858.65V2565.32H1824.42zM1740.35 2549.18H1841.83V2560.14H1740.35zM1757.16 2544H1825.02V2549.78H1757.16zM1773.98 2533.63H1825.02V2544.6H1773.98zM1773.98 2528.45H1808.21V2534.23H1773.98zM1790.79 2487H1808.21V2529.05H1790.79zM1790.79 2461.09H1825.02V2487.6H1790.79zM1807.61 2445.55H1825.02V2461.69H1807.61zM1790.79 2435.18H1825.02V2446.15H1790.79zM1790.79 2424.82H1808.21V2435.78H1790.79zM1773.98 2419.64H1808.21V2425.42H1773.98zM1773.98 2383.37H1791.39V2420.24H1773.98zM1757.16 2336.73H1774.58V2378.79H1757.16zM1740.35 2305.64H1757.76V2332.15H1740.35zM1723.54 2284.92H1740.95V2306.24H1723.54zM1706.72 2264.19H1724.14V2280.34H1706.72zM1706.72 2207.19H1724.14V2259.61H1706.72zM1689.91 2181.29H1707.32V2197.43H1689.91zM1673.09 2155.38H1690.51V2176.71H1673.09zM1656.28 2124.29H1673.69V2150.8H1656.28zM243.9 2108.74H261.31V2114.53H243.9zM260.71 2098.38H278.13V2104.16H260.71zM277.53 2091.7H294.94V2098.98H277.53zM1639.46 2091.7H1656.88V2119.71H1639.46z"/>
<path fill="#9dc943" d="M1740.35 2678.72H1774.58V2684.5H1740.35zM1790.79 2678.72H1841.83V2684.5H1790.79zM1757.16 2673.54H1825.02V2679.32H1757.16zM1757.16 2668.36H1808.21V2674.14H1757.16zM1773.98 2652.81H1808.21V2668.96H1773.98zM1790.79 2621.72H1808.21V2653.41H1790.79zM1790.79 2600.99H1825.02V2622.32H1790.79zM1807.61 2595.81H1825.02V2601.59H1807.61zM1807.61 2585.45H1841.83V2596.41H1807.61zM1824.42 2580.27H1858.65V2586.05H1824.42zM1841.23 2569.91H1858.65V2580.87H1841.23zM1740.35 2564.72H1774.58V2570.51H1740.35zM1841.23 2564.72H1875.46V2570.51H1841.23zM1757.16 2559.54H1774.58V2565.32H1757.16zM1858.05 2559.54H1875.46V2565.32H1858.05zM1841.23 2549.18H1858.65V2560.14H1841.23zM1824.42 2538.82H1858.65V2549.78H1824.42zM1824.42 2533.63H1841.83V2539.42H1824.42zM1807.61 2487H1841.83V2534.23H1807.61zM1824.42 2435.18H1841.83V2487.6H1824.42zM1807.61 2419.64H1825.02V2435.78H1807.61zM1790.79 2414.46H1825.02V2420.24H1790.79zM1790.79 2388.55H1808.21V2415.06H1790.79zM1773.98 2341.92H1791.39V2383.97H1773.98zM1757.16 2310.83H1774.58V2337.33H1757.16zM1740.35 2290.1H1757.76V2306.24H1740.35zM1723.54 2264.19H1740.95V2285.52H1723.54zM1706.72 2259.01H1724.14V2264.79H1706.72zM1706.72 2186.47H1724.14V2207.79H1706.72zM1689.91 2165.74H1707.32V2181.89H1689.91zM1673.09 2134.65H1690.51V2155.98H1673.09zM243.9 2103.56H261.31V2109.34H243.9zM1656.28 2098.38H1673.69V2124.89H1656.28zM260.71 2091.7H278.13V2098.98H260.71z"/>
<path fill="#a1c840" d="M1773.98 2678.72H1791.39V2684.5H1773.98zM1841.23 2678.72H1858.65V2684.5H1841.23zM1824.42 2673.54H1858.65V2679.32H1824.42zM1807.61 2652.81H1841.83V2674.14H1807.61zM1807.61 2637.27H1825.02V2653.41H1807.61zM1807.61 2621.72H1841.83V2637.87H1807.61zM1824.42 2600.99H1841.83V2622.32H1824.42zM1824.42 2595.81H1858.65V2601.59H1824.42zM1841.23 2585.45H1858.65V2596.41H1841.23zM1858.05 2569.91H1875.46V2586.05H1858.05zM1858.05 2538.82H1875.46V2560.14H1858.05zM1841.23 2528.45H1875.46V2539.42H1841.23zM1841.23 2435.18H1858.65V2529.05H1841.23zM1824.42 2430H1858.65V2435.78H1824.42zM1824.42 2414.46H1841.83V2430.6H1824.42zM1807.61 2393.73H1825.02V2415.06H1807.61zM1790.79 2352.28H1808.21V2389.15H1790.79zM1773.98 2316.01H1791.39V2342.52H1773.98zM1757.16 2290.1H1774.58V2311.43H1757.16zM1740.35 2269.37H1757.76V2290.7H1740.35zM1723.54 2196.83H1740.95V2264.79H1723.54zM1706.72 2170.92H1724.14V2187.07H1706.72zM1689.91 2145.02H1707.32V2166.34H1689.91zM1673.09 2108.74H1690.51V2135.25H1673.09zM243.9 2091.7H261.31V2104.16H243.9zM1656.28 2091.7H1673.69V2098.98H1656.28z"/>
<path fill="#a4c83e" d="M1858.05 2673.54H1875.46V2684.5H1858.05zM1841.23 2668.36H1875.46V2674.14H1841.23zM1841.23 2652.81H1858.65V2668.96H1841.23zM1824.42 2637.27H1858.65V2653.41H1824.42zM1841.23 2606.18H1858.65V2637.87H1841.23zM1841.23 2600.99H1875.46V2606.78H1841.23zM1858.05 2590.63H1875.46V2601.59H1858.05zM1858.05 2585.45H1892.28V2591.23H1858.05zM1874.86 2528.45H1892.28V2586.05H1874.86zM1858.05 2518.09H1892.28V2529.05H1858.05zM1858.05 2481.82H1875.46V2518.69H1858.05zM1858.05 2461.09H1892.28V2482.42H1858.05zM1858.05 2430H1875.46V2461.69H1858.05zM1841.23 2414.46H1858.65V2430.6H1841.23zM1824.42 2393.73H1841.83V2415.06H1824.42zM1807.61 2362.64H1825.02V2394.33H1807.61zM1790.79 2321.19H1808.21V2352.88H1790.79zM1773.98 2295.28H1791.39V2316.61H1773.98zM1757.16 2269.37H1774.58V2290.7H1757.16zM1740.35 2202.01H1757.76V2269.97H1740.35zM1723.54 2176.11H1740.95V2197.43H1723.54zM1706.72 2150.2H1724.14V2171.52H1706.72zM1689.91 2113.93H1707.32V2145.62H1689.91zM1673.09 2091.7H1690.51V2109.34H1673.09z"/>
<path fill="#a7c73c" d="M1874.86 2668.36H1892.28V2684.5H1874.86zM1858.05 2611.36H1875.46V2668.96H1858.05zM1858.05 2606.18H1892.28V2611.96H1858.05zM1874.86 2590.63H1892.28V2606.78H1874.86zM1891.68 2518.09H1909.09V2591.23H1891.68zM1874.86 2481.82H1909.09V2518.69H1874.86zM1891.68 2461.09H1909.09V2482.42H1891.68zM1874.86 2455.91H1909.09V2461.69H1874.86zM1874.86 2430H1892.28V2456.51H1874.86zM1858.05 2414.46H1875.46V2430.6H1858.05zM1841.23 2398.91H1858.65V2415.06H1841.23zM1824.42 2373.01H1841.83V2394.33H1824.42zM1807.61 2331.55H1825.02V2363.24H1807.61zM1790.79 2300.46H1808.21V2321.79H1790.79zM1773.98 2274.56H1791.39V2295.88H1773.98zM1757.16 2253.83H1774.58V2269.97H1757.16zM1740.35 2186.47H1757.76V2202.61H1740.35zM1723.54 2160.56H1740.95V2176.71H1723.54zM1706.72 2124.29H1724.14V2150.8H1706.72zM1689.91 2091.7H1707.32V2114.53H1689.91z"/>
<path fill="#abc739" d="M1891.68 2678.72H1909.09V2684.5H1891.68zM1874.86 2616.54H1892.28V2668.96H1874.86zM1874.86 2611.36H1909.09V2617.14H1874.86zM1891.68 2590.63H1909.09V2611.96H1891.68zM1908.49 2455.91H1925.9V2586.05H1908.49zM1891.68 2435.18H1909.09V2456.51H1891.68zM1874.86 2419.64H1892.28V2430.6H1874.86zM1858.05 2398.91H1875.46V2415.06H1858.05zM1841.23 2378.19H1858.65V2399.51H1841.23zM1824.42 2341.92H1841.83V2373.61H1824.42zM1807.61 2305.64H1825.02V2332.15H1807.61zM1790.79 2279.74H1808.21V2301.06H1790.79zM1773.98 2253.83H1791.39V2275.16H1773.98zM1757.16 2191.65H1774.58V2254.43H1757.16zM1740.35 2165.74H1757.76V2187.07H1740.35zM1723.54 2134.65H1740.95V2161.16H1723.54zM1706.72 2098.38H1724.14V2124.89H1706.72z"/>
<path fill="#aec637" d="M1891.68 2616.54H1909.09V2679.32H1891.68zM1908.49 2585.45H1925.9V2617.14H1908.49zM1925.3 2461.09H1942.72V2575.69H1925.3zM1908.49 2435.18H1925.9V2456.51H1908.49zM1891.68 2419.64H1909.09V2435.78H1891.68zM1874.86 2404.09H1892.28V2420.24H1874.86zM1858.05 2383.37H1875.46V2399.51H1858.05zM1841.23 2347.1H1858.65V2378.79H1841.23zM1824.42 2316.01H1841.83V2342.52H1824.42zM1807.61 2284.92H1825.02V2306.24H1807.61zM1790.79 2259.01H1808.21V2280.34H1790.79zM1773.98 2202.01H1791.39V2254.43H1773.98zM1757.16 2176.11H1774.58V2192.25H1757.16zM1740.35 2145.02H1757.76V2166.34H1740.35zM1723.54 2103.56H1740.95V2135.25H1723.54zM1706.72 2091.7H1724.14V2098.98H1706.72z"/>
<path fill="#b1c635" d="M1908.49 2616.54H1925.9V2684.5H1908.49zM1925.3 2575.09H1942.72V2617.14H1925.3zM1942.12 2466.27H1959.53V2549.78H1942.12zM1925.3 2435.18H1942.72V2461.69H1925.3zM1908.49 2419.64H1925.9V2435.78H1908.49zM1891.68 2404.09H1909.09V2420.24H1891.68zM1874.86 2388.55H1892.28V2404.69H1874.86zM1858.05 2357.46H1875.46V2383.97H1858.05zM1841.23 2321.19H1858.65V2347.7H1841.23zM1824.42 2290.1H1841.83V2316.61H1824.42zM1807.61 2264.19H1825.02V2285.52H1807.61zM1790.79 2217.56H1808.21V2259.61H1790.79zM1773.98 2181.29H1791.39V2202.61H1773.98zM1757.16 2155.38H1774.58V2176.71H1757.16zM1740.35 2108.74H1757.76V2145.62H1740.35zM1723.54 2091.7H1740.95V2104.16H1723.54z"/>
<path fill="#b5c533" d="M1925.3 2616.54H1942.72V2684.5H1925.3zM1942.12 2549.18H1959.53V2611.96H1942.12zM1942.12 2435.18H1959.53V2466.87H1942.12zM1925.3 2419.64H1942.72V2435.78H1925.3zM1908.49 2409.28H1925.9V2420.24H1908.49zM1891.68 2388.55H1909.09V2404.69H1891.68zM1874.86 2367.82H1892.28V2389.15H1874.86zM1858.05 2331.55H1875.46V2358.06H1858.05zM1841.23 2295.28H1858.65V2321.79H1841.23zM1824.42 2269.37H1841.83V2290.7H1824.42zM1807.61 2243.47H1825.02V2264.79H1807.61zM1790.79 2191.65H1808.21V2218.16H1790.79zM1773.98 2160.56H1791.39V2181.89H1773.98zM1757.16 2119.11H1774.58V2155.98H1757.16zM1740.35 2091.7H1757.76V2109.34H1740.35z"/>
<path fill="#b8c431" d="M1942.12 2611.36H1959.53V2684.5H1942.12zM1958.93 2440.37H1976.35V2606.78H1958.93zM1942.12 2424.82H1959.53V2435.78H1942.12zM1925.3 2409.28H1942.72V2420.24H1925.3zM1908.49 2393.73H1925.9V2409.88H1908.49zM1891.68 2373.01H1909.09V2389.15H1891.68zM1874.86 2336.73H1892.28V2368.42H1874.86zM1858.05 2305.64H1875.46V2332.15H1858.05zM1841.23 2274.56H1858.65V2295.88H1841.23zM1824.42 2248.65H1841.83V2269.97H1824.42zM1807.61 2202.01H1825.02V2244.07H1807.61zM1790.79 2165.74H1808.21V2192.25H1790.79zM1773.98 2124.29H1791.39V2161.16H1773.98zM1757.16 2091.7H1774.58V2119.71H1757.16z"/>
<path fill="#bbc42f" d="M1958.93 2606.18H1976.35V2674.14H1958.93zM1975.75 2440.37H1993.16V2601.59H1975.75zM1958.93 2424.82H1976.35V2440.97H1958.93zM1942.12 2409.28H1959.53V2425.42H1942.12zM1925.3 2398.91H1942.72V2409.88H1925.3zM1908.49 2378.19H1925.9V2394.33H1908.49zM1891.68 2347.1H1909.09V2373.61H1891.68zM1874.86 2310.83H1892.28V2337.33H1874.86zM1858.05 2279.74H1875.46V2306.24H1858.05zM1841.23 2248.65H1858.65V2275.16H1841.23zM1824.42 2212.38H1841.83V2249.25H1824.42zM1807.61 2176.11H1825.02V2202.61H1807.61zM1790.79 2134.65H1808.21V2166.34H1790.79zM1773.98 2091.7H1791.39V2124.89H1773.98z"/>
<path fill="#bec32e" d="M1958.93 2673.54H1976.35V2684.5H1958.93zM1975.75 2600.99H1993.16V2663.77H1975.75zM1992.56 2445.55H2009.97V2570.51H1992.56zM1975.75 2430H1993.16V2440.97H1975.75zM1958.93 2414.46H1976.35V2425.42H1958.93zM1942.12 2398.91H1959.53V2409.88H1942.12zM1925.3 2383.37H1942.72V2399.51H1925.3zM1908.49 2352.28H1925.9V2378.79H1908.49zM1891.68 2316.01H1909.09V2347.7H1891.68zM1874.86 2284.92H1892.28V2311.43H1874.86zM1858.05 2253.83H1875.46V2280.34H1858.05zM1841.23 2227.92H1858.65V2249.25H1841.23zM1824.42 2186.47H1841.83V2212.98H1824.42zM1807.61 2145.02H1825.02V2176.71H1807.61zM1790.79 2091.7H1808.21V2135.25H1790.79z"/>
<path fill="#c1c32c" d="M1975.75 2663.17H1993.16V2684.5H1975.75zM1992.56 2569.91H2009.97V2658.59H1992.56zM2009.37 2455.91H2026.79V2560.14H2009.37zM1992.56 2430H2009.97V2446.15H1992.56zM1975.75 2414.46H1993.16V2430.6H1975.75zM1958.93 2398.91H1976.35V2415.06H1958.93zM1942.12 2383.37H1959.53V2399.51H1942.12zM1925.3 2357.46H1942.72V2383.97H1925.3zM1908.49 2326.37H1925.9V2352.88H1908.49zM1891.68 2290.1H1909.09V2316.61H1891.68zM1874.86 2259.01H1892.28V2285.52H1874.86zM1858.05 2227.92H1875.46V2254.43H1858.05zM1841.23 2196.83H1858.65V2228.52H1841.23zM1824.42 2155.38H1841.83V2187.07H1824.42zM1807.61 2098.38H1825.02V2145.62H1807.61z"/>
<path fill="#c5c22a" d="M1992.56 2657.99H2009.97V2684.5H1992.56zM2009.37 2559.54H2026.79V2653.41H2009.37zM2026.19 2461.09H2043.6V2544.6H2026.19zM2009.37 2435.18H2026.79V2456.51H2009.37zM1992.56 2414.46H2009.97V2430.6H1992.56zM1975.75 2404.09H1993.16V2415.06H1975.75zM1958.93 2388.55H1976.35V2399.51H1958.93zM1942.12 2362.64H1959.53V2383.97H1942.12zM1925.3 2331.55H1942.72V2358.06H1925.3zM1908.49 2295.28H1925.9V2326.97H1908.49zM1891.68 2259.01H1909.09V2290.7H1891.68zM1874.86 2233.1H1892.28V2259.61H1874.86zM1858.05 2207.19H1875.46V2228.52H1858.05zM1841.23 2160.56H1858.65V2197.43H1841.23zM1824.42 2098.38H1841.83V2155.98H1824.42zM1807.61 2091.7H1825.02V2098.98H1807.61z"/>
<path fill="#c8c129" d="M2009.37 2652.81H2026.79V2684.5H2009.37zM2026.19 2544H2043.6V2653.41H2026.19zM2043 2476.64H2060.42V2534.23H2043zM2026.19 2435.18H2043.6V2461.69H2026.19zM2009.37 2419.64H2026.79V2435.78H2009.37zM1992.56 2404.09H2009.97V2415.06H1992.56zM1975.75 2388.55H1993.16V2404.69H1975.75zM1958.93 2367.82H1976.35V2389.15H1958.93zM1942.12 2336.73H1959.53V2363.24H1942.12zM1925.3 2300.46H1942.72V2332.15H1925.3zM1908.49 2264.19H1925.9V2295.88H1908.49zM1891.68 2233.1H1909.09V2259.61H1891.68zM1874.86 2212.38H1892.28V2233.7H1874.86zM1858.05 2170.92H1875.46V2207.79H1858.05zM1841.23 2098.38H1858.65V2161.16H1841.23zM1824.42 2091.7H1841.83V2098.98H1824.42z"/>
<path fill="#cac129" d="M2026.19 2652.81H2043.6V2684.5H2026.19zM2043 2533.63H2060.42V2648.23H2043zM2043 2440.37H2060.42V2477.24H2043zM2026.19 2419.64H2043.6V2435.78H2026.19zM2009.37 2404.09H2026.79V2420.24H2009.37zM1992.56 2388.55H2009.97V2404.69H1992.56zM1975.75 2367.82H1993.16V2389.15H1975.75zM1958.93 2341.92H1976.35V2368.42H1958.93zM1942.12 2300.46H1959.53V2337.33H1942.12zM1925.3 2269.37H1942.72V2301.06H1925.3zM1908.49 2233.1H1925.9V2264.79H1908.49zM1891.68 2212.38H1909.09V2233.7H1891.68zM1874.86 2207.19H1909.09V2212.98H1874.86zM1874.86 2176.11H1892.28V2207.79H1874.86zM1858.05 2103.56H1875.46V2171.52H1858.05zM1841.23 2091.7H1858.65V2098.98H1841.23z"/>
<path fill="#cdc028" d="M2043 2647.63H2060.42V2684.5H2043zM2059.82 2450.73H2077.23V2643.05H2059.82zM2043 2424.82H2060.42V2440.97H2043zM2026.19 2404.09H2043.6V2420.24H2026.19zM2009.37 2388.55H2026.79V2404.69H2009.37zM1992.56 2367.82H2009.97V2389.15H1992.56zM1975.75 2341.92H1993.16V2368.42H1975.75zM1958.93 2305.64H1976.35V2342.52H1958.93zM1942.12 2269.37H1959.53V2301.06H1942.12zM1925.3 2233.1H1942.72V2269.97H1925.3zM1908.49 2207.19H1925.9V2233.7H1908.49zM1891.68 2186.47H1909.09V2207.79H1891.68zM1874.86 2103.56H1892.28V2176.71H1874.86zM1858.05 2091.7H1875.46V2104.16H1858.05z"/>
<path fill="#d0bf27" d="M2059.82 2642.45H2077.23V2684.5H2059.82zM2076.63 2455.91H2094.04V2637.87H2076.63zM2059.82 2424.82H2077.23V2451.33H2059.82zM2043 2404.09H2060.42V2425.42H2043zM2026.19 2388.55H2043.6V2404.69H2026.19zM2009.37 2367.82H2026.79V2389.15H2009.37zM1992.56 2341.92H2009.97V2368.42H1992.56zM1975.75 2305.64H1993.16V2342.52H1975.75zM1958.93 2269.37H1976.35V2306.24H1958.93zM1942.12 2233.1H1959.53V2269.97H1942.12zM1925.3 2207.19H1942.72V2233.7H1925.3zM1908.49 2202.01H1942.72V2207.79H1908.49zM1908.49 2196.83H1925.9V2202.61H1908.49zM1891.68 2108.74H1909.09V2187.07H1891.68zM1874.86 2091.7H1892.28V2104.16H1874.86z"/>
<path fill="#d3bf27" d="M2076.63 2637.27H2094.04V2684.5H2076.63zM2093.44 2466.27H2110.86V2632.68H2093.44zM2076.63 2430H2094.04V2456.51H2076.63zM2059.82 2409.28H2077.23V2425.42H2059.82zM2043 2388.55H2060.42V2404.69H2043zM2026.19 2367.82H2043.6V2389.15H2026.19zM2009.37 2341.92H2026.79V2368.42H2009.37zM1992.56 2305.64H2009.97V2342.52H1992.56zM1975.75 2269.37H1993.16V2306.24H1975.75zM1958.93 2233.1H1976.35V2269.97H1958.93zM1942.12 2202.01H1959.53V2233.7H1942.12zM1925.3 2196.83H1942.72V2202.61H1925.3zM1908.49 2191.65H1942.72V2197.43H1908.49zM1908.49 2124.29H1925.9V2192.25H1908.49zM1891.68 2091.7H1909.09V2109.34H1891.68z"/>
<path fill="#d6be28" d="M2093.44 2632.08H2110.86V2684.5H2093.44zM2110.26 2476.64H2127.67V2617.14H2110.26zM2093.44 2435.18H2110.86V2466.87H2093.44zM2076.63 2409.28H2094.04V2430.6H2076.63zM2059.82 2388.55H2077.23V2409.88H2059.82zM2043 2367.82H2060.42V2389.15H2043zM2026.19 2341.92H2043.6V2368.42H2026.19zM2009.37 2305.64H2026.79V2342.52H2009.37zM1992.56 2269.37H2009.97V2306.24H1992.56zM1975.75 2233.1H1993.16V2269.97H1975.75zM1958.93 2227.92H1993.16V2233.7H1958.93zM1958.93 2202.01H1976.35V2228.52H1958.93zM1942.12 2191.65H1959.53V2202.61H1942.12zM1925.3 2181.29H1959.53V2192.25H1925.3zM1925.3 2139.83H1942.72V2181.89H1925.3zM1908.49 2091.7H1925.9V2124.89H1908.49z"/>
<path fill="#d9be28" d="M2110.26 2616.54H2127.67V2684.5H2110.26zM2127.07 2492.18H2144.49V2570.51H2127.07zM2110.26 2440.37H2127.67V2477.24H2110.26zM2093.44 2409.28H2110.86V2435.78H2093.44zM2076.63 2388.55H2094.04V2409.88H2076.63zM2059.82 2367.82H2077.23V2389.15H2059.82zM2043 2362.64H2077.23V2368.42H2043zM2043 2341.92H2060.42V2363.24H2043zM2026.19 2336.73H2060.42V2342.52H2026.19zM2026.19 2305.64H2043.6V2337.33H2026.19zM2009.37 2300.46H2043.6V2306.24H2009.37zM2009.37 2269.37H2026.79V2301.06H2009.37zM1992.56 2264.19H2026.79V2269.97H1992.56zM1992.56 2227.92H2009.97V2264.79H1992.56zM1975.75 2202.01H1993.16V2228.52H1975.75zM1958.93 2196.83H1993.16V2202.61H1958.93zM1958.93 2181.29H1976.35V2197.43H1958.93zM1942.12 2176.11H1976.35V2181.89H1942.12zM1942.12 2145.02H1959.53V2176.71H1942.12zM1925.3 2091.7H1942.72V2140.43H1925.3z"/>
<path fill="#dbbd29" d="M2127.07 2569.91H2144.49V2684.5H2127.07zM2143.89 2512.91H2162.8V2539.42H2143.89zM2127.07 2450.73H2144.49V2492.78H2127.07zM2110.26 2409.28H2127.67V2440.97H2110.26zM2093.44 2388.55H2110.86V2409.88H2093.44zM2076.63 2383.37H2110.86V2389.15H2076.63zM2076.63 2362.64H2094.04V2383.97H2076.63zM2059.82 2336.73H2077.23V2363.24H2059.82zM2043 2331.55H2077.23V2337.33H2043zM2043 2300.46H2060.42V2332.15H2043zM2026.19 2295.28H2060.42V2301.06H2026.19zM2026.19 2264.19H2043.6V2295.88H2026.19zM2009.37 2259.01H2043.6V2264.79H2009.37zM2009.37 2227.92H2026.79V2259.61H2009.37zM1992.56 2217.56H2026.79V2228.52H1992.56zM1992.56 2196.83H2009.97V2218.16H1992.56zM1975.75 2191.65H2009.97V2197.43H1975.75zM1975.75 2176.11H1993.16V2192.25H1975.75zM1958.93 2170.92H1993.16V2176.71H1958.93zM1958.93 2145.02H1976.35V2171.52H1958.93zM1942.12 2091.7H1959.53V2145.62H1942.12z"/>
<path fill="#debd29" d="M2143.89 2538.82H2162.8V2684.5H2143.89zM2143.89 2455.91H2162.8V2513.51H2143.89zM2127.07 2409.28H2144.49V2451.33H2127.07zM2110.26 2383.37H2127.67V2409.88H2110.26zM2093.44 2362.64H2110.86V2383.97H2093.44zM2076.63 2357.46H2110.86V2363.24H2076.63zM2076.63 2331.55H2094.04V2358.06H2076.63zM2059.82 2326.37H2094.04V2332.15H2059.82zM2059.82 2295.28H2077.23V2326.97H2059.82zM2043 2290.1H2077.23V2295.88H2043zM2043 2259.01H2060.42V2290.7H2043zM2026.19 2248.65H2060.42V2259.61H2026.19zM2026.19 2217.56H2043.6V2249.25H2026.19zM2009.37 2212.38H2043.6V2218.16H2009.37zM2009.37 2191.65H2026.79V2212.98H2009.37zM1992.56 2186.47H2026.79V2192.25H1992.56zM1992.56 2170.92H2009.97V2187.07H1992.56zM1975.75 2165.74H2009.97V2171.52H1975.75zM1975.75 2145.02H1993.16V2166.34H1975.75zM1958.93 2091.7H1976.35V2145.62H1958.93z"/>
<path fill="#e0bc2b" d="M2143.89 2414.46H2162.8V2456.51H2143.89zM2127.07 2383.37H2144.49V2409.88H2127.07zM2110.26 2378.19H2144.49V2383.97H2110.26zM2110.26 2357.46H2127.67V2378.79H2110.26zM2093.44 2352.28H2127.67V2358.06H2093.44zM2093.44 2326.37H2110.86V2352.88H2093.44zM2076.63 2321.19H2110.86V2326.97H2076.63zM2076.63 2290.1H2094.04V2321.79H2076.63zM2059.82 2284.92H2094.04V2290.7H2059.82zM2059.82 2248.65H2077.23V2285.52H2059.82zM2043 2238.28H2077.23V2249.25H2043zM2043 2212.38H2060.42V2238.88H2043zM2026.19 2207.19H2060.42V2212.98H2026.19zM2026.19 2186.47H2043.6V2207.79H2026.19zM2009.37 2181.29H2043.6V2187.07H2009.37zM2009.37 2165.74H2026.79V2181.89H2009.37zM1992.56 2160.56H2026.79V2166.34H1992.56zM1992.56 2150.2H2009.97V2161.16H1992.56zM1975.75 2091.7H1993.16V2145.62H1975.75z"/>
<path fill="#e3bc2c" d="M2143.89 2378.19H2162.8V2415.06H2143.89zM2127.07 2352.28H2144.49V2378.79H2127.07zM2110.26 2347.1H2144.49V2352.88H2110.26zM2110.26 2321.19H2127.67V2347.7H2110.26zM2093.44 2316.01H2127.67V2321.79H2093.44zM2093.44 2284.92H2110.86V2316.61H2093.44zM2076.63 2274.56H2110.86V2285.52H2076.63zM2076.63 2238.28H2094.04V2275.16H2076.63zM2059.82 2227.92H2094.04V2238.88H2059.82zM2059.82 2207.19H2077.23V2228.52H2059.82zM2043 2202.01H2077.23V2207.79H2043zM2043 2181.29H2060.42V2202.61H2043zM2026.19 2160.56H2043.6V2181.89H2026.19zM2009.37 2150.2H2026.79V2161.16H2009.37zM1992.56 2145.02H2026.79V2150.8H1992.56zM1992.56 2091.7H2009.97V2145.62H1992.56z"/>
<path fill="#e5bb2d" d="M2143.89 2347.1H2162.8V2378.79H2143.89zM2127.07 2341.92H2162.8V2347.7H2127.07zM2127.07 2316.01H2144.49V2342.52H2127.07zM2110.26 2305.64H2144.49V2316.61H2110.26zM2110.26 2274.56H2127.67V2306.24H2110.26zM2093.44 2264.19H2127.67V2275.16H2093.44zM2093.44 2227.92H2110.86V2264.79H2093.44zM2076.63 2222.74H2110.86V2228.52H2076.63zM2076.63 2202.01H2094.04V2223.34H2076.63zM2059.82 2196.83H2094.04V2202.61H2059.82zM2059.82 2181.29H2077.23V2197.43H2059.82zM2043 2176.11H2077.23V2181.89H2043zM2043 2160.56H2060.42V2176.71H2043zM2026.19 2145.02H2043.6V2161.16H2026.19zM2009.37 2108.74H2026.79V2145.62H2009.37z"/>
<path fill="#e8bb2f" d="M2143.89 2305.64H2162.8V2342.52H2143.89zM2127.07 2295.28H2162.8V2306.24H2127.07zM2127.07 2264.19H2144.49V2295.88H2127.07zM2110.26 2253.83H2144.49V2264.79H2110.26zM2110.26 2222.74H2127.67V2254.43H2110.26zM2093.44 2212.38H2127.67V2223.34H2093.44zM2093.44 2196.83H2110.86V2212.98H2093.44zM2076.63 2191.65H2110.86V2197.43H2076.63zM2076.63 2176.11H2094.04V2192.25H2076.63zM2059.82 2170.92H2094.04V2176.71H2059.82zM2059.82 2160.56H2077.23V2171.52H2059.82zM2043 2155.38H2077.23V2161.16H2043zM2043 2145.02H2060.42V2155.98H2043zM2026.19 2113.93H2043.6V2145.62H2026.19zM2009.37 2091.7H2026.79V2109.34H2009.37z"/>
<path fill="#eaba31" d="M2143.89 2253.83H2162.8V2295.88H2143.89zM2127.07 2243.47H2162.8V2254.43H2127.07zM2127.07 2212.38H2144.49V2244.07H2127.07zM2110.26 2207.19H2144.49V2212.98H2110.26zM2110.26 2191.65H2127.67V2207.79H2110.26zM2093.44 2186.47H2127.67V2192.25H2093.44zM2093.44 2170.92H2110.86V2187.07H2093.44zM2076.63 2155.38H2094.04V2171.52H2076.63zM2059.82 2145.02H2077.23V2155.98H2059.82zM2043 2129.47H2060.42V2145.62H2043zM2043 2119.11H2060.42V2124.89H2043zM2026.19 2091.7H2043.6V2114.53H2026.19z"/>
<path fill="#ecba33" d="M2143.89 2207.19H2162.8V2244.07H2143.89zM2127.07 2202.01H2162.8V2207.79H2127.07zM2127.07 2186.47H2144.49V2202.61H2127.07zM2110.26 2170.92H2127.67V2187.07H2110.26zM2093.44 2155.38H2110.86V2171.52H2093.44zM2076.63 2145.02H2094.04V2155.98H2076.63zM2059.82 2139.83H2094.04V2145.62H2059.82zM2059.82 2129.47H2077.23V2140.43H2059.82zM2043 2124.29H2060.42V2130.07H2043zM2043 2091.7H2060.42V2119.71H2043z"/>
<path fill="#efba35" d="M2143.89 2186.47H2162.8V2202.61H2143.89zM2127.07 2181.29H2162.8V2187.07H2127.07zM2127.07 2170.92H2144.49V2181.89H2127.07zM2110.26 2165.74H2144.49V2171.52H2110.26zM2110.26 2155.38H2127.67V2166.34H2110.26zM2093.44 2139.83H2110.86V2155.98H2093.44zM2076.63 2129.47H2094.04V2140.43H2076.63zM2059.82 2113.93H2077.23V2130.07H2059.82zM2059.82 2098.38H2077.23V2109.34H2059.82z"/>
<path fill="#f1ba37" d="M2143.89 2165.74H2162.8V2181.89H2143.89zM2127.07 2155.38H2144.49V2166.34H2127.07zM2110.26 2150.2H2144.49V2155.98H2110.26zM2110.26 2139.83H2127.67V2150.8H2110.26zM2093.44 2129.47H2110.86V2140.43H2093.44zM2076.63 2113.93H2094.04V2130.07H2076.63zM2059.82 2108.74H2077.23V2114.53H2059.82zM2059.82 2091.7H2077.23V2098.98H2059.82z"/>
<path fill="#f3ba38" d="M2143.89 2150.2H2162.8V2166.34H2143.89zM2127.07 2139.83H2144.49V2150.8H2127.07zM2110.26 2129.47H2127.67V2140.43H2110.26zM2093.44 2113.93H2110.86V2130.07H2093.44zM2076.63 2091.7H2094.04V2114.53H2076.63z"/>
<path fill="#f5ba3a" d="M2143.89 2139.83H2162.8V2150.8H2143.89zM2127.07 2134.65H2162.8V2140.43H2127.07zM2127.07 2129.47H2144.49V2135.25H2127.07zM2110.26 2124.29H2144.49V2130.07H2110.26zM2110.26 2113.93H2127.67V2124.89H2110.26zM2093.44 2108.74H2127.67V2114.53H2093.44zM2093.44 2091.7H2110.86V2109.34H2093.44z"/>
<path fill="#f7ba3c" d="M2143.89 2124.29H2162.8V2135.25H2143.89zM2127.07 2119.11H2162.8V2124.89H2127.07zM2127.07 2108.74H2144.49V2119.71H2127.07zM2110.26 2091.7H2144.49V2109.34H2110.26z"/>
<path fill="#f9bb3d" d="M2143.89 2091.7H2162.8V2119.71H2143.89z"/></g>
<rect x="244.2" y="2092" width="1918.3" height="592.3" fill="none" stroke="#1c1c1c" stroke-width="1.7"/>
<text x="241" y="2764.8" font-size="60.0" text-anchor="middle" fill="#262626">-50</text>
<text x="432.5" y="2764.8" font-size="60.0" text-anchor="middle" fill="#262626">-40</text>
<text x="624" y="2764.8" font-size="60.0" text-anchor="middle" fill="#262626">-30</text>
<text x="815.5" y="2764.8" font-size="60.0" text-anchor="middle" fill="#262626">-20</text>
<text x="1007" y="2764.8" font-size="60.0" text-anchor="middle" fill="#262626">-10</text>
<text x="1201.7" y="2764.8" font-size="60.0" text-anchor="middle" fill="#262626">0</text>
<text x="1393.2" y="2764.8" font-size="60.0" text-anchor="middle" fill="#262626">10</text>
<text x="1584.7" y="2764.8" font-size="60.0" text-anchor="middle" fill="#262626">20</text>
<text x="1776.2" y="2764.8" font-size="60.0" text-anchor="middle" fill="#262626">30</text>
<text x="1967.7" y="2764.8" font-size="60.0" text-anchor="middle" fill="#262626">40</text>
<text x="2159.2" y="2764.8" font-size="60.0" text-anchor="middle" fill="#262626">50</text>
<text x="220.2" y="2705.2" font-size="60.0" text-anchor="end" fill="#262626">0</text>
<text x="220.2" y="2587.4" font-size="60.0" text-anchor="end" fill="#262626">10</text>
<text x="220.2" y="2469.6" font-size="60.0" text-anchor="end" fill="#262626">20</text>
<text x="220.2" y="2351.8" font-size="60.0" text-anchor="end" fill="#262626">30</text>
<text x="220.2" y="2234" font-size="60.0" text-anchor="end" fill="#262626">40</text>
<text x="220.2" y="2116.2" font-size="60.0" text-anchor="end" fill="#262626">50</text>
<text font-size="66.0" fill="#262626"><tspan x="989" y="2847.9" font-family="'Liberation Serif', serif" font-style="italic" font-size="66">θ</tspan><tspan x="1027" y="2877.4" font-size="52.8">1</tspan><tspan x="1073.5" y="2847.9">(in degrees)</tspan></text>
<g transform="translate(95.3 2388.15) rotate(-90)"><text font-size="66.0" fill="#262626"><tspan x="-217" y="0" font-family="'Liberation Serif', serif" font-style="italic" font-size="66">θ</tspan><tspan x="-179" y="30" font-size="52.8">2</tspan><tspan x="-133" y="0">(in degrees)</tspan></text></g>
<rect x="2236" y="2093.2" width="80" height="590.3" fill="url(#pg)"/>
<text x="2337.2" y="2702.3" font-size="54.0" fill="#262626">0</text>
<path d="M2316 2565.44h-9" stroke="#262626" stroke-width="3.5"/>
<text x="2337.2" y="2584.42" font-size="54.0" fill="#262626">0.2</text>
<path d="M2316 2447.38h-9" stroke="#262626" stroke-width="3.5"/>
<text x="2337.2" y="2466.54" font-size="54.0" fill="#262626">0.4</text>
<path d="M2316 2329.32h-9" stroke="#262626" stroke-width="3.5"/>
<text x="2337.2" y="2348.66" font-size="54.0" fill="#262626">0.6</text>
<path d="M2316 2211.26h-9" stroke="#262626" stroke-width="3.5"/>
<text x="2337.2" y="2230.78" font-size="54.0" fill="#262626">0.8</text>
<text x="2337.2" y="2112.9" font-size="54.0" fill="#262626">1</text>
<rect x="2236" y="2093.2" width="80" height="590.3" fill="none" stroke="#262626" stroke-width="3.5"/>
<text font-weight="bold" fill="#000" font-size="66.0"><tspan x="370.7" y="2015.8" font-size="66">Plot of Energy Ratio (After/Before), v</tspan><tspan x="1520.32" y="2046.6" font-size="52.8">C</tspan><tspan x="1562.04" y="2075.5" font-size="42.2">x</tspan><tspan x="1602.8" y="2015.8" font-size="66">= 0.4,</tspan><tspan x="1834.2" y="2046.6" font-size="52.8">k</tspan><tspan x="1887.1" y="2015.8" font-size="66">= 0.4</tspan></text><text transform="translate(1795.3 2015.8) scale(1.14 0.95)" style="font-family:'Liberation Serif',serif" font-weight="bold" font-style="italic" font-size="66" fill="#000">μ</text>
</svg></body></html>
